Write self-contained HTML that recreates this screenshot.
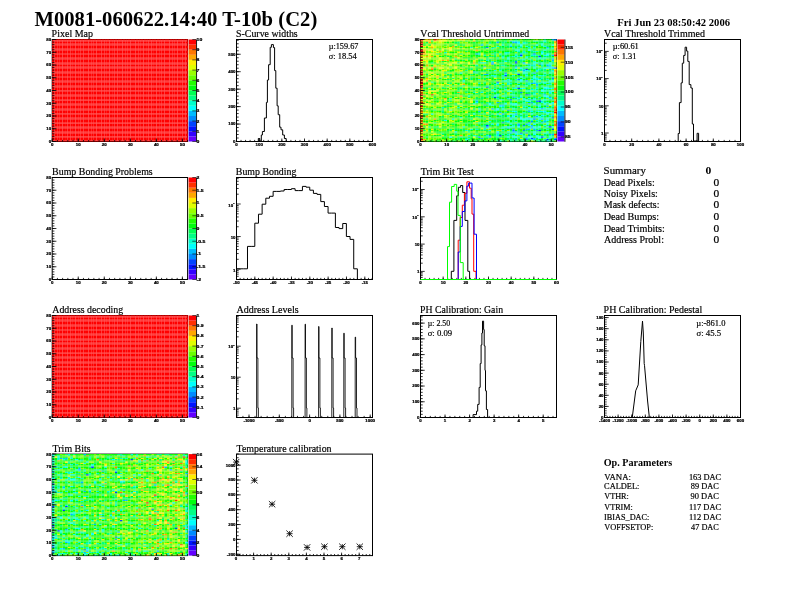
<!DOCTYPE html>
<html><head><meta charset="utf-8"><style>
html,body{margin:0;padding:0;background:#fff;width:792px;height:612px;overflow:hidden}
svg{position:absolute;left:0;top:0;will-change:transform;font-family:"Liberation Serif",serif}
</style></head><body>
<svg width="792" height="612" viewBox="0 0 792 612">
<text x="34.42" y="25.6" font-size="20.6" font-weight="bold" textLength="282.88" lengthAdjust="spacingAndGlyphs">M0081-060622.14:40 T-10b (C2)</text>
<text x="617.25" y="25.9" font-size="10.5" font-weight="bold" textLength="112.76" lengthAdjust="spacingAndGlyphs">Fri Jun 23 08:50:42 2006</text>
<rect x="52.2" y="39.5" width="135.4" height="102" fill="none" stroke="#000" stroke-width="1"/>
<text x="51.61" y="36.7" font-size="9.6" textLength="41.4" lengthAdjust="spacingAndGlyphs" stroke="#000" stroke-width="0.18">Pixel Map</text>
<rect x="236.5" y="39.5" width="136" height="102" fill="none" stroke="#000" stroke-width="1"/>
<text x="236.11" y="36.7" font-size="9.6" textLength="61.59" lengthAdjust="spacingAndGlyphs" stroke="#000" stroke-width="0.18">S-Curve widths</text>
<rect x="420.5" y="39.5" width="136" height="102" fill="none" stroke="#000" stroke-width="1"/>
<text x="420.3" y="36.7" font-size="9.6" textLength="108.95" lengthAdjust="spacingAndGlyphs" stroke="#000" stroke-width="0.18">Vcal Threshold Untrimmed</text>
<rect x="604.5" y="39.5" width="136" height="102" fill="none" stroke="#000" stroke-width="1"/>
<text x="604.01" y="36.7" font-size="9.6" textLength="100.89" lengthAdjust="spacingAndGlyphs" stroke="#000" stroke-width="0.18">Vcal Threshold Trimmed</text>
<rect x="52.2" y="177.5" width="135.4" height="102" fill="none" stroke="#000" stroke-width="1"/>
<text x="52.13" y="174.7" font-size="9.6" textLength="100.57" lengthAdjust="spacingAndGlyphs" stroke="#000" stroke-width="0.18">Bump Bonding Problems</text>
<rect x="236.5" y="177.5" width="136" height="102" fill="none" stroke="#000" stroke-width="1"/>
<text x="235.87" y="174.7" font-size="9.6" textLength="60.51" lengthAdjust="spacingAndGlyphs" stroke="#000" stroke-width="0.18">Bump Bonding</text>
<rect x="420.5" y="177.5" width="136" height="102" fill="none" stroke="#000" stroke-width="1"/>
<text x="420.65" y="174.7" font-size="9.6" textLength="53.02" lengthAdjust="spacingAndGlyphs" stroke="#000" stroke-width="0.18">Trim Bit Test</text>
<rect x="52.2" y="315.5" width="135.4" height="102" fill="none" stroke="#000" stroke-width="1"/>
<text x="52.29" y="312.7" font-size="9.6" textLength="70.89" lengthAdjust="spacingAndGlyphs" stroke="#000" stroke-width="0.18">Address decoding</text>
<rect x="236.5" y="315.5" width="136" height="102" fill="none" stroke="#000" stroke-width="1"/>
<text x="236.47" y="312.7" font-size="9.6" textLength="62.15" lengthAdjust="spacingAndGlyphs" stroke="#000" stroke-width="0.18">Address Levels</text>
<rect x="420.5" y="315.5" width="136" height="102" fill="none" stroke="#000" stroke-width="1"/>
<text x="420.12" y="312.7" font-size="9.6" textLength="82.94" lengthAdjust="spacingAndGlyphs" stroke="#000" stroke-width="0.18">PH Calibration: Gain</text>
<rect x="604.5" y="315.5" width="136" height="102" fill="none" stroke="#000" stroke-width="1"/>
<text x="603.61" y="312.7" font-size="9.6" textLength="98.59" lengthAdjust="spacingAndGlyphs" stroke="#000" stroke-width="0.18">PH Calibration: Pedestal</text>
<rect x="52.2" y="454.1" width="135.4" height="101.5" fill="none" stroke="#000" stroke-width="1"/>
<text x="52.61" y="451.5" font-size="9.6" textLength="37.96" lengthAdjust="spacingAndGlyphs" stroke="#000" stroke-width="0.18">Trim Bits</text>
<rect x="236.5" y="454.1" width="136" height="101.5" fill="none" stroke="#000" stroke-width="1"/>
<text x="236.53" y="451.5" font-size="9.6" textLength="95.07" lengthAdjust="spacingAndGlyphs" stroke="#000" stroke-width="0.18">Temperature calibration</text>
<g transform="translate(52 39.3) scale(2.61346 1.27750)"><path fill="#ff0000" d="M0 1h1v1h-1zM2 1h1v1h-1zM4 1h1v1h-1zM6 1h1v1h-1zM8 1h1v1h-1zM10 1h1v1h-1zM12 1h1v1h-1zM14 1h1v1h-1zM16 1h1v1h-1zM18 1h1v1h-1zM20 1h1v1h-1zM22 1h1v1h-1zM24 1h1v1h-1zM26 1h1v1h-1zM28 1h1v1h-1zM30 1h1v1h-1zM32 1h1v1h-1zM34 1h1v1h-1zM36 1h1v1h-1zM38 1h1v1h-1zM40 1h1v1h-1zM42 1h1v1h-1zM44 1h1v1h-1zM46 1h1v1h-1zM48 1h1v1h-1zM50 1h1v1h-1zM0 3h1v1h-1zM2 3h1v1h-1zM4 3h1v1h-1zM6 3h1v1h-1zM8 3h1v1h-1zM10 3h1v1h-1zM12 3h1v1h-1zM14 3h1v1h-1zM16 3h1v1h-1zM18 3h1v1h-1zM20 3h1v1h-1zM22 3h1v1h-1zM24 3h1v1h-1zM26 3h1v1h-1zM28 3h1v1h-1zM30 3h1v1h-1zM32 3h1v1h-1zM34 3h1v1h-1zM36 3h1v1h-1zM38 3h1v1h-1zM40 3h1v1h-1zM42 3h1v1h-1zM44 3h1v1h-1zM46 3h1v1h-1zM48 3h1v1h-1zM50 3h1v1h-1zM0 5h1v1h-1zM2 5h1v1h-1zM4 5h1v1h-1zM6 5h1v1h-1zM8 5h1v1h-1zM10 5h1v1h-1zM12 5h1v1h-1zM14 5h1v1h-1zM16 5h1v1h-1zM18 5h1v1h-1zM20 5h1v1h-1zM22 5h1v1h-1zM24 5h1v1h-1zM26 5h1v1h-1zM28 5h1v1h-1zM30 5h1v1h-1zM32 5h1v1h-1zM34 5h1v1h-1zM36 5h1v1h-1zM38 5h1v1h-1zM40 5h1v1h-1zM42 5h1v1h-1zM44 5h1v1h-1zM46 5h1v1h-1zM48 5h1v1h-1zM50 5h1v1h-1zM0 7h1v1h-1zM2 7h1v1h-1zM4 7h1v1h-1zM6 7h1v1h-1zM8 7h1v1h-1zM10 7h1v1h-1zM12 7h1v1h-1zM14 7h1v1h-1zM16 7h1v1h-1zM18 7h1v1h-1zM20 7h1v1h-1zM22 7h1v1h-1zM24 7h1v1h-1zM26 7h1v1h-1zM28 7h1v1h-1zM30 7h1v1h-1zM32 7h1v1h-1zM34 7h1v1h-1zM36 7h1v1h-1zM38 7h1v1h-1zM40 7h1v1h-1zM42 7h1v1h-1zM44 7h1v1h-1zM46 7h1v1h-1zM48 7h1v1h-1zM50 7h1v1h-1zM0 9h1v1h-1zM2 9h1v1h-1zM4 9h1v1h-1zM6 9h1v1h-1zM8 9h1v1h-1zM10 9h1v1h-1zM12 9h1v1h-1zM14 9h1v1h-1zM16 9h1v1h-1zM18 9h1v1h-1zM20 9h1v1h-1zM22 9h1v1h-1zM24 9h1v1h-1zM26 9h1v1h-1zM28 9h1v1h-1zM30 9h1v1h-1zM32 9h1v1h-1zM34 9h1v1h-1zM36 9h1v1h-1zM38 9h1v1h-1zM40 9h1v1h-1zM42 9h1v1h-1zM44 9h1v1h-1zM46 9h1v1h-1zM48 9h1v1h-1zM50 9h1v1h-1zM0 11h1v1h-1zM2 11h1v1h-1zM4 11h1v1h-1zM6 11h1v1h-1zM8 11h1v1h-1zM10 11h1v1h-1zM12 11h1v1h-1zM14 11h1v1h-1zM16 11h1v1h-1zM18 11h1v1h-1zM20 11h1v1h-1zM22 11h1v1h-1zM24 11h1v1h-1zM26 11h1v1h-1zM28 11h1v1h-1zM30 11h1v1h-1zM32 11h1v1h-1zM34 11h1v1h-1zM36 11h1v1h-1zM38 11h1v1h-1zM40 11h1v1h-1zM42 11h1v1h-1zM44 11h1v1h-1zM46 11h1v1h-1zM48 11h1v1h-1zM50 11h1v1h-1zM0 13h1v1h-1zM2 13h1v1h-1zM4 13h1v1h-1zM6 13h1v1h-1zM8 13h1v1h-1zM10 13h1v1h-1zM12 13h1v1h-1zM14 13h1v1h-1zM16 13h1v1h-1zM18 13h1v1h-1zM20 13h1v1h-1zM22 13h1v1h-1zM24 13h1v1h-1zM26 13h1v1h-1zM28 13h1v1h-1zM30 13h1v1h-1zM32 13h1v1h-1zM34 13h1v1h-1zM36 13h1v1h-1zM38 13h1v1h-1zM40 13h1v1h-1zM42 13h1v1h-1zM44 13h1v1h-1zM46 13h1v1h-1zM48 13h1v1h-1zM50 13h1v1h-1zM0 15h1v1h-1zM2 15h1v1h-1zM4 15h1v1h-1zM6 15h1v1h-1zM8 15h1v1h-1zM10 15h1v1h-1zM12 15h1v1h-1zM14 15h1v1h-1zM16 15h1v1h-1zM18 15h1v1h-1zM20 15h1v1h-1zM22 15h1v1h-1zM24 15h1v1h-1zM26 15h1v1h-1zM28 15h1v1h-1zM30 15h1v1h-1zM32 15h1v1h-1zM34 15h1v1h-1zM36 15h1v1h-1zM38 15h1v1h-1zM40 15h1v1h-1zM42 15h1v1h-1zM44 15h1v1h-1zM46 15h1v1h-1zM48 15h1v1h-1zM50 15h1v1h-1zM0 17h1v1h-1zM2 17h1v1h-1zM4 17h1v1h-1zM6 17h1v1h-1zM8 17h1v1h-1zM10 17h1v1h-1zM12 17h1v1h-1zM14 17h1v1h-1zM16 17h1v1h-1zM18 17h1v1h-1zM20 17h1v1h-1zM22 17h1v1h-1zM24 17h1v1h-1zM26 17h1v1h-1zM28 17h1v1h-1zM30 17h1v1h-1zM32 17h1v1h-1zM34 17h1v1h-1zM36 17h1v1h-1zM38 17h1v1h-1zM40 17h1v1h-1zM42 17h1v1h-1zM44 17h1v1h-1zM46 17h1v1h-1zM48 17h1v1h-1zM50 17h1v1h-1zM0 19h1v1h-1zM2 19h1v1h-1zM4 19h1v1h-1zM6 19h1v1h-1zM8 19h1v1h-1zM10 19h1v1h-1zM12 19h1v1h-1zM14 19h1v1h-1zM16 19h1v1h-1zM18 19h1v1h-1zM20 19h1v1h-1zM22 19h1v1h-1zM24 19h1v1h-1zM26 19h1v1h-1zM28 19h1v1h-1zM30 19h1v1h-1zM32 19h1v1h-1zM34 19h1v1h-1zM36 19h1v1h-1zM38 19h1v1h-1zM40 19h1v1h-1zM42 19h1v1h-1zM44 19h1v1h-1zM46 19h1v1h-1zM48 19h1v1h-1zM50 19h1v1h-1zM0 21h1v1h-1zM2 21h1v1h-1zM4 21h1v1h-1zM6 21h1v1h-1zM8 21h1v1h-1zM10 21h1v1h-1zM12 21h1v1h-1zM14 21h1v1h-1zM16 21h1v1h-1zM18 21h1v1h-1zM20 21h1v1h-1zM22 21h1v1h-1zM24 21h1v1h-1zM26 21h1v1h-1zM28 21h1v1h-1zM30 21h1v1h-1zM32 21h1v1h-1zM34 21h1v1h-1zM36 21h1v1h-1zM38 21h1v1h-1zM40 21h1v1h-1zM42 21h1v1h-1zM44 21h1v1h-1zM46 21h1v1h-1zM48 21h1v1h-1zM50 21h1v1h-1zM0 23h1v1h-1zM2 23h1v1h-1zM4 23h1v1h-1zM6 23h1v1h-1zM8 23h1v1h-1zM10 23h1v1h-1zM12 23h1v1h-1zM14 23h1v1h-1zM16 23h1v1h-1zM18 23h1v1h-1zM20 23h1v1h-1zM22 23h1v1h-1zM24 23h1v1h-1zM26 23h1v1h-1zM28 23h1v1h-1zM30 23h1v1h-1zM32 23h1v1h-1zM34 23h1v1h-1zM36 23h1v1h-1zM38 23h1v1h-1zM40 23h1v1h-1zM42 23h1v1h-1zM44 23h1v1h-1zM46 23h1v1h-1zM48 23h1v1h-1zM50 23h1v1h-1zM0 25h1v1h-1zM2 25h1v1h-1zM4 25h1v1h-1zM6 25h1v1h-1zM8 25h1v1h-1zM10 25h1v1h-1zM12 25h1v1h-1zM14 25h1v1h-1zM16 25h1v1h-1zM18 25h1v1h-1zM20 25h1v1h-1zM22 25h1v1h-1zM24 25h1v1h-1zM26 25h1v1h-1zM28 25h1v1h-1zM30 25h1v1h-1zM32 25h1v1h-1zM34 25h1v1h-1zM36 25h1v1h-1zM38 25h1v1h-1zM40 25h1v1h-1zM42 25h1v1h-1zM44 25h1v1h-1zM46 25h1v1h-1zM48 25h1v1h-1zM50 25h1v1h-1zM0 27h1v1h-1zM2 27h1v1h-1zM4 27h1v1h-1zM6 27h1v1h-1zM8 27h1v1h-1zM10 27h1v1h-1zM12 27h1v1h-1zM14 27h1v1h-1zM16 27h1v1h-1zM18 27h1v1h-1zM20 27h1v1h-1zM22 27h1v1h-1zM24 27h1v1h-1zM26 27h1v1h-1zM28 27h1v1h-1zM30 27h1v1h-1zM32 27h1v1h-1zM34 27h1v1h-1zM36 27h1v1h-1zM38 27h1v1h-1zM40 27h1v1h-1zM42 27h1v1h-1zM44 27h1v1h-1zM46 27h1v1h-1zM48 27h1v1h-1zM50 27h1v1h-1zM0 29h1v1h-1zM2 29h1v1h-1zM4 29h1v1h-1zM6 29h1v1h-1zM8 29h1v1h-1zM10 29h1v1h-1zM12 29h1v1h-1zM14 29h1v1h-1zM16 29h1v1h-1zM18 29h1v1h-1zM20 29h1v1h-1zM22 29h1v1h-1zM24 29h1v1h-1zM26 29h1v1h-1zM28 29h1v1h-1zM30 29h1v1h-1zM32 29h1v1h-1zM34 29h1v1h-1zM36 29h1v1h-1zM38 29h1v1h-1zM40 29h1v1h-1zM42 29h1v1h-1zM44 29h1v1h-1zM46 29h1v1h-1zM48 29h1v1h-1zM50 29h1v1h-1zM0 31h1v1h-1zM2 31h1v1h-1zM4 31h1v1h-1zM6 31h1v1h-1zM8 31h1v1h-1zM10 31h1v1h-1zM12 31h1v1h-1zM14 31h1v1h-1zM16 31h1v1h-1zM18 31h1v1h-1zM20 31h1v1h-1zM22 31h1v1h-1zM24 31h1v1h-1zM26 31h1v1h-1zM28 31h1v1h-1zM30 31h1v1h-1zM32 31h1v1h-1zM34 31h1v1h-1zM36 31h1v1h-1zM38 31h1v1h-1zM40 31h1v1h-1zM42 31h1v1h-1zM44 31h1v1h-1zM46 31h1v1h-1zM48 31h1v1h-1zM50 31h1v1h-1zM0 33h1v1h-1zM2 33h1v1h-1zM4 33h1v1h-1zM6 33h1v1h-1zM8 33h1v1h-1zM10 33h1v1h-1zM12 33h1v1h-1zM14 33h1v1h-1zM16 33h1v1h-1zM18 33h1v1h-1zM20 33h1v1h-1zM22 33h1v1h-1zM24 33h1v1h-1zM26 33h1v1h-1zM28 33h1v1h-1zM30 33h1v1h-1zM32 33h1v1h-1zM34 33h1v1h-1zM36 33h1v1h-1zM38 33h1v1h-1zM40 33h1v1h-1zM42 33h1v1h-1zM44 33h1v1h-1zM46 33h1v1h-1zM48 33h1v1h-1zM50 33h1v1h-1zM0 35h1v1h-1zM2 35h1v1h-1zM4 35h1v1h-1zM6 35h1v1h-1zM8 35h1v1h-1zM10 35h1v1h-1zM12 35h1v1h-1zM14 35h1v1h-1zM16 35h1v1h-1zM18 35h1v1h-1zM20 35h1v1h-1zM22 35h1v1h-1zM24 35h1v1h-1zM26 35h1v1h-1zM28 35h1v1h-1zM30 35h1v1h-1zM32 35h1v1h-1zM34 35h1v1h-1zM36 35h1v1h-1zM38 35h1v1h-1zM40 35h1v1h-1zM42 35h1v1h-1zM44 35h1v1h-1zM46 35h1v1h-1zM48 35h1v1h-1zM50 35h1v1h-1zM0 37h1v1h-1zM2 37h1v1h-1zM4 37h1v1h-1zM6 37h1v1h-1zM8 37h1v1h-1zM10 37h1v1h-1zM12 37h1v1h-1zM14 37h1v1h-1zM16 37h1v1h-1zM18 37h1v1h-1zM20 37h1v1h-1zM22 37h1v1h-1zM24 37h1v1h-1zM26 37h1v1h-1zM28 37h1v1h-1zM30 37h1v1h-1zM32 37h1v1h-1zM34 37h1v1h-1zM36 37h1v1h-1zM38 37h1v1h-1zM40 37h1v1h-1zM42 37h1v1h-1zM44 37h1v1h-1zM46 37h1v1h-1zM48 37h1v1h-1zM50 37h1v1h-1zM0 39h1v1h-1zM2 39h1v1h-1zM4 39h1v1h-1zM6 39h1v1h-1zM8 39h1v1h-1zM10 39h1v1h-1zM12 39h1v1h-1zM14 39h1v1h-1zM16 39h1v1h-1zM18 39h1v1h-1zM20 39h1v1h-1zM22 39h1v1h-1zM24 39h1v1h-1zM26 39h1v1h-1zM28 39h1v1h-1zM30 39h1v1h-1zM32 39h1v1h-1zM34 39h1v1h-1zM36 39h1v1h-1zM38 39h1v1h-1zM40 39h1v1h-1zM42 39h1v1h-1zM44 39h1v1h-1zM46 39h1v1h-1zM48 39h1v1h-1zM50 39h1v1h-1zM0 41h1v1h-1zM2 41h1v1h-1zM4 41h1v1h-1zM6 41h1v1h-1zM8 41h1v1h-1zM10 41h1v1h-1zM12 41h1v1h-1zM14 41h1v1h-1zM16 41h1v1h-1zM18 41h1v1h-1zM20 41h1v1h-1zM22 41h1v1h-1zM24 41h1v1h-1zM26 41h1v1h-1zM28 41h1v1h-1zM30 41h1v1h-1zM32 41h1v1h-1zM34 41h1v1h-1zM36 41h1v1h-1zM38 41h1v1h-1zM40 41h1v1h-1zM42 41h1v1h-1zM44 41h1v1h-1zM46 41h1v1h-1zM48 41h1v1h-1zM50 41h1v1h-1zM0 43h1v1h-1zM2 43h1v1h-1zM4 43h1v1h-1zM6 43h1v1h-1zM8 43h1v1h-1zM10 43h1v1h-1zM12 43h1v1h-1zM14 43h1v1h-1zM16 43h1v1h-1zM18 43h1v1h-1zM20 43h1v1h-1zM22 43h1v1h-1zM24 43h1v1h-1zM26 43h1v1h-1zM28 43h1v1h-1zM30 43h1v1h-1zM32 43h1v1h-1zM34 43h1v1h-1zM36 43h1v1h-1zM38 43h1v1h-1zM40 43h1v1h-1zM42 43h1v1h-1zM44 43h1v1h-1zM46 43h1v1h-1zM48 43h1v1h-1zM50 43h1v1h-1zM0 45h1v1h-1zM2 45h1v1h-1zM4 45h1v1h-1zM6 45h1v1h-1zM8 45h1v1h-1zM10 45h1v1h-1zM12 45h1v1h-1zM14 45h1v1h-1zM16 45h1v1h-1zM18 45h1v1h-1zM20 45h1v1h-1zM22 45h1v1h-1zM24 45h1v1h-1zM26 45h1v1h-1zM28 45h1v1h-1zM30 45h1v1h-1zM32 45h1v1h-1zM34 45h1v1h-1zM36 45h1v1h-1zM38 45h1v1h-1zM40 45h1v1h-1zM42 45h1v1h-1zM44 45h1v1h-1zM46 45h1v1h-1zM48 45h1v1h-1zM50 45h1v1h-1zM0 47h1v1h-1zM2 47h1v1h-1zM4 47h1v1h-1zM6 47h1v1h-1zM8 47h1v1h-1zM10 47h1v1h-1zM12 47h1v1h-1zM14 47h1v1h-1zM16 47h1v1h-1zM18 47h1v1h-1zM20 47h1v1h-1zM22 47h1v1h-1zM24 47h1v1h-1zM26 47h1v1h-1zM28 47h1v1h-1zM30 47h1v1h-1zM32 47h1v1h-1zM34 47h1v1h-1zM36 47h1v1h-1zM38 47h1v1h-1zM40 47h1v1h-1zM42 47h1v1h-1zM44 47h1v1h-1zM46 47h1v1h-1zM48 47h1v1h-1zM50 47h1v1h-1zM0 49h1v1h-1zM2 49h1v1h-1zM4 49h1v1h-1zM6 49h1v1h-1zM8 49h1v1h-1zM10 49h1v1h-1zM12 49h1v1h-1zM14 49h1v1h-1zM16 49h1v1h-1zM18 49h1v1h-1zM20 49h1v1h-1zM22 49h1v1h-1zM24 49h1v1h-1zM26 49h1v1h-1zM28 49h1v1h-1zM30 49h1v1h-1zM32 49h1v1h-1zM34 49h1v1h-1zM36 49h1v1h-1zM38 49h1v1h-1zM40 49h1v1h-1zM42 49h1v1h-1zM44 49h1v1h-1zM46 49h1v1h-1zM48 49h1v1h-1zM50 49h1v1h-1zM0 51h1v1h-1zM2 51h1v1h-1zM4 51h1v1h-1zM6 51h1v1h-1zM8 51h1v1h-1zM10 51h1v1h-1zM12 51h1v1h-1zM14 51h1v1h-1zM16 51h1v1h-1zM18 51h1v1h-1zM20 51h1v1h-1zM22 51h1v1h-1zM24 51h1v1h-1zM26 51h1v1h-1zM28 51h1v1h-1zM30 51h1v1h-1zM32 51h1v1h-1zM34 51h1v1h-1zM36 51h1v1h-1zM38 51h1v1h-1zM40 51h1v1h-1zM42 51h1v1h-1zM44 51h1v1h-1zM46 51h1v1h-1zM48 51h1v1h-1zM50 51h1v1h-1zM0 53h1v1h-1zM2 53h1v1h-1zM4 53h1v1h-1zM6 53h1v1h-1zM8 53h1v1h-1zM10 53h1v1h-1zM12 53h1v1h-1zM14 53h1v1h-1zM16 53h1v1h-1zM18 53h1v1h-1zM20 53h1v1h-1zM22 53h1v1h-1zM24 53h1v1h-1zM26 53h1v1h-1zM28 53h1v1h-1zM30 53h1v1h-1zM32 53h1v1h-1zM34 53h1v1h-1zM36 53h1v1h-1zM38 53h1v1h-1zM40 53h1v1h-1zM42 53h1v1h-1zM44 53h1v1h-1zM46 53h1v1h-1zM48 53h1v1h-1zM50 53h1v1h-1zM0 55h1v1h-1zM2 55h1v1h-1zM4 55h1v1h-1zM6 55h1v1h-1zM8 55h1v1h-1zM10 55h1v1h-1zM12 55h1v1h-1zM14 55h1v1h-1zM16 55h1v1h-1zM18 55h1v1h-1zM20 55h1v1h-1zM22 55h1v1h-1zM24 55h1v1h-1zM26 55h1v1h-1zM28 55h1v1h-1zM30 55h1v1h-1zM32 55h1v1h-1zM34 55h1v1h-1zM36 55h1v1h-1zM38 55h1v1h-1zM40 55h1v1h-1zM42 55h1v1h-1zM44 55h1v1h-1zM46 55h1v1h-1zM48 55h1v1h-1zM50 55h1v1h-1zM0 57h1v1h-1zM2 57h1v1h-1zM4 57h1v1h-1zM6 57h1v1h-1zM8 57h1v1h-1zM10 57h1v1h-1zM12 57h1v1h-1zM14 57h1v1h-1zM16 57h1v1h-1zM18 57h1v1h-1zM20 57h1v1h-1zM22 57h1v1h-1zM24 57h1v1h-1zM26 57h1v1h-1zM28 57h1v1h-1zM30 57h1v1h-1zM32 57h1v1h-1zM34 57h1v1h-1zM36 57h1v1h-1zM38 57h1v1h-1zM40 57h1v1h-1zM42 57h1v1h-1zM44 57h1v1h-1zM46 57h1v1h-1zM48 57h1v1h-1zM50 57h1v1h-1zM0 59h1v1h-1zM2 59h1v1h-1zM4 59h1v1h-1zM6 59h1v1h-1zM8 59h1v1h-1zM10 59h1v1h-1zM12 59h1v1h-1zM14 59h1v1h-1zM16 59h1v1h-1zM18 59h1v1h-1zM20 59h1v1h-1zM22 59h1v1h-1zM24 59h1v1h-1zM26 59h1v1h-1zM28 59h1v1h-1zM30 59h1v1h-1zM32 59h1v1h-1zM34 59h1v1h-1zM36 59h1v1h-1zM38 59h1v1h-1zM40 59h1v1h-1zM42 59h1v1h-1zM44 59h1v1h-1zM46 59h1v1h-1zM48 59h1v1h-1zM50 59h1v1h-1zM0 61h1v1h-1zM2 61h1v1h-1zM4 61h1v1h-1zM6 61h1v1h-1zM8 61h1v1h-1zM10 61h1v1h-1zM12 61h1v1h-1zM14 61h1v1h-1zM16 61h1v1h-1zM18 61h1v1h-1zM20 61h1v1h-1zM22 61h1v1h-1zM24 61h1v1h-1zM26 61h1v1h-1zM28 61h1v1h-1zM30 61h1v1h-1zM32 61h1v1h-1zM34 61h1v1h-1zM36 61h1v1h-1zM38 61h1v1h-1zM40 61h1v1h-1zM42 61h1v1h-1zM44 61h1v1h-1zM46 61h1v1h-1zM48 61h1v1h-1zM50 61h1v1h-1zM0 63h1v1h-1zM2 63h1v1h-1zM4 63h1v1h-1zM6 63h1v1h-1zM8 63h1v1h-1zM10 63h1v1h-1zM12 63h1v1h-1zM14 63h1v1h-1zM16 63h1v1h-1zM18 63h1v1h-1zM20 63h1v1h-1zM22 63h1v1h-1zM24 63h1v1h-1zM26 63h1v1h-1zM28 63h1v1h-1zM30 63h1v1h-1zM32 63h1v1h-1zM34 63h1v1h-1zM36 63h1v1h-1zM38 63h1v1h-1zM40 63h1v1h-1zM42 63h1v1h-1zM44 63h1v1h-1zM46 63h1v1h-1zM48 63h1v1h-1zM50 63h1v1h-1zM0 65h1v1h-1zM2 65h1v1h-1zM4 65h1v1h-1zM6 65h1v1h-1zM8 65h1v1h-1zM10 65h1v1h-1zM12 65h1v1h-1zM14 65h1v1h-1zM16 65h1v1h-1zM18 65h1v1h-1zM20 65h1v1h-1zM22 65h1v1h-1zM24 65h1v1h-1zM26 65h1v1h-1zM28 65h1v1h-1zM30 65h1v1h-1zM32 65h1v1h-1zM34 65h1v1h-1zM36 65h1v1h-1zM38 65h1v1h-1zM40 65h1v1h-1zM42 65h1v1h-1zM44 65h1v1h-1zM46 65h1v1h-1zM48 65h1v1h-1zM50 65h1v1h-1zM0 67h1v1h-1zM2 67h1v1h-1zM4 67h1v1h-1zM6 67h1v1h-1zM8 67h1v1h-1zM10 67h1v1h-1zM12 67h1v1h-1zM14 67h1v1h-1zM16 67h1v1h-1zM18 67h1v1h-1zM20 67h1v1h-1zM22 67h1v1h-1zM24 67h1v1h-1zM26 67h1v1h-1zM28 67h1v1h-1zM30 67h1v1h-1zM32 67h1v1h-1zM34 67h1v1h-1zM36 67h1v1h-1zM38 67h1v1h-1zM40 67h1v1h-1zM42 67h1v1h-1zM44 67h1v1h-1zM46 67h1v1h-1zM48 67h1v1h-1zM50 67h1v1h-1zM0 69h1v1h-1zM2 69h1v1h-1zM4 69h1v1h-1zM6 69h1v1h-1zM8 69h1v1h-1zM10 69h1v1h-1zM12 69h1v1h-1zM14 69h1v1h-1zM16 69h1v1h-1zM18 69h1v1h-1zM20 69h1v1h-1zM22 69h1v1h-1zM24 69h1v1h-1zM26 69h1v1h-1zM28 69h1v1h-1zM30 69h1v1h-1zM32 69h1v1h-1zM34 69h1v1h-1zM36 69h1v1h-1zM38 69h1v1h-1zM40 69h1v1h-1zM42 69h1v1h-1zM44 69h1v1h-1zM46 69h1v1h-1zM48 69h1v1h-1zM50 69h1v1h-1zM0 71h1v1h-1zM2 71h1v1h-1zM4 71h1v1h-1zM6 71h1v1h-1zM8 71h1v1h-1zM10 71h1v1h-1zM12 71h1v1h-1zM14 71h1v1h-1zM16 71h1v1h-1zM18 71h1v1h-1zM20 71h1v1h-1zM22 71h1v1h-1zM24 71h1v1h-1zM26 71h1v1h-1zM28 71h1v1h-1zM30 71h1v1h-1zM32 71h1v1h-1zM34 71h1v1h-1zM36 71h1v1h-1zM38 71h1v1h-1zM40 71h1v1h-1zM42 71h1v1h-1zM44 71h1v1h-1zM46 71h1v1h-1zM48 71h1v1h-1zM50 71h1v1h-1zM0 73h1v1h-1zM2 73h1v1h-1zM4 73h1v1h-1zM6 73h1v1h-1zM8 73h1v1h-1zM10 73h1v1h-1zM12 73h1v1h-1zM14 73h1v1h-1zM16 73h1v1h-1zM18 73h1v1h-1zM20 73h1v1h-1zM22 73h1v1h-1zM24 73h1v1h-1zM26 73h1v1h-1zM28 73h1v1h-1zM30 73h1v1h-1zM32 73h1v1h-1zM34 73h1v1h-1zM36 73h1v1h-1zM38 73h1v1h-1zM40 73h1v1h-1zM42 73h1v1h-1zM44 73h1v1h-1zM46 73h1v1h-1zM48 73h1v1h-1zM50 73h1v1h-1zM0 75h1v1h-1zM2 75h1v1h-1zM4 75h1v1h-1zM6 75h1v1h-1zM8 75h1v1h-1zM10 75h1v1h-1zM12 75h1v1h-1zM14 75h1v1h-1zM16 75h1v1h-1zM18 75h1v1h-1zM20 75h1v1h-1zM22 75h1v1h-1zM24 75h1v1h-1zM26 75h1v1h-1zM28 75h1v1h-1zM30 75h1v1h-1zM32 75h1v1h-1zM34 75h1v1h-1zM36 75h1v1h-1zM38 75h1v1h-1zM40 75h1v1h-1zM42 75h1v1h-1zM44 75h1v1h-1zM46 75h1v1h-1zM48 75h1v1h-1zM50 75h1v1h-1zM0 77h1v1h-1zM2 77h1v1h-1zM4 77h1v1h-1zM6 77h1v1h-1zM8 77h1v1h-1zM10 77h1v1h-1zM12 77h1v1h-1zM14 77h1v1h-1zM16 77h1v1h-1zM18 77h1v1h-1zM20 77h1v1h-1zM22 77h1v1h-1zM24 77h1v1h-1zM26 77h1v1h-1zM28 77h1v1h-1zM30 77h1v1h-1zM32 77h1v1h-1zM34 77h1v1h-1zM36 77h1v1h-1zM38 77h1v1h-1zM40 77h1v1h-1zM42 77h1v1h-1zM44 77h1v1h-1zM46 77h1v1h-1zM48 77h1v1h-1zM50 77h1v1h-1zM0 79h1v1h-1zM2 79h1v1h-1zM4 79h1v1h-1zM6 79h1v1h-1zM8 79h1v1h-1zM10 79h1v1h-1zM12 79h1v1h-1zM14 79h1v1h-1zM16 79h1v1h-1zM18 79h1v1h-1zM20 79h1v1h-1zM22 79h1v1h-1zM24 79h1v1h-1zM26 79h1v1h-1zM28 79h1v1h-1zM30 79h1v1h-1zM32 79h1v1h-1zM34 79h1v1h-1zM36 79h1v1h-1zM38 79h1v1h-1zM40 79h1v1h-1zM42 79h1v1h-1zM44 79h1v1h-1zM46 79h1v1h-1zM48 79h1v1h-1zM50 79h1v1h-1z"/><path fill="#ff0000" d="M0 0h1v1h-1zM2 0h1v1h-1zM4 0h1v1h-1zM6 0h1v1h-1zM8 0h1v1h-1zM10 0h1v1h-1zM12 0h1v1h-1zM14 0h1v1h-1zM16 0h1v1h-1zM18 0h1v1h-1zM20 0h1v1h-1zM22 0h1v1h-1zM24 0h1v1h-1zM26 0h1v1h-1zM28 0h1v1h-1zM30 0h1v1h-1zM32 0h1v1h-1zM34 0h1v1h-1zM36 0h1v1h-1zM38 0h1v1h-1zM40 0h1v1h-1zM42 0h1v1h-1zM44 0h1v1h-1zM46 0h1v1h-1zM48 0h1v1h-1zM50 0h1v1h-1zM0 2h1v1h-1zM2 2h1v1h-1zM4 2h1v1h-1zM6 2h1v1h-1zM8 2h1v1h-1zM10 2h1v1h-1zM12 2h1v1h-1zM14 2h1v1h-1zM16 2h1v1h-1zM18 2h1v1h-1zM20 2h1v1h-1zM22 2h1v1h-1zM24 2h1v1h-1zM26 2h1v1h-1zM28 2h1v1h-1zM30 2h1v1h-1zM32 2h1v1h-1zM34 2h1v1h-1zM36 2h1v1h-1zM38 2h1v1h-1zM40 2h1v1h-1zM42 2h1v1h-1zM44 2h1v1h-1zM46 2h1v1h-1zM48 2h1v1h-1zM50 2h1v1h-1zM0 4h1v1h-1zM2 4h1v1h-1zM4 4h1v1h-1zM6 4h1v1h-1zM8 4h1v1h-1zM10 4h1v1h-1zM12 4h1v1h-1zM14 4h1v1h-1zM16 4h1v1h-1zM18 4h1v1h-1zM20 4h1v1h-1zM22 4h1v1h-1zM24 4h1v1h-1zM26 4h1v1h-1zM28 4h1v1h-1zM30 4h1v1h-1zM32 4h1v1h-1zM34 4h1v1h-1zM36 4h1v1h-1zM38 4h1v1h-1zM40 4h1v1h-1zM42 4h1v1h-1zM44 4h1v1h-1zM46 4h1v1h-1zM48 4h1v1h-1zM50 4h1v1h-1zM0 6h1v1h-1zM2 6h1v1h-1zM4 6h1v1h-1zM6 6h1v1h-1zM8 6h1v1h-1zM10 6h1v1h-1zM12 6h1v1h-1zM14 6h1v1h-1zM16 6h1v1h-1zM18 6h1v1h-1zM20 6h1v1h-1zM22 6h1v1h-1zM24 6h1v1h-1zM26 6h1v1h-1zM28 6h1v1h-1zM30 6h1v1h-1zM32 6h1v1h-1zM34 6h1v1h-1zM36 6h1v1h-1zM38 6h1v1h-1zM40 6h1v1h-1zM42 6h1v1h-1zM44 6h1v1h-1zM46 6h1v1h-1zM48 6h1v1h-1zM50 6h1v1h-1zM0 8h1v1h-1zM2 8h1v1h-1zM4 8h1v1h-1zM6 8h1v1h-1zM8 8h1v1h-1zM10 8h1v1h-1zM12 8h1v1h-1zM14 8h1v1h-1zM16 8h1v1h-1zM18 8h1v1h-1zM20 8h1v1h-1zM22 8h1v1h-1zM24 8h1v1h-1zM26 8h1v1h-1zM28 8h1v1h-1zM30 8h1v1h-1zM32 8h1v1h-1zM34 8h1v1h-1zM36 8h1v1h-1zM38 8h1v1h-1zM40 8h1v1h-1zM42 8h1v1h-1zM44 8h1v1h-1zM46 8h1v1h-1zM48 8h1v1h-1zM50 8h1v1h-1zM0 10h1v1h-1zM2 10h1v1h-1zM4 10h1v1h-1zM6 10h1v1h-1zM8 10h1v1h-1zM10 10h1v1h-1zM12 10h1v1h-1zM14 10h1v1h-1zM16 10h1v1h-1zM18 10h1v1h-1zM20 10h1v1h-1zM22 10h1v1h-1zM24 10h1v1h-1zM26 10h1v1h-1zM28 10h1v1h-1zM30 10h1v1h-1zM32 10h1v1h-1zM34 10h1v1h-1zM36 10h1v1h-1zM38 10h1v1h-1zM40 10h1v1h-1zM42 10h1v1h-1zM44 10h1v1h-1zM46 10h1v1h-1zM48 10h1v1h-1zM50 10h1v1h-1zM0 12h1v1h-1zM2 12h1v1h-1zM4 12h1v1h-1zM6 12h1v1h-1zM8 12h1v1h-1zM10 12h1v1h-1zM12 12h1v1h-1zM14 12h1v1h-1zM16 12h1v1h-1zM18 12h1v1h-1zM20 12h1v1h-1zM22 12h1v1h-1zM24 12h1v1h-1zM26 12h1v1h-1zM28 12h1v1h-1zM30 12h1v1h-1zM32 12h1v1h-1zM34 12h1v1h-1zM36 12h1v1h-1zM38 12h1v1h-1zM40 12h1v1h-1zM42 12h1v1h-1zM44 12h1v1h-1zM46 12h1v1h-1zM48 12h1v1h-1zM50 12h1v1h-1zM0 14h1v1h-1zM2 14h1v1h-1zM4 14h1v1h-1zM6 14h1v1h-1zM8 14h1v1h-1zM10 14h1v1h-1zM12 14h1v1h-1zM14 14h1v1h-1zM16 14h1v1h-1zM18 14h1v1h-1zM20 14h1v1h-1zM22 14h1v1h-1zM24 14h1v1h-1zM26 14h1v1h-1zM28 14h1v1h-1zM30 14h1v1h-1zM32 14h1v1h-1zM34 14h1v1h-1zM36 14h1v1h-1zM38 14h1v1h-1zM40 14h1v1h-1zM42 14h1v1h-1zM44 14h1v1h-1zM46 14h1v1h-1zM48 14h1v1h-1zM50 14h1v1h-1zM0 16h1v1h-1zM2 16h1v1h-1zM4 16h1v1h-1zM6 16h1v1h-1zM8 16h1v1h-1zM10 16h1v1h-1zM12 16h1v1h-1zM14 16h1v1h-1zM16 16h1v1h-1zM18 16h1v1h-1zM20 16h1v1h-1zM22 16h1v1h-1zM24 16h1v1h-1zM26 16h1v1h-1zM28 16h1v1h-1zM30 16h1v1h-1zM32 16h1v1h-1zM34 16h1v1h-1zM36 16h1v1h-1zM38 16h1v1h-1zM40 16h1v1h-1zM42 16h1v1h-1zM44 16h1v1h-1zM46 16h1v1h-1zM48 16h1v1h-1zM50 16h1v1h-1zM0 18h1v1h-1zM2 18h1v1h-1zM4 18h1v1h-1zM6 18h1v1h-1zM8 18h1v1h-1zM10 18h1v1h-1zM12 18h1v1h-1zM14 18h1v1h-1zM16 18h1v1h-1zM18 18h1v1h-1zM20 18h1v1h-1zM22 18h1v1h-1zM24 18h1v1h-1zM26 18h1v1h-1zM28 18h1v1h-1zM30 18h1v1h-1zM32 18h1v1h-1zM34 18h1v1h-1zM36 18h1v1h-1zM38 18h1v1h-1zM40 18h1v1h-1zM42 18h1v1h-1zM44 18h1v1h-1zM46 18h1v1h-1zM48 18h1v1h-1zM50 18h1v1h-1zM0 20h1v1h-1zM2 20h1v1h-1zM4 20h1v1h-1zM6 20h1v1h-1zM8 20h1v1h-1zM10 20h1v1h-1zM12 20h1v1h-1zM14 20h1v1h-1zM16 20h1v1h-1zM18 20h1v1h-1zM20 20h1v1h-1zM22 20h1v1h-1zM24 20h1v1h-1zM26 20h1v1h-1zM28 20h1v1h-1zM30 20h1v1h-1zM32 20h1v1h-1zM34 20h1v1h-1zM36 20h1v1h-1zM38 20h1v1h-1zM40 20h1v1h-1zM42 20h1v1h-1zM44 20h1v1h-1zM46 20h1v1h-1zM48 20h1v1h-1zM50 20h1v1h-1zM0 22h1v1h-1zM2 22h1v1h-1zM4 22h1v1h-1zM6 22h1v1h-1zM8 22h1v1h-1zM10 22h1v1h-1zM12 22h1v1h-1zM14 22h1v1h-1zM16 22h1v1h-1zM18 22h1v1h-1zM20 22h1v1h-1zM22 22h1v1h-1zM24 22h1v1h-1zM26 22h1v1h-1zM28 22h1v1h-1zM30 22h1v1h-1zM32 22h1v1h-1zM34 22h1v1h-1zM36 22h1v1h-1zM38 22h1v1h-1zM40 22h1v1h-1zM42 22h1v1h-1zM44 22h1v1h-1zM46 22h1v1h-1zM48 22h1v1h-1zM50 22h1v1h-1zM0 24h1v1h-1zM2 24h1v1h-1zM4 24h1v1h-1zM6 24h1v1h-1zM8 24h1v1h-1zM10 24h1v1h-1zM12 24h1v1h-1zM14 24h1v1h-1zM16 24h1v1h-1zM18 24h1v1h-1zM20 24h1v1h-1zM22 24h1v1h-1zM24 24h1v1h-1zM26 24h1v1h-1zM28 24h1v1h-1zM30 24h1v1h-1zM32 24h1v1h-1zM34 24h1v1h-1zM36 24h1v1h-1zM38 24h1v1h-1zM40 24h1v1h-1zM42 24h1v1h-1zM44 24h1v1h-1zM46 24h1v1h-1zM48 24h1v1h-1zM50 24h1v1h-1zM0 26h1v1h-1zM2 26h1v1h-1zM4 26h1v1h-1zM6 26h1v1h-1zM8 26h1v1h-1zM10 26h1v1h-1zM12 26h1v1h-1zM14 26h1v1h-1zM16 26h1v1h-1zM18 26h1v1h-1zM20 26h1v1h-1zM22 26h1v1h-1zM24 26h1v1h-1zM26 26h1v1h-1zM28 26h1v1h-1zM30 26h1v1h-1zM32 26h1v1h-1zM34 26h1v1h-1zM36 26h1v1h-1zM38 26h1v1h-1zM40 26h1v1h-1zM42 26h1v1h-1zM44 26h1v1h-1zM46 26h1v1h-1zM48 26h1v1h-1zM50 26h1v1h-1zM0 28h1v1h-1zM2 28h1v1h-1zM4 28h1v1h-1zM6 28h1v1h-1zM8 28h1v1h-1zM10 28h1v1h-1zM12 28h1v1h-1zM14 28h1v1h-1zM16 28h1v1h-1zM18 28h1v1h-1zM20 28h1v1h-1zM22 28h1v1h-1zM24 28h1v1h-1zM26 28h1v1h-1zM28 28h1v1h-1zM30 28h1v1h-1zM32 28h1v1h-1zM34 28h1v1h-1zM36 28h1v1h-1zM38 28h1v1h-1zM40 28h1v1h-1zM42 28h1v1h-1zM44 28h1v1h-1zM46 28h1v1h-1zM48 28h1v1h-1zM50 28h1v1h-1zM0 30h1v1h-1zM2 30h1v1h-1zM4 30h1v1h-1zM6 30h1v1h-1zM8 30h1v1h-1zM10 30h1v1h-1zM12 30h1v1h-1zM14 30h1v1h-1zM16 30h1v1h-1zM18 30h1v1h-1zM20 30h1v1h-1zM22 30h1v1h-1zM24 30h1v1h-1zM26 30h1v1h-1zM28 30h1v1h-1zM30 30h1v1h-1zM32 30h1v1h-1zM34 30h1v1h-1zM36 30h1v1h-1zM38 30h1v1h-1zM40 30h1v1h-1zM42 30h1v1h-1zM44 30h1v1h-1zM46 30h1v1h-1zM48 30h1v1h-1zM50 30h1v1h-1zM0 32h1v1h-1zM2 32h1v1h-1zM4 32h1v1h-1zM6 32h1v1h-1zM8 32h1v1h-1zM10 32h1v1h-1zM12 32h1v1h-1zM14 32h1v1h-1zM16 32h1v1h-1zM18 32h1v1h-1zM20 32h1v1h-1zM22 32h1v1h-1zM24 32h1v1h-1zM26 32h1v1h-1zM28 32h1v1h-1zM30 32h1v1h-1zM32 32h1v1h-1zM34 32h1v1h-1zM36 32h1v1h-1zM38 32h1v1h-1zM40 32h1v1h-1zM42 32h1v1h-1zM44 32h1v1h-1zM46 32h1v1h-1zM48 32h1v1h-1zM50 32h1v1h-1zM0 34h1v1h-1zM2 34h1v1h-1zM4 34h1v1h-1zM6 34h1v1h-1zM8 34h1v1h-1zM10 34h1v1h-1zM12 34h1v1h-1zM14 34h1v1h-1zM16 34h1v1h-1zM18 34h1v1h-1zM20 34h1v1h-1zM22 34h1v1h-1zM24 34h1v1h-1zM26 34h1v1h-1zM28 34h1v1h-1zM30 34h1v1h-1zM32 34h1v1h-1zM34 34h1v1h-1zM36 34h1v1h-1zM38 34h1v1h-1zM40 34h1v1h-1zM42 34h1v1h-1zM44 34h1v1h-1zM46 34h1v1h-1zM48 34h1v1h-1zM50 34h1v1h-1zM0 36h1v1h-1zM2 36h1v1h-1zM4 36h1v1h-1zM6 36h1v1h-1zM8 36h1v1h-1zM10 36h1v1h-1zM12 36h1v1h-1zM14 36h1v1h-1zM16 36h1v1h-1zM18 36h1v1h-1zM20 36h1v1h-1zM22 36h1v1h-1zM24 36h1v1h-1zM26 36h1v1h-1zM28 36h1v1h-1zM30 36h1v1h-1zM32 36h1v1h-1zM34 36h1v1h-1zM36 36h1v1h-1zM38 36h1v1h-1zM40 36h1v1h-1zM42 36h1v1h-1zM44 36h1v1h-1zM46 36h1v1h-1zM48 36h1v1h-1zM50 36h1v1h-1zM0 38h1v1h-1zM2 38h1v1h-1zM4 38h1v1h-1zM6 38h1v1h-1zM8 38h1v1h-1zM10 38h1v1h-1zM12 38h1v1h-1zM14 38h1v1h-1zM16 38h1v1h-1zM18 38h1v1h-1zM20 38h1v1h-1zM22 38h1v1h-1zM24 38h1v1h-1zM26 38h1v1h-1zM28 38h1v1h-1zM30 38h1v1h-1zM32 38h1v1h-1zM34 38h1v1h-1zM36 38h1v1h-1zM38 38h1v1h-1zM40 38h1v1h-1zM42 38h1v1h-1zM44 38h1v1h-1zM46 38h1v1h-1zM48 38h1v1h-1zM50 38h1v1h-1zM0 40h1v1h-1zM2 40h1v1h-1zM4 40h1v1h-1zM6 40h1v1h-1zM8 40h1v1h-1zM10 40h1v1h-1zM12 40h1v1h-1zM14 40h1v1h-1zM16 40h1v1h-1zM18 40h1v1h-1zM20 40h1v1h-1zM22 40h1v1h-1zM24 40h1v1h-1zM26 40h1v1h-1zM28 40h1v1h-1zM30 40h1v1h-1zM32 40h1v1h-1zM34 40h1v1h-1zM36 40h1v1h-1zM38 40h1v1h-1zM40 40h1v1h-1zM42 40h1v1h-1zM44 40h1v1h-1zM46 40h1v1h-1zM48 40h1v1h-1zM50 40h1v1h-1zM0 42h1v1h-1zM2 42h1v1h-1zM4 42h1v1h-1zM6 42h1v1h-1zM8 42h1v1h-1zM10 42h1v1h-1zM12 42h1v1h-1zM14 42h1v1h-1zM16 42h1v1h-1zM18 42h1v1h-1zM20 42h1v1h-1zM22 42h1v1h-1zM24 42h1v1h-1zM26 42h1v1h-1zM28 42h1v1h-1zM30 42h1v1h-1zM32 42h1v1h-1zM34 42h1v1h-1zM36 42h1v1h-1zM38 42h1v1h-1zM40 42h1v1h-1zM42 42h1v1h-1zM44 42h1v1h-1zM46 42h1v1h-1zM48 42h1v1h-1zM50 42h1v1h-1zM0 44h1v1h-1zM2 44h1v1h-1zM4 44h1v1h-1zM6 44h1v1h-1zM8 44h1v1h-1zM10 44h1v1h-1zM12 44h1v1h-1zM14 44h1v1h-1zM16 44h1v1h-1zM18 44h1v1h-1zM20 44h1v1h-1zM22 44h1v1h-1zM24 44h1v1h-1zM26 44h1v1h-1zM28 44h1v1h-1zM30 44h1v1h-1zM32 44h1v1h-1zM34 44h1v1h-1zM36 44h1v1h-1zM38 44h1v1h-1zM40 44h1v1h-1zM42 44h1v1h-1zM44 44h1v1h-1zM46 44h1v1h-1zM48 44h1v1h-1zM50 44h1v1h-1zM0 46h1v1h-1zM2 46h1v1h-1zM4 46h1v1h-1zM6 46h1v1h-1zM8 46h1v1h-1zM10 46h1v1h-1zM12 46h1v1h-1zM14 46h1v1h-1zM16 46h1v1h-1zM18 46h1v1h-1zM20 46h1v1h-1zM22 46h1v1h-1zM24 46h1v1h-1zM26 46h1v1h-1zM28 46h1v1h-1zM30 46h1v1h-1zM32 46h1v1h-1zM34 46h1v1h-1zM36 46h1v1h-1zM38 46h1v1h-1zM40 46h1v1h-1zM42 46h1v1h-1zM44 46h1v1h-1zM46 46h1v1h-1zM48 46h1v1h-1zM50 46h1v1h-1zM0 48h1v1h-1zM2 48h1v1h-1zM4 48h1v1h-1zM6 48h1v1h-1zM8 48h1v1h-1zM10 48h1v1h-1zM12 48h1v1h-1zM14 48h1v1h-1zM16 48h1v1h-1zM18 48h1v1h-1zM20 48h1v1h-1zM22 48h1v1h-1zM24 48h1v1h-1zM26 48h1v1h-1zM28 48h1v1h-1zM30 48h1v1h-1zM32 48h1v1h-1zM34 48h1v1h-1zM36 48h1v1h-1zM38 48h1v1h-1zM40 48h1v1h-1zM42 48h1v1h-1zM44 48h1v1h-1zM46 48h1v1h-1zM48 48h1v1h-1zM50 48h1v1h-1zM0 50h1v1h-1zM2 50h1v1h-1zM4 50h1v1h-1zM6 50h1v1h-1zM8 50h1v1h-1zM10 50h1v1h-1zM12 50h1v1h-1zM14 50h1v1h-1zM16 50h1v1h-1zM18 50h1v1h-1zM20 50h1v1h-1zM22 50h1v1h-1zM24 50h1v1h-1zM26 50h1v1h-1zM28 50h1v1h-1zM30 50h1v1h-1zM32 50h1v1h-1zM34 50h1v1h-1zM36 50h1v1h-1zM38 50h1v1h-1zM40 50h1v1h-1zM42 50h1v1h-1zM44 50h1v1h-1zM46 50h1v1h-1zM48 50h1v1h-1zM50 50h1v1h-1zM0 52h1v1h-1zM2 52h1v1h-1zM4 52h1v1h-1zM6 52h1v1h-1zM8 52h1v1h-1zM10 52h1v1h-1zM12 52h1v1h-1zM14 52h1v1h-1zM16 52h1v1h-1zM18 52h1v1h-1zM20 52h1v1h-1zM22 52h1v1h-1zM24 52h1v1h-1zM26 52h1v1h-1zM28 52h1v1h-1zM30 52h1v1h-1zM32 52h1v1h-1zM34 52h1v1h-1zM36 52h1v1h-1zM38 52h1v1h-1zM40 52h1v1h-1zM42 52h1v1h-1zM44 52h1v1h-1zM46 52h1v1h-1zM48 52h1v1h-1zM50 52h1v1h-1zM0 54h1v1h-1zM2 54h1v1h-1zM4 54h1v1h-1zM6 54h1v1h-1zM8 54h1v1h-1zM10 54h1v1h-1zM12 54h1v1h-1zM14 54h1v1h-1zM16 54h1v1h-1zM18 54h1v1h-1zM20 54h1v1h-1zM22 54h1v1h-1zM24 54h1v1h-1zM26 54h1v1h-1zM28 54h1v1h-1zM30 54h1v1h-1zM32 54h1v1h-1zM34 54h1v1h-1zM36 54h1v1h-1zM38 54h1v1h-1zM40 54h1v1h-1zM42 54h1v1h-1zM44 54h1v1h-1zM46 54h1v1h-1zM48 54h1v1h-1zM50 54h1v1h-1zM0 56h1v1h-1zM2 56h1v1h-1zM4 56h1v1h-1zM6 56h1v1h-1zM8 56h1v1h-1zM10 56h1v1h-1zM12 56h1v1h-1zM14 56h1v1h-1zM16 56h1v1h-1zM18 56h1v1h-1zM20 56h1v1h-1zM22 56h1v1h-1zM24 56h1v1h-1zM26 56h1v1h-1zM28 56h1v1h-1zM30 56h1v1h-1zM32 56h1v1h-1zM34 56h1v1h-1zM36 56h1v1h-1zM38 56h1v1h-1zM40 56h1v1h-1zM42 56h1v1h-1zM44 56h1v1h-1zM46 56h1v1h-1zM48 56h1v1h-1zM50 56h1v1h-1zM0 58h1v1h-1zM2 58h1v1h-1zM4 58h1v1h-1zM6 58h1v1h-1zM8 58h1v1h-1zM10 58h1v1h-1zM12 58h1v1h-1zM14 58h1v1h-1zM16 58h1v1h-1zM18 58h1v1h-1zM20 58h1v1h-1zM22 58h1v1h-1zM24 58h1v1h-1zM26 58h1v1h-1zM28 58h1v1h-1zM30 58h1v1h-1zM32 58h1v1h-1zM34 58h1v1h-1zM36 58h1v1h-1zM38 58h1v1h-1zM40 58h1v1h-1zM42 58h1v1h-1zM44 58h1v1h-1zM46 58h1v1h-1zM48 58h1v1h-1zM50 58h1v1h-1zM0 60h1v1h-1zM2 60h1v1h-1zM4 60h1v1h-1zM6 60h1v1h-1zM8 60h1v1h-1zM10 60h1v1h-1zM12 60h1v1h-1zM14 60h1v1h-1zM16 60h1v1h-1zM18 60h1v1h-1zM20 60h1v1h-1zM22 60h1v1h-1zM24 60h1v1h-1zM26 60h1v1h-1zM28 60h1v1h-1zM30 60h1v1h-1zM32 60h1v1h-1zM34 60h1v1h-1zM36 60h1v1h-1zM38 60h1v1h-1zM40 60h1v1h-1zM42 60h1v1h-1zM44 60h1v1h-1zM46 60h1v1h-1zM48 60h1v1h-1zM50 60h1v1h-1zM0 62h1v1h-1zM2 62h1v1h-1zM4 62h1v1h-1zM6 62h1v1h-1zM8 62h1v1h-1zM10 62h1v1h-1zM12 62h1v1h-1zM14 62h1v1h-1zM16 62h1v1h-1zM18 62h1v1h-1zM20 62h1v1h-1zM22 62h1v1h-1zM24 62h1v1h-1zM26 62h1v1h-1zM28 62h1v1h-1zM30 62h1v1h-1zM32 62h1v1h-1zM34 62h1v1h-1zM36 62h1v1h-1zM38 62h1v1h-1zM40 62h1v1h-1zM42 62h1v1h-1zM44 62h1v1h-1zM46 62h1v1h-1zM48 62h1v1h-1zM50 62h1v1h-1zM0 64h1v1h-1zM2 64h1v1h-1zM4 64h1v1h-1zM6 64h1v1h-1zM8 64h1v1h-1zM10 64h1v1h-1zM12 64h1v1h-1zM14 64h1v1h-1zM16 64h1v1h-1zM18 64h1v1h-1zM20 64h1v1h-1zM22 64h1v1h-1zM24 64h1v1h-1zM26 64h1v1h-1zM28 64h1v1h-1zM30 64h1v1h-1zM32 64h1v1h-1zM34 64h1v1h-1zM36 64h1v1h-1zM38 64h1v1h-1zM40 64h1v1h-1zM42 64h1v1h-1zM44 64h1v1h-1zM46 64h1v1h-1zM48 64h1v1h-1zM50 64h1v1h-1zM0 66h1v1h-1zM2 66h1v1h-1zM4 66h1v1h-1zM6 66h1v1h-1zM8 66h1v1h-1zM10 66h1v1h-1zM12 66h1v1h-1zM14 66h1v1h-1zM16 66h1v1h-1zM18 66h1v1h-1zM20 66h1v1h-1zM22 66h1v1h-1zM24 66h1v1h-1zM26 66h1v1h-1zM28 66h1v1h-1zM30 66h1v1h-1zM32 66h1v1h-1zM34 66h1v1h-1zM36 66h1v1h-1zM38 66h1v1h-1zM40 66h1v1h-1zM42 66h1v1h-1zM44 66h1v1h-1zM46 66h1v1h-1zM48 66h1v1h-1zM50 66h1v1h-1zM0 68h1v1h-1zM2 68h1v1h-1zM4 68h1v1h-1zM6 68h1v1h-1zM8 68h1v1h-1zM10 68h1v1h-1zM12 68h1v1h-1zM14 68h1v1h-1zM16 68h1v1h-1zM18 68h1v1h-1zM20 68h1v1h-1zM22 68h1v1h-1zM24 68h1v1h-1zM26 68h1v1h-1zM28 68h1v1h-1zM30 68h1v1h-1zM32 68h1v1h-1zM34 68h1v1h-1zM36 68h1v1h-1zM38 68h1v1h-1zM40 68h1v1h-1zM42 68h1v1h-1zM44 68h1v1h-1zM46 68h1v1h-1zM48 68h1v1h-1zM50 68h1v1h-1zM0 70h1v1h-1zM2 70h1v1h-1zM4 70h1v1h-1zM6 70h1v1h-1zM8 70h1v1h-1zM10 70h1v1h-1zM12 70h1v1h-1zM14 70h1v1h-1zM16 70h1v1h-1zM18 70h1v1h-1zM20 70h1v1h-1zM22 70h1v1h-1zM24 70h1v1h-1zM26 70h1v1h-1zM28 70h1v1h-1zM30 70h1v1h-1zM32 70h1v1h-1zM34 70h1v1h-1zM36 70h1v1h-1zM38 70h1v1h-1zM40 70h1v1h-1zM42 70h1v1h-1zM44 70h1v1h-1zM46 70h1v1h-1zM48 70h1v1h-1zM50 70h1v1h-1zM0 72h1v1h-1zM2 72h1v1h-1zM4 72h1v1h-1zM6 72h1v1h-1zM8 72h1v1h-1zM10 72h1v1h-1zM12 72h1v1h-1zM14 72h1v1h-1zM16 72h1v1h-1zM18 72h1v1h-1zM20 72h1v1h-1zM22 72h1v1h-1zM24 72h1v1h-1zM26 72h1v1h-1zM28 72h1v1h-1zM30 72h1v1h-1zM32 72h1v1h-1zM34 72h1v1h-1zM36 72h1v1h-1zM38 72h1v1h-1zM40 72h1v1h-1zM42 72h1v1h-1zM44 72h1v1h-1zM46 72h1v1h-1zM48 72h1v1h-1zM50 72h1v1h-1zM0 74h1v1h-1zM2 74h1v1h-1zM4 74h1v1h-1zM6 74h1v1h-1zM8 74h1v1h-1zM10 74h1v1h-1zM12 74h1v1h-1zM14 74h1v1h-1zM16 74h1v1h-1zM18 74h1v1h-1zM20 74h1v1h-1zM22 74h1v1h-1zM24 74h1v1h-1zM26 74h1v1h-1zM28 74h1v1h-1zM30 74h1v1h-1zM32 74h1v1h-1zM34 74h1v1h-1zM36 74h1v1h-1zM38 74h1v1h-1zM40 74h1v1h-1zM42 74h1v1h-1zM44 74h1v1h-1zM46 74h1v1h-1zM48 74h1v1h-1zM50 74h1v1h-1zM0 76h1v1h-1zM2 76h1v1h-1zM4 76h1v1h-1zM6 76h1v1h-1zM8 76h1v1h-1zM10 76h1v1h-1zM12 76h1v1h-1zM14 76h1v1h-1zM16 76h1v1h-1zM18 76h1v1h-1zM20 76h1v1h-1zM22 76h1v1h-1zM24 76h1v1h-1zM26 76h1v1h-1zM28 76h1v1h-1zM30 76h1v1h-1zM32 76h1v1h-1zM34 76h1v1h-1zM36 76h1v1h-1zM38 76h1v1h-1zM40 76h1v1h-1zM42 76h1v1h-1zM44 76h1v1h-1zM46 76h1v1h-1zM48 76h1v1h-1zM50 76h1v1h-1zM0 78h1v1h-1zM2 78h1v1h-1zM4 78h1v1h-1zM6 78h1v1h-1zM8 78h1v1h-1zM10 78h1v1h-1zM12 78h1v1h-1zM14 78h1v1h-1zM16 78h1v1h-1zM18 78h1v1h-1zM20 78h1v1h-1zM22 78h1v1h-1zM24 78h1v1h-1zM26 78h1v1h-1zM28 78h1v1h-1zM30 78h1v1h-1zM32 78h1v1h-1zM34 78h1v1h-1zM36 78h1v1h-1zM38 78h1v1h-1zM40 78h1v1h-1zM42 78h1v1h-1zM44 78h1v1h-1zM46 78h1v1h-1zM48 78h1v1h-1zM50 78h1v1h-1z"/><path fill="#ff0000" d="M1 1h1v1h-1zM3 1h1v1h-1zM5 1h1v1h-1zM7 1h1v1h-1zM9 1h1v1h-1zM11 1h1v1h-1zM13 1h1v1h-1zM15 1h1v1h-1zM17 1h1v1h-1zM19 1h1v1h-1zM21 1h1v1h-1zM23 1h1v1h-1zM25 1h1v1h-1zM27 1h1v1h-1zM29 1h1v1h-1zM31 1h1v1h-1zM33 1h1v1h-1zM35 1h1v1h-1zM37 1h1v1h-1zM39 1h1v1h-1zM41 1h1v1h-1zM43 1h1v1h-1zM45 1h1v1h-1zM47 1h1v1h-1zM49 1h1v1h-1zM51 1h1v1h-1zM1 3h1v1h-1zM3 3h1v1h-1zM5 3h1v1h-1zM7 3h1v1h-1zM9 3h1v1h-1zM11 3h1v1h-1zM13 3h1v1h-1zM15 3h1v1h-1zM17 3h1v1h-1zM19 3h1v1h-1zM21 3h1v1h-1zM23 3h1v1h-1zM25 3h1v1h-1zM27 3h1v1h-1zM29 3h1v1h-1zM31 3h1v1h-1zM33 3h1v1h-1zM35 3h1v1h-1zM37 3h1v1h-1zM39 3h1v1h-1zM41 3h1v1h-1zM43 3h1v1h-1zM45 3h1v1h-1zM47 3h1v1h-1zM49 3h1v1h-1zM51 3h1v1h-1zM1 5h1v1h-1zM3 5h1v1h-1zM5 5h1v1h-1zM7 5h1v1h-1zM9 5h1v1h-1zM11 5h1v1h-1zM13 5h1v1h-1zM15 5h1v1h-1zM17 5h1v1h-1zM19 5h1v1h-1zM21 5h1v1h-1zM23 5h1v1h-1zM25 5h1v1h-1zM27 5h1v1h-1zM29 5h1v1h-1zM31 5h1v1h-1zM33 5h1v1h-1zM35 5h1v1h-1zM37 5h1v1h-1zM39 5h1v1h-1zM41 5h1v1h-1zM43 5h1v1h-1zM45 5h1v1h-1zM47 5h1v1h-1zM49 5h1v1h-1zM51 5h1v1h-1zM1 7h1v1h-1zM3 7h1v1h-1zM5 7h1v1h-1zM7 7h1v1h-1zM9 7h1v1h-1zM11 7h1v1h-1zM13 7h1v1h-1zM15 7h1v1h-1zM17 7h1v1h-1zM19 7h1v1h-1zM21 7h1v1h-1zM23 7h1v1h-1zM25 7h1v1h-1zM27 7h1v1h-1zM29 7h1v1h-1zM31 7h1v1h-1zM33 7h1v1h-1zM35 7h1v1h-1zM37 7h1v1h-1zM39 7h1v1h-1zM41 7h1v1h-1zM43 7h1v1h-1zM45 7h1v1h-1zM47 7h1v1h-1zM49 7h1v1h-1zM51 7h1v1h-1zM1 9h1v1h-1zM3 9h1v1h-1zM5 9h1v1h-1zM7 9h1v1h-1zM9 9h1v1h-1zM11 9h1v1h-1zM13 9h1v1h-1zM15 9h1v1h-1zM17 9h1v1h-1zM19 9h1v1h-1zM21 9h1v1h-1zM23 9h1v1h-1zM25 9h1v1h-1zM27 9h1v1h-1zM29 9h1v1h-1zM31 9h1v1h-1zM33 9h1v1h-1zM35 9h1v1h-1zM37 9h1v1h-1zM39 9h1v1h-1zM41 9h1v1h-1zM43 9h1v1h-1zM45 9h1v1h-1zM47 9h1v1h-1zM49 9h1v1h-1zM51 9h1v1h-1zM1 11h1v1h-1zM3 11h1v1h-1zM5 11h1v1h-1zM7 11h1v1h-1zM9 11h1v1h-1zM11 11h1v1h-1zM13 11h1v1h-1zM15 11h1v1h-1zM17 11h1v1h-1zM19 11h1v1h-1zM21 11h1v1h-1zM23 11h1v1h-1zM25 11h1v1h-1zM27 11h1v1h-1zM29 11h1v1h-1zM31 11h1v1h-1zM33 11h1v1h-1zM35 11h1v1h-1zM37 11h1v1h-1zM39 11h1v1h-1zM41 11h1v1h-1zM43 11h1v1h-1zM45 11h1v1h-1zM47 11h1v1h-1zM49 11h1v1h-1zM51 11h1v1h-1zM1 13h1v1h-1zM3 13h1v1h-1zM5 13h1v1h-1zM7 13h1v1h-1zM9 13h1v1h-1zM11 13h1v1h-1zM13 13h1v1h-1zM15 13h1v1h-1zM17 13h1v1h-1zM19 13h1v1h-1zM21 13h1v1h-1zM23 13h1v1h-1zM25 13h1v1h-1zM27 13h1v1h-1zM29 13h1v1h-1zM31 13h1v1h-1zM33 13h1v1h-1zM35 13h1v1h-1zM37 13h1v1h-1zM39 13h1v1h-1zM41 13h1v1h-1zM43 13h1v1h-1zM45 13h1v1h-1zM47 13h1v1h-1zM49 13h1v1h-1zM51 13h1v1h-1zM1 15h1v1h-1zM3 15h1v1h-1zM5 15h1v1h-1zM7 15h1v1h-1zM9 15h1v1h-1zM11 15h1v1h-1zM13 15h1v1h-1zM15 15h1v1h-1zM17 15h1v1h-1zM19 15h1v1h-1zM21 15h1v1h-1zM23 15h1v1h-1zM25 15h1v1h-1zM27 15h1v1h-1zM29 15h1v1h-1zM31 15h1v1h-1zM33 15h1v1h-1zM35 15h1v1h-1zM37 15h1v1h-1zM39 15h1v1h-1zM41 15h1v1h-1zM43 15h1v1h-1zM45 15h1v1h-1zM47 15h1v1h-1zM49 15h1v1h-1zM51 15h1v1h-1zM1 17h1v1h-1zM3 17h1v1h-1zM5 17h1v1h-1zM7 17h1v1h-1zM9 17h1v1h-1zM11 17h1v1h-1zM13 17h1v1h-1zM15 17h1v1h-1zM17 17h1v1h-1zM19 17h1v1h-1zM21 17h1v1h-1zM23 17h1v1h-1zM25 17h1v1h-1zM27 17h1v1h-1zM29 17h1v1h-1zM31 17h1v1h-1zM33 17h1v1h-1zM35 17h1v1h-1zM37 17h1v1h-1zM39 17h1v1h-1zM41 17h1v1h-1zM43 17h1v1h-1zM45 17h1v1h-1zM47 17h1v1h-1zM49 17h1v1h-1zM51 17h1v1h-1zM1 19h1v1h-1zM3 19h1v1h-1zM5 19h1v1h-1zM7 19h1v1h-1zM9 19h1v1h-1zM11 19h1v1h-1zM13 19h1v1h-1zM15 19h1v1h-1zM17 19h1v1h-1zM19 19h1v1h-1zM21 19h1v1h-1zM23 19h1v1h-1zM25 19h1v1h-1zM27 19h1v1h-1zM29 19h1v1h-1zM31 19h1v1h-1zM33 19h1v1h-1zM35 19h1v1h-1zM37 19h1v1h-1zM39 19h1v1h-1zM41 19h1v1h-1zM43 19h1v1h-1zM45 19h1v1h-1zM47 19h1v1h-1zM49 19h1v1h-1zM51 19h1v1h-1zM1 21h1v1h-1zM3 21h1v1h-1zM5 21h1v1h-1zM7 21h1v1h-1zM9 21h1v1h-1zM11 21h1v1h-1zM13 21h1v1h-1zM15 21h1v1h-1zM17 21h1v1h-1zM19 21h1v1h-1zM21 21h1v1h-1zM23 21h1v1h-1zM25 21h1v1h-1zM27 21h1v1h-1zM29 21h1v1h-1zM31 21h1v1h-1zM33 21h1v1h-1zM35 21h1v1h-1zM37 21h1v1h-1zM39 21h1v1h-1zM41 21h1v1h-1zM43 21h1v1h-1zM45 21h1v1h-1zM47 21h1v1h-1zM49 21h1v1h-1zM51 21h1v1h-1zM1 23h1v1h-1zM3 23h1v1h-1zM5 23h1v1h-1zM7 23h1v1h-1zM9 23h1v1h-1zM11 23h1v1h-1zM13 23h1v1h-1zM15 23h1v1h-1zM17 23h1v1h-1zM19 23h1v1h-1zM21 23h1v1h-1zM23 23h1v1h-1zM25 23h1v1h-1zM27 23h1v1h-1zM29 23h1v1h-1zM31 23h1v1h-1zM33 23h1v1h-1zM35 23h1v1h-1zM37 23h1v1h-1zM39 23h1v1h-1zM41 23h1v1h-1zM43 23h1v1h-1zM45 23h1v1h-1zM47 23h1v1h-1zM49 23h1v1h-1zM51 23h1v1h-1zM1 25h1v1h-1zM3 25h1v1h-1zM5 25h1v1h-1zM7 25h1v1h-1zM9 25h1v1h-1zM11 25h1v1h-1zM13 25h1v1h-1zM15 25h1v1h-1zM17 25h1v1h-1zM19 25h1v1h-1zM21 25h1v1h-1zM23 25h1v1h-1zM25 25h1v1h-1zM27 25h1v1h-1zM29 25h1v1h-1zM31 25h1v1h-1zM33 25h1v1h-1zM35 25h1v1h-1zM37 25h1v1h-1zM39 25h1v1h-1zM41 25h1v1h-1zM43 25h1v1h-1zM45 25h1v1h-1zM47 25h1v1h-1zM49 25h1v1h-1zM51 25h1v1h-1zM1 27h1v1h-1zM3 27h1v1h-1zM5 27h1v1h-1zM7 27h1v1h-1zM9 27h1v1h-1zM11 27h1v1h-1zM13 27h1v1h-1zM15 27h1v1h-1zM17 27h1v1h-1zM19 27h1v1h-1zM21 27h1v1h-1zM23 27h1v1h-1zM25 27h1v1h-1zM27 27h1v1h-1zM29 27h1v1h-1zM31 27h1v1h-1zM33 27h1v1h-1zM35 27h1v1h-1zM37 27h1v1h-1zM39 27h1v1h-1zM41 27h1v1h-1zM43 27h1v1h-1zM45 27h1v1h-1zM47 27h1v1h-1zM49 27h1v1h-1zM51 27h1v1h-1zM1 29h1v1h-1zM3 29h1v1h-1zM5 29h1v1h-1zM7 29h1v1h-1zM9 29h1v1h-1zM11 29h1v1h-1zM13 29h1v1h-1zM15 29h1v1h-1zM17 29h1v1h-1zM19 29h1v1h-1zM21 29h1v1h-1zM23 29h1v1h-1zM25 29h1v1h-1zM27 29h1v1h-1zM29 29h1v1h-1zM31 29h1v1h-1zM33 29h1v1h-1zM35 29h1v1h-1zM37 29h1v1h-1zM39 29h1v1h-1zM41 29h1v1h-1zM43 29h1v1h-1zM45 29h1v1h-1zM47 29h1v1h-1zM49 29h1v1h-1zM51 29h1v1h-1zM1 31h1v1h-1zM3 31h1v1h-1zM5 31h1v1h-1zM7 31h1v1h-1zM9 31h1v1h-1zM11 31h1v1h-1zM13 31h1v1h-1zM15 31h1v1h-1zM17 31h1v1h-1zM19 31h1v1h-1zM21 31h1v1h-1zM23 31h1v1h-1zM25 31h1v1h-1zM27 31h1v1h-1zM29 31h1v1h-1zM31 31h1v1h-1zM33 31h1v1h-1zM35 31h1v1h-1zM37 31h1v1h-1zM39 31h1v1h-1zM41 31h1v1h-1zM43 31h1v1h-1zM45 31h1v1h-1zM47 31h1v1h-1zM49 31h1v1h-1zM51 31h1v1h-1zM1 33h1v1h-1zM3 33h1v1h-1zM5 33h1v1h-1zM7 33h1v1h-1zM9 33h1v1h-1zM11 33h1v1h-1zM13 33h1v1h-1zM15 33h1v1h-1zM17 33h1v1h-1zM19 33h1v1h-1zM21 33h1v1h-1zM23 33h1v1h-1zM25 33h1v1h-1zM27 33h1v1h-1zM29 33h1v1h-1zM31 33h1v1h-1zM33 33h1v1h-1zM35 33h1v1h-1zM37 33h1v1h-1zM39 33h1v1h-1zM41 33h1v1h-1zM43 33h1v1h-1zM45 33h1v1h-1zM47 33h1v1h-1zM49 33h1v1h-1zM51 33h1v1h-1zM1 35h1v1h-1zM3 35h1v1h-1zM5 35h1v1h-1zM7 35h1v1h-1zM9 35h1v1h-1zM11 35h1v1h-1zM13 35h1v1h-1zM15 35h1v1h-1zM17 35h1v1h-1zM19 35h1v1h-1zM21 35h1v1h-1zM23 35h1v1h-1zM25 35h1v1h-1zM27 35h1v1h-1zM29 35h1v1h-1zM31 35h1v1h-1zM33 35h1v1h-1zM35 35h1v1h-1zM37 35h1v1h-1zM39 35h1v1h-1zM41 35h1v1h-1zM43 35h1v1h-1zM45 35h1v1h-1zM47 35h1v1h-1zM49 35h1v1h-1zM51 35h1v1h-1zM1 37h1v1h-1zM3 37h1v1h-1zM5 37h1v1h-1zM7 37h1v1h-1zM9 37h1v1h-1zM11 37h1v1h-1zM13 37h1v1h-1zM15 37h1v1h-1zM17 37h1v1h-1zM19 37h1v1h-1zM21 37h1v1h-1zM23 37h1v1h-1zM25 37h1v1h-1zM27 37h1v1h-1zM29 37h1v1h-1zM31 37h1v1h-1zM33 37h1v1h-1zM35 37h1v1h-1zM37 37h1v1h-1zM39 37h1v1h-1zM41 37h1v1h-1zM43 37h1v1h-1zM45 37h1v1h-1zM47 37h1v1h-1zM49 37h1v1h-1zM51 37h1v1h-1zM1 39h1v1h-1zM3 39h1v1h-1zM5 39h1v1h-1zM7 39h1v1h-1zM9 39h1v1h-1zM11 39h1v1h-1zM13 39h1v1h-1zM15 39h1v1h-1zM17 39h1v1h-1zM19 39h1v1h-1zM21 39h1v1h-1zM23 39h1v1h-1zM25 39h1v1h-1zM27 39h1v1h-1zM29 39h1v1h-1zM31 39h1v1h-1zM33 39h1v1h-1zM35 39h1v1h-1zM37 39h1v1h-1zM39 39h1v1h-1zM41 39h1v1h-1zM43 39h1v1h-1zM45 39h1v1h-1zM47 39h1v1h-1zM49 39h1v1h-1zM51 39h1v1h-1zM1 41h1v1h-1zM3 41h1v1h-1zM5 41h1v1h-1zM7 41h1v1h-1zM9 41h1v1h-1zM11 41h1v1h-1zM13 41h1v1h-1zM15 41h1v1h-1zM17 41h1v1h-1zM19 41h1v1h-1zM21 41h1v1h-1zM23 41h1v1h-1zM25 41h1v1h-1zM27 41h1v1h-1zM29 41h1v1h-1zM31 41h1v1h-1zM33 41h1v1h-1zM35 41h1v1h-1zM37 41h1v1h-1zM39 41h1v1h-1zM41 41h1v1h-1zM43 41h1v1h-1zM45 41h1v1h-1zM47 41h1v1h-1zM49 41h1v1h-1zM51 41h1v1h-1zM1 43h1v1h-1zM3 43h1v1h-1zM5 43h1v1h-1zM7 43h1v1h-1zM9 43h1v1h-1zM11 43h1v1h-1zM13 43h1v1h-1zM15 43h1v1h-1zM17 43h1v1h-1zM19 43h1v1h-1zM21 43h1v1h-1zM23 43h1v1h-1zM25 43h1v1h-1zM27 43h1v1h-1zM29 43h1v1h-1zM31 43h1v1h-1zM33 43h1v1h-1zM35 43h1v1h-1zM37 43h1v1h-1zM39 43h1v1h-1zM41 43h1v1h-1zM43 43h1v1h-1zM45 43h1v1h-1zM47 43h1v1h-1zM49 43h1v1h-1zM51 43h1v1h-1zM1 45h1v1h-1zM3 45h1v1h-1zM5 45h1v1h-1zM7 45h1v1h-1zM9 45h1v1h-1zM11 45h1v1h-1zM13 45h1v1h-1zM15 45h1v1h-1zM17 45h1v1h-1zM19 45h1v1h-1zM21 45h1v1h-1zM23 45h1v1h-1zM25 45h1v1h-1zM27 45h1v1h-1zM29 45h1v1h-1zM31 45h1v1h-1zM33 45h1v1h-1zM35 45h1v1h-1zM37 45h1v1h-1zM39 45h1v1h-1zM41 45h1v1h-1zM43 45h1v1h-1zM45 45h1v1h-1zM47 45h1v1h-1zM49 45h1v1h-1zM51 45h1v1h-1zM1 47h1v1h-1zM3 47h1v1h-1zM5 47h1v1h-1zM7 47h1v1h-1zM9 47h1v1h-1zM11 47h1v1h-1zM13 47h1v1h-1zM15 47h1v1h-1zM17 47h1v1h-1zM19 47h1v1h-1zM21 47h1v1h-1zM23 47h1v1h-1zM25 47h1v1h-1zM27 47h1v1h-1zM29 47h1v1h-1zM31 47h1v1h-1zM33 47h1v1h-1zM35 47h1v1h-1zM37 47h1v1h-1zM39 47h1v1h-1zM41 47h1v1h-1zM43 47h1v1h-1zM45 47h1v1h-1zM47 47h1v1h-1zM49 47h1v1h-1zM51 47h1v1h-1zM1 49h1v1h-1zM3 49h1v1h-1zM5 49h1v1h-1zM7 49h1v1h-1zM9 49h1v1h-1zM11 49h1v1h-1zM13 49h1v1h-1zM15 49h1v1h-1zM17 49h1v1h-1zM19 49h1v1h-1zM21 49h1v1h-1zM23 49h1v1h-1zM25 49h1v1h-1zM27 49h1v1h-1zM29 49h1v1h-1zM31 49h1v1h-1zM33 49h1v1h-1zM35 49h1v1h-1zM37 49h1v1h-1zM39 49h1v1h-1zM41 49h1v1h-1zM43 49h1v1h-1zM45 49h1v1h-1zM47 49h1v1h-1zM49 49h1v1h-1zM51 49h1v1h-1zM1 51h1v1h-1zM3 51h1v1h-1zM5 51h1v1h-1zM7 51h1v1h-1zM9 51h1v1h-1zM11 51h1v1h-1zM13 51h1v1h-1zM15 51h1v1h-1zM17 51h1v1h-1zM19 51h1v1h-1zM21 51h1v1h-1zM23 51h1v1h-1zM25 51h1v1h-1zM27 51h1v1h-1zM29 51h1v1h-1zM31 51h1v1h-1zM33 51h1v1h-1zM35 51h1v1h-1zM37 51h1v1h-1zM39 51h1v1h-1zM41 51h1v1h-1zM43 51h1v1h-1zM45 51h1v1h-1zM47 51h1v1h-1zM49 51h1v1h-1zM51 51h1v1h-1zM1 53h1v1h-1zM3 53h1v1h-1zM5 53h1v1h-1zM7 53h1v1h-1zM9 53h1v1h-1zM11 53h1v1h-1zM13 53h1v1h-1zM15 53h1v1h-1zM17 53h1v1h-1zM19 53h1v1h-1zM21 53h1v1h-1zM23 53h1v1h-1zM25 53h1v1h-1zM27 53h1v1h-1zM29 53h1v1h-1zM31 53h1v1h-1zM33 53h1v1h-1zM35 53h1v1h-1zM37 53h1v1h-1zM39 53h1v1h-1zM41 53h1v1h-1zM43 53h1v1h-1zM45 53h1v1h-1zM47 53h1v1h-1zM49 53h1v1h-1zM51 53h1v1h-1zM1 55h1v1h-1zM3 55h1v1h-1zM5 55h1v1h-1zM7 55h1v1h-1zM9 55h1v1h-1zM11 55h1v1h-1zM13 55h1v1h-1zM15 55h1v1h-1zM17 55h1v1h-1zM19 55h1v1h-1zM21 55h1v1h-1zM23 55h1v1h-1zM25 55h1v1h-1zM27 55h1v1h-1zM29 55h1v1h-1zM31 55h1v1h-1zM33 55h1v1h-1zM35 55h1v1h-1zM37 55h1v1h-1zM39 55h1v1h-1zM41 55h1v1h-1zM43 55h1v1h-1zM45 55h1v1h-1zM47 55h1v1h-1zM49 55h1v1h-1zM51 55h1v1h-1zM1 57h1v1h-1zM3 57h1v1h-1zM5 57h1v1h-1zM7 57h1v1h-1zM9 57h1v1h-1zM11 57h1v1h-1zM13 57h1v1h-1zM15 57h1v1h-1zM17 57h1v1h-1zM19 57h1v1h-1zM21 57h1v1h-1zM23 57h1v1h-1zM25 57h1v1h-1zM27 57h1v1h-1zM29 57h1v1h-1zM31 57h1v1h-1zM33 57h1v1h-1zM35 57h1v1h-1zM37 57h1v1h-1zM39 57h1v1h-1zM41 57h1v1h-1zM43 57h1v1h-1zM45 57h1v1h-1zM47 57h1v1h-1zM49 57h1v1h-1zM51 57h1v1h-1zM1 59h1v1h-1zM3 59h1v1h-1zM5 59h1v1h-1zM7 59h1v1h-1zM9 59h1v1h-1zM11 59h1v1h-1zM13 59h1v1h-1zM15 59h1v1h-1zM17 59h1v1h-1zM19 59h1v1h-1zM21 59h1v1h-1zM23 59h1v1h-1zM25 59h1v1h-1zM27 59h1v1h-1zM29 59h1v1h-1zM31 59h1v1h-1zM33 59h1v1h-1zM35 59h1v1h-1zM37 59h1v1h-1zM39 59h1v1h-1zM41 59h1v1h-1zM43 59h1v1h-1zM45 59h1v1h-1zM47 59h1v1h-1zM49 59h1v1h-1zM51 59h1v1h-1zM1 61h1v1h-1zM3 61h1v1h-1zM5 61h1v1h-1zM7 61h1v1h-1zM9 61h1v1h-1zM11 61h1v1h-1zM13 61h1v1h-1zM15 61h1v1h-1zM17 61h1v1h-1zM19 61h1v1h-1zM21 61h1v1h-1zM23 61h1v1h-1zM25 61h1v1h-1zM27 61h1v1h-1zM29 61h1v1h-1zM31 61h1v1h-1zM33 61h1v1h-1zM35 61h1v1h-1zM37 61h1v1h-1zM39 61h1v1h-1zM41 61h1v1h-1zM43 61h1v1h-1zM45 61h1v1h-1zM47 61h1v1h-1zM49 61h1v1h-1zM51 61h1v1h-1zM1 63h1v1h-1zM3 63h1v1h-1zM5 63h1v1h-1zM7 63h1v1h-1zM9 63h1v1h-1zM11 63h1v1h-1zM13 63h1v1h-1zM15 63h1v1h-1zM17 63h1v1h-1zM19 63h1v1h-1zM21 63h1v1h-1zM23 63h1v1h-1zM25 63h1v1h-1zM27 63h1v1h-1zM29 63h1v1h-1zM31 63h1v1h-1zM33 63h1v1h-1zM35 63h1v1h-1zM37 63h1v1h-1zM39 63h1v1h-1zM41 63h1v1h-1zM43 63h1v1h-1zM45 63h1v1h-1zM47 63h1v1h-1zM49 63h1v1h-1zM51 63h1v1h-1zM1 65h1v1h-1zM3 65h1v1h-1zM5 65h1v1h-1zM7 65h1v1h-1zM9 65h1v1h-1zM11 65h1v1h-1zM13 65h1v1h-1zM15 65h1v1h-1zM17 65h1v1h-1zM19 65h1v1h-1zM21 65h1v1h-1zM23 65h1v1h-1zM25 65h1v1h-1zM27 65h1v1h-1zM29 65h1v1h-1zM31 65h1v1h-1zM33 65h1v1h-1zM35 65h1v1h-1zM37 65h1v1h-1zM39 65h1v1h-1zM41 65h1v1h-1zM43 65h1v1h-1zM45 65h1v1h-1zM47 65h1v1h-1zM49 65h1v1h-1zM51 65h1v1h-1zM1 67h1v1h-1zM3 67h1v1h-1zM5 67h1v1h-1zM7 67h1v1h-1zM9 67h1v1h-1zM11 67h1v1h-1zM13 67h1v1h-1zM15 67h1v1h-1zM17 67h1v1h-1zM19 67h1v1h-1zM21 67h1v1h-1zM23 67h1v1h-1zM25 67h1v1h-1zM27 67h1v1h-1zM29 67h1v1h-1zM31 67h1v1h-1zM33 67h1v1h-1zM35 67h1v1h-1zM37 67h1v1h-1zM39 67h1v1h-1zM41 67h1v1h-1zM43 67h1v1h-1zM45 67h1v1h-1zM47 67h1v1h-1zM49 67h1v1h-1zM51 67h1v1h-1zM1 69h1v1h-1zM3 69h1v1h-1zM5 69h1v1h-1zM7 69h1v1h-1zM9 69h1v1h-1zM11 69h1v1h-1zM13 69h1v1h-1zM15 69h1v1h-1zM17 69h1v1h-1zM19 69h1v1h-1zM21 69h1v1h-1zM23 69h1v1h-1zM25 69h1v1h-1zM27 69h1v1h-1zM29 69h1v1h-1zM31 69h1v1h-1zM33 69h1v1h-1zM35 69h1v1h-1zM37 69h1v1h-1zM39 69h1v1h-1zM41 69h1v1h-1zM43 69h1v1h-1zM45 69h1v1h-1zM47 69h1v1h-1zM49 69h1v1h-1zM51 69h1v1h-1zM1 71h1v1h-1zM3 71h1v1h-1zM5 71h1v1h-1zM7 71h1v1h-1zM9 71h1v1h-1zM11 71h1v1h-1zM13 71h1v1h-1zM15 71h1v1h-1zM17 71h1v1h-1zM19 71h1v1h-1zM21 71h1v1h-1zM23 71h1v1h-1zM25 71h1v1h-1zM27 71h1v1h-1zM29 71h1v1h-1zM31 71h1v1h-1zM33 71h1v1h-1zM35 71h1v1h-1zM37 71h1v1h-1zM39 71h1v1h-1zM41 71h1v1h-1zM43 71h1v1h-1zM45 71h1v1h-1zM47 71h1v1h-1zM49 71h1v1h-1zM51 71h1v1h-1zM1 73h1v1h-1zM3 73h1v1h-1zM5 73h1v1h-1zM7 73h1v1h-1zM9 73h1v1h-1zM11 73h1v1h-1zM13 73h1v1h-1zM15 73h1v1h-1zM17 73h1v1h-1zM19 73h1v1h-1zM21 73h1v1h-1zM23 73h1v1h-1zM25 73h1v1h-1zM27 73h1v1h-1zM29 73h1v1h-1zM31 73h1v1h-1zM33 73h1v1h-1zM35 73h1v1h-1zM37 73h1v1h-1zM39 73h1v1h-1zM41 73h1v1h-1zM43 73h1v1h-1zM45 73h1v1h-1zM47 73h1v1h-1zM49 73h1v1h-1zM51 73h1v1h-1zM1 75h1v1h-1zM3 75h1v1h-1zM5 75h1v1h-1zM7 75h1v1h-1zM9 75h1v1h-1zM11 75h1v1h-1zM13 75h1v1h-1zM15 75h1v1h-1zM17 75h1v1h-1zM19 75h1v1h-1zM21 75h1v1h-1zM23 75h1v1h-1zM25 75h1v1h-1zM27 75h1v1h-1zM29 75h1v1h-1zM31 75h1v1h-1zM33 75h1v1h-1zM35 75h1v1h-1zM37 75h1v1h-1zM39 75h1v1h-1zM41 75h1v1h-1zM43 75h1v1h-1zM45 75h1v1h-1zM47 75h1v1h-1zM49 75h1v1h-1zM51 75h1v1h-1zM1 77h1v1h-1zM3 77h1v1h-1zM5 77h1v1h-1zM7 77h1v1h-1zM9 77h1v1h-1zM11 77h1v1h-1zM13 77h1v1h-1zM15 77h1v1h-1zM17 77h1v1h-1zM19 77h1v1h-1zM21 77h1v1h-1zM23 77h1v1h-1zM25 77h1v1h-1zM27 77h1v1h-1zM29 77h1v1h-1zM31 77h1v1h-1zM33 77h1v1h-1zM35 77h1v1h-1zM37 77h1v1h-1zM39 77h1v1h-1zM41 77h1v1h-1zM43 77h1v1h-1zM45 77h1v1h-1zM47 77h1v1h-1zM49 77h1v1h-1zM51 77h1v1h-1zM1 79h1v1h-1zM3 79h1v1h-1zM5 79h1v1h-1zM7 79h1v1h-1zM9 79h1v1h-1zM11 79h1v1h-1zM13 79h1v1h-1zM15 79h1v1h-1zM17 79h1v1h-1zM19 79h1v1h-1zM21 79h1v1h-1zM23 79h1v1h-1zM25 79h1v1h-1zM27 79h1v1h-1zM29 79h1v1h-1zM31 79h1v1h-1zM33 79h1v1h-1zM35 79h1v1h-1zM37 79h1v1h-1zM39 79h1v1h-1zM41 79h1v1h-1zM43 79h1v1h-1zM45 79h1v1h-1zM47 79h1v1h-1zM49 79h1v1h-1zM51 79h1v1h-1z"/><path fill="#ff0000" d="M1 0h1v1h-1zM3 0h1v1h-1zM5 0h1v1h-1zM7 0h1v1h-1zM9 0h1v1h-1zM11 0h1v1h-1zM13 0h1v1h-1zM15 0h1v1h-1zM17 0h1v1h-1zM19 0h1v1h-1zM21 0h1v1h-1zM23 0h1v1h-1zM25 0h1v1h-1zM27 0h1v1h-1zM29 0h1v1h-1zM31 0h1v1h-1zM33 0h1v1h-1zM35 0h1v1h-1zM37 0h1v1h-1zM39 0h1v1h-1zM41 0h1v1h-1zM43 0h1v1h-1zM45 0h1v1h-1zM47 0h1v1h-1zM49 0h1v1h-1zM51 0h1v1h-1zM1 2h1v1h-1zM3 2h1v1h-1zM5 2h1v1h-1zM7 2h1v1h-1zM9 2h1v1h-1zM11 2h1v1h-1zM13 2h1v1h-1zM15 2h1v1h-1zM17 2h1v1h-1zM19 2h1v1h-1zM21 2h1v1h-1zM23 2h1v1h-1zM25 2h1v1h-1zM27 2h1v1h-1zM29 2h1v1h-1zM31 2h1v1h-1zM33 2h1v1h-1zM35 2h1v1h-1zM37 2h1v1h-1zM39 2h1v1h-1zM41 2h1v1h-1zM43 2h1v1h-1zM45 2h1v1h-1zM47 2h1v1h-1zM49 2h1v1h-1zM51 2h1v1h-1zM1 4h1v1h-1zM3 4h1v1h-1zM5 4h1v1h-1zM7 4h1v1h-1zM9 4h1v1h-1zM11 4h1v1h-1zM13 4h1v1h-1zM15 4h1v1h-1zM17 4h1v1h-1zM19 4h1v1h-1zM21 4h1v1h-1zM23 4h1v1h-1zM25 4h1v1h-1zM27 4h1v1h-1zM29 4h1v1h-1zM31 4h1v1h-1zM33 4h1v1h-1zM35 4h1v1h-1zM37 4h1v1h-1zM39 4h1v1h-1zM41 4h1v1h-1zM43 4h1v1h-1zM45 4h1v1h-1zM47 4h1v1h-1zM49 4h1v1h-1zM51 4h1v1h-1zM1 6h1v1h-1zM3 6h1v1h-1zM5 6h1v1h-1zM7 6h1v1h-1zM9 6h1v1h-1zM11 6h1v1h-1zM13 6h1v1h-1zM15 6h1v1h-1zM17 6h1v1h-1zM19 6h1v1h-1zM21 6h1v1h-1zM23 6h1v1h-1zM25 6h1v1h-1zM27 6h1v1h-1zM29 6h1v1h-1zM31 6h1v1h-1zM33 6h1v1h-1zM35 6h1v1h-1zM37 6h1v1h-1zM39 6h1v1h-1zM41 6h1v1h-1zM43 6h1v1h-1zM45 6h1v1h-1zM47 6h1v1h-1zM49 6h1v1h-1zM51 6h1v1h-1zM1 8h1v1h-1zM3 8h1v1h-1zM5 8h1v1h-1zM7 8h1v1h-1zM9 8h1v1h-1zM11 8h1v1h-1zM13 8h1v1h-1zM15 8h1v1h-1zM17 8h1v1h-1zM19 8h1v1h-1zM21 8h1v1h-1zM23 8h1v1h-1zM25 8h1v1h-1zM27 8h1v1h-1zM29 8h1v1h-1zM31 8h1v1h-1zM33 8h1v1h-1zM35 8h1v1h-1zM37 8h1v1h-1zM39 8h1v1h-1zM41 8h1v1h-1zM43 8h1v1h-1zM45 8h1v1h-1zM47 8h1v1h-1zM49 8h1v1h-1zM51 8h1v1h-1zM1 10h1v1h-1zM3 10h1v1h-1zM5 10h1v1h-1zM7 10h1v1h-1zM9 10h1v1h-1zM11 10h1v1h-1zM13 10h1v1h-1zM15 10h1v1h-1zM17 10h1v1h-1zM19 10h1v1h-1zM21 10h1v1h-1zM23 10h1v1h-1zM25 10h1v1h-1zM27 10h1v1h-1zM29 10h1v1h-1zM31 10h1v1h-1zM33 10h1v1h-1zM35 10h1v1h-1zM37 10h1v1h-1zM39 10h1v1h-1zM41 10h1v1h-1zM43 10h1v1h-1zM45 10h1v1h-1zM47 10h1v1h-1zM49 10h1v1h-1zM51 10h1v1h-1zM1 12h1v1h-1zM3 12h1v1h-1zM5 12h1v1h-1zM7 12h1v1h-1zM9 12h1v1h-1zM11 12h1v1h-1zM13 12h1v1h-1zM15 12h1v1h-1zM17 12h1v1h-1zM19 12h1v1h-1zM21 12h1v1h-1zM23 12h1v1h-1zM25 12h1v1h-1zM27 12h1v1h-1zM29 12h1v1h-1zM31 12h1v1h-1zM33 12h1v1h-1zM35 12h1v1h-1zM37 12h1v1h-1zM39 12h1v1h-1zM41 12h1v1h-1zM43 12h1v1h-1zM45 12h1v1h-1zM47 12h1v1h-1zM49 12h1v1h-1zM51 12h1v1h-1zM1 14h1v1h-1zM3 14h1v1h-1zM5 14h1v1h-1zM7 14h1v1h-1zM9 14h1v1h-1zM11 14h1v1h-1zM13 14h1v1h-1zM15 14h1v1h-1zM17 14h1v1h-1zM19 14h1v1h-1zM21 14h1v1h-1zM23 14h1v1h-1zM25 14h1v1h-1zM27 14h1v1h-1zM29 14h1v1h-1zM31 14h1v1h-1zM33 14h1v1h-1zM35 14h1v1h-1zM37 14h1v1h-1zM39 14h1v1h-1zM41 14h1v1h-1zM43 14h1v1h-1zM45 14h1v1h-1zM47 14h1v1h-1zM49 14h1v1h-1zM51 14h1v1h-1zM1 16h1v1h-1zM3 16h1v1h-1zM5 16h1v1h-1zM7 16h1v1h-1zM9 16h1v1h-1zM11 16h1v1h-1zM13 16h1v1h-1zM15 16h1v1h-1zM17 16h1v1h-1zM19 16h1v1h-1zM21 16h1v1h-1zM23 16h1v1h-1zM25 16h1v1h-1zM27 16h1v1h-1zM29 16h1v1h-1zM31 16h1v1h-1zM33 16h1v1h-1zM35 16h1v1h-1zM37 16h1v1h-1zM39 16h1v1h-1zM41 16h1v1h-1zM43 16h1v1h-1zM45 16h1v1h-1zM47 16h1v1h-1zM49 16h1v1h-1zM51 16h1v1h-1zM1 18h1v1h-1zM3 18h1v1h-1zM5 18h1v1h-1zM7 18h1v1h-1zM9 18h1v1h-1zM11 18h1v1h-1zM13 18h1v1h-1zM15 18h1v1h-1zM17 18h1v1h-1zM19 18h1v1h-1zM21 18h1v1h-1zM23 18h1v1h-1zM25 18h1v1h-1zM27 18h1v1h-1zM29 18h1v1h-1zM31 18h1v1h-1zM33 18h1v1h-1zM35 18h1v1h-1zM37 18h1v1h-1zM39 18h1v1h-1zM41 18h1v1h-1zM43 18h1v1h-1zM45 18h1v1h-1zM47 18h1v1h-1zM49 18h1v1h-1zM51 18h1v1h-1zM1 20h1v1h-1zM3 20h1v1h-1zM5 20h1v1h-1zM7 20h1v1h-1zM9 20h1v1h-1zM11 20h1v1h-1zM13 20h1v1h-1zM15 20h1v1h-1zM17 20h1v1h-1zM19 20h1v1h-1zM21 20h1v1h-1zM23 20h1v1h-1zM25 20h1v1h-1zM27 20h1v1h-1zM29 20h1v1h-1zM31 20h1v1h-1zM33 20h1v1h-1zM35 20h1v1h-1zM37 20h1v1h-1zM39 20h1v1h-1zM41 20h1v1h-1zM43 20h1v1h-1zM45 20h1v1h-1zM47 20h1v1h-1zM49 20h1v1h-1zM51 20h1v1h-1zM1 22h1v1h-1zM3 22h1v1h-1zM5 22h1v1h-1zM7 22h1v1h-1zM9 22h1v1h-1zM11 22h1v1h-1zM13 22h1v1h-1zM15 22h1v1h-1zM17 22h1v1h-1zM19 22h1v1h-1zM21 22h1v1h-1zM23 22h1v1h-1zM25 22h1v1h-1zM27 22h1v1h-1zM29 22h1v1h-1zM31 22h1v1h-1zM33 22h1v1h-1zM35 22h1v1h-1zM37 22h1v1h-1zM39 22h1v1h-1zM41 22h1v1h-1zM43 22h1v1h-1zM45 22h1v1h-1zM47 22h1v1h-1zM49 22h1v1h-1zM51 22h1v1h-1zM1 24h1v1h-1zM3 24h1v1h-1zM5 24h1v1h-1zM7 24h1v1h-1zM9 24h1v1h-1zM11 24h1v1h-1zM13 24h1v1h-1zM15 24h1v1h-1zM17 24h1v1h-1zM19 24h1v1h-1zM21 24h1v1h-1zM23 24h1v1h-1zM25 24h1v1h-1zM27 24h1v1h-1zM29 24h1v1h-1zM31 24h1v1h-1zM33 24h1v1h-1zM35 24h1v1h-1zM37 24h1v1h-1zM39 24h1v1h-1zM41 24h1v1h-1zM43 24h1v1h-1zM45 24h1v1h-1zM47 24h1v1h-1zM49 24h1v1h-1zM51 24h1v1h-1zM1 26h1v1h-1zM3 26h1v1h-1zM5 26h1v1h-1zM7 26h1v1h-1zM9 26h1v1h-1zM11 26h1v1h-1zM13 26h1v1h-1zM15 26h1v1h-1zM17 26h1v1h-1zM19 26h1v1h-1zM21 26h1v1h-1zM23 26h1v1h-1zM25 26h1v1h-1zM27 26h1v1h-1zM29 26h1v1h-1zM31 26h1v1h-1zM33 26h1v1h-1zM35 26h1v1h-1zM37 26h1v1h-1zM39 26h1v1h-1zM41 26h1v1h-1zM43 26h1v1h-1zM45 26h1v1h-1zM47 26h1v1h-1zM49 26h1v1h-1zM51 26h1v1h-1zM1 28h1v1h-1zM3 28h1v1h-1zM5 28h1v1h-1zM7 28h1v1h-1zM9 28h1v1h-1zM11 28h1v1h-1zM13 28h1v1h-1zM15 28h1v1h-1zM17 28h1v1h-1zM19 28h1v1h-1zM21 28h1v1h-1zM23 28h1v1h-1zM25 28h1v1h-1zM27 28h1v1h-1zM29 28h1v1h-1zM31 28h1v1h-1zM33 28h1v1h-1zM35 28h1v1h-1zM37 28h1v1h-1zM39 28h1v1h-1zM41 28h1v1h-1zM43 28h1v1h-1zM45 28h1v1h-1zM47 28h1v1h-1zM49 28h1v1h-1zM51 28h1v1h-1zM1 30h1v1h-1zM3 30h1v1h-1zM5 30h1v1h-1zM7 30h1v1h-1zM9 30h1v1h-1zM11 30h1v1h-1zM13 30h1v1h-1zM15 30h1v1h-1zM17 30h1v1h-1zM19 30h1v1h-1zM21 30h1v1h-1zM23 30h1v1h-1zM25 30h1v1h-1zM27 30h1v1h-1zM29 30h1v1h-1zM31 30h1v1h-1zM33 30h1v1h-1zM35 30h1v1h-1zM37 30h1v1h-1zM39 30h1v1h-1zM41 30h1v1h-1zM43 30h1v1h-1zM45 30h1v1h-1zM47 30h1v1h-1zM49 30h1v1h-1zM51 30h1v1h-1zM1 32h1v1h-1zM3 32h1v1h-1zM5 32h1v1h-1zM7 32h1v1h-1zM9 32h1v1h-1zM11 32h1v1h-1zM13 32h1v1h-1zM15 32h1v1h-1zM17 32h1v1h-1zM19 32h1v1h-1zM21 32h1v1h-1zM23 32h1v1h-1zM25 32h1v1h-1zM27 32h1v1h-1zM29 32h1v1h-1zM31 32h1v1h-1zM33 32h1v1h-1zM35 32h1v1h-1zM37 32h1v1h-1zM39 32h1v1h-1zM41 32h1v1h-1zM43 32h1v1h-1zM45 32h1v1h-1zM47 32h1v1h-1zM49 32h1v1h-1zM51 32h1v1h-1zM1 34h1v1h-1zM3 34h1v1h-1zM5 34h1v1h-1zM7 34h1v1h-1zM9 34h1v1h-1zM11 34h1v1h-1zM13 34h1v1h-1zM15 34h1v1h-1zM17 34h1v1h-1zM19 34h1v1h-1zM21 34h1v1h-1zM23 34h1v1h-1zM25 34h1v1h-1zM27 34h1v1h-1zM29 34h1v1h-1zM31 34h1v1h-1zM33 34h1v1h-1zM35 34h1v1h-1zM37 34h1v1h-1zM39 34h1v1h-1zM41 34h1v1h-1zM43 34h1v1h-1zM45 34h1v1h-1zM47 34h1v1h-1zM49 34h1v1h-1zM51 34h1v1h-1zM1 36h1v1h-1zM3 36h1v1h-1zM5 36h1v1h-1zM7 36h1v1h-1zM9 36h1v1h-1zM11 36h1v1h-1zM13 36h1v1h-1zM15 36h1v1h-1zM17 36h1v1h-1zM19 36h1v1h-1zM21 36h1v1h-1zM23 36h1v1h-1zM25 36h1v1h-1zM27 36h1v1h-1zM29 36h1v1h-1zM31 36h1v1h-1zM33 36h1v1h-1zM35 36h1v1h-1zM37 36h1v1h-1zM39 36h1v1h-1zM41 36h1v1h-1zM43 36h1v1h-1zM45 36h1v1h-1zM47 36h1v1h-1zM49 36h1v1h-1zM51 36h1v1h-1zM1 38h1v1h-1zM3 38h1v1h-1zM5 38h1v1h-1zM7 38h1v1h-1zM9 38h1v1h-1zM11 38h1v1h-1zM13 38h1v1h-1zM15 38h1v1h-1zM17 38h1v1h-1zM19 38h1v1h-1zM21 38h1v1h-1zM23 38h1v1h-1zM25 38h1v1h-1zM27 38h1v1h-1zM29 38h1v1h-1zM31 38h1v1h-1zM33 38h1v1h-1zM35 38h1v1h-1zM37 38h1v1h-1zM39 38h1v1h-1zM41 38h1v1h-1zM43 38h1v1h-1zM45 38h1v1h-1zM47 38h1v1h-1zM49 38h1v1h-1zM51 38h1v1h-1zM1 40h1v1h-1zM3 40h1v1h-1zM5 40h1v1h-1zM7 40h1v1h-1zM9 40h1v1h-1zM11 40h1v1h-1zM13 40h1v1h-1zM15 40h1v1h-1zM17 40h1v1h-1zM19 40h1v1h-1zM21 40h1v1h-1zM23 40h1v1h-1zM25 40h1v1h-1zM27 40h1v1h-1zM29 40h1v1h-1zM31 40h1v1h-1zM33 40h1v1h-1zM35 40h1v1h-1zM37 40h1v1h-1zM39 40h1v1h-1zM41 40h1v1h-1zM43 40h1v1h-1zM45 40h1v1h-1zM47 40h1v1h-1zM49 40h1v1h-1zM51 40h1v1h-1zM1 42h1v1h-1zM3 42h1v1h-1zM5 42h1v1h-1zM7 42h1v1h-1zM9 42h1v1h-1zM11 42h1v1h-1zM13 42h1v1h-1zM15 42h1v1h-1zM17 42h1v1h-1zM19 42h1v1h-1zM21 42h1v1h-1zM23 42h1v1h-1zM25 42h1v1h-1zM27 42h1v1h-1zM29 42h1v1h-1zM31 42h1v1h-1zM33 42h1v1h-1zM35 42h1v1h-1zM37 42h1v1h-1zM39 42h1v1h-1zM41 42h1v1h-1zM43 42h1v1h-1zM45 42h1v1h-1zM47 42h1v1h-1zM49 42h1v1h-1zM51 42h1v1h-1zM1 44h1v1h-1zM3 44h1v1h-1zM5 44h1v1h-1zM7 44h1v1h-1zM9 44h1v1h-1zM11 44h1v1h-1zM13 44h1v1h-1zM15 44h1v1h-1zM17 44h1v1h-1zM19 44h1v1h-1zM21 44h1v1h-1zM23 44h1v1h-1zM25 44h1v1h-1zM27 44h1v1h-1zM29 44h1v1h-1zM31 44h1v1h-1zM33 44h1v1h-1zM35 44h1v1h-1zM37 44h1v1h-1zM39 44h1v1h-1zM41 44h1v1h-1zM43 44h1v1h-1zM45 44h1v1h-1zM47 44h1v1h-1zM49 44h1v1h-1zM51 44h1v1h-1zM1 46h1v1h-1zM3 46h1v1h-1zM5 46h1v1h-1zM7 46h1v1h-1zM9 46h1v1h-1zM11 46h1v1h-1zM13 46h1v1h-1zM15 46h1v1h-1zM17 46h1v1h-1zM19 46h1v1h-1zM21 46h1v1h-1zM23 46h1v1h-1zM25 46h1v1h-1zM27 46h1v1h-1zM29 46h1v1h-1zM31 46h1v1h-1zM33 46h1v1h-1zM35 46h1v1h-1zM37 46h1v1h-1zM39 46h1v1h-1zM41 46h1v1h-1zM43 46h1v1h-1zM45 46h1v1h-1zM47 46h1v1h-1zM49 46h1v1h-1zM51 46h1v1h-1zM1 48h1v1h-1zM3 48h1v1h-1zM5 48h1v1h-1zM7 48h1v1h-1zM9 48h1v1h-1zM11 48h1v1h-1zM13 48h1v1h-1zM15 48h1v1h-1zM17 48h1v1h-1zM19 48h1v1h-1zM21 48h1v1h-1zM23 48h1v1h-1zM25 48h1v1h-1zM27 48h1v1h-1zM29 48h1v1h-1zM31 48h1v1h-1zM33 48h1v1h-1zM35 48h1v1h-1zM37 48h1v1h-1zM39 48h1v1h-1zM41 48h1v1h-1zM43 48h1v1h-1zM45 48h1v1h-1zM47 48h1v1h-1zM49 48h1v1h-1zM51 48h1v1h-1zM1 50h1v1h-1zM3 50h1v1h-1zM5 50h1v1h-1zM7 50h1v1h-1zM9 50h1v1h-1zM11 50h1v1h-1zM13 50h1v1h-1zM15 50h1v1h-1zM17 50h1v1h-1zM19 50h1v1h-1zM21 50h1v1h-1zM23 50h1v1h-1zM25 50h1v1h-1zM27 50h1v1h-1zM29 50h1v1h-1zM31 50h1v1h-1zM33 50h1v1h-1zM35 50h1v1h-1zM37 50h1v1h-1zM39 50h1v1h-1zM41 50h1v1h-1zM43 50h1v1h-1zM45 50h1v1h-1zM47 50h1v1h-1zM49 50h1v1h-1zM51 50h1v1h-1zM1 52h1v1h-1zM3 52h1v1h-1zM5 52h1v1h-1zM7 52h1v1h-1zM9 52h1v1h-1zM11 52h1v1h-1zM13 52h1v1h-1zM15 52h1v1h-1zM17 52h1v1h-1zM19 52h1v1h-1zM21 52h1v1h-1zM23 52h1v1h-1zM25 52h1v1h-1zM27 52h1v1h-1zM29 52h1v1h-1zM31 52h1v1h-1zM33 52h1v1h-1zM35 52h1v1h-1zM37 52h1v1h-1zM39 52h1v1h-1zM41 52h1v1h-1zM43 52h1v1h-1zM45 52h1v1h-1zM47 52h1v1h-1zM49 52h1v1h-1zM51 52h1v1h-1zM1 54h1v1h-1zM3 54h1v1h-1zM5 54h1v1h-1zM7 54h1v1h-1zM9 54h1v1h-1zM11 54h1v1h-1zM13 54h1v1h-1zM15 54h1v1h-1zM17 54h1v1h-1zM19 54h1v1h-1zM21 54h1v1h-1zM23 54h1v1h-1zM25 54h1v1h-1zM27 54h1v1h-1zM29 54h1v1h-1zM31 54h1v1h-1zM33 54h1v1h-1zM35 54h1v1h-1zM37 54h1v1h-1zM39 54h1v1h-1zM41 54h1v1h-1zM43 54h1v1h-1zM45 54h1v1h-1zM47 54h1v1h-1zM49 54h1v1h-1zM51 54h1v1h-1zM1 56h1v1h-1zM3 56h1v1h-1zM5 56h1v1h-1zM7 56h1v1h-1zM9 56h1v1h-1zM11 56h1v1h-1zM13 56h1v1h-1zM15 56h1v1h-1zM17 56h1v1h-1zM19 56h1v1h-1zM21 56h1v1h-1zM23 56h1v1h-1zM25 56h1v1h-1zM27 56h1v1h-1zM29 56h1v1h-1zM31 56h1v1h-1zM33 56h1v1h-1zM35 56h1v1h-1zM37 56h1v1h-1zM39 56h1v1h-1zM41 56h1v1h-1zM43 56h1v1h-1zM45 56h1v1h-1zM47 56h1v1h-1zM49 56h1v1h-1zM51 56h1v1h-1zM1 58h1v1h-1zM3 58h1v1h-1zM5 58h1v1h-1zM7 58h1v1h-1zM9 58h1v1h-1zM11 58h1v1h-1zM13 58h1v1h-1zM15 58h1v1h-1zM17 58h1v1h-1zM19 58h1v1h-1zM21 58h1v1h-1zM23 58h1v1h-1zM25 58h1v1h-1zM27 58h1v1h-1zM29 58h1v1h-1zM31 58h1v1h-1zM33 58h1v1h-1zM35 58h1v1h-1zM37 58h1v1h-1zM39 58h1v1h-1zM41 58h1v1h-1zM43 58h1v1h-1zM45 58h1v1h-1zM47 58h1v1h-1zM49 58h1v1h-1zM51 58h1v1h-1zM1 60h1v1h-1zM3 60h1v1h-1zM5 60h1v1h-1zM7 60h1v1h-1zM9 60h1v1h-1zM11 60h1v1h-1zM13 60h1v1h-1zM15 60h1v1h-1zM17 60h1v1h-1zM19 60h1v1h-1zM21 60h1v1h-1zM23 60h1v1h-1zM25 60h1v1h-1zM27 60h1v1h-1zM29 60h1v1h-1zM31 60h1v1h-1zM33 60h1v1h-1zM35 60h1v1h-1zM37 60h1v1h-1zM39 60h1v1h-1zM41 60h1v1h-1zM43 60h1v1h-1zM45 60h1v1h-1zM47 60h1v1h-1zM49 60h1v1h-1zM51 60h1v1h-1zM1 62h1v1h-1zM3 62h1v1h-1zM5 62h1v1h-1zM7 62h1v1h-1zM9 62h1v1h-1zM11 62h1v1h-1zM13 62h1v1h-1zM15 62h1v1h-1zM17 62h1v1h-1zM19 62h1v1h-1zM21 62h1v1h-1zM23 62h1v1h-1zM25 62h1v1h-1zM27 62h1v1h-1zM29 62h1v1h-1zM31 62h1v1h-1zM33 62h1v1h-1zM35 62h1v1h-1zM37 62h1v1h-1zM39 62h1v1h-1zM41 62h1v1h-1zM43 62h1v1h-1zM45 62h1v1h-1zM47 62h1v1h-1zM49 62h1v1h-1zM51 62h1v1h-1zM1 64h1v1h-1zM3 64h1v1h-1zM5 64h1v1h-1zM7 64h1v1h-1zM9 64h1v1h-1zM11 64h1v1h-1zM13 64h1v1h-1zM15 64h1v1h-1zM17 64h1v1h-1zM19 64h1v1h-1zM21 64h1v1h-1zM23 64h1v1h-1zM25 64h1v1h-1zM27 64h1v1h-1zM29 64h1v1h-1zM31 64h1v1h-1zM33 64h1v1h-1zM35 64h1v1h-1zM37 64h1v1h-1zM39 64h1v1h-1zM41 64h1v1h-1zM43 64h1v1h-1zM45 64h1v1h-1zM47 64h1v1h-1zM49 64h1v1h-1zM51 64h1v1h-1zM1 66h1v1h-1zM3 66h1v1h-1zM5 66h1v1h-1zM7 66h1v1h-1zM9 66h1v1h-1zM11 66h1v1h-1zM13 66h1v1h-1zM15 66h1v1h-1zM17 66h1v1h-1zM19 66h1v1h-1zM21 66h1v1h-1zM23 66h1v1h-1zM25 66h1v1h-1zM27 66h1v1h-1zM29 66h1v1h-1zM31 66h1v1h-1zM33 66h1v1h-1zM35 66h1v1h-1zM37 66h1v1h-1zM39 66h1v1h-1zM41 66h1v1h-1zM43 66h1v1h-1zM45 66h1v1h-1zM47 66h1v1h-1zM49 66h1v1h-1zM51 66h1v1h-1zM1 68h1v1h-1zM3 68h1v1h-1zM5 68h1v1h-1zM7 68h1v1h-1zM9 68h1v1h-1zM11 68h1v1h-1zM13 68h1v1h-1zM15 68h1v1h-1zM17 68h1v1h-1zM19 68h1v1h-1zM21 68h1v1h-1zM23 68h1v1h-1zM25 68h1v1h-1zM27 68h1v1h-1zM29 68h1v1h-1zM31 68h1v1h-1zM33 68h1v1h-1zM35 68h1v1h-1zM37 68h1v1h-1zM39 68h1v1h-1zM41 68h1v1h-1zM43 68h1v1h-1zM45 68h1v1h-1zM47 68h1v1h-1zM49 68h1v1h-1zM51 68h1v1h-1zM1 70h1v1h-1zM3 70h1v1h-1zM5 70h1v1h-1zM7 70h1v1h-1zM9 70h1v1h-1zM11 70h1v1h-1zM13 70h1v1h-1zM15 70h1v1h-1zM17 70h1v1h-1zM19 70h1v1h-1zM21 70h1v1h-1zM23 70h1v1h-1zM25 70h1v1h-1zM27 70h1v1h-1zM29 70h1v1h-1zM31 70h1v1h-1zM33 70h1v1h-1zM35 70h1v1h-1zM37 70h1v1h-1zM39 70h1v1h-1zM41 70h1v1h-1zM43 70h1v1h-1zM45 70h1v1h-1zM47 70h1v1h-1zM49 70h1v1h-1zM51 70h1v1h-1zM1 72h1v1h-1zM3 72h1v1h-1zM5 72h1v1h-1zM7 72h1v1h-1zM9 72h1v1h-1zM11 72h1v1h-1zM13 72h1v1h-1zM15 72h1v1h-1zM17 72h1v1h-1zM19 72h1v1h-1zM21 72h1v1h-1zM23 72h1v1h-1zM25 72h1v1h-1zM27 72h1v1h-1zM29 72h1v1h-1zM31 72h1v1h-1zM33 72h1v1h-1zM35 72h1v1h-1zM37 72h1v1h-1zM39 72h1v1h-1zM41 72h1v1h-1zM43 72h1v1h-1zM45 72h1v1h-1zM47 72h1v1h-1zM49 72h1v1h-1zM51 72h1v1h-1zM1 74h1v1h-1zM3 74h1v1h-1zM5 74h1v1h-1zM7 74h1v1h-1zM9 74h1v1h-1zM11 74h1v1h-1zM13 74h1v1h-1zM15 74h1v1h-1zM17 74h1v1h-1zM19 74h1v1h-1zM21 74h1v1h-1zM23 74h1v1h-1zM25 74h1v1h-1zM27 74h1v1h-1zM29 74h1v1h-1zM31 74h1v1h-1zM33 74h1v1h-1zM35 74h1v1h-1zM37 74h1v1h-1zM39 74h1v1h-1zM41 74h1v1h-1zM43 74h1v1h-1zM45 74h1v1h-1zM47 74h1v1h-1zM49 74h1v1h-1zM51 74h1v1h-1zM1 76h1v1h-1zM3 76h1v1h-1zM5 76h1v1h-1zM7 76h1v1h-1zM9 76h1v1h-1zM11 76h1v1h-1zM13 76h1v1h-1zM15 76h1v1h-1zM17 76h1v1h-1zM19 76h1v1h-1zM21 76h1v1h-1zM23 76h1v1h-1zM25 76h1v1h-1zM27 76h1v1h-1zM29 76h1v1h-1zM31 76h1v1h-1zM33 76h1v1h-1zM35 76h1v1h-1zM37 76h1v1h-1zM39 76h1v1h-1zM41 76h1v1h-1zM43 76h1v1h-1zM45 76h1v1h-1zM47 76h1v1h-1zM49 76h1v1h-1zM51 76h1v1h-1zM1 78h1v1h-1zM3 78h1v1h-1zM5 78h1v1h-1zM7 78h1v1h-1zM9 78h1v1h-1zM11 78h1v1h-1zM13 78h1v1h-1zM15 78h1v1h-1zM17 78h1v1h-1zM19 78h1v1h-1zM21 78h1v1h-1zM23 78h1v1h-1zM25 78h1v1h-1zM27 78h1v1h-1zM29 78h1v1h-1zM31 78h1v1h-1zM33 78h1v1h-1zM35 78h1v1h-1zM37 78h1v1h-1zM39 78h1v1h-1zM41 78h1v1h-1zM43 78h1v1h-1zM45 78h1v1h-1zM47 78h1v1h-1zM49 78h1v1h-1zM51 78h1v1h-1z"/></g>
<g transform="translate(52 315.3) scale(2.61346 1.27750)"><path fill="#ff0000" d="M0 1h1v1h-1zM2 1h1v1h-1zM4 1h1v1h-1zM6 1h1v1h-1zM8 1h1v1h-1zM10 1h1v1h-1zM12 1h1v1h-1zM14 1h1v1h-1zM16 1h1v1h-1zM18 1h1v1h-1zM20 1h1v1h-1zM22 1h1v1h-1zM24 1h1v1h-1zM26 1h1v1h-1zM28 1h1v1h-1zM30 1h1v1h-1zM32 1h1v1h-1zM34 1h1v1h-1zM36 1h1v1h-1zM38 1h1v1h-1zM40 1h1v1h-1zM42 1h1v1h-1zM44 1h1v1h-1zM46 1h1v1h-1zM48 1h1v1h-1zM50 1h1v1h-1zM0 3h1v1h-1zM2 3h1v1h-1zM4 3h1v1h-1zM6 3h1v1h-1zM8 3h1v1h-1zM10 3h1v1h-1zM12 3h1v1h-1zM14 3h1v1h-1zM16 3h1v1h-1zM18 3h1v1h-1zM20 3h1v1h-1zM22 3h1v1h-1zM24 3h1v1h-1zM26 3h1v1h-1zM28 3h1v1h-1zM30 3h1v1h-1zM32 3h1v1h-1zM34 3h1v1h-1zM36 3h1v1h-1zM38 3h1v1h-1zM40 3h1v1h-1zM42 3h1v1h-1zM44 3h1v1h-1zM46 3h1v1h-1zM48 3h1v1h-1zM50 3h1v1h-1zM0 5h1v1h-1zM2 5h1v1h-1zM4 5h1v1h-1zM6 5h1v1h-1zM8 5h1v1h-1zM10 5h1v1h-1zM12 5h1v1h-1zM14 5h1v1h-1zM16 5h1v1h-1zM18 5h1v1h-1zM20 5h1v1h-1zM22 5h1v1h-1zM24 5h1v1h-1zM26 5h1v1h-1zM28 5h1v1h-1zM30 5h1v1h-1zM32 5h1v1h-1zM34 5h1v1h-1zM36 5h1v1h-1zM38 5h1v1h-1zM40 5h1v1h-1zM42 5h1v1h-1zM44 5h1v1h-1zM46 5h1v1h-1zM48 5h1v1h-1zM50 5h1v1h-1zM0 7h1v1h-1zM2 7h1v1h-1zM4 7h1v1h-1zM6 7h1v1h-1zM8 7h1v1h-1zM10 7h1v1h-1zM12 7h1v1h-1zM14 7h1v1h-1zM16 7h1v1h-1zM18 7h1v1h-1zM20 7h1v1h-1zM22 7h1v1h-1zM24 7h1v1h-1zM26 7h1v1h-1zM28 7h1v1h-1zM30 7h1v1h-1zM32 7h1v1h-1zM34 7h1v1h-1zM36 7h1v1h-1zM38 7h1v1h-1zM40 7h1v1h-1zM42 7h1v1h-1zM44 7h1v1h-1zM46 7h1v1h-1zM48 7h1v1h-1zM50 7h1v1h-1zM0 9h1v1h-1zM2 9h1v1h-1zM4 9h1v1h-1zM6 9h1v1h-1zM8 9h1v1h-1zM10 9h1v1h-1zM12 9h1v1h-1zM14 9h1v1h-1zM16 9h1v1h-1zM18 9h1v1h-1zM20 9h1v1h-1zM22 9h1v1h-1zM24 9h1v1h-1zM26 9h1v1h-1zM28 9h1v1h-1zM30 9h1v1h-1zM32 9h1v1h-1zM34 9h1v1h-1zM36 9h1v1h-1zM38 9h1v1h-1zM40 9h1v1h-1zM42 9h1v1h-1zM44 9h1v1h-1zM46 9h1v1h-1zM48 9h1v1h-1zM50 9h1v1h-1zM0 11h1v1h-1zM2 11h1v1h-1zM4 11h1v1h-1zM6 11h1v1h-1zM8 11h1v1h-1zM10 11h1v1h-1zM12 11h1v1h-1zM14 11h1v1h-1zM16 11h1v1h-1zM18 11h1v1h-1zM20 11h1v1h-1zM22 11h1v1h-1zM24 11h1v1h-1zM26 11h1v1h-1zM28 11h1v1h-1zM30 11h1v1h-1zM32 11h1v1h-1zM34 11h1v1h-1zM36 11h1v1h-1zM38 11h1v1h-1zM40 11h1v1h-1zM42 11h1v1h-1zM44 11h1v1h-1zM46 11h1v1h-1zM48 11h1v1h-1zM50 11h1v1h-1zM0 13h1v1h-1zM2 13h1v1h-1zM4 13h1v1h-1zM6 13h1v1h-1zM8 13h1v1h-1zM10 13h1v1h-1zM12 13h1v1h-1zM14 13h1v1h-1zM16 13h1v1h-1zM18 13h1v1h-1zM20 13h1v1h-1zM22 13h1v1h-1zM24 13h1v1h-1zM26 13h1v1h-1zM28 13h1v1h-1zM30 13h1v1h-1zM32 13h1v1h-1zM34 13h1v1h-1zM36 13h1v1h-1zM38 13h1v1h-1zM40 13h1v1h-1zM42 13h1v1h-1zM44 13h1v1h-1zM46 13h1v1h-1zM48 13h1v1h-1zM50 13h1v1h-1zM0 15h1v1h-1zM2 15h1v1h-1zM4 15h1v1h-1zM6 15h1v1h-1zM8 15h1v1h-1zM10 15h1v1h-1zM12 15h1v1h-1zM14 15h1v1h-1zM16 15h1v1h-1zM18 15h1v1h-1zM20 15h1v1h-1zM22 15h1v1h-1zM24 15h1v1h-1zM26 15h1v1h-1zM28 15h1v1h-1zM30 15h1v1h-1zM32 15h1v1h-1zM34 15h1v1h-1zM36 15h1v1h-1zM38 15h1v1h-1zM40 15h1v1h-1zM42 15h1v1h-1zM44 15h1v1h-1zM46 15h1v1h-1zM48 15h1v1h-1zM50 15h1v1h-1zM0 17h1v1h-1zM2 17h1v1h-1zM4 17h1v1h-1zM6 17h1v1h-1zM8 17h1v1h-1zM10 17h1v1h-1zM12 17h1v1h-1zM14 17h1v1h-1zM16 17h1v1h-1zM18 17h1v1h-1zM20 17h1v1h-1zM22 17h1v1h-1zM24 17h1v1h-1zM26 17h1v1h-1zM28 17h1v1h-1zM30 17h1v1h-1zM32 17h1v1h-1zM34 17h1v1h-1zM36 17h1v1h-1zM38 17h1v1h-1zM40 17h1v1h-1zM42 17h1v1h-1zM44 17h1v1h-1zM46 17h1v1h-1zM48 17h1v1h-1zM50 17h1v1h-1zM0 19h1v1h-1zM2 19h1v1h-1zM4 19h1v1h-1zM6 19h1v1h-1zM8 19h1v1h-1zM10 19h1v1h-1zM12 19h1v1h-1zM14 19h1v1h-1zM16 19h1v1h-1zM18 19h1v1h-1zM20 19h1v1h-1zM22 19h1v1h-1zM24 19h1v1h-1zM26 19h1v1h-1zM28 19h1v1h-1zM30 19h1v1h-1zM32 19h1v1h-1zM34 19h1v1h-1zM36 19h1v1h-1zM38 19h1v1h-1zM40 19h1v1h-1zM42 19h1v1h-1zM44 19h1v1h-1zM46 19h1v1h-1zM48 19h1v1h-1zM50 19h1v1h-1zM0 21h1v1h-1zM2 21h1v1h-1zM4 21h1v1h-1zM6 21h1v1h-1zM8 21h1v1h-1zM10 21h1v1h-1zM12 21h1v1h-1zM14 21h1v1h-1zM16 21h1v1h-1zM18 21h1v1h-1zM20 21h1v1h-1zM22 21h1v1h-1zM24 21h1v1h-1zM26 21h1v1h-1zM28 21h1v1h-1zM30 21h1v1h-1zM32 21h1v1h-1zM34 21h1v1h-1zM36 21h1v1h-1zM38 21h1v1h-1zM40 21h1v1h-1zM42 21h1v1h-1zM44 21h1v1h-1zM46 21h1v1h-1zM48 21h1v1h-1zM50 21h1v1h-1zM0 23h1v1h-1zM2 23h1v1h-1zM4 23h1v1h-1zM6 23h1v1h-1zM8 23h1v1h-1zM10 23h1v1h-1zM12 23h1v1h-1zM14 23h1v1h-1zM16 23h1v1h-1zM18 23h1v1h-1zM20 23h1v1h-1zM22 23h1v1h-1zM24 23h1v1h-1zM26 23h1v1h-1zM28 23h1v1h-1zM30 23h1v1h-1zM32 23h1v1h-1zM34 23h1v1h-1zM36 23h1v1h-1zM38 23h1v1h-1zM40 23h1v1h-1zM42 23h1v1h-1zM44 23h1v1h-1zM46 23h1v1h-1zM48 23h1v1h-1zM50 23h1v1h-1zM0 25h1v1h-1zM2 25h1v1h-1zM4 25h1v1h-1zM6 25h1v1h-1zM8 25h1v1h-1zM10 25h1v1h-1zM12 25h1v1h-1zM14 25h1v1h-1zM16 25h1v1h-1zM18 25h1v1h-1zM20 25h1v1h-1zM22 25h1v1h-1zM24 25h1v1h-1zM26 25h1v1h-1zM28 25h1v1h-1zM30 25h1v1h-1zM32 25h1v1h-1zM34 25h1v1h-1zM36 25h1v1h-1zM38 25h1v1h-1zM40 25h1v1h-1zM42 25h1v1h-1zM44 25h1v1h-1zM46 25h1v1h-1zM48 25h1v1h-1zM50 25h1v1h-1zM0 27h1v1h-1zM2 27h1v1h-1zM4 27h1v1h-1zM6 27h1v1h-1zM8 27h1v1h-1zM10 27h1v1h-1zM12 27h1v1h-1zM14 27h1v1h-1zM16 27h1v1h-1zM18 27h1v1h-1zM20 27h1v1h-1zM22 27h1v1h-1zM24 27h1v1h-1zM26 27h1v1h-1zM28 27h1v1h-1zM30 27h1v1h-1zM32 27h1v1h-1zM34 27h1v1h-1zM36 27h1v1h-1zM38 27h1v1h-1zM40 27h1v1h-1zM42 27h1v1h-1zM44 27h1v1h-1zM46 27h1v1h-1zM48 27h1v1h-1zM50 27h1v1h-1zM0 29h1v1h-1zM2 29h1v1h-1zM4 29h1v1h-1zM6 29h1v1h-1zM8 29h1v1h-1zM10 29h1v1h-1zM12 29h1v1h-1zM14 29h1v1h-1zM16 29h1v1h-1zM18 29h1v1h-1zM20 29h1v1h-1zM22 29h1v1h-1zM24 29h1v1h-1zM26 29h1v1h-1zM28 29h1v1h-1zM30 29h1v1h-1zM32 29h1v1h-1zM34 29h1v1h-1zM36 29h1v1h-1zM38 29h1v1h-1zM40 29h1v1h-1zM42 29h1v1h-1zM44 29h1v1h-1zM46 29h1v1h-1zM48 29h1v1h-1zM50 29h1v1h-1zM0 31h1v1h-1zM2 31h1v1h-1zM4 31h1v1h-1zM6 31h1v1h-1zM8 31h1v1h-1zM10 31h1v1h-1zM12 31h1v1h-1zM14 31h1v1h-1zM16 31h1v1h-1zM18 31h1v1h-1zM20 31h1v1h-1zM22 31h1v1h-1zM24 31h1v1h-1zM26 31h1v1h-1zM28 31h1v1h-1zM30 31h1v1h-1zM32 31h1v1h-1zM34 31h1v1h-1zM36 31h1v1h-1zM38 31h1v1h-1zM40 31h1v1h-1zM42 31h1v1h-1zM44 31h1v1h-1zM46 31h1v1h-1zM48 31h1v1h-1zM50 31h1v1h-1zM0 33h1v1h-1zM2 33h1v1h-1zM4 33h1v1h-1zM6 33h1v1h-1zM8 33h1v1h-1zM10 33h1v1h-1zM12 33h1v1h-1zM14 33h1v1h-1zM16 33h1v1h-1zM18 33h1v1h-1zM20 33h1v1h-1zM22 33h1v1h-1zM24 33h1v1h-1zM26 33h1v1h-1zM28 33h1v1h-1zM30 33h1v1h-1zM32 33h1v1h-1zM34 33h1v1h-1zM36 33h1v1h-1zM38 33h1v1h-1zM40 33h1v1h-1zM42 33h1v1h-1zM44 33h1v1h-1zM46 33h1v1h-1zM48 33h1v1h-1zM50 33h1v1h-1zM0 35h1v1h-1zM2 35h1v1h-1zM4 35h1v1h-1zM6 35h1v1h-1zM8 35h1v1h-1zM10 35h1v1h-1zM12 35h1v1h-1zM14 35h1v1h-1zM16 35h1v1h-1zM18 35h1v1h-1zM20 35h1v1h-1zM22 35h1v1h-1zM24 35h1v1h-1zM26 35h1v1h-1zM28 35h1v1h-1zM30 35h1v1h-1zM32 35h1v1h-1zM34 35h1v1h-1zM36 35h1v1h-1zM38 35h1v1h-1zM40 35h1v1h-1zM42 35h1v1h-1zM44 35h1v1h-1zM46 35h1v1h-1zM48 35h1v1h-1zM50 35h1v1h-1zM0 37h1v1h-1zM2 37h1v1h-1zM4 37h1v1h-1zM6 37h1v1h-1zM8 37h1v1h-1zM10 37h1v1h-1zM12 37h1v1h-1zM14 37h1v1h-1zM16 37h1v1h-1zM18 37h1v1h-1zM20 37h1v1h-1zM22 37h1v1h-1zM24 37h1v1h-1zM26 37h1v1h-1zM28 37h1v1h-1zM30 37h1v1h-1zM32 37h1v1h-1zM34 37h1v1h-1zM36 37h1v1h-1zM38 37h1v1h-1zM40 37h1v1h-1zM42 37h1v1h-1zM44 37h1v1h-1zM46 37h1v1h-1zM48 37h1v1h-1zM50 37h1v1h-1zM0 39h1v1h-1zM2 39h1v1h-1zM4 39h1v1h-1zM6 39h1v1h-1zM8 39h1v1h-1zM10 39h1v1h-1zM12 39h1v1h-1zM14 39h1v1h-1zM16 39h1v1h-1zM18 39h1v1h-1zM20 39h1v1h-1zM22 39h1v1h-1zM24 39h1v1h-1zM26 39h1v1h-1zM28 39h1v1h-1zM30 39h1v1h-1zM32 39h1v1h-1zM34 39h1v1h-1zM36 39h1v1h-1zM38 39h1v1h-1zM40 39h1v1h-1zM42 39h1v1h-1zM44 39h1v1h-1zM46 39h1v1h-1zM48 39h1v1h-1zM50 39h1v1h-1zM0 41h1v1h-1zM2 41h1v1h-1zM4 41h1v1h-1zM6 41h1v1h-1zM8 41h1v1h-1zM10 41h1v1h-1zM12 41h1v1h-1zM14 41h1v1h-1zM16 41h1v1h-1zM18 41h1v1h-1zM20 41h1v1h-1zM22 41h1v1h-1zM24 41h1v1h-1zM26 41h1v1h-1zM28 41h1v1h-1zM30 41h1v1h-1zM32 41h1v1h-1zM34 41h1v1h-1zM36 41h1v1h-1zM38 41h1v1h-1zM40 41h1v1h-1zM42 41h1v1h-1zM44 41h1v1h-1zM46 41h1v1h-1zM48 41h1v1h-1zM50 41h1v1h-1zM0 43h1v1h-1zM2 43h1v1h-1zM4 43h1v1h-1zM6 43h1v1h-1zM8 43h1v1h-1zM10 43h1v1h-1zM12 43h1v1h-1zM14 43h1v1h-1zM16 43h1v1h-1zM18 43h1v1h-1zM20 43h1v1h-1zM22 43h1v1h-1zM24 43h1v1h-1zM26 43h1v1h-1zM28 43h1v1h-1zM30 43h1v1h-1zM32 43h1v1h-1zM34 43h1v1h-1zM36 43h1v1h-1zM38 43h1v1h-1zM40 43h1v1h-1zM42 43h1v1h-1zM44 43h1v1h-1zM46 43h1v1h-1zM48 43h1v1h-1zM50 43h1v1h-1zM0 45h1v1h-1zM2 45h1v1h-1zM4 45h1v1h-1zM6 45h1v1h-1zM8 45h1v1h-1zM10 45h1v1h-1zM12 45h1v1h-1zM14 45h1v1h-1zM16 45h1v1h-1zM18 45h1v1h-1zM20 45h1v1h-1zM22 45h1v1h-1zM24 45h1v1h-1zM26 45h1v1h-1zM28 45h1v1h-1zM30 45h1v1h-1zM32 45h1v1h-1zM34 45h1v1h-1zM36 45h1v1h-1zM38 45h1v1h-1zM40 45h1v1h-1zM42 45h1v1h-1zM44 45h1v1h-1zM46 45h1v1h-1zM48 45h1v1h-1zM50 45h1v1h-1zM0 47h1v1h-1zM2 47h1v1h-1zM4 47h1v1h-1zM6 47h1v1h-1zM8 47h1v1h-1zM10 47h1v1h-1zM12 47h1v1h-1zM14 47h1v1h-1zM16 47h1v1h-1zM18 47h1v1h-1zM20 47h1v1h-1zM22 47h1v1h-1zM24 47h1v1h-1zM26 47h1v1h-1zM28 47h1v1h-1zM30 47h1v1h-1zM32 47h1v1h-1zM34 47h1v1h-1zM36 47h1v1h-1zM38 47h1v1h-1zM40 47h1v1h-1zM42 47h1v1h-1zM44 47h1v1h-1zM46 47h1v1h-1zM48 47h1v1h-1zM50 47h1v1h-1zM0 49h1v1h-1zM2 49h1v1h-1zM4 49h1v1h-1zM6 49h1v1h-1zM8 49h1v1h-1zM10 49h1v1h-1zM12 49h1v1h-1zM14 49h1v1h-1zM16 49h1v1h-1zM18 49h1v1h-1zM20 49h1v1h-1zM22 49h1v1h-1zM24 49h1v1h-1zM26 49h1v1h-1zM28 49h1v1h-1zM30 49h1v1h-1zM32 49h1v1h-1zM34 49h1v1h-1zM36 49h1v1h-1zM38 49h1v1h-1zM40 49h1v1h-1zM42 49h1v1h-1zM44 49h1v1h-1zM46 49h1v1h-1zM48 49h1v1h-1zM50 49h1v1h-1zM0 51h1v1h-1zM2 51h1v1h-1zM4 51h1v1h-1zM6 51h1v1h-1zM8 51h1v1h-1zM10 51h1v1h-1zM12 51h1v1h-1zM14 51h1v1h-1zM16 51h1v1h-1zM18 51h1v1h-1zM20 51h1v1h-1zM22 51h1v1h-1zM24 51h1v1h-1zM26 51h1v1h-1zM28 51h1v1h-1zM30 51h1v1h-1zM32 51h1v1h-1zM34 51h1v1h-1zM36 51h1v1h-1zM38 51h1v1h-1zM40 51h1v1h-1zM42 51h1v1h-1zM44 51h1v1h-1zM46 51h1v1h-1zM48 51h1v1h-1zM50 51h1v1h-1zM0 53h1v1h-1zM2 53h1v1h-1zM4 53h1v1h-1zM6 53h1v1h-1zM8 53h1v1h-1zM10 53h1v1h-1zM12 53h1v1h-1zM14 53h1v1h-1zM16 53h1v1h-1zM18 53h1v1h-1zM20 53h1v1h-1zM22 53h1v1h-1zM24 53h1v1h-1zM26 53h1v1h-1zM28 53h1v1h-1zM30 53h1v1h-1zM32 53h1v1h-1zM34 53h1v1h-1zM36 53h1v1h-1zM38 53h1v1h-1zM40 53h1v1h-1zM42 53h1v1h-1zM44 53h1v1h-1zM46 53h1v1h-1zM48 53h1v1h-1zM50 53h1v1h-1zM0 55h1v1h-1zM2 55h1v1h-1zM4 55h1v1h-1zM6 55h1v1h-1zM8 55h1v1h-1zM10 55h1v1h-1zM12 55h1v1h-1zM14 55h1v1h-1zM16 55h1v1h-1zM18 55h1v1h-1zM20 55h1v1h-1zM22 55h1v1h-1zM24 55h1v1h-1zM26 55h1v1h-1zM28 55h1v1h-1zM30 55h1v1h-1zM32 55h1v1h-1zM34 55h1v1h-1zM36 55h1v1h-1zM38 55h1v1h-1zM40 55h1v1h-1zM42 55h1v1h-1zM44 55h1v1h-1zM46 55h1v1h-1zM48 55h1v1h-1zM50 55h1v1h-1zM0 57h1v1h-1zM2 57h1v1h-1zM4 57h1v1h-1zM6 57h1v1h-1zM8 57h1v1h-1zM10 57h1v1h-1zM12 57h1v1h-1zM14 57h1v1h-1zM16 57h1v1h-1zM18 57h1v1h-1zM20 57h1v1h-1zM22 57h1v1h-1zM24 57h1v1h-1zM26 57h1v1h-1zM28 57h1v1h-1zM30 57h1v1h-1zM32 57h1v1h-1zM34 57h1v1h-1zM36 57h1v1h-1zM38 57h1v1h-1zM40 57h1v1h-1zM42 57h1v1h-1zM44 57h1v1h-1zM46 57h1v1h-1zM48 57h1v1h-1zM50 57h1v1h-1zM0 59h1v1h-1zM2 59h1v1h-1zM4 59h1v1h-1zM6 59h1v1h-1zM8 59h1v1h-1zM10 59h1v1h-1zM12 59h1v1h-1zM14 59h1v1h-1zM16 59h1v1h-1zM18 59h1v1h-1zM20 59h1v1h-1zM22 59h1v1h-1zM24 59h1v1h-1zM26 59h1v1h-1zM28 59h1v1h-1zM30 59h1v1h-1zM32 59h1v1h-1zM34 59h1v1h-1zM36 59h1v1h-1zM38 59h1v1h-1zM40 59h1v1h-1zM42 59h1v1h-1zM44 59h1v1h-1zM46 59h1v1h-1zM48 59h1v1h-1zM50 59h1v1h-1zM0 61h1v1h-1zM2 61h1v1h-1zM4 61h1v1h-1zM6 61h1v1h-1zM8 61h1v1h-1zM10 61h1v1h-1zM12 61h1v1h-1zM14 61h1v1h-1zM16 61h1v1h-1zM18 61h1v1h-1zM20 61h1v1h-1zM22 61h1v1h-1zM24 61h1v1h-1zM26 61h1v1h-1zM28 61h1v1h-1zM30 61h1v1h-1zM32 61h1v1h-1zM34 61h1v1h-1zM36 61h1v1h-1zM38 61h1v1h-1zM40 61h1v1h-1zM42 61h1v1h-1zM44 61h1v1h-1zM46 61h1v1h-1zM48 61h1v1h-1zM50 61h1v1h-1zM0 63h1v1h-1zM2 63h1v1h-1zM4 63h1v1h-1zM6 63h1v1h-1zM8 63h1v1h-1zM10 63h1v1h-1zM12 63h1v1h-1zM14 63h1v1h-1zM16 63h1v1h-1zM18 63h1v1h-1zM20 63h1v1h-1zM22 63h1v1h-1zM24 63h1v1h-1zM26 63h1v1h-1zM28 63h1v1h-1zM30 63h1v1h-1zM32 63h1v1h-1zM34 63h1v1h-1zM36 63h1v1h-1zM38 63h1v1h-1zM40 63h1v1h-1zM42 63h1v1h-1zM44 63h1v1h-1zM46 63h1v1h-1zM48 63h1v1h-1zM50 63h1v1h-1zM0 65h1v1h-1zM2 65h1v1h-1zM4 65h1v1h-1zM6 65h1v1h-1zM8 65h1v1h-1zM10 65h1v1h-1zM12 65h1v1h-1zM14 65h1v1h-1zM16 65h1v1h-1zM18 65h1v1h-1zM20 65h1v1h-1zM22 65h1v1h-1zM24 65h1v1h-1zM26 65h1v1h-1zM28 65h1v1h-1zM30 65h1v1h-1zM32 65h1v1h-1zM34 65h1v1h-1zM36 65h1v1h-1zM38 65h1v1h-1zM40 65h1v1h-1zM42 65h1v1h-1zM44 65h1v1h-1zM46 65h1v1h-1zM48 65h1v1h-1zM50 65h1v1h-1zM0 67h1v1h-1zM2 67h1v1h-1zM4 67h1v1h-1zM6 67h1v1h-1zM8 67h1v1h-1zM10 67h1v1h-1zM12 67h1v1h-1zM14 67h1v1h-1zM16 67h1v1h-1zM18 67h1v1h-1zM20 67h1v1h-1zM22 67h1v1h-1zM24 67h1v1h-1zM26 67h1v1h-1zM28 67h1v1h-1zM30 67h1v1h-1zM32 67h1v1h-1zM34 67h1v1h-1zM36 67h1v1h-1zM38 67h1v1h-1zM40 67h1v1h-1zM42 67h1v1h-1zM44 67h1v1h-1zM46 67h1v1h-1zM48 67h1v1h-1zM50 67h1v1h-1zM0 69h1v1h-1zM2 69h1v1h-1zM4 69h1v1h-1zM6 69h1v1h-1zM8 69h1v1h-1zM10 69h1v1h-1zM12 69h1v1h-1zM14 69h1v1h-1zM16 69h1v1h-1zM18 69h1v1h-1zM20 69h1v1h-1zM22 69h1v1h-1zM24 69h1v1h-1zM26 69h1v1h-1zM28 69h1v1h-1zM30 69h1v1h-1zM32 69h1v1h-1zM34 69h1v1h-1zM36 69h1v1h-1zM38 69h1v1h-1zM40 69h1v1h-1zM42 69h1v1h-1zM44 69h1v1h-1zM46 69h1v1h-1zM48 69h1v1h-1zM50 69h1v1h-1zM0 71h1v1h-1zM2 71h1v1h-1zM4 71h1v1h-1zM6 71h1v1h-1zM8 71h1v1h-1zM10 71h1v1h-1zM12 71h1v1h-1zM14 71h1v1h-1zM16 71h1v1h-1zM18 71h1v1h-1zM20 71h1v1h-1zM22 71h1v1h-1zM24 71h1v1h-1zM26 71h1v1h-1zM28 71h1v1h-1zM30 71h1v1h-1zM32 71h1v1h-1zM34 71h1v1h-1zM36 71h1v1h-1zM38 71h1v1h-1zM40 71h1v1h-1zM42 71h1v1h-1zM44 71h1v1h-1zM46 71h1v1h-1zM48 71h1v1h-1zM50 71h1v1h-1zM0 73h1v1h-1zM2 73h1v1h-1zM4 73h1v1h-1zM6 73h1v1h-1zM8 73h1v1h-1zM10 73h1v1h-1zM12 73h1v1h-1zM14 73h1v1h-1zM16 73h1v1h-1zM18 73h1v1h-1zM20 73h1v1h-1zM22 73h1v1h-1zM24 73h1v1h-1zM26 73h1v1h-1zM28 73h1v1h-1zM30 73h1v1h-1zM32 73h1v1h-1zM34 73h1v1h-1zM36 73h1v1h-1zM38 73h1v1h-1zM40 73h1v1h-1zM42 73h1v1h-1zM44 73h1v1h-1zM46 73h1v1h-1zM48 73h1v1h-1zM50 73h1v1h-1zM0 75h1v1h-1zM2 75h1v1h-1zM4 75h1v1h-1zM6 75h1v1h-1zM8 75h1v1h-1zM10 75h1v1h-1zM12 75h1v1h-1zM14 75h1v1h-1zM16 75h1v1h-1zM18 75h1v1h-1zM20 75h1v1h-1zM22 75h1v1h-1zM24 75h1v1h-1zM26 75h1v1h-1zM28 75h1v1h-1zM30 75h1v1h-1zM32 75h1v1h-1zM34 75h1v1h-1zM36 75h1v1h-1zM38 75h1v1h-1zM40 75h1v1h-1zM42 75h1v1h-1zM44 75h1v1h-1zM46 75h1v1h-1zM48 75h1v1h-1zM50 75h1v1h-1zM0 77h1v1h-1zM2 77h1v1h-1zM4 77h1v1h-1zM6 77h1v1h-1zM8 77h1v1h-1zM10 77h1v1h-1zM12 77h1v1h-1zM14 77h1v1h-1zM16 77h1v1h-1zM18 77h1v1h-1zM20 77h1v1h-1zM22 77h1v1h-1zM24 77h1v1h-1zM26 77h1v1h-1zM28 77h1v1h-1zM30 77h1v1h-1zM32 77h1v1h-1zM34 77h1v1h-1zM36 77h1v1h-1zM38 77h1v1h-1zM40 77h1v1h-1zM42 77h1v1h-1zM44 77h1v1h-1zM46 77h1v1h-1zM48 77h1v1h-1zM50 77h1v1h-1zM0 79h1v1h-1zM2 79h1v1h-1zM4 79h1v1h-1zM6 79h1v1h-1zM8 79h1v1h-1zM10 79h1v1h-1zM12 79h1v1h-1zM14 79h1v1h-1zM16 79h1v1h-1zM18 79h1v1h-1zM20 79h1v1h-1zM22 79h1v1h-1zM24 79h1v1h-1zM26 79h1v1h-1zM28 79h1v1h-1zM30 79h1v1h-1zM32 79h1v1h-1zM34 79h1v1h-1zM36 79h1v1h-1zM38 79h1v1h-1zM40 79h1v1h-1zM42 79h1v1h-1zM44 79h1v1h-1zM46 79h1v1h-1zM48 79h1v1h-1zM50 79h1v1h-1z"/><path fill="#ff0000" d="M0 0h1v1h-1zM2 0h1v1h-1zM4 0h1v1h-1zM6 0h1v1h-1zM8 0h1v1h-1zM10 0h1v1h-1zM12 0h1v1h-1zM14 0h1v1h-1zM16 0h1v1h-1zM18 0h1v1h-1zM20 0h1v1h-1zM22 0h1v1h-1zM24 0h1v1h-1zM26 0h1v1h-1zM28 0h1v1h-1zM30 0h1v1h-1zM32 0h1v1h-1zM34 0h1v1h-1zM36 0h1v1h-1zM38 0h1v1h-1zM40 0h1v1h-1zM42 0h1v1h-1zM44 0h1v1h-1zM46 0h1v1h-1zM48 0h1v1h-1zM50 0h1v1h-1zM0 2h1v1h-1zM2 2h1v1h-1zM4 2h1v1h-1zM6 2h1v1h-1zM8 2h1v1h-1zM10 2h1v1h-1zM12 2h1v1h-1zM14 2h1v1h-1zM16 2h1v1h-1zM18 2h1v1h-1zM20 2h1v1h-1zM22 2h1v1h-1zM24 2h1v1h-1zM26 2h1v1h-1zM28 2h1v1h-1zM30 2h1v1h-1zM32 2h1v1h-1zM34 2h1v1h-1zM36 2h1v1h-1zM38 2h1v1h-1zM40 2h1v1h-1zM42 2h1v1h-1zM44 2h1v1h-1zM46 2h1v1h-1zM48 2h1v1h-1zM50 2h1v1h-1zM0 4h1v1h-1zM2 4h1v1h-1zM4 4h1v1h-1zM6 4h1v1h-1zM8 4h1v1h-1zM10 4h1v1h-1zM12 4h1v1h-1zM14 4h1v1h-1zM16 4h1v1h-1zM18 4h1v1h-1zM20 4h1v1h-1zM22 4h1v1h-1zM24 4h1v1h-1zM26 4h1v1h-1zM28 4h1v1h-1zM30 4h1v1h-1zM32 4h1v1h-1zM34 4h1v1h-1zM36 4h1v1h-1zM38 4h1v1h-1zM40 4h1v1h-1zM42 4h1v1h-1zM44 4h1v1h-1zM46 4h1v1h-1zM48 4h1v1h-1zM50 4h1v1h-1zM0 6h1v1h-1zM2 6h1v1h-1zM4 6h1v1h-1zM6 6h1v1h-1zM8 6h1v1h-1zM10 6h1v1h-1zM12 6h1v1h-1zM14 6h1v1h-1zM16 6h1v1h-1zM18 6h1v1h-1zM20 6h1v1h-1zM22 6h1v1h-1zM24 6h1v1h-1zM26 6h1v1h-1zM28 6h1v1h-1zM30 6h1v1h-1zM32 6h1v1h-1zM34 6h1v1h-1zM36 6h1v1h-1zM38 6h1v1h-1zM40 6h1v1h-1zM42 6h1v1h-1zM44 6h1v1h-1zM46 6h1v1h-1zM48 6h1v1h-1zM50 6h1v1h-1zM0 8h1v1h-1zM2 8h1v1h-1zM4 8h1v1h-1zM6 8h1v1h-1zM8 8h1v1h-1zM10 8h1v1h-1zM12 8h1v1h-1zM14 8h1v1h-1zM16 8h1v1h-1zM18 8h1v1h-1zM20 8h1v1h-1zM22 8h1v1h-1zM24 8h1v1h-1zM26 8h1v1h-1zM28 8h1v1h-1zM30 8h1v1h-1zM32 8h1v1h-1zM34 8h1v1h-1zM36 8h1v1h-1zM38 8h1v1h-1zM40 8h1v1h-1zM42 8h1v1h-1zM44 8h1v1h-1zM46 8h1v1h-1zM48 8h1v1h-1zM50 8h1v1h-1zM0 10h1v1h-1zM2 10h1v1h-1zM4 10h1v1h-1zM6 10h1v1h-1zM8 10h1v1h-1zM10 10h1v1h-1zM12 10h1v1h-1zM14 10h1v1h-1zM16 10h1v1h-1zM18 10h1v1h-1zM20 10h1v1h-1zM22 10h1v1h-1zM24 10h1v1h-1zM26 10h1v1h-1zM28 10h1v1h-1zM30 10h1v1h-1zM32 10h1v1h-1zM34 10h1v1h-1zM36 10h1v1h-1zM38 10h1v1h-1zM40 10h1v1h-1zM42 10h1v1h-1zM44 10h1v1h-1zM46 10h1v1h-1zM48 10h1v1h-1zM50 10h1v1h-1zM0 12h1v1h-1zM2 12h1v1h-1zM4 12h1v1h-1zM6 12h1v1h-1zM8 12h1v1h-1zM10 12h1v1h-1zM12 12h1v1h-1zM14 12h1v1h-1zM16 12h1v1h-1zM18 12h1v1h-1zM20 12h1v1h-1zM22 12h1v1h-1zM24 12h1v1h-1zM26 12h1v1h-1zM28 12h1v1h-1zM30 12h1v1h-1zM32 12h1v1h-1zM34 12h1v1h-1zM36 12h1v1h-1zM38 12h1v1h-1zM40 12h1v1h-1zM42 12h1v1h-1zM44 12h1v1h-1zM46 12h1v1h-1zM48 12h1v1h-1zM50 12h1v1h-1zM0 14h1v1h-1zM2 14h1v1h-1zM4 14h1v1h-1zM6 14h1v1h-1zM8 14h1v1h-1zM10 14h1v1h-1zM12 14h1v1h-1zM14 14h1v1h-1zM16 14h1v1h-1zM18 14h1v1h-1zM20 14h1v1h-1zM22 14h1v1h-1zM24 14h1v1h-1zM26 14h1v1h-1zM28 14h1v1h-1zM30 14h1v1h-1zM32 14h1v1h-1zM34 14h1v1h-1zM36 14h1v1h-1zM38 14h1v1h-1zM40 14h1v1h-1zM42 14h1v1h-1zM44 14h1v1h-1zM46 14h1v1h-1zM48 14h1v1h-1zM50 14h1v1h-1zM0 16h1v1h-1zM2 16h1v1h-1zM4 16h1v1h-1zM6 16h1v1h-1zM8 16h1v1h-1zM10 16h1v1h-1zM12 16h1v1h-1zM14 16h1v1h-1zM16 16h1v1h-1zM18 16h1v1h-1zM20 16h1v1h-1zM22 16h1v1h-1zM24 16h1v1h-1zM26 16h1v1h-1zM28 16h1v1h-1zM30 16h1v1h-1zM32 16h1v1h-1zM34 16h1v1h-1zM36 16h1v1h-1zM38 16h1v1h-1zM40 16h1v1h-1zM42 16h1v1h-1zM44 16h1v1h-1zM46 16h1v1h-1zM48 16h1v1h-1zM50 16h1v1h-1zM0 18h1v1h-1zM2 18h1v1h-1zM4 18h1v1h-1zM6 18h1v1h-1zM8 18h1v1h-1zM10 18h1v1h-1zM12 18h1v1h-1zM14 18h1v1h-1zM16 18h1v1h-1zM18 18h1v1h-1zM20 18h1v1h-1zM22 18h1v1h-1zM24 18h1v1h-1zM26 18h1v1h-1zM28 18h1v1h-1zM30 18h1v1h-1zM32 18h1v1h-1zM34 18h1v1h-1zM36 18h1v1h-1zM38 18h1v1h-1zM40 18h1v1h-1zM42 18h1v1h-1zM44 18h1v1h-1zM46 18h1v1h-1zM48 18h1v1h-1zM50 18h1v1h-1zM0 20h1v1h-1zM2 20h1v1h-1zM4 20h1v1h-1zM6 20h1v1h-1zM8 20h1v1h-1zM10 20h1v1h-1zM12 20h1v1h-1zM14 20h1v1h-1zM16 20h1v1h-1zM18 20h1v1h-1zM20 20h1v1h-1zM22 20h1v1h-1zM24 20h1v1h-1zM26 20h1v1h-1zM28 20h1v1h-1zM30 20h1v1h-1zM32 20h1v1h-1zM34 20h1v1h-1zM36 20h1v1h-1zM38 20h1v1h-1zM40 20h1v1h-1zM42 20h1v1h-1zM44 20h1v1h-1zM46 20h1v1h-1zM48 20h1v1h-1zM50 20h1v1h-1zM0 22h1v1h-1zM2 22h1v1h-1zM4 22h1v1h-1zM6 22h1v1h-1zM8 22h1v1h-1zM10 22h1v1h-1zM12 22h1v1h-1zM14 22h1v1h-1zM16 22h1v1h-1zM18 22h1v1h-1zM20 22h1v1h-1zM22 22h1v1h-1zM24 22h1v1h-1zM26 22h1v1h-1zM28 22h1v1h-1zM30 22h1v1h-1zM32 22h1v1h-1zM34 22h1v1h-1zM36 22h1v1h-1zM38 22h1v1h-1zM40 22h1v1h-1zM42 22h1v1h-1zM44 22h1v1h-1zM46 22h1v1h-1zM48 22h1v1h-1zM50 22h1v1h-1zM0 24h1v1h-1zM2 24h1v1h-1zM4 24h1v1h-1zM6 24h1v1h-1zM8 24h1v1h-1zM10 24h1v1h-1zM12 24h1v1h-1zM14 24h1v1h-1zM16 24h1v1h-1zM18 24h1v1h-1zM20 24h1v1h-1zM22 24h1v1h-1zM24 24h1v1h-1zM26 24h1v1h-1zM28 24h1v1h-1zM30 24h1v1h-1zM32 24h1v1h-1zM34 24h1v1h-1zM36 24h1v1h-1zM38 24h1v1h-1zM40 24h1v1h-1zM42 24h1v1h-1zM44 24h1v1h-1zM46 24h1v1h-1zM48 24h1v1h-1zM50 24h1v1h-1zM0 26h1v1h-1zM2 26h1v1h-1zM4 26h1v1h-1zM6 26h1v1h-1zM8 26h1v1h-1zM10 26h1v1h-1zM12 26h1v1h-1zM14 26h1v1h-1zM16 26h1v1h-1zM18 26h1v1h-1zM20 26h1v1h-1zM22 26h1v1h-1zM24 26h1v1h-1zM26 26h1v1h-1zM28 26h1v1h-1zM30 26h1v1h-1zM32 26h1v1h-1zM34 26h1v1h-1zM36 26h1v1h-1zM38 26h1v1h-1zM40 26h1v1h-1zM42 26h1v1h-1zM44 26h1v1h-1zM46 26h1v1h-1zM48 26h1v1h-1zM50 26h1v1h-1zM0 28h1v1h-1zM2 28h1v1h-1zM4 28h1v1h-1zM6 28h1v1h-1zM8 28h1v1h-1zM10 28h1v1h-1zM12 28h1v1h-1zM14 28h1v1h-1zM16 28h1v1h-1zM18 28h1v1h-1zM20 28h1v1h-1zM22 28h1v1h-1zM24 28h1v1h-1zM26 28h1v1h-1zM28 28h1v1h-1zM30 28h1v1h-1zM32 28h1v1h-1zM34 28h1v1h-1zM36 28h1v1h-1zM38 28h1v1h-1zM40 28h1v1h-1zM42 28h1v1h-1zM44 28h1v1h-1zM46 28h1v1h-1zM48 28h1v1h-1zM50 28h1v1h-1zM0 30h1v1h-1zM2 30h1v1h-1zM4 30h1v1h-1zM6 30h1v1h-1zM8 30h1v1h-1zM10 30h1v1h-1zM12 30h1v1h-1zM14 30h1v1h-1zM16 30h1v1h-1zM18 30h1v1h-1zM20 30h1v1h-1zM22 30h1v1h-1zM24 30h1v1h-1zM26 30h1v1h-1zM28 30h1v1h-1zM30 30h1v1h-1zM32 30h1v1h-1zM34 30h1v1h-1zM36 30h1v1h-1zM38 30h1v1h-1zM40 30h1v1h-1zM42 30h1v1h-1zM44 30h1v1h-1zM46 30h1v1h-1zM48 30h1v1h-1zM50 30h1v1h-1zM0 32h1v1h-1zM2 32h1v1h-1zM4 32h1v1h-1zM6 32h1v1h-1zM8 32h1v1h-1zM10 32h1v1h-1zM12 32h1v1h-1zM14 32h1v1h-1zM16 32h1v1h-1zM18 32h1v1h-1zM20 32h1v1h-1zM22 32h1v1h-1zM24 32h1v1h-1zM26 32h1v1h-1zM28 32h1v1h-1zM30 32h1v1h-1zM32 32h1v1h-1zM34 32h1v1h-1zM36 32h1v1h-1zM38 32h1v1h-1zM40 32h1v1h-1zM42 32h1v1h-1zM44 32h1v1h-1zM46 32h1v1h-1zM48 32h1v1h-1zM50 32h1v1h-1zM0 34h1v1h-1zM2 34h1v1h-1zM4 34h1v1h-1zM6 34h1v1h-1zM8 34h1v1h-1zM10 34h1v1h-1zM12 34h1v1h-1zM14 34h1v1h-1zM16 34h1v1h-1zM18 34h1v1h-1zM20 34h1v1h-1zM22 34h1v1h-1zM24 34h1v1h-1zM26 34h1v1h-1zM28 34h1v1h-1zM30 34h1v1h-1zM32 34h1v1h-1zM34 34h1v1h-1zM36 34h1v1h-1zM38 34h1v1h-1zM40 34h1v1h-1zM42 34h1v1h-1zM44 34h1v1h-1zM46 34h1v1h-1zM48 34h1v1h-1zM50 34h1v1h-1zM0 36h1v1h-1zM2 36h1v1h-1zM4 36h1v1h-1zM6 36h1v1h-1zM8 36h1v1h-1zM10 36h1v1h-1zM12 36h1v1h-1zM14 36h1v1h-1zM16 36h1v1h-1zM18 36h1v1h-1zM20 36h1v1h-1zM22 36h1v1h-1zM24 36h1v1h-1zM26 36h1v1h-1zM28 36h1v1h-1zM30 36h1v1h-1zM32 36h1v1h-1zM34 36h1v1h-1zM36 36h1v1h-1zM38 36h1v1h-1zM40 36h1v1h-1zM42 36h1v1h-1zM44 36h1v1h-1zM46 36h1v1h-1zM48 36h1v1h-1zM50 36h1v1h-1zM0 38h1v1h-1zM2 38h1v1h-1zM4 38h1v1h-1zM6 38h1v1h-1zM8 38h1v1h-1zM10 38h1v1h-1zM12 38h1v1h-1zM14 38h1v1h-1zM16 38h1v1h-1zM18 38h1v1h-1zM20 38h1v1h-1zM22 38h1v1h-1zM24 38h1v1h-1zM26 38h1v1h-1zM28 38h1v1h-1zM30 38h1v1h-1zM32 38h1v1h-1zM34 38h1v1h-1zM36 38h1v1h-1zM38 38h1v1h-1zM40 38h1v1h-1zM42 38h1v1h-1zM44 38h1v1h-1zM46 38h1v1h-1zM48 38h1v1h-1zM50 38h1v1h-1zM0 40h1v1h-1zM2 40h1v1h-1zM4 40h1v1h-1zM6 40h1v1h-1zM8 40h1v1h-1zM10 40h1v1h-1zM12 40h1v1h-1zM14 40h1v1h-1zM16 40h1v1h-1zM18 40h1v1h-1zM20 40h1v1h-1zM22 40h1v1h-1zM24 40h1v1h-1zM26 40h1v1h-1zM28 40h1v1h-1zM30 40h1v1h-1zM32 40h1v1h-1zM34 40h1v1h-1zM36 40h1v1h-1zM38 40h1v1h-1zM40 40h1v1h-1zM42 40h1v1h-1zM44 40h1v1h-1zM46 40h1v1h-1zM48 40h1v1h-1zM50 40h1v1h-1zM0 42h1v1h-1zM2 42h1v1h-1zM4 42h1v1h-1zM6 42h1v1h-1zM8 42h1v1h-1zM10 42h1v1h-1zM12 42h1v1h-1zM14 42h1v1h-1zM16 42h1v1h-1zM18 42h1v1h-1zM20 42h1v1h-1zM22 42h1v1h-1zM24 42h1v1h-1zM26 42h1v1h-1zM28 42h1v1h-1zM30 42h1v1h-1zM32 42h1v1h-1zM34 42h1v1h-1zM36 42h1v1h-1zM38 42h1v1h-1zM40 42h1v1h-1zM42 42h1v1h-1zM44 42h1v1h-1zM46 42h1v1h-1zM48 42h1v1h-1zM50 42h1v1h-1zM0 44h1v1h-1zM2 44h1v1h-1zM4 44h1v1h-1zM6 44h1v1h-1zM8 44h1v1h-1zM10 44h1v1h-1zM12 44h1v1h-1zM14 44h1v1h-1zM16 44h1v1h-1zM18 44h1v1h-1zM20 44h1v1h-1zM22 44h1v1h-1zM24 44h1v1h-1zM26 44h1v1h-1zM28 44h1v1h-1zM30 44h1v1h-1zM32 44h1v1h-1zM34 44h1v1h-1zM36 44h1v1h-1zM38 44h1v1h-1zM40 44h1v1h-1zM42 44h1v1h-1zM44 44h1v1h-1zM46 44h1v1h-1zM48 44h1v1h-1zM50 44h1v1h-1zM0 46h1v1h-1zM2 46h1v1h-1zM4 46h1v1h-1zM6 46h1v1h-1zM8 46h1v1h-1zM10 46h1v1h-1zM12 46h1v1h-1zM14 46h1v1h-1zM16 46h1v1h-1zM18 46h1v1h-1zM20 46h1v1h-1zM22 46h1v1h-1zM24 46h1v1h-1zM26 46h1v1h-1zM28 46h1v1h-1zM30 46h1v1h-1zM32 46h1v1h-1zM34 46h1v1h-1zM36 46h1v1h-1zM38 46h1v1h-1zM40 46h1v1h-1zM42 46h1v1h-1zM44 46h1v1h-1zM46 46h1v1h-1zM48 46h1v1h-1zM50 46h1v1h-1zM0 48h1v1h-1zM2 48h1v1h-1zM4 48h1v1h-1zM6 48h1v1h-1zM8 48h1v1h-1zM10 48h1v1h-1zM12 48h1v1h-1zM14 48h1v1h-1zM16 48h1v1h-1zM18 48h1v1h-1zM20 48h1v1h-1zM22 48h1v1h-1zM24 48h1v1h-1zM26 48h1v1h-1zM28 48h1v1h-1zM30 48h1v1h-1zM32 48h1v1h-1zM34 48h1v1h-1zM36 48h1v1h-1zM38 48h1v1h-1zM40 48h1v1h-1zM42 48h1v1h-1zM44 48h1v1h-1zM46 48h1v1h-1zM48 48h1v1h-1zM50 48h1v1h-1zM0 50h1v1h-1zM2 50h1v1h-1zM4 50h1v1h-1zM6 50h1v1h-1zM8 50h1v1h-1zM10 50h1v1h-1zM12 50h1v1h-1zM14 50h1v1h-1zM16 50h1v1h-1zM18 50h1v1h-1zM20 50h1v1h-1zM22 50h1v1h-1zM24 50h1v1h-1zM26 50h1v1h-1zM28 50h1v1h-1zM30 50h1v1h-1zM32 50h1v1h-1zM34 50h1v1h-1zM36 50h1v1h-1zM38 50h1v1h-1zM40 50h1v1h-1zM42 50h1v1h-1zM44 50h1v1h-1zM46 50h1v1h-1zM48 50h1v1h-1zM50 50h1v1h-1zM0 52h1v1h-1zM2 52h1v1h-1zM4 52h1v1h-1zM6 52h1v1h-1zM8 52h1v1h-1zM10 52h1v1h-1zM12 52h1v1h-1zM14 52h1v1h-1zM16 52h1v1h-1zM18 52h1v1h-1zM20 52h1v1h-1zM22 52h1v1h-1zM24 52h1v1h-1zM26 52h1v1h-1zM28 52h1v1h-1zM30 52h1v1h-1zM32 52h1v1h-1zM34 52h1v1h-1zM36 52h1v1h-1zM38 52h1v1h-1zM40 52h1v1h-1zM42 52h1v1h-1zM44 52h1v1h-1zM46 52h1v1h-1zM48 52h1v1h-1zM50 52h1v1h-1zM0 54h1v1h-1zM2 54h1v1h-1zM4 54h1v1h-1zM6 54h1v1h-1zM8 54h1v1h-1zM10 54h1v1h-1zM12 54h1v1h-1zM14 54h1v1h-1zM16 54h1v1h-1zM18 54h1v1h-1zM20 54h1v1h-1zM22 54h1v1h-1zM24 54h1v1h-1zM26 54h1v1h-1zM28 54h1v1h-1zM30 54h1v1h-1zM32 54h1v1h-1zM34 54h1v1h-1zM36 54h1v1h-1zM38 54h1v1h-1zM40 54h1v1h-1zM42 54h1v1h-1zM44 54h1v1h-1zM46 54h1v1h-1zM48 54h1v1h-1zM50 54h1v1h-1zM0 56h1v1h-1zM2 56h1v1h-1zM4 56h1v1h-1zM6 56h1v1h-1zM8 56h1v1h-1zM10 56h1v1h-1zM12 56h1v1h-1zM14 56h1v1h-1zM16 56h1v1h-1zM18 56h1v1h-1zM20 56h1v1h-1zM22 56h1v1h-1zM24 56h1v1h-1zM26 56h1v1h-1zM28 56h1v1h-1zM30 56h1v1h-1zM32 56h1v1h-1zM34 56h1v1h-1zM36 56h1v1h-1zM38 56h1v1h-1zM40 56h1v1h-1zM42 56h1v1h-1zM44 56h1v1h-1zM46 56h1v1h-1zM48 56h1v1h-1zM50 56h1v1h-1zM0 58h1v1h-1zM2 58h1v1h-1zM4 58h1v1h-1zM6 58h1v1h-1zM8 58h1v1h-1zM10 58h1v1h-1zM12 58h1v1h-1zM14 58h1v1h-1zM16 58h1v1h-1zM18 58h1v1h-1zM20 58h1v1h-1zM22 58h1v1h-1zM24 58h1v1h-1zM26 58h1v1h-1zM28 58h1v1h-1zM30 58h1v1h-1zM32 58h1v1h-1zM34 58h1v1h-1zM36 58h1v1h-1zM38 58h1v1h-1zM40 58h1v1h-1zM42 58h1v1h-1zM44 58h1v1h-1zM46 58h1v1h-1zM48 58h1v1h-1zM50 58h1v1h-1zM0 60h1v1h-1zM2 60h1v1h-1zM4 60h1v1h-1zM6 60h1v1h-1zM8 60h1v1h-1zM10 60h1v1h-1zM12 60h1v1h-1zM14 60h1v1h-1zM16 60h1v1h-1zM18 60h1v1h-1zM20 60h1v1h-1zM22 60h1v1h-1zM24 60h1v1h-1zM26 60h1v1h-1zM28 60h1v1h-1zM30 60h1v1h-1zM32 60h1v1h-1zM34 60h1v1h-1zM36 60h1v1h-1zM38 60h1v1h-1zM40 60h1v1h-1zM42 60h1v1h-1zM44 60h1v1h-1zM46 60h1v1h-1zM48 60h1v1h-1zM50 60h1v1h-1zM0 62h1v1h-1zM2 62h1v1h-1zM4 62h1v1h-1zM6 62h1v1h-1zM8 62h1v1h-1zM10 62h1v1h-1zM12 62h1v1h-1zM14 62h1v1h-1zM16 62h1v1h-1zM18 62h1v1h-1zM20 62h1v1h-1zM22 62h1v1h-1zM24 62h1v1h-1zM26 62h1v1h-1zM28 62h1v1h-1zM30 62h1v1h-1zM32 62h1v1h-1zM34 62h1v1h-1zM36 62h1v1h-1zM38 62h1v1h-1zM40 62h1v1h-1zM42 62h1v1h-1zM44 62h1v1h-1zM46 62h1v1h-1zM48 62h1v1h-1zM50 62h1v1h-1zM0 64h1v1h-1zM2 64h1v1h-1zM4 64h1v1h-1zM6 64h1v1h-1zM8 64h1v1h-1zM10 64h1v1h-1zM12 64h1v1h-1zM14 64h1v1h-1zM16 64h1v1h-1zM18 64h1v1h-1zM20 64h1v1h-1zM22 64h1v1h-1zM24 64h1v1h-1zM26 64h1v1h-1zM28 64h1v1h-1zM30 64h1v1h-1zM32 64h1v1h-1zM34 64h1v1h-1zM36 64h1v1h-1zM38 64h1v1h-1zM40 64h1v1h-1zM42 64h1v1h-1zM44 64h1v1h-1zM46 64h1v1h-1zM48 64h1v1h-1zM50 64h1v1h-1zM0 66h1v1h-1zM2 66h1v1h-1zM4 66h1v1h-1zM6 66h1v1h-1zM8 66h1v1h-1zM10 66h1v1h-1zM12 66h1v1h-1zM14 66h1v1h-1zM16 66h1v1h-1zM18 66h1v1h-1zM20 66h1v1h-1zM22 66h1v1h-1zM24 66h1v1h-1zM26 66h1v1h-1zM28 66h1v1h-1zM30 66h1v1h-1zM32 66h1v1h-1zM34 66h1v1h-1zM36 66h1v1h-1zM38 66h1v1h-1zM40 66h1v1h-1zM42 66h1v1h-1zM44 66h1v1h-1zM46 66h1v1h-1zM48 66h1v1h-1zM50 66h1v1h-1zM0 68h1v1h-1zM2 68h1v1h-1zM4 68h1v1h-1zM6 68h1v1h-1zM8 68h1v1h-1zM10 68h1v1h-1zM12 68h1v1h-1zM14 68h1v1h-1zM16 68h1v1h-1zM18 68h1v1h-1zM20 68h1v1h-1zM22 68h1v1h-1zM24 68h1v1h-1zM26 68h1v1h-1zM28 68h1v1h-1zM30 68h1v1h-1zM32 68h1v1h-1zM34 68h1v1h-1zM36 68h1v1h-1zM38 68h1v1h-1zM40 68h1v1h-1zM42 68h1v1h-1zM44 68h1v1h-1zM46 68h1v1h-1zM48 68h1v1h-1zM50 68h1v1h-1zM0 70h1v1h-1zM2 70h1v1h-1zM4 70h1v1h-1zM6 70h1v1h-1zM8 70h1v1h-1zM10 70h1v1h-1zM12 70h1v1h-1zM14 70h1v1h-1zM16 70h1v1h-1zM18 70h1v1h-1zM20 70h1v1h-1zM22 70h1v1h-1zM24 70h1v1h-1zM26 70h1v1h-1zM28 70h1v1h-1zM30 70h1v1h-1zM32 70h1v1h-1zM34 70h1v1h-1zM36 70h1v1h-1zM38 70h1v1h-1zM40 70h1v1h-1zM42 70h1v1h-1zM44 70h1v1h-1zM46 70h1v1h-1zM48 70h1v1h-1zM50 70h1v1h-1zM0 72h1v1h-1zM2 72h1v1h-1zM4 72h1v1h-1zM6 72h1v1h-1zM8 72h1v1h-1zM10 72h1v1h-1zM12 72h1v1h-1zM14 72h1v1h-1zM16 72h1v1h-1zM18 72h1v1h-1zM20 72h1v1h-1zM22 72h1v1h-1zM24 72h1v1h-1zM26 72h1v1h-1zM28 72h1v1h-1zM30 72h1v1h-1zM32 72h1v1h-1zM34 72h1v1h-1zM36 72h1v1h-1zM38 72h1v1h-1zM40 72h1v1h-1zM42 72h1v1h-1zM44 72h1v1h-1zM46 72h1v1h-1zM48 72h1v1h-1zM50 72h1v1h-1zM0 74h1v1h-1zM2 74h1v1h-1zM4 74h1v1h-1zM6 74h1v1h-1zM8 74h1v1h-1zM10 74h1v1h-1zM12 74h1v1h-1zM14 74h1v1h-1zM16 74h1v1h-1zM18 74h1v1h-1zM20 74h1v1h-1zM22 74h1v1h-1zM24 74h1v1h-1zM26 74h1v1h-1zM28 74h1v1h-1zM30 74h1v1h-1zM32 74h1v1h-1zM34 74h1v1h-1zM36 74h1v1h-1zM38 74h1v1h-1zM40 74h1v1h-1zM42 74h1v1h-1zM44 74h1v1h-1zM46 74h1v1h-1zM48 74h1v1h-1zM50 74h1v1h-1zM0 76h1v1h-1zM2 76h1v1h-1zM4 76h1v1h-1zM6 76h1v1h-1zM8 76h1v1h-1zM10 76h1v1h-1zM12 76h1v1h-1zM14 76h1v1h-1zM16 76h1v1h-1zM18 76h1v1h-1zM20 76h1v1h-1zM22 76h1v1h-1zM24 76h1v1h-1zM26 76h1v1h-1zM28 76h1v1h-1zM30 76h1v1h-1zM32 76h1v1h-1zM34 76h1v1h-1zM36 76h1v1h-1zM38 76h1v1h-1zM40 76h1v1h-1zM42 76h1v1h-1zM44 76h1v1h-1zM46 76h1v1h-1zM48 76h1v1h-1zM50 76h1v1h-1zM0 78h1v1h-1zM2 78h1v1h-1zM4 78h1v1h-1zM6 78h1v1h-1zM8 78h1v1h-1zM10 78h1v1h-1zM12 78h1v1h-1zM14 78h1v1h-1zM16 78h1v1h-1zM18 78h1v1h-1zM20 78h1v1h-1zM22 78h1v1h-1zM24 78h1v1h-1zM26 78h1v1h-1zM28 78h1v1h-1zM30 78h1v1h-1zM32 78h1v1h-1zM34 78h1v1h-1zM36 78h1v1h-1zM38 78h1v1h-1zM40 78h1v1h-1zM42 78h1v1h-1zM44 78h1v1h-1zM46 78h1v1h-1zM48 78h1v1h-1zM50 78h1v1h-1z"/><path fill="#ff0000" d="M1 1h1v1h-1zM3 1h1v1h-1zM5 1h1v1h-1zM7 1h1v1h-1zM9 1h1v1h-1zM11 1h1v1h-1zM13 1h1v1h-1zM15 1h1v1h-1zM17 1h1v1h-1zM19 1h1v1h-1zM21 1h1v1h-1zM23 1h1v1h-1zM25 1h1v1h-1zM27 1h1v1h-1zM29 1h1v1h-1zM31 1h1v1h-1zM33 1h1v1h-1zM35 1h1v1h-1zM37 1h1v1h-1zM39 1h1v1h-1zM41 1h1v1h-1zM43 1h1v1h-1zM45 1h1v1h-1zM47 1h1v1h-1zM49 1h1v1h-1zM51 1h1v1h-1zM1 3h1v1h-1zM3 3h1v1h-1zM5 3h1v1h-1zM7 3h1v1h-1zM9 3h1v1h-1zM11 3h1v1h-1zM13 3h1v1h-1zM15 3h1v1h-1zM17 3h1v1h-1zM19 3h1v1h-1zM21 3h1v1h-1zM23 3h1v1h-1zM25 3h1v1h-1zM27 3h1v1h-1zM29 3h1v1h-1zM31 3h1v1h-1zM33 3h1v1h-1zM35 3h1v1h-1zM37 3h1v1h-1zM39 3h1v1h-1zM41 3h1v1h-1zM43 3h1v1h-1zM45 3h1v1h-1zM47 3h1v1h-1zM49 3h1v1h-1zM51 3h1v1h-1zM1 5h1v1h-1zM3 5h1v1h-1zM5 5h1v1h-1zM7 5h1v1h-1zM9 5h1v1h-1zM11 5h1v1h-1zM13 5h1v1h-1zM15 5h1v1h-1zM17 5h1v1h-1zM19 5h1v1h-1zM21 5h1v1h-1zM23 5h1v1h-1zM25 5h1v1h-1zM27 5h1v1h-1zM29 5h1v1h-1zM31 5h1v1h-1zM33 5h1v1h-1zM35 5h1v1h-1zM37 5h1v1h-1zM39 5h1v1h-1zM41 5h1v1h-1zM43 5h1v1h-1zM45 5h1v1h-1zM47 5h1v1h-1zM49 5h1v1h-1zM51 5h1v1h-1zM1 7h1v1h-1zM3 7h1v1h-1zM5 7h1v1h-1zM7 7h1v1h-1zM9 7h1v1h-1zM11 7h1v1h-1zM13 7h1v1h-1zM15 7h1v1h-1zM17 7h1v1h-1zM19 7h1v1h-1zM21 7h1v1h-1zM23 7h1v1h-1zM25 7h1v1h-1zM27 7h1v1h-1zM29 7h1v1h-1zM31 7h1v1h-1zM33 7h1v1h-1zM35 7h1v1h-1zM37 7h1v1h-1zM39 7h1v1h-1zM41 7h1v1h-1zM43 7h1v1h-1zM45 7h1v1h-1zM47 7h1v1h-1zM49 7h1v1h-1zM51 7h1v1h-1zM1 9h1v1h-1zM3 9h1v1h-1zM5 9h1v1h-1zM7 9h1v1h-1zM9 9h1v1h-1zM11 9h1v1h-1zM13 9h1v1h-1zM15 9h1v1h-1zM17 9h1v1h-1zM19 9h1v1h-1zM21 9h1v1h-1zM23 9h1v1h-1zM25 9h1v1h-1zM27 9h1v1h-1zM29 9h1v1h-1zM31 9h1v1h-1zM33 9h1v1h-1zM35 9h1v1h-1zM37 9h1v1h-1zM39 9h1v1h-1zM41 9h1v1h-1zM43 9h1v1h-1zM45 9h1v1h-1zM47 9h1v1h-1zM49 9h1v1h-1zM51 9h1v1h-1zM1 11h1v1h-1zM3 11h1v1h-1zM5 11h1v1h-1zM7 11h1v1h-1zM9 11h1v1h-1zM11 11h1v1h-1zM13 11h1v1h-1zM15 11h1v1h-1zM17 11h1v1h-1zM19 11h1v1h-1zM21 11h1v1h-1zM23 11h1v1h-1zM25 11h1v1h-1zM27 11h1v1h-1zM29 11h1v1h-1zM31 11h1v1h-1zM33 11h1v1h-1zM35 11h1v1h-1zM37 11h1v1h-1zM39 11h1v1h-1zM41 11h1v1h-1zM43 11h1v1h-1zM45 11h1v1h-1zM47 11h1v1h-1zM49 11h1v1h-1zM51 11h1v1h-1zM1 13h1v1h-1zM3 13h1v1h-1zM5 13h1v1h-1zM7 13h1v1h-1zM9 13h1v1h-1zM11 13h1v1h-1zM13 13h1v1h-1zM15 13h1v1h-1zM17 13h1v1h-1zM19 13h1v1h-1zM21 13h1v1h-1zM23 13h1v1h-1zM25 13h1v1h-1zM27 13h1v1h-1zM29 13h1v1h-1zM31 13h1v1h-1zM33 13h1v1h-1zM35 13h1v1h-1zM37 13h1v1h-1zM39 13h1v1h-1zM41 13h1v1h-1zM43 13h1v1h-1zM45 13h1v1h-1zM47 13h1v1h-1zM49 13h1v1h-1zM51 13h1v1h-1zM1 15h1v1h-1zM3 15h1v1h-1zM5 15h1v1h-1zM7 15h1v1h-1zM9 15h1v1h-1zM11 15h1v1h-1zM13 15h1v1h-1zM15 15h1v1h-1zM17 15h1v1h-1zM19 15h1v1h-1zM21 15h1v1h-1zM23 15h1v1h-1zM25 15h1v1h-1zM27 15h1v1h-1zM29 15h1v1h-1zM31 15h1v1h-1zM33 15h1v1h-1zM35 15h1v1h-1zM37 15h1v1h-1zM39 15h1v1h-1zM41 15h1v1h-1zM43 15h1v1h-1zM45 15h1v1h-1zM47 15h1v1h-1zM49 15h1v1h-1zM51 15h1v1h-1zM1 17h1v1h-1zM3 17h1v1h-1zM5 17h1v1h-1zM7 17h1v1h-1zM9 17h1v1h-1zM11 17h1v1h-1zM13 17h1v1h-1zM15 17h1v1h-1zM17 17h1v1h-1zM19 17h1v1h-1zM21 17h1v1h-1zM23 17h1v1h-1zM25 17h1v1h-1zM27 17h1v1h-1zM29 17h1v1h-1zM31 17h1v1h-1zM33 17h1v1h-1zM35 17h1v1h-1zM37 17h1v1h-1zM39 17h1v1h-1zM41 17h1v1h-1zM43 17h1v1h-1zM45 17h1v1h-1zM47 17h1v1h-1zM49 17h1v1h-1zM51 17h1v1h-1zM1 19h1v1h-1zM3 19h1v1h-1zM5 19h1v1h-1zM7 19h1v1h-1zM9 19h1v1h-1zM11 19h1v1h-1zM13 19h1v1h-1zM15 19h1v1h-1zM17 19h1v1h-1zM19 19h1v1h-1zM21 19h1v1h-1zM23 19h1v1h-1zM25 19h1v1h-1zM27 19h1v1h-1zM29 19h1v1h-1zM31 19h1v1h-1zM33 19h1v1h-1zM35 19h1v1h-1zM37 19h1v1h-1zM39 19h1v1h-1zM41 19h1v1h-1zM43 19h1v1h-1zM45 19h1v1h-1zM47 19h1v1h-1zM49 19h1v1h-1zM51 19h1v1h-1zM1 21h1v1h-1zM3 21h1v1h-1zM5 21h1v1h-1zM7 21h1v1h-1zM9 21h1v1h-1zM11 21h1v1h-1zM13 21h1v1h-1zM15 21h1v1h-1zM17 21h1v1h-1zM19 21h1v1h-1zM21 21h1v1h-1zM23 21h1v1h-1zM25 21h1v1h-1zM27 21h1v1h-1zM29 21h1v1h-1zM31 21h1v1h-1zM33 21h1v1h-1zM35 21h1v1h-1zM37 21h1v1h-1zM39 21h1v1h-1zM41 21h1v1h-1zM43 21h1v1h-1zM45 21h1v1h-1zM47 21h1v1h-1zM49 21h1v1h-1zM51 21h1v1h-1zM1 23h1v1h-1zM3 23h1v1h-1zM5 23h1v1h-1zM7 23h1v1h-1zM9 23h1v1h-1zM11 23h1v1h-1zM13 23h1v1h-1zM15 23h1v1h-1zM17 23h1v1h-1zM19 23h1v1h-1zM21 23h1v1h-1zM23 23h1v1h-1zM25 23h1v1h-1zM27 23h1v1h-1zM29 23h1v1h-1zM31 23h1v1h-1zM33 23h1v1h-1zM35 23h1v1h-1zM37 23h1v1h-1zM39 23h1v1h-1zM41 23h1v1h-1zM43 23h1v1h-1zM45 23h1v1h-1zM47 23h1v1h-1zM49 23h1v1h-1zM51 23h1v1h-1zM1 25h1v1h-1zM3 25h1v1h-1zM5 25h1v1h-1zM7 25h1v1h-1zM9 25h1v1h-1zM11 25h1v1h-1zM13 25h1v1h-1zM15 25h1v1h-1zM17 25h1v1h-1zM19 25h1v1h-1zM21 25h1v1h-1zM23 25h1v1h-1zM25 25h1v1h-1zM27 25h1v1h-1zM29 25h1v1h-1zM31 25h1v1h-1zM33 25h1v1h-1zM35 25h1v1h-1zM37 25h1v1h-1zM39 25h1v1h-1zM41 25h1v1h-1zM43 25h1v1h-1zM45 25h1v1h-1zM47 25h1v1h-1zM49 25h1v1h-1zM51 25h1v1h-1zM1 27h1v1h-1zM3 27h1v1h-1zM5 27h1v1h-1zM7 27h1v1h-1zM9 27h1v1h-1zM11 27h1v1h-1zM13 27h1v1h-1zM15 27h1v1h-1zM17 27h1v1h-1zM19 27h1v1h-1zM21 27h1v1h-1zM23 27h1v1h-1zM25 27h1v1h-1zM27 27h1v1h-1zM29 27h1v1h-1zM31 27h1v1h-1zM33 27h1v1h-1zM35 27h1v1h-1zM37 27h1v1h-1zM39 27h1v1h-1zM41 27h1v1h-1zM43 27h1v1h-1zM45 27h1v1h-1zM47 27h1v1h-1zM49 27h1v1h-1zM51 27h1v1h-1zM1 29h1v1h-1zM3 29h1v1h-1zM5 29h1v1h-1zM7 29h1v1h-1zM9 29h1v1h-1zM11 29h1v1h-1zM13 29h1v1h-1zM15 29h1v1h-1zM17 29h1v1h-1zM19 29h1v1h-1zM21 29h1v1h-1zM23 29h1v1h-1zM25 29h1v1h-1zM27 29h1v1h-1zM29 29h1v1h-1zM31 29h1v1h-1zM33 29h1v1h-1zM35 29h1v1h-1zM37 29h1v1h-1zM39 29h1v1h-1zM41 29h1v1h-1zM43 29h1v1h-1zM45 29h1v1h-1zM47 29h1v1h-1zM49 29h1v1h-1zM51 29h1v1h-1zM1 31h1v1h-1zM3 31h1v1h-1zM5 31h1v1h-1zM7 31h1v1h-1zM9 31h1v1h-1zM11 31h1v1h-1zM13 31h1v1h-1zM15 31h1v1h-1zM17 31h1v1h-1zM19 31h1v1h-1zM21 31h1v1h-1zM23 31h1v1h-1zM25 31h1v1h-1zM27 31h1v1h-1zM29 31h1v1h-1zM31 31h1v1h-1zM33 31h1v1h-1zM35 31h1v1h-1zM37 31h1v1h-1zM39 31h1v1h-1zM41 31h1v1h-1zM43 31h1v1h-1zM45 31h1v1h-1zM47 31h1v1h-1zM49 31h1v1h-1zM51 31h1v1h-1zM1 33h1v1h-1zM3 33h1v1h-1zM5 33h1v1h-1zM7 33h1v1h-1zM9 33h1v1h-1zM11 33h1v1h-1zM13 33h1v1h-1zM15 33h1v1h-1zM17 33h1v1h-1zM19 33h1v1h-1zM21 33h1v1h-1zM23 33h1v1h-1zM25 33h1v1h-1zM27 33h1v1h-1zM29 33h1v1h-1zM31 33h1v1h-1zM33 33h1v1h-1zM35 33h1v1h-1zM37 33h1v1h-1zM39 33h1v1h-1zM41 33h1v1h-1zM43 33h1v1h-1zM45 33h1v1h-1zM47 33h1v1h-1zM49 33h1v1h-1zM51 33h1v1h-1zM1 35h1v1h-1zM3 35h1v1h-1zM5 35h1v1h-1zM7 35h1v1h-1zM9 35h1v1h-1zM11 35h1v1h-1zM13 35h1v1h-1zM15 35h1v1h-1zM17 35h1v1h-1zM19 35h1v1h-1zM21 35h1v1h-1zM23 35h1v1h-1zM25 35h1v1h-1zM27 35h1v1h-1zM29 35h1v1h-1zM31 35h1v1h-1zM33 35h1v1h-1zM35 35h1v1h-1zM37 35h1v1h-1zM39 35h1v1h-1zM41 35h1v1h-1zM43 35h1v1h-1zM45 35h1v1h-1zM47 35h1v1h-1zM49 35h1v1h-1zM51 35h1v1h-1zM1 37h1v1h-1zM3 37h1v1h-1zM5 37h1v1h-1zM7 37h1v1h-1zM9 37h1v1h-1zM11 37h1v1h-1zM13 37h1v1h-1zM15 37h1v1h-1zM17 37h1v1h-1zM19 37h1v1h-1zM21 37h1v1h-1zM23 37h1v1h-1zM25 37h1v1h-1zM27 37h1v1h-1zM29 37h1v1h-1zM31 37h1v1h-1zM33 37h1v1h-1zM35 37h1v1h-1zM37 37h1v1h-1zM39 37h1v1h-1zM41 37h1v1h-1zM43 37h1v1h-1zM45 37h1v1h-1zM47 37h1v1h-1zM49 37h1v1h-1zM51 37h1v1h-1zM1 39h1v1h-1zM3 39h1v1h-1zM5 39h1v1h-1zM7 39h1v1h-1zM9 39h1v1h-1zM11 39h1v1h-1zM13 39h1v1h-1zM15 39h1v1h-1zM17 39h1v1h-1zM19 39h1v1h-1zM21 39h1v1h-1zM23 39h1v1h-1zM25 39h1v1h-1zM27 39h1v1h-1zM29 39h1v1h-1zM31 39h1v1h-1zM33 39h1v1h-1zM35 39h1v1h-1zM37 39h1v1h-1zM39 39h1v1h-1zM41 39h1v1h-1zM43 39h1v1h-1zM45 39h1v1h-1zM47 39h1v1h-1zM49 39h1v1h-1zM51 39h1v1h-1zM1 41h1v1h-1zM3 41h1v1h-1zM5 41h1v1h-1zM7 41h1v1h-1zM9 41h1v1h-1zM11 41h1v1h-1zM13 41h1v1h-1zM15 41h1v1h-1zM17 41h1v1h-1zM19 41h1v1h-1zM21 41h1v1h-1zM23 41h1v1h-1zM25 41h1v1h-1zM27 41h1v1h-1zM29 41h1v1h-1zM31 41h1v1h-1zM33 41h1v1h-1zM35 41h1v1h-1zM37 41h1v1h-1zM39 41h1v1h-1zM41 41h1v1h-1zM43 41h1v1h-1zM45 41h1v1h-1zM47 41h1v1h-1zM49 41h1v1h-1zM51 41h1v1h-1zM1 43h1v1h-1zM3 43h1v1h-1zM5 43h1v1h-1zM7 43h1v1h-1zM9 43h1v1h-1zM11 43h1v1h-1zM13 43h1v1h-1zM15 43h1v1h-1zM17 43h1v1h-1zM19 43h1v1h-1zM21 43h1v1h-1zM23 43h1v1h-1zM25 43h1v1h-1zM27 43h1v1h-1zM29 43h1v1h-1zM31 43h1v1h-1zM33 43h1v1h-1zM35 43h1v1h-1zM37 43h1v1h-1zM39 43h1v1h-1zM41 43h1v1h-1zM43 43h1v1h-1zM45 43h1v1h-1zM47 43h1v1h-1zM49 43h1v1h-1zM51 43h1v1h-1zM1 45h1v1h-1zM3 45h1v1h-1zM5 45h1v1h-1zM7 45h1v1h-1zM9 45h1v1h-1zM11 45h1v1h-1zM13 45h1v1h-1zM15 45h1v1h-1zM17 45h1v1h-1zM19 45h1v1h-1zM21 45h1v1h-1zM23 45h1v1h-1zM25 45h1v1h-1zM27 45h1v1h-1zM29 45h1v1h-1zM31 45h1v1h-1zM33 45h1v1h-1zM35 45h1v1h-1zM37 45h1v1h-1zM39 45h1v1h-1zM41 45h1v1h-1zM43 45h1v1h-1zM45 45h1v1h-1zM47 45h1v1h-1zM49 45h1v1h-1zM51 45h1v1h-1zM1 47h1v1h-1zM3 47h1v1h-1zM5 47h1v1h-1zM7 47h1v1h-1zM9 47h1v1h-1zM11 47h1v1h-1zM13 47h1v1h-1zM15 47h1v1h-1zM17 47h1v1h-1zM19 47h1v1h-1zM21 47h1v1h-1zM23 47h1v1h-1zM25 47h1v1h-1zM27 47h1v1h-1zM29 47h1v1h-1zM31 47h1v1h-1zM33 47h1v1h-1zM35 47h1v1h-1zM37 47h1v1h-1zM39 47h1v1h-1zM41 47h1v1h-1zM43 47h1v1h-1zM45 47h1v1h-1zM47 47h1v1h-1zM49 47h1v1h-1zM51 47h1v1h-1zM1 49h1v1h-1zM3 49h1v1h-1zM5 49h1v1h-1zM7 49h1v1h-1zM9 49h1v1h-1zM11 49h1v1h-1zM13 49h1v1h-1zM15 49h1v1h-1zM17 49h1v1h-1zM19 49h1v1h-1zM21 49h1v1h-1zM23 49h1v1h-1zM25 49h1v1h-1zM27 49h1v1h-1zM29 49h1v1h-1zM31 49h1v1h-1zM33 49h1v1h-1zM35 49h1v1h-1zM37 49h1v1h-1zM39 49h1v1h-1zM41 49h1v1h-1zM43 49h1v1h-1zM45 49h1v1h-1zM47 49h1v1h-1zM49 49h1v1h-1zM51 49h1v1h-1zM1 51h1v1h-1zM3 51h1v1h-1zM5 51h1v1h-1zM7 51h1v1h-1zM9 51h1v1h-1zM11 51h1v1h-1zM13 51h1v1h-1zM15 51h1v1h-1zM17 51h1v1h-1zM19 51h1v1h-1zM21 51h1v1h-1zM23 51h1v1h-1zM25 51h1v1h-1zM27 51h1v1h-1zM29 51h1v1h-1zM31 51h1v1h-1zM33 51h1v1h-1zM35 51h1v1h-1zM37 51h1v1h-1zM39 51h1v1h-1zM41 51h1v1h-1zM43 51h1v1h-1zM45 51h1v1h-1zM47 51h1v1h-1zM49 51h1v1h-1zM51 51h1v1h-1zM1 53h1v1h-1zM3 53h1v1h-1zM5 53h1v1h-1zM7 53h1v1h-1zM9 53h1v1h-1zM11 53h1v1h-1zM13 53h1v1h-1zM15 53h1v1h-1zM17 53h1v1h-1zM19 53h1v1h-1zM21 53h1v1h-1zM23 53h1v1h-1zM25 53h1v1h-1zM27 53h1v1h-1zM29 53h1v1h-1zM31 53h1v1h-1zM33 53h1v1h-1zM35 53h1v1h-1zM37 53h1v1h-1zM39 53h1v1h-1zM41 53h1v1h-1zM43 53h1v1h-1zM45 53h1v1h-1zM47 53h1v1h-1zM49 53h1v1h-1zM51 53h1v1h-1zM1 55h1v1h-1zM3 55h1v1h-1zM5 55h1v1h-1zM7 55h1v1h-1zM9 55h1v1h-1zM11 55h1v1h-1zM13 55h1v1h-1zM15 55h1v1h-1zM17 55h1v1h-1zM19 55h1v1h-1zM21 55h1v1h-1zM23 55h1v1h-1zM25 55h1v1h-1zM27 55h1v1h-1zM29 55h1v1h-1zM31 55h1v1h-1zM33 55h1v1h-1zM35 55h1v1h-1zM37 55h1v1h-1zM39 55h1v1h-1zM41 55h1v1h-1zM43 55h1v1h-1zM45 55h1v1h-1zM47 55h1v1h-1zM49 55h1v1h-1zM51 55h1v1h-1zM1 57h1v1h-1zM3 57h1v1h-1zM5 57h1v1h-1zM7 57h1v1h-1zM9 57h1v1h-1zM11 57h1v1h-1zM13 57h1v1h-1zM15 57h1v1h-1zM17 57h1v1h-1zM19 57h1v1h-1zM21 57h1v1h-1zM23 57h1v1h-1zM25 57h1v1h-1zM27 57h1v1h-1zM29 57h1v1h-1zM31 57h1v1h-1zM33 57h1v1h-1zM35 57h1v1h-1zM37 57h1v1h-1zM39 57h1v1h-1zM41 57h1v1h-1zM43 57h1v1h-1zM45 57h1v1h-1zM47 57h1v1h-1zM49 57h1v1h-1zM51 57h1v1h-1zM1 59h1v1h-1zM3 59h1v1h-1zM5 59h1v1h-1zM7 59h1v1h-1zM9 59h1v1h-1zM11 59h1v1h-1zM13 59h1v1h-1zM15 59h1v1h-1zM17 59h1v1h-1zM19 59h1v1h-1zM21 59h1v1h-1zM23 59h1v1h-1zM25 59h1v1h-1zM27 59h1v1h-1zM29 59h1v1h-1zM31 59h1v1h-1zM33 59h1v1h-1zM35 59h1v1h-1zM37 59h1v1h-1zM39 59h1v1h-1zM41 59h1v1h-1zM43 59h1v1h-1zM45 59h1v1h-1zM47 59h1v1h-1zM49 59h1v1h-1zM51 59h1v1h-1zM1 61h1v1h-1zM3 61h1v1h-1zM5 61h1v1h-1zM7 61h1v1h-1zM9 61h1v1h-1zM11 61h1v1h-1zM13 61h1v1h-1zM15 61h1v1h-1zM17 61h1v1h-1zM19 61h1v1h-1zM21 61h1v1h-1zM23 61h1v1h-1zM25 61h1v1h-1zM27 61h1v1h-1zM29 61h1v1h-1zM31 61h1v1h-1zM33 61h1v1h-1zM35 61h1v1h-1zM37 61h1v1h-1zM39 61h1v1h-1zM41 61h1v1h-1zM43 61h1v1h-1zM45 61h1v1h-1zM47 61h1v1h-1zM49 61h1v1h-1zM51 61h1v1h-1zM1 63h1v1h-1zM3 63h1v1h-1zM5 63h1v1h-1zM7 63h1v1h-1zM9 63h1v1h-1zM11 63h1v1h-1zM13 63h1v1h-1zM15 63h1v1h-1zM17 63h1v1h-1zM19 63h1v1h-1zM21 63h1v1h-1zM23 63h1v1h-1zM25 63h1v1h-1zM27 63h1v1h-1zM29 63h1v1h-1zM31 63h1v1h-1zM33 63h1v1h-1zM35 63h1v1h-1zM37 63h1v1h-1zM39 63h1v1h-1zM41 63h1v1h-1zM43 63h1v1h-1zM45 63h1v1h-1zM47 63h1v1h-1zM49 63h1v1h-1zM51 63h1v1h-1zM1 65h1v1h-1zM3 65h1v1h-1zM5 65h1v1h-1zM7 65h1v1h-1zM9 65h1v1h-1zM11 65h1v1h-1zM13 65h1v1h-1zM15 65h1v1h-1zM17 65h1v1h-1zM19 65h1v1h-1zM21 65h1v1h-1zM23 65h1v1h-1zM25 65h1v1h-1zM27 65h1v1h-1zM29 65h1v1h-1zM31 65h1v1h-1zM33 65h1v1h-1zM35 65h1v1h-1zM37 65h1v1h-1zM39 65h1v1h-1zM41 65h1v1h-1zM43 65h1v1h-1zM45 65h1v1h-1zM47 65h1v1h-1zM49 65h1v1h-1zM51 65h1v1h-1zM1 67h1v1h-1zM3 67h1v1h-1zM5 67h1v1h-1zM7 67h1v1h-1zM9 67h1v1h-1zM11 67h1v1h-1zM13 67h1v1h-1zM15 67h1v1h-1zM17 67h1v1h-1zM19 67h1v1h-1zM21 67h1v1h-1zM23 67h1v1h-1zM25 67h1v1h-1zM27 67h1v1h-1zM29 67h1v1h-1zM31 67h1v1h-1zM33 67h1v1h-1zM35 67h1v1h-1zM37 67h1v1h-1zM39 67h1v1h-1zM41 67h1v1h-1zM43 67h1v1h-1zM45 67h1v1h-1zM47 67h1v1h-1zM49 67h1v1h-1zM51 67h1v1h-1zM1 69h1v1h-1zM3 69h1v1h-1zM5 69h1v1h-1zM7 69h1v1h-1zM9 69h1v1h-1zM11 69h1v1h-1zM13 69h1v1h-1zM15 69h1v1h-1zM17 69h1v1h-1zM19 69h1v1h-1zM21 69h1v1h-1zM23 69h1v1h-1zM25 69h1v1h-1zM27 69h1v1h-1zM29 69h1v1h-1zM31 69h1v1h-1zM33 69h1v1h-1zM35 69h1v1h-1zM37 69h1v1h-1zM39 69h1v1h-1zM41 69h1v1h-1zM43 69h1v1h-1zM45 69h1v1h-1zM47 69h1v1h-1zM49 69h1v1h-1zM51 69h1v1h-1zM1 71h1v1h-1zM3 71h1v1h-1zM5 71h1v1h-1zM7 71h1v1h-1zM9 71h1v1h-1zM11 71h1v1h-1zM13 71h1v1h-1zM15 71h1v1h-1zM17 71h1v1h-1zM19 71h1v1h-1zM21 71h1v1h-1zM23 71h1v1h-1zM25 71h1v1h-1zM27 71h1v1h-1zM29 71h1v1h-1zM31 71h1v1h-1zM33 71h1v1h-1zM35 71h1v1h-1zM37 71h1v1h-1zM39 71h1v1h-1zM41 71h1v1h-1zM43 71h1v1h-1zM45 71h1v1h-1zM47 71h1v1h-1zM49 71h1v1h-1zM51 71h1v1h-1zM1 73h1v1h-1zM3 73h1v1h-1zM5 73h1v1h-1zM7 73h1v1h-1zM9 73h1v1h-1zM11 73h1v1h-1zM13 73h1v1h-1zM15 73h1v1h-1zM17 73h1v1h-1zM19 73h1v1h-1zM21 73h1v1h-1zM23 73h1v1h-1zM25 73h1v1h-1zM27 73h1v1h-1zM29 73h1v1h-1zM31 73h1v1h-1zM33 73h1v1h-1zM35 73h1v1h-1zM37 73h1v1h-1zM39 73h1v1h-1zM41 73h1v1h-1zM43 73h1v1h-1zM45 73h1v1h-1zM47 73h1v1h-1zM49 73h1v1h-1zM51 73h1v1h-1zM1 75h1v1h-1zM3 75h1v1h-1zM5 75h1v1h-1zM7 75h1v1h-1zM9 75h1v1h-1zM11 75h1v1h-1zM13 75h1v1h-1zM15 75h1v1h-1zM17 75h1v1h-1zM19 75h1v1h-1zM21 75h1v1h-1zM23 75h1v1h-1zM25 75h1v1h-1zM27 75h1v1h-1zM29 75h1v1h-1zM31 75h1v1h-1zM33 75h1v1h-1zM35 75h1v1h-1zM37 75h1v1h-1zM39 75h1v1h-1zM41 75h1v1h-1zM43 75h1v1h-1zM45 75h1v1h-1zM47 75h1v1h-1zM49 75h1v1h-1zM51 75h1v1h-1zM1 77h1v1h-1zM3 77h1v1h-1zM5 77h1v1h-1zM7 77h1v1h-1zM9 77h1v1h-1zM11 77h1v1h-1zM13 77h1v1h-1zM15 77h1v1h-1zM17 77h1v1h-1zM19 77h1v1h-1zM21 77h1v1h-1zM23 77h1v1h-1zM25 77h1v1h-1zM27 77h1v1h-1zM29 77h1v1h-1zM31 77h1v1h-1zM33 77h1v1h-1zM35 77h1v1h-1zM37 77h1v1h-1zM39 77h1v1h-1zM41 77h1v1h-1zM43 77h1v1h-1zM45 77h1v1h-1zM47 77h1v1h-1zM49 77h1v1h-1zM51 77h1v1h-1zM1 79h1v1h-1zM3 79h1v1h-1zM5 79h1v1h-1zM7 79h1v1h-1zM9 79h1v1h-1zM11 79h1v1h-1zM13 79h1v1h-1zM15 79h1v1h-1zM17 79h1v1h-1zM19 79h1v1h-1zM21 79h1v1h-1zM23 79h1v1h-1zM25 79h1v1h-1zM27 79h1v1h-1zM29 79h1v1h-1zM31 79h1v1h-1zM33 79h1v1h-1zM35 79h1v1h-1zM37 79h1v1h-1zM39 79h1v1h-1zM41 79h1v1h-1zM43 79h1v1h-1zM45 79h1v1h-1zM47 79h1v1h-1zM49 79h1v1h-1zM51 79h1v1h-1z"/><path fill="#ff0000" d="M1 0h1v1h-1zM3 0h1v1h-1zM5 0h1v1h-1zM7 0h1v1h-1zM9 0h1v1h-1zM11 0h1v1h-1zM13 0h1v1h-1zM15 0h1v1h-1zM17 0h1v1h-1zM19 0h1v1h-1zM21 0h1v1h-1zM23 0h1v1h-1zM25 0h1v1h-1zM27 0h1v1h-1zM29 0h1v1h-1zM31 0h1v1h-1zM33 0h1v1h-1zM35 0h1v1h-1zM37 0h1v1h-1zM39 0h1v1h-1zM41 0h1v1h-1zM43 0h1v1h-1zM45 0h1v1h-1zM47 0h1v1h-1zM49 0h1v1h-1zM51 0h1v1h-1zM1 2h1v1h-1zM3 2h1v1h-1zM5 2h1v1h-1zM7 2h1v1h-1zM9 2h1v1h-1zM11 2h1v1h-1zM13 2h1v1h-1zM15 2h1v1h-1zM17 2h1v1h-1zM19 2h1v1h-1zM21 2h1v1h-1zM23 2h1v1h-1zM25 2h1v1h-1zM27 2h1v1h-1zM29 2h1v1h-1zM31 2h1v1h-1zM33 2h1v1h-1zM35 2h1v1h-1zM37 2h1v1h-1zM39 2h1v1h-1zM41 2h1v1h-1zM43 2h1v1h-1zM45 2h1v1h-1zM47 2h1v1h-1zM49 2h1v1h-1zM51 2h1v1h-1zM1 4h1v1h-1zM3 4h1v1h-1zM5 4h1v1h-1zM7 4h1v1h-1zM9 4h1v1h-1zM11 4h1v1h-1zM13 4h1v1h-1zM15 4h1v1h-1zM17 4h1v1h-1zM19 4h1v1h-1zM21 4h1v1h-1zM23 4h1v1h-1zM25 4h1v1h-1zM27 4h1v1h-1zM29 4h1v1h-1zM31 4h1v1h-1zM33 4h1v1h-1zM35 4h1v1h-1zM37 4h1v1h-1zM39 4h1v1h-1zM41 4h1v1h-1zM43 4h1v1h-1zM45 4h1v1h-1zM47 4h1v1h-1zM49 4h1v1h-1zM51 4h1v1h-1zM1 6h1v1h-1zM3 6h1v1h-1zM5 6h1v1h-1zM7 6h1v1h-1zM9 6h1v1h-1zM11 6h1v1h-1zM13 6h1v1h-1zM15 6h1v1h-1zM17 6h1v1h-1zM19 6h1v1h-1zM21 6h1v1h-1zM23 6h1v1h-1zM25 6h1v1h-1zM27 6h1v1h-1zM29 6h1v1h-1zM31 6h1v1h-1zM33 6h1v1h-1zM35 6h1v1h-1zM37 6h1v1h-1zM39 6h1v1h-1zM41 6h1v1h-1zM43 6h1v1h-1zM45 6h1v1h-1zM47 6h1v1h-1zM49 6h1v1h-1zM51 6h1v1h-1zM1 8h1v1h-1zM3 8h1v1h-1zM5 8h1v1h-1zM7 8h1v1h-1zM9 8h1v1h-1zM11 8h1v1h-1zM13 8h1v1h-1zM15 8h1v1h-1zM17 8h1v1h-1zM19 8h1v1h-1zM21 8h1v1h-1zM23 8h1v1h-1zM25 8h1v1h-1zM27 8h1v1h-1zM29 8h1v1h-1zM31 8h1v1h-1zM33 8h1v1h-1zM35 8h1v1h-1zM37 8h1v1h-1zM39 8h1v1h-1zM41 8h1v1h-1zM43 8h1v1h-1zM45 8h1v1h-1zM47 8h1v1h-1zM49 8h1v1h-1zM51 8h1v1h-1zM1 10h1v1h-1zM3 10h1v1h-1zM5 10h1v1h-1zM7 10h1v1h-1zM9 10h1v1h-1zM11 10h1v1h-1zM13 10h1v1h-1zM15 10h1v1h-1zM17 10h1v1h-1zM19 10h1v1h-1zM21 10h1v1h-1zM23 10h1v1h-1zM25 10h1v1h-1zM27 10h1v1h-1zM29 10h1v1h-1zM31 10h1v1h-1zM33 10h1v1h-1zM35 10h1v1h-1zM37 10h1v1h-1zM39 10h1v1h-1zM41 10h1v1h-1zM43 10h1v1h-1zM45 10h1v1h-1zM47 10h1v1h-1zM49 10h1v1h-1zM51 10h1v1h-1zM1 12h1v1h-1zM3 12h1v1h-1zM5 12h1v1h-1zM7 12h1v1h-1zM9 12h1v1h-1zM11 12h1v1h-1zM13 12h1v1h-1zM15 12h1v1h-1zM17 12h1v1h-1zM19 12h1v1h-1zM21 12h1v1h-1zM23 12h1v1h-1zM25 12h1v1h-1zM27 12h1v1h-1zM29 12h1v1h-1zM31 12h1v1h-1zM33 12h1v1h-1zM35 12h1v1h-1zM37 12h1v1h-1zM39 12h1v1h-1zM41 12h1v1h-1zM43 12h1v1h-1zM45 12h1v1h-1zM47 12h1v1h-1zM49 12h1v1h-1zM51 12h1v1h-1zM1 14h1v1h-1zM3 14h1v1h-1zM5 14h1v1h-1zM7 14h1v1h-1zM9 14h1v1h-1zM11 14h1v1h-1zM13 14h1v1h-1zM15 14h1v1h-1zM17 14h1v1h-1zM19 14h1v1h-1zM21 14h1v1h-1zM23 14h1v1h-1zM25 14h1v1h-1zM27 14h1v1h-1zM29 14h1v1h-1zM31 14h1v1h-1zM33 14h1v1h-1zM35 14h1v1h-1zM37 14h1v1h-1zM39 14h1v1h-1zM41 14h1v1h-1zM43 14h1v1h-1zM45 14h1v1h-1zM47 14h1v1h-1zM49 14h1v1h-1zM51 14h1v1h-1zM1 16h1v1h-1zM3 16h1v1h-1zM5 16h1v1h-1zM7 16h1v1h-1zM9 16h1v1h-1zM11 16h1v1h-1zM13 16h1v1h-1zM15 16h1v1h-1zM17 16h1v1h-1zM19 16h1v1h-1zM21 16h1v1h-1zM23 16h1v1h-1zM25 16h1v1h-1zM27 16h1v1h-1zM29 16h1v1h-1zM31 16h1v1h-1zM33 16h1v1h-1zM35 16h1v1h-1zM37 16h1v1h-1zM39 16h1v1h-1zM41 16h1v1h-1zM43 16h1v1h-1zM45 16h1v1h-1zM47 16h1v1h-1zM49 16h1v1h-1zM51 16h1v1h-1zM1 18h1v1h-1zM3 18h1v1h-1zM5 18h1v1h-1zM7 18h1v1h-1zM9 18h1v1h-1zM11 18h1v1h-1zM13 18h1v1h-1zM15 18h1v1h-1zM17 18h1v1h-1zM19 18h1v1h-1zM21 18h1v1h-1zM23 18h1v1h-1zM25 18h1v1h-1zM27 18h1v1h-1zM29 18h1v1h-1zM31 18h1v1h-1zM33 18h1v1h-1zM35 18h1v1h-1zM37 18h1v1h-1zM39 18h1v1h-1zM41 18h1v1h-1zM43 18h1v1h-1zM45 18h1v1h-1zM47 18h1v1h-1zM49 18h1v1h-1zM51 18h1v1h-1zM1 20h1v1h-1zM3 20h1v1h-1zM5 20h1v1h-1zM7 20h1v1h-1zM9 20h1v1h-1zM11 20h1v1h-1zM13 20h1v1h-1zM15 20h1v1h-1zM17 20h1v1h-1zM19 20h1v1h-1zM21 20h1v1h-1zM23 20h1v1h-1zM25 20h1v1h-1zM27 20h1v1h-1zM29 20h1v1h-1zM31 20h1v1h-1zM33 20h1v1h-1zM35 20h1v1h-1zM37 20h1v1h-1zM39 20h1v1h-1zM41 20h1v1h-1zM43 20h1v1h-1zM45 20h1v1h-1zM47 20h1v1h-1zM49 20h1v1h-1zM51 20h1v1h-1zM1 22h1v1h-1zM3 22h1v1h-1zM5 22h1v1h-1zM7 22h1v1h-1zM9 22h1v1h-1zM11 22h1v1h-1zM13 22h1v1h-1zM15 22h1v1h-1zM17 22h1v1h-1zM19 22h1v1h-1zM21 22h1v1h-1zM23 22h1v1h-1zM25 22h1v1h-1zM27 22h1v1h-1zM29 22h1v1h-1zM31 22h1v1h-1zM33 22h1v1h-1zM35 22h1v1h-1zM37 22h1v1h-1zM39 22h1v1h-1zM41 22h1v1h-1zM43 22h1v1h-1zM45 22h1v1h-1zM47 22h1v1h-1zM49 22h1v1h-1zM51 22h1v1h-1zM1 24h1v1h-1zM3 24h1v1h-1zM5 24h1v1h-1zM7 24h1v1h-1zM9 24h1v1h-1zM11 24h1v1h-1zM13 24h1v1h-1zM15 24h1v1h-1zM17 24h1v1h-1zM19 24h1v1h-1zM21 24h1v1h-1zM23 24h1v1h-1zM25 24h1v1h-1zM27 24h1v1h-1zM29 24h1v1h-1zM31 24h1v1h-1zM33 24h1v1h-1zM35 24h1v1h-1zM37 24h1v1h-1zM39 24h1v1h-1zM41 24h1v1h-1zM43 24h1v1h-1zM45 24h1v1h-1zM47 24h1v1h-1zM49 24h1v1h-1zM51 24h1v1h-1zM1 26h1v1h-1zM3 26h1v1h-1zM5 26h1v1h-1zM7 26h1v1h-1zM9 26h1v1h-1zM11 26h1v1h-1zM13 26h1v1h-1zM15 26h1v1h-1zM17 26h1v1h-1zM19 26h1v1h-1zM21 26h1v1h-1zM23 26h1v1h-1zM25 26h1v1h-1zM27 26h1v1h-1zM29 26h1v1h-1zM31 26h1v1h-1zM33 26h1v1h-1zM35 26h1v1h-1zM37 26h1v1h-1zM39 26h1v1h-1zM41 26h1v1h-1zM43 26h1v1h-1zM45 26h1v1h-1zM47 26h1v1h-1zM49 26h1v1h-1zM51 26h1v1h-1zM1 28h1v1h-1zM3 28h1v1h-1zM5 28h1v1h-1zM7 28h1v1h-1zM9 28h1v1h-1zM11 28h1v1h-1zM13 28h1v1h-1zM15 28h1v1h-1zM17 28h1v1h-1zM19 28h1v1h-1zM21 28h1v1h-1zM23 28h1v1h-1zM25 28h1v1h-1zM27 28h1v1h-1zM29 28h1v1h-1zM31 28h1v1h-1zM33 28h1v1h-1zM35 28h1v1h-1zM37 28h1v1h-1zM39 28h1v1h-1zM41 28h1v1h-1zM43 28h1v1h-1zM45 28h1v1h-1zM47 28h1v1h-1zM49 28h1v1h-1zM51 28h1v1h-1zM1 30h1v1h-1zM3 30h1v1h-1zM5 30h1v1h-1zM7 30h1v1h-1zM9 30h1v1h-1zM11 30h1v1h-1zM13 30h1v1h-1zM15 30h1v1h-1zM17 30h1v1h-1zM19 30h1v1h-1zM21 30h1v1h-1zM23 30h1v1h-1zM25 30h1v1h-1zM27 30h1v1h-1zM29 30h1v1h-1zM31 30h1v1h-1zM33 30h1v1h-1zM35 30h1v1h-1zM37 30h1v1h-1zM39 30h1v1h-1zM41 30h1v1h-1zM43 30h1v1h-1zM45 30h1v1h-1zM47 30h1v1h-1zM49 30h1v1h-1zM51 30h1v1h-1zM1 32h1v1h-1zM3 32h1v1h-1zM5 32h1v1h-1zM7 32h1v1h-1zM9 32h1v1h-1zM11 32h1v1h-1zM13 32h1v1h-1zM15 32h1v1h-1zM17 32h1v1h-1zM19 32h1v1h-1zM21 32h1v1h-1zM23 32h1v1h-1zM25 32h1v1h-1zM27 32h1v1h-1zM29 32h1v1h-1zM31 32h1v1h-1zM33 32h1v1h-1zM35 32h1v1h-1zM37 32h1v1h-1zM39 32h1v1h-1zM41 32h1v1h-1zM43 32h1v1h-1zM45 32h1v1h-1zM47 32h1v1h-1zM49 32h1v1h-1zM51 32h1v1h-1zM1 34h1v1h-1zM3 34h1v1h-1zM5 34h1v1h-1zM7 34h1v1h-1zM9 34h1v1h-1zM11 34h1v1h-1zM13 34h1v1h-1zM15 34h1v1h-1zM17 34h1v1h-1zM19 34h1v1h-1zM21 34h1v1h-1zM23 34h1v1h-1zM25 34h1v1h-1zM27 34h1v1h-1zM29 34h1v1h-1zM31 34h1v1h-1zM33 34h1v1h-1zM35 34h1v1h-1zM37 34h1v1h-1zM39 34h1v1h-1zM41 34h1v1h-1zM43 34h1v1h-1zM45 34h1v1h-1zM47 34h1v1h-1zM49 34h1v1h-1zM51 34h1v1h-1zM1 36h1v1h-1zM3 36h1v1h-1zM5 36h1v1h-1zM7 36h1v1h-1zM9 36h1v1h-1zM11 36h1v1h-1zM13 36h1v1h-1zM15 36h1v1h-1zM17 36h1v1h-1zM19 36h1v1h-1zM21 36h1v1h-1zM23 36h1v1h-1zM25 36h1v1h-1zM27 36h1v1h-1zM29 36h1v1h-1zM31 36h1v1h-1zM33 36h1v1h-1zM35 36h1v1h-1zM37 36h1v1h-1zM39 36h1v1h-1zM41 36h1v1h-1zM43 36h1v1h-1zM45 36h1v1h-1zM47 36h1v1h-1zM49 36h1v1h-1zM51 36h1v1h-1zM1 38h1v1h-1zM3 38h1v1h-1zM5 38h1v1h-1zM7 38h1v1h-1zM9 38h1v1h-1zM11 38h1v1h-1zM13 38h1v1h-1zM15 38h1v1h-1zM17 38h1v1h-1zM19 38h1v1h-1zM21 38h1v1h-1zM23 38h1v1h-1zM25 38h1v1h-1zM27 38h1v1h-1zM29 38h1v1h-1zM31 38h1v1h-1zM33 38h1v1h-1zM35 38h1v1h-1zM37 38h1v1h-1zM39 38h1v1h-1zM41 38h1v1h-1zM43 38h1v1h-1zM45 38h1v1h-1zM47 38h1v1h-1zM49 38h1v1h-1zM51 38h1v1h-1zM1 40h1v1h-1zM3 40h1v1h-1zM5 40h1v1h-1zM7 40h1v1h-1zM9 40h1v1h-1zM11 40h1v1h-1zM13 40h1v1h-1zM15 40h1v1h-1zM17 40h1v1h-1zM19 40h1v1h-1zM21 40h1v1h-1zM23 40h1v1h-1zM25 40h1v1h-1zM27 40h1v1h-1zM29 40h1v1h-1zM31 40h1v1h-1zM33 40h1v1h-1zM35 40h1v1h-1zM37 40h1v1h-1zM39 40h1v1h-1zM41 40h1v1h-1zM43 40h1v1h-1zM45 40h1v1h-1zM47 40h1v1h-1zM49 40h1v1h-1zM51 40h1v1h-1zM1 42h1v1h-1zM3 42h1v1h-1zM5 42h1v1h-1zM7 42h1v1h-1zM9 42h1v1h-1zM11 42h1v1h-1zM13 42h1v1h-1zM15 42h1v1h-1zM17 42h1v1h-1zM19 42h1v1h-1zM21 42h1v1h-1zM23 42h1v1h-1zM25 42h1v1h-1zM27 42h1v1h-1zM29 42h1v1h-1zM31 42h1v1h-1zM33 42h1v1h-1zM35 42h1v1h-1zM37 42h1v1h-1zM39 42h1v1h-1zM41 42h1v1h-1zM43 42h1v1h-1zM45 42h1v1h-1zM47 42h1v1h-1zM49 42h1v1h-1zM51 42h1v1h-1zM1 44h1v1h-1zM3 44h1v1h-1zM5 44h1v1h-1zM7 44h1v1h-1zM9 44h1v1h-1zM11 44h1v1h-1zM13 44h1v1h-1zM15 44h1v1h-1zM17 44h1v1h-1zM19 44h1v1h-1zM21 44h1v1h-1zM23 44h1v1h-1zM25 44h1v1h-1zM27 44h1v1h-1zM29 44h1v1h-1zM31 44h1v1h-1zM33 44h1v1h-1zM35 44h1v1h-1zM37 44h1v1h-1zM39 44h1v1h-1zM41 44h1v1h-1zM43 44h1v1h-1zM45 44h1v1h-1zM47 44h1v1h-1zM49 44h1v1h-1zM51 44h1v1h-1zM1 46h1v1h-1zM3 46h1v1h-1zM5 46h1v1h-1zM7 46h1v1h-1zM9 46h1v1h-1zM11 46h1v1h-1zM13 46h1v1h-1zM15 46h1v1h-1zM17 46h1v1h-1zM19 46h1v1h-1zM21 46h1v1h-1zM23 46h1v1h-1zM25 46h1v1h-1zM27 46h1v1h-1zM29 46h1v1h-1zM31 46h1v1h-1zM33 46h1v1h-1zM35 46h1v1h-1zM37 46h1v1h-1zM39 46h1v1h-1zM41 46h1v1h-1zM43 46h1v1h-1zM45 46h1v1h-1zM47 46h1v1h-1zM49 46h1v1h-1zM51 46h1v1h-1zM1 48h1v1h-1zM3 48h1v1h-1zM5 48h1v1h-1zM7 48h1v1h-1zM9 48h1v1h-1zM11 48h1v1h-1zM13 48h1v1h-1zM15 48h1v1h-1zM17 48h1v1h-1zM19 48h1v1h-1zM21 48h1v1h-1zM23 48h1v1h-1zM25 48h1v1h-1zM27 48h1v1h-1zM29 48h1v1h-1zM31 48h1v1h-1zM33 48h1v1h-1zM35 48h1v1h-1zM37 48h1v1h-1zM39 48h1v1h-1zM41 48h1v1h-1zM43 48h1v1h-1zM45 48h1v1h-1zM47 48h1v1h-1zM49 48h1v1h-1zM51 48h1v1h-1zM1 50h1v1h-1zM3 50h1v1h-1zM5 50h1v1h-1zM7 50h1v1h-1zM9 50h1v1h-1zM11 50h1v1h-1zM13 50h1v1h-1zM15 50h1v1h-1zM17 50h1v1h-1zM19 50h1v1h-1zM21 50h1v1h-1zM23 50h1v1h-1zM25 50h1v1h-1zM27 50h1v1h-1zM29 50h1v1h-1zM31 50h1v1h-1zM33 50h1v1h-1zM35 50h1v1h-1zM37 50h1v1h-1zM39 50h1v1h-1zM41 50h1v1h-1zM43 50h1v1h-1zM45 50h1v1h-1zM47 50h1v1h-1zM49 50h1v1h-1zM51 50h1v1h-1zM1 52h1v1h-1zM3 52h1v1h-1zM5 52h1v1h-1zM7 52h1v1h-1zM9 52h1v1h-1zM11 52h1v1h-1zM13 52h1v1h-1zM15 52h1v1h-1zM17 52h1v1h-1zM19 52h1v1h-1zM21 52h1v1h-1zM23 52h1v1h-1zM25 52h1v1h-1zM27 52h1v1h-1zM29 52h1v1h-1zM31 52h1v1h-1zM33 52h1v1h-1zM35 52h1v1h-1zM37 52h1v1h-1zM39 52h1v1h-1zM41 52h1v1h-1zM43 52h1v1h-1zM45 52h1v1h-1zM47 52h1v1h-1zM49 52h1v1h-1zM51 52h1v1h-1zM1 54h1v1h-1zM3 54h1v1h-1zM5 54h1v1h-1zM7 54h1v1h-1zM9 54h1v1h-1zM11 54h1v1h-1zM13 54h1v1h-1zM15 54h1v1h-1zM17 54h1v1h-1zM19 54h1v1h-1zM21 54h1v1h-1zM23 54h1v1h-1zM25 54h1v1h-1zM27 54h1v1h-1zM29 54h1v1h-1zM31 54h1v1h-1zM33 54h1v1h-1zM35 54h1v1h-1zM37 54h1v1h-1zM39 54h1v1h-1zM41 54h1v1h-1zM43 54h1v1h-1zM45 54h1v1h-1zM47 54h1v1h-1zM49 54h1v1h-1zM51 54h1v1h-1zM1 56h1v1h-1zM3 56h1v1h-1zM5 56h1v1h-1zM7 56h1v1h-1zM9 56h1v1h-1zM11 56h1v1h-1zM13 56h1v1h-1zM15 56h1v1h-1zM17 56h1v1h-1zM19 56h1v1h-1zM21 56h1v1h-1zM23 56h1v1h-1zM25 56h1v1h-1zM27 56h1v1h-1zM29 56h1v1h-1zM31 56h1v1h-1zM33 56h1v1h-1zM35 56h1v1h-1zM37 56h1v1h-1zM39 56h1v1h-1zM41 56h1v1h-1zM43 56h1v1h-1zM45 56h1v1h-1zM47 56h1v1h-1zM49 56h1v1h-1zM51 56h1v1h-1zM1 58h1v1h-1zM3 58h1v1h-1zM5 58h1v1h-1zM7 58h1v1h-1zM9 58h1v1h-1zM11 58h1v1h-1zM13 58h1v1h-1zM15 58h1v1h-1zM17 58h1v1h-1zM19 58h1v1h-1zM21 58h1v1h-1zM23 58h1v1h-1zM25 58h1v1h-1zM27 58h1v1h-1zM29 58h1v1h-1zM31 58h1v1h-1zM33 58h1v1h-1zM35 58h1v1h-1zM37 58h1v1h-1zM39 58h1v1h-1zM41 58h1v1h-1zM43 58h1v1h-1zM45 58h1v1h-1zM47 58h1v1h-1zM49 58h1v1h-1zM51 58h1v1h-1zM1 60h1v1h-1zM3 60h1v1h-1zM5 60h1v1h-1zM7 60h1v1h-1zM9 60h1v1h-1zM11 60h1v1h-1zM13 60h1v1h-1zM15 60h1v1h-1zM17 60h1v1h-1zM19 60h1v1h-1zM21 60h1v1h-1zM23 60h1v1h-1zM25 60h1v1h-1zM27 60h1v1h-1zM29 60h1v1h-1zM31 60h1v1h-1zM33 60h1v1h-1zM35 60h1v1h-1zM37 60h1v1h-1zM39 60h1v1h-1zM41 60h1v1h-1zM43 60h1v1h-1zM45 60h1v1h-1zM47 60h1v1h-1zM49 60h1v1h-1zM51 60h1v1h-1zM1 62h1v1h-1zM3 62h1v1h-1zM5 62h1v1h-1zM7 62h1v1h-1zM9 62h1v1h-1zM11 62h1v1h-1zM13 62h1v1h-1zM15 62h1v1h-1zM17 62h1v1h-1zM19 62h1v1h-1zM21 62h1v1h-1zM23 62h1v1h-1zM25 62h1v1h-1zM27 62h1v1h-1zM29 62h1v1h-1zM31 62h1v1h-1zM33 62h1v1h-1zM35 62h1v1h-1zM37 62h1v1h-1zM39 62h1v1h-1zM41 62h1v1h-1zM43 62h1v1h-1zM45 62h1v1h-1zM47 62h1v1h-1zM49 62h1v1h-1zM51 62h1v1h-1zM1 64h1v1h-1zM3 64h1v1h-1zM5 64h1v1h-1zM7 64h1v1h-1zM9 64h1v1h-1zM11 64h1v1h-1zM13 64h1v1h-1zM15 64h1v1h-1zM17 64h1v1h-1zM19 64h1v1h-1zM21 64h1v1h-1zM23 64h1v1h-1zM25 64h1v1h-1zM27 64h1v1h-1zM29 64h1v1h-1zM31 64h1v1h-1zM33 64h1v1h-1zM35 64h1v1h-1zM37 64h1v1h-1zM39 64h1v1h-1zM41 64h1v1h-1zM43 64h1v1h-1zM45 64h1v1h-1zM47 64h1v1h-1zM49 64h1v1h-1zM51 64h1v1h-1zM1 66h1v1h-1zM3 66h1v1h-1zM5 66h1v1h-1zM7 66h1v1h-1zM9 66h1v1h-1zM11 66h1v1h-1zM13 66h1v1h-1zM15 66h1v1h-1zM17 66h1v1h-1zM19 66h1v1h-1zM21 66h1v1h-1zM23 66h1v1h-1zM25 66h1v1h-1zM27 66h1v1h-1zM29 66h1v1h-1zM31 66h1v1h-1zM33 66h1v1h-1zM35 66h1v1h-1zM37 66h1v1h-1zM39 66h1v1h-1zM41 66h1v1h-1zM43 66h1v1h-1zM45 66h1v1h-1zM47 66h1v1h-1zM49 66h1v1h-1zM51 66h1v1h-1zM1 68h1v1h-1zM3 68h1v1h-1zM5 68h1v1h-1zM7 68h1v1h-1zM9 68h1v1h-1zM11 68h1v1h-1zM13 68h1v1h-1zM15 68h1v1h-1zM17 68h1v1h-1zM19 68h1v1h-1zM21 68h1v1h-1zM23 68h1v1h-1zM25 68h1v1h-1zM27 68h1v1h-1zM29 68h1v1h-1zM31 68h1v1h-1zM33 68h1v1h-1zM35 68h1v1h-1zM37 68h1v1h-1zM39 68h1v1h-1zM41 68h1v1h-1zM43 68h1v1h-1zM45 68h1v1h-1zM47 68h1v1h-1zM49 68h1v1h-1zM51 68h1v1h-1zM1 70h1v1h-1zM3 70h1v1h-1zM5 70h1v1h-1zM7 70h1v1h-1zM9 70h1v1h-1zM11 70h1v1h-1zM13 70h1v1h-1zM15 70h1v1h-1zM17 70h1v1h-1zM19 70h1v1h-1zM21 70h1v1h-1zM23 70h1v1h-1zM25 70h1v1h-1zM27 70h1v1h-1zM29 70h1v1h-1zM31 70h1v1h-1zM33 70h1v1h-1zM35 70h1v1h-1zM37 70h1v1h-1zM39 70h1v1h-1zM41 70h1v1h-1zM43 70h1v1h-1zM45 70h1v1h-1zM47 70h1v1h-1zM49 70h1v1h-1zM51 70h1v1h-1zM1 72h1v1h-1zM3 72h1v1h-1zM5 72h1v1h-1zM7 72h1v1h-1zM9 72h1v1h-1zM11 72h1v1h-1zM13 72h1v1h-1zM15 72h1v1h-1zM17 72h1v1h-1zM19 72h1v1h-1zM21 72h1v1h-1zM23 72h1v1h-1zM25 72h1v1h-1zM27 72h1v1h-1zM29 72h1v1h-1zM31 72h1v1h-1zM33 72h1v1h-1zM35 72h1v1h-1zM37 72h1v1h-1zM39 72h1v1h-1zM41 72h1v1h-1zM43 72h1v1h-1zM45 72h1v1h-1zM47 72h1v1h-1zM49 72h1v1h-1zM51 72h1v1h-1zM1 74h1v1h-1zM3 74h1v1h-1zM5 74h1v1h-1zM7 74h1v1h-1zM9 74h1v1h-1zM11 74h1v1h-1zM13 74h1v1h-1zM15 74h1v1h-1zM17 74h1v1h-1zM19 74h1v1h-1zM21 74h1v1h-1zM23 74h1v1h-1zM25 74h1v1h-1zM27 74h1v1h-1zM29 74h1v1h-1zM31 74h1v1h-1zM33 74h1v1h-1zM35 74h1v1h-1zM37 74h1v1h-1zM39 74h1v1h-1zM41 74h1v1h-1zM43 74h1v1h-1zM45 74h1v1h-1zM47 74h1v1h-1zM49 74h1v1h-1zM51 74h1v1h-1zM1 76h1v1h-1zM3 76h1v1h-1zM5 76h1v1h-1zM7 76h1v1h-1zM9 76h1v1h-1zM11 76h1v1h-1zM13 76h1v1h-1zM15 76h1v1h-1zM17 76h1v1h-1zM19 76h1v1h-1zM21 76h1v1h-1zM23 76h1v1h-1zM25 76h1v1h-1zM27 76h1v1h-1zM29 76h1v1h-1zM31 76h1v1h-1zM33 76h1v1h-1zM35 76h1v1h-1zM37 76h1v1h-1zM39 76h1v1h-1zM41 76h1v1h-1zM43 76h1v1h-1zM45 76h1v1h-1zM47 76h1v1h-1zM49 76h1v1h-1zM51 76h1v1h-1zM1 78h1v1h-1zM3 78h1v1h-1zM5 78h1v1h-1zM7 78h1v1h-1zM9 78h1v1h-1zM11 78h1v1h-1zM13 78h1v1h-1zM15 78h1v1h-1zM17 78h1v1h-1zM19 78h1v1h-1zM21 78h1v1h-1zM23 78h1v1h-1zM25 78h1v1h-1zM27 78h1v1h-1zM29 78h1v1h-1zM31 78h1v1h-1zM33 78h1v1h-1zM35 78h1v1h-1zM37 78h1v1h-1zM39 78h1v1h-1zM41 78h1v1h-1zM43 78h1v1h-1zM45 78h1v1h-1zM47 78h1v1h-1zM49 78h1v1h-1zM51 78h1v1h-1z"/></g>
<g transform="translate(420.5 39.3) scale(2.61923 1.27750)"><path fill="#0044ff" d="M40 23h1v1h-1zM40 43h1v1h-1zM28 45h1v1h-1zM34 47h1v1h-1zM50 61h1v1h-1zM38 73h1v1h-1zM30 75h1v1h-1zM42 77h1v1h-1z"/><path fill="#008bff" d="M36 17h1v1h-1zM36 21h1v1h-1zM38 41h1v1h-1zM40 73h1v1h-1zM26 75h1v1h-1z"/><path fill="#00bbff" d="M34 1h1v1h-1zM34 5h1v1h-1zM38 11h1v1h-1zM50 15h1v1h-1zM24 21h1v1h-1zM20 25h1v1h-1zM44 25h1v1h-1zM24 27h1v1h-1zM44 35h1v1h-1zM32 37h1v1h-1zM42 47h1v1h-1zM50 47h1v1h-1zM42 49h1v1h-1zM24 51h1v1h-1zM30 51h1v1h-1zM44 51h1v1h-1zM30 57h1v1h-1zM34 61h1v1h-1zM46 65h1v1h-1zM42 67h1v1h-1zM42 69h1v1h-1zM44 71h1v1h-1zM34 73h1v1h-1zM40 77h1v1h-1z"/><path fill="#00fffc" d="M46 3h1v1h-1zM40 5h1v1h-1zM46 11h1v1h-1zM48 11h1v1h-1zM38 13h1v1h-1zM32 17h1v1h-1zM40 21h1v1h-1zM32 27h1v1h-1zM38 29h1v1h-1zM38 31h1v1h-1zM42 31h1v1h-1zM22 37h1v1h-1zM32 39h1v1h-1zM40 47h1v1h-1zM46 49h1v1h-1zM50 49h1v1h-1zM48 57h1v1h-1zM44 59h1v1h-1zM46 59h1v1h-1zM26 61h1v1h-1zM38 61h1v1h-1zM48 63h1v1h-1zM44 65h1v1h-1zM26 71h1v1h-1zM36 73h1v1h-1zM44 75h1v1h-1zM30 79h1v1h-1z"/><path fill="#00ffcc" d="M36 1h1v1h-1zM44 1h1v1h-1zM38 5h1v1h-1zM48 7h1v1h-1zM50 7h1v1h-1zM44 9h1v1h-1zM46 9h1v1h-1zM22 11h1v1h-1zM30 11h1v1h-1zM32 11h1v1h-1zM40 13h1v1h-1zM46 15h1v1h-1zM50 17h1v1h-1zM40 19h1v1h-1zM46 19h1v1h-1zM48 19h1v1h-1zM44 21h1v1h-1zM50 21h1v1h-1zM26 23h1v1h-1zM50 25h1v1h-1zM28 29h1v1h-1zM22 31h1v1h-1zM36 31h1v1h-1zM44 31h1v1h-1zM48 31h1v1h-1zM4 33h1v1h-1zM36 33h1v1h-1zM46 33h1v1h-1zM48 33h1v1h-1zM28 35h1v1h-1zM48 35h1v1h-1zM20 37h1v1h-1zM24 37h1v1h-1zM30 37h1v1h-1zM48 37h1v1h-1zM42 39h1v1h-1zM46 39h1v1h-1zM20 41h1v1h-1zM34 43h1v1h-1zM36 45h1v1h-1zM38 45h1v1h-1zM48 45h1v1h-1zM30 47h1v1h-1zM36 47h1v1h-1zM46 47h1v1h-1zM48 47h1v1h-1zM48 49h1v1h-1zM26 51h1v1h-1zM36 51h1v1h-1zM8 53h1v1h-1zM14 53h1v1h-1zM28 55h1v1h-1zM40 55h1v1h-1zM50 55h1v1h-1zM50 57h1v1h-1zM30 59h1v1h-1zM36 59h1v1h-1zM40 59h1v1h-1zM50 59h1v1h-1zM36 61h1v1h-1zM40 61h1v1h-1zM44 61h1v1h-1zM46 61h1v1h-1zM48 61h1v1h-1zM42 63h1v1h-1zM44 63h1v1h-1zM22 65h1v1h-1zM48 65h1v1h-1zM44 69h1v1h-1zM48 73h1v1h-1zM18 75h1v1h-1zM20 75h1v1h-1zM18 77h1v1h-1zM48 77h1v1h-1zM48 79h1v1h-1z"/><path fill="#00ff85" d="M32 1h1v1h-1zM46 1h1v1h-1zM26 3h1v1h-1zM40 3h1v1h-1zM32 5h1v1h-1zM42 9h1v1h-1zM36 11h1v1h-1zM42 11h1v1h-1zM34 13h1v1h-1zM36 13h1v1h-1zM38 15h1v1h-1zM44 15h1v1h-1zM38 17h1v1h-1zM50 19h1v1h-1zM32 21h1v1h-1zM30 23h1v1h-1zM38 23h1v1h-1zM44 23h1v1h-1zM46 23h1v1h-1zM46 25h1v1h-1zM40 27h1v1h-1zM44 27h1v1h-1zM48 27h1v1h-1zM42 29h1v1h-1zM50 29h1v1h-1zM50 31h1v1h-1zM16 33h1v1h-1zM24 33h1v1h-1zM36 37h1v1h-1zM42 37h1v1h-1zM46 37h1v1h-1zM44 39h1v1h-1zM48 39h1v1h-1zM42 41h1v1h-1zM44 41h1v1h-1zM28 43h1v1h-1zM32 43h1v1h-1zM50 43h1v1h-1zM20 47h1v1h-1zM34 49h1v1h-1zM42 51h1v1h-1zM34 53h1v1h-1zM42 55h1v1h-1zM26 57h1v1h-1zM32 57h1v1h-1zM36 57h1v1h-1zM26 59h1v1h-1zM28 59h1v1h-1zM22 61h1v1h-1zM32 61h1v1h-1zM34 65h1v1h-1zM20 67h1v1h-1zM24 67h1v1h-1zM30 69h1v1h-1zM38 69h1v1h-1zM18 71h1v1h-1zM8 73h1v1h-1zM30 73h1v1h-1zM32 73h1v1h-1zM44 73h1v1h-1zM46 73h1v1h-1zM28 75h1v1h-1zM32 75h1v1h-1zM34 75h1v1h-1zM42 75h1v1h-1zM50 75h1v1h-1zM34 79h1v1h-1zM46 79h1v1h-1z"/><path fill="#00ff55" d="M4 1h1v1h-1zM30 1h1v1h-1zM34 3h1v1h-1zM36 3h1v1h-1zM38 3h1v1h-1zM24 5h1v1h-1zM30 5h1v1h-1zM36 5h1v1h-1zM46 5h1v1h-1zM48 5h1v1h-1zM20 7h1v1h-1zM22 7h1v1h-1zM24 7h1v1h-1zM26 7h1v1h-1zM36 7h1v1h-1zM42 7h1v1h-1zM46 7h1v1h-1zM36 9h1v1h-1zM48 9h1v1h-1zM6 11h1v1h-1zM28 11h1v1h-1zM40 11h1v1h-1zM10 13h1v1h-1zM26 13h1v1h-1zM28 13h1v1h-1zM42 13h1v1h-1zM48 13h1v1h-1zM18 15h1v1h-1zM20 15h1v1h-1zM22 15h1v1h-1zM26 15h1v1h-1zM34 15h1v1h-1zM42 15h1v1h-1zM8 17h1v1h-1zM22 17h1v1h-1zM26 17h1v1h-1zM28 17h1v1h-1zM34 17h1v1h-1zM42 17h1v1h-1zM48 17h1v1h-1zM8 19h1v1h-1zM28 19h1v1h-1zM42 19h1v1h-1zM16 21h1v1h-1zM22 21h1v1h-1zM46 21h1v1h-1zM48 21h1v1h-1zM18 23h1v1h-1zM10 25h1v1h-1zM16 25h1v1h-1zM22 25h1v1h-1zM24 25h1v1h-1zM26 25h1v1h-1zM34 25h1v1h-1zM40 25h1v1h-1zM2 27h1v1h-1zM10 27h1v1h-1zM14 27h1v1h-1zM22 27h1v1h-1zM42 27h1v1h-1zM50 27h1v1h-1zM20 29h1v1h-1zM26 29h1v1h-1zM32 29h1v1h-1zM34 29h1v1h-1zM40 29h1v1h-1zM46 29h1v1h-1zM10 31h1v1h-1zM16 31h1v1h-1zM24 31h1v1h-1zM34 31h1v1h-1zM46 31h1v1h-1zM30 33h1v1h-1zM32 33h1v1h-1zM38 33h1v1h-1zM40 33h1v1h-1zM44 33h1v1h-1zM50 33h1v1h-1zM14 35h1v1h-1zM34 35h1v1h-1zM38 35h1v1h-1zM40 35h1v1h-1zM8 37h1v1h-1zM34 37h1v1h-1zM44 37h1v1h-1zM50 37h1v1h-1zM4 39h1v1h-1zM14 39h1v1h-1zM16 39h1v1h-1zM18 39h1v1h-1zM38 39h1v1h-1zM40 39h1v1h-1zM22 41h1v1h-1zM26 41h1v1h-1zM28 41h1v1h-1zM32 41h1v1h-1zM36 41h1v1h-1zM40 41h1v1h-1zM36 43h1v1h-1zM38 43h1v1h-1zM42 43h1v1h-1zM44 43h1v1h-1zM46 43h1v1h-1zM18 45h1v1h-1zM32 45h1v1h-1zM42 45h1v1h-1zM50 45h1v1h-1zM44 47h1v1h-1zM26 49h1v1h-1zM30 49h1v1h-1zM32 49h1v1h-1zM44 49h1v1h-1zM14 51h1v1h-1zM28 51h1v1h-1zM34 51h1v1h-1zM46 51h1v1h-1zM48 51h1v1h-1zM50 51h1v1h-1zM22 53h1v1h-1zM30 53h1v1h-1zM46 53h1v1h-1zM50 53h1v1h-1zM8 55h1v1h-1zM20 55h1v1h-1zM30 55h1v1h-1zM44 55h1v1h-1zM8 57h1v1h-1zM20 57h1v1h-1zM22 57h1v1h-1zM24 57h1v1h-1zM40 57h1v1h-1zM42 57h1v1h-1zM46 57h1v1h-1zM18 59h1v1h-1zM38 59h1v1h-1zM42 59h1v1h-1zM18 61h1v1h-1zM24 61h1v1h-1zM30 61h1v1h-1zM42 61h1v1h-1zM8 63h1v1h-1zM20 63h1v1h-1zM28 63h1v1h-1zM32 63h1v1h-1zM40 63h1v1h-1zM18 65h1v1h-1zM38 65h1v1h-1zM42 65h1v1h-1zM26 67h1v1h-1zM28 67h1v1h-1zM36 67h1v1h-1zM44 67h1v1h-1zM48 67h1v1h-1zM20 69h1v1h-1zM24 69h1v1h-1zM28 69h1v1h-1zM34 69h1v1h-1zM36 69h1v1h-1zM40 69h1v1h-1zM50 69h1v1h-1zM10 71h1v1h-1zM16 71h1v1h-1zM24 71h1v1h-1zM34 71h1v1h-1zM40 71h1v1h-1zM46 71h1v1h-1zM24 73h1v1h-1zM50 73h1v1h-1zM24 75h1v1h-1zM36 75h1v1h-1zM46 75h1v1h-1zM14 77h1v1h-1zM34 77h1v1h-1zM36 77h1v1h-1zM44 77h1v1h-1zM46 77h1v1h-1zM12 79h1v1h-1zM18 79h1v1h-1zM32 79h1v1h-1zM36 79h1v1h-1zM38 79h1v1h-1zM44 79h1v1h-1zM50 79h1v1h-1z"/><path fill="#00ff0e" d="M22 1h1v1h-1zM38 1h1v1h-1zM40 1h1v1h-1zM48 1h1v1h-1zM14 3h1v1h-1zM20 3h1v1h-1zM28 3h1v1h-1zM32 3h1v1h-1zM48 3h1v1h-1zM50 3h1v1h-1zM20 5h1v1h-1zM26 5h1v1h-1zM44 5h1v1h-1zM30 7h1v1h-1zM32 7h1v1h-1zM40 7h1v1h-1zM20 9h1v1h-1zM22 9h1v1h-1zM26 9h1v1h-1zM28 9h1v1h-1zM32 9h1v1h-1zM50 9h1v1h-1zM20 11h1v1h-1zM24 11h1v1h-1zM8 13h1v1h-1zM22 13h1v1h-1zM24 13h1v1h-1zM32 13h1v1h-1zM46 13h1v1h-1zM50 13h1v1h-1zM28 15h1v1h-1zM32 15h1v1h-1zM40 15h1v1h-1zM4 17h1v1h-1zM30 17h1v1h-1zM46 17h1v1h-1zM6 19h1v1h-1zM16 19h1v1h-1zM32 19h1v1h-1zM34 19h1v1h-1zM26 21h1v1h-1zM30 21h1v1h-1zM34 21h1v1h-1zM38 21h1v1h-1zM42 21h1v1h-1zM32 23h1v1h-1zM34 23h1v1h-1zM36 23h1v1h-1zM42 23h1v1h-1zM36 25h1v1h-1zM42 25h1v1h-1zM48 25h1v1h-1zM4 27h1v1h-1zM6 27h1v1h-1zM18 27h1v1h-1zM20 27h1v1h-1zM46 27h1v1h-1zM16 29h1v1h-1zM30 29h1v1h-1zM36 29h1v1h-1zM28 31h1v1h-1zM30 31h1v1h-1zM40 31h1v1h-1zM18 33h1v1h-1zM20 33h1v1h-1zM22 33h1v1h-1zM26 33h1v1h-1zM34 33h1v1h-1zM42 33h1v1h-1zM22 35h1v1h-1zM24 35h1v1h-1zM26 35h1v1h-1zM46 35h1v1h-1zM50 35h1v1h-1zM2 37h1v1h-1zM14 37h1v1h-1zM26 37h1v1h-1zM28 37h1v1h-1zM40 37h1v1h-1zM20 39h1v1h-1zM22 39h1v1h-1zM24 39h1v1h-1zM28 39h1v1h-1zM30 39h1v1h-1zM34 39h1v1h-1zM4 41h1v1h-1zM12 41h1v1h-1zM18 41h1v1h-1zM48 41h1v1h-1zM50 41h1v1h-1zM16 43h1v1h-1zM18 43h1v1h-1zM20 43h1v1h-1zM22 43h1v1h-1zM24 43h1v1h-1zM48 43h1v1h-1zM12 45h1v1h-1zM24 45h1v1h-1zM30 45h1v1h-1zM34 45h1v1h-1zM46 45h1v1h-1zM8 47h1v1h-1zM10 47h1v1h-1zM18 47h1v1h-1zM22 47h1v1h-1zM26 47h1v1h-1zM2 49h1v1h-1zM20 49h1v1h-1zM22 49h1v1h-1zM36 49h1v1h-1zM38 49h1v1h-1zM10 51h1v1h-1zM18 51h1v1h-1zM32 51h1v1h-1zM38 51h1v1h-1zM40 51h1v1h-1zM4 53h1v1h-1zM6 53h1v1h-1zM18 53h1v1h-1zM24 53h1v1h-1zM28 53h1v1h-1zM36 53h1v1h-1zM44 53h1v1h-1zM4 55h1v1h-1zM36 55h1v1h-1zM38 55h1v1h-1zM48 55h1v1h-1zM12 57h1v1h-1zM18 57h1v1h-1zM28 57h1v1h-1zM44 57h1v1h-1zM12 59h1v1h-1zM32 59h1v1h-1zM34 59h1v1h-1zM48 59h1v1h-1zM8 61h1v1h-1zM10 63h1v1h-1zM14 63h1v1h-1zM16 63h1v1h-1zM30 63h1v1h-1zM34 63h1v1h-1zM36 63h1v1h-1zM38 63h1v1h-1zM50 63h1v1h-1zM2 65h1v1h-1zM10 65h1v1h-1zM16 65h1v1h-1zM26 65h1v1h-1zM28 65h1v1h-1zM30 65h1v1h-1zM32 65h1v1h-1zM50 65h1v1h-1zM4 67h1v1h-1zM10 67h1v1h-1zM22 67h1v1h-1zM34 67h1v1h-1zM40 67h1v1h-1zM46 67h1v1h-1zM50 67h1v1h-1zM6 69h1v1h-1zM22 69h1v1h-1zM32 69h1v1h-1zM46 69h1v1h-1zM48 69h1v1h-1zM6 71h1v1h-1zM14 71h1v1h-1zM32 71h1v1h-1zM36 71h1v1h-1zM42 71h1v1h-1zM4 73h1v1h-1zM6 73h1v1h-1zM10 73h1v1h-1zM12 73h1v1h-1zM26 73h1v1h-1zM28 73h1v1h-1zM42 73h1v1h-1zM6 75h1v1h-1zM48 75h1v1h-1zM8 77h1v1h-1zM16 77h1v1h-1zM22 77h1v1h-1zM28 77h1v1h-1zM32 77h1v1h-1zM4 79h1v1h-1zM6 79h1v1h-1zM10 79h1v1h-1zM20 79h1v1h-1zM24 79h1v1h-1zM26 79h1v1h-1zM40 79h1v1h-1z"/><path fill="#22ff00" d="M26 1h1v1h-1zM42 1h1v1h-1zM50 1h1v1h-1zM44 3h1v1h-1zM50 5h1v1h-1zM18 9h1v1h-1zM24 9h1v1h-1zM34 9h1v1h-1zM38 9h1v1h-1zM40 9h1v1h-1zM14 11h1v1h-1zM34 11h1v1h-1zM44 11h1v1h-1zM30 13h1v1h-1zM44 13h1v1h-1zM30 15h1v1h-1zM40 17h1v1h-1zM44 17h1v1h-1zM12 19h1v1h-1zM22 19h1v1h-1zM30 19h1v1h-1zM36 19h1v1h-1zM44 19h1v1h-1zM18 21h1v1h-1zM28 21h1v1h-1zM12 23h1v1h-1zM32 25h1v1h-1zM26 27h1v1h-1zM28 27h1v1h-1zM30 27h1v1h-1zM38 27h1v1h-1zM2 29h1v1h-1zM44 29h1v1h-1zM8 31h1v1h-1zM18 31h1v1h-1zM20 31h1v1h-1zM2 33h1v1h-1zM8 33h1v1h-1zM10 33h1v1h-1zM12 35h1v1h-1zM18 35h1v1h-1zM30 35h1v1h-1zM42 35h1v1h-1zM6 41h1v1h-1zM46 41h1v1h-1zM10 43h1v1h-1zM6 47h1v1h-1zM28 47h1v1h-1zM32 47h1v1h-1zM24 49h1v1h-1zM26 53h1v1h-1zM32 53h1v1h-1zM40 53h1v1h-1zM42 53h1v1h-1zM10 55h1v1h-1zM18 55h1v1h-1zM34 55h1v1h-1zM14 57h1v1h-1zM16 57h1v1h-1zM38 57h1v1h-1zM16 59h1v1h-1zM20 59h1v1h-1zM12 61h1v1h-1zM20 61h1v1h-1zM28 61h1v1h-1zM6 63h1v1h-1zM6 65h1v1h-1zM12 65h1v1h-1zM40 65h1v1h-1zM6 67h1v1h-1zM14 67h1v1h-1zM18 67h1v1h-1zM30 67h1v1h-1zM38 67h1v1h-1zM4 69h1v1h-1zM8 69h1v1h-1zM14 69h1v1h-1zM16 69h1v1h-1zM22 71h1v1h-1zM28 71h1v1h-1zM38 71h1v1h-1zM48 71h1v1h-1zM2 73h1v1h-1zM20 73h1v1h-1zM22 73h1v1h-1zM2 75h1v1h-1zM16 75h1v1h-1zM22 75h1v1h-1zM2 77h1v1h-1zM24 77h1v1h-1zM50 77h1v1h-1zM28 79h1v1h-1z"/><path fill="#69ff00" d="M12 1h1v1h-1zM14 1h1v1h-1zM16 1h1v1h-1zM18 1h1v1h-1zM24 1h1v1h-1zM2 3h1v1h-1zM4 3h1v1h-1zM10 3h1v1h-1zM16 3h1v1h-1zM18 3h1v1h-1zM22 3h1v1h-1zM24 3h1v1h-1zM30 3h1v1h-1zM42 3h1v1h-1zM2 5h1v1h-1zM8 5h1v1h-1zM14 5h1v1h-1zM16 5h1v1h-1zM18 5h1v1h-1zM28 5h1v1h-1zM42 5h1v1h-1zM12 7h1v1h-1zM18 7h1v1h-1zM28 7h1v1h-1zM34 7h1v1h-1zM38 7h1v1h-1zM44 7h1v1h-1zM2 9h1v1h-1zM6 9h1v1h-1zM12 9h1v1h-1zM16 9h1v1h-1zM30 9h1v1h-1zM8 11h1v1h-1zM12 11h1v1h-1zM16 11h1v1h-1zM26 11h1v1h-1zM50 11h1v1h-1zM14 13h1v1h-1zM18 13h1v1h-1zM20 13h1v1h-1zM4 15h1v1h-1zM6 15h1v1h-1zM8 15h1v1h-1zM10 15h1v1h-1zM14 15h1v1h-1zM36 15h1v1h-1zM48 15h1v1h-1zM10 17h1v1h-1zM12 17h1v1h-1zM14 17h1v1h-1zM16 17h1v1h-1zM18 17h1v1h-1zM2 19h1v1h-1zM24 19h1v1h-1zM38 19h1v1h-1zM4 21h1v1h-1zM8 21h1v1h-1zM10 21h1v1h-1zM12 21h1v1h-1zM6 23h1v1h-1zM8 23h1v1h-1zM16 23h1v1h-1zM24 23h1v1h-1zM28 23h1v1h-1zM50 23h1v1h-1zM4 25h1v1h-1zM12 25h1v1h-1zM18 25h1v1h-1zM28 25h1v1h-1zM30 25h1v1h-1zM16 27h1v1h-1zM8 29h1v1h-1zM18 29h1v1h-1zM22 29h1v1h-1zM24 29h1v1h-1zM48 29h1v1h-1zM6 31h1v1h-1zM32 31h1v1h-1zM28 33h1v1h-1zM2 35h1v1h-1zM4 35h1v1h-1zM32 35h1v1h-1zM36 35h1v1h-1zM6 37h1v1h-1zM18 37h1v1h-1zM38 37h1v1h-1zM2 39h1v1h-1zM10 39h1v1h-1zM36 39h1v1h-1zM50 39h1v1h-1zM16 41h1v1h-1zM30 41h1v1h-1zM34 41h1v1h-1zM12 43h1v1h-1zM26 43h1v1h-1zM2 45h1v1h-1zM8 45h1v1h-1zM10 45h1v1h-1zM14 45h1v1h-1zM22 45h1v1h-1zM26 45h1v1h-1zM40 45h1v1h-1zM44 45h1v1h-1zM12 47h1v1h-1zM16 47h1v1h-1zM38 47h1v1h-1zM6 49h1v1h-1zM8 49h1v1h-1zM12 49h1v1h-1zM14 49h1v1h-1zM16 49h1v1h-1zM18 49h1v1h-1zM40 49h1v1h-1zM6 51h1v1h-1zM2 53h1v1h-1zM10 53h1v1h-1zM20 53h1v1h-1zM48 53h1v1h-1zM6 55h1v1h-1zM12 55h1v1h-1zM14 55h1v1h-1zM22 55h1v1h-1zM24 55h1v1h-1zM26 55h1v1h-1zM46 55h1v1h-1zM4 57h1v1h-1zM34 57h1v1h-1zM2 59h1v1h-1zM4 59h1v1h-1zM8 59h1v1h-1zM14 59h1v1h-1zM24 59h1v1h-1zM2 61h1v1h-1zM4 61h1v1h-1zM6 61h1v1h-1zM10 61h1v1h-1zM14 61h1v1h-1zM16 61h1v1h-1zM2 63h1v1h-1zM12 63h1v1h-1zM18 63h1v1h-1zM22 63h1v1h-1zM24 63h1v1h-1zM26 63h1v1h-1zM46 63h1v1h-1zM24 65h1v1h-1zM36 65h1v1h-1zM2 67h1v1h-1zM8 67h1v1h-1zM12 67h1v1h-1zM2 69h1v1h-1zM4 71h1v1h-1zM8 71h1v1h-1zM20 71h1v1h-1zM50 71h1v1h-1zM14 73h1v1h-1zM16 73h1v1h-1zM18 73h1v1h-1zM4 75h1v1h-1zM10 75h1v1h-1zM14 75h1v1h-1zM38 75h1v1h-1zM40 75h1v1h-1zM4 77h1v1h-1zM6 77h1v1h-1zM10 77h1v1h-1zM12 77h1v1h-1zM20 77h1v1h-1zM26 77h1v1h-1zM2 79h1v1h-1zM14 79h1v1h-1zM16 79h1v1h-1zM22 79h1v1h-1z"/><path fill="#99ff00" d="M6 1h1v1h-1zM10 1h1v1h-1zM28 1h1v1h-1zM6 3h1v1h-1zM8 3h1v1h-1zM12 3h1v1h-1zM6 5h1v1h-1zM10 5h1v1h-1zM22 5h1v1h-1zM4 7h1v1h-1zM6 7h1v1h-1zM8 9h1v1h-1zM10 9h1v1h-1zM14 9h1v1h-1zM18 11h1v1h-1zM12 13h1v1h-1zM16 13h1v1h-1zM0 15h1v1h-1zM2 15h1v1h-1zM16 15h1v1h-1zM4 19h1v1h-1zM14 19h1v1h-1zM20 19h1v1h-1zM26 19h1v1h-1zM2 21h1v1h-1zM6 21h1v1h-1zM14 21h1v1h-1zM20 21h1v1h-1zM0 23h1v1h-1zM2 23h1v1h-1zM10 23h1v1h-1zM14 23h1v1h-1zM20 23h1v1h-1zM22 23h1v1h-1zM48 23h1v1h-1zM2 25h1v1h-1zM6 25h1v1h-1zM8 25h1v1h-1zM14 25h1v1h-1zM12 27h1v1h-1zM34 27h1v1h-1zM36 27h1v1h-1zM0 29h1v1h-1zM4 29h1v1h-1zM14 29h1v1h-1zM4 31h1v1h-1zM14 31h1v1h-1zM6 33h1v1h-1zM12 33h1v1h-1zM14 33h1v1h-1zM20 35h1v1h-1zM4 37h1v1h-1zM12 37h1v1h-1zM16 37h1v1h-1zM8 39h1v1h-1zM12 39h1v1h-1zM26 39h1v1h-1zM2 41h1v1h-1zM8 41h1v1h-1zM10 41h1v1h-1zM24 41h1v1h-1zM2 43h1v1h-1zM8 43h1v1h-1zM14 43h1v1h-1zM30 43h1v1h-1zM6 45h1v1h-1zM16 45h1v1h-1zM20 45h1v1h-1zM4 49h1v1h-1zM28 49h1v1h-1zM4 51h1v1h-1zM8 51h1v1h-1zM12 51h1v1h-1zM16 51h1v1h-1zM16 53h1v1h-1zM16 55h1v1h-1zM32 55h1v1h-1zM6 57h1v1h-1zM10 57h1v1h-1zM6 59h1v1h-1zM10 59h1v1h-1zM22 59h1v1h-1zM4 63h1v1h-1zM14 65h1v1h-1zM16 67h1v1h-1zM32 67h1v1h-1zM10 69h1v1h-1zM12 69h1v1h-1zM18 69h1v1h-1zM26 69h1v1h-1zM30 71h1v1h-1zM0 77h1v1h-1zM30 77h1v1h-1zM8 79h1v1h-1z"/><path fill="#e0ff00" d="M8 1h1v1h-1zM4 5h1v1h-1zM0 7h1v1h-1zM2 7h1v1h-1zM8 7h1v1h-1zM16 7h1v1h-1zM2 11h1v1h-1zM4 11h1v1h-1zM24 15h1v1h-1zM6 17h1v1h-1zM20 17h1v1h-1zM24 17h1v1h-1zM10 19h1v1h-1zM18 19h1v1h-1zM38 25h1v1h-1zM8 27h1v1h-1zM10 29h1v1h-1zM12 29h1v1h-1zM2 31h1v1h-1zM12 31h1v1h-1zM26 31h1v1h-1zM6 35h1v1h-1zM8 35h1v1h-1zM10 35h1v1h-1zM10 37h1v1h-1zM6 39h1v1h-1zM6 43h1v1h-1zM4 45h1v1h-1zM2 47h1v1h-1zM14 47h1v1h-1zM24 47h1v1h-1zM10 49h1v1h-1zM0 51h1v1h-1zM2 51h1v1h-1zM20 51h1v1h-1zM22 51h1v1h-1zM0 53h1v1h-1zM12 53h1v1h-1zM38 53h1v1h-1zM2 55h1v1h-1zM2 57h1v1h-1zM4 65h1v1h-1zM8 65h1v1h-1zM20 65h1v1h-1zM2 71h1v1h-1zM12 71h1v1h-1zM0 75h1v1h-1zM8 75h1v1h-1zM12 75h1v1h-1zM38 77h1v1h-1zM42 79h1v1h-1z"/><path fill="#ffee00" d="M10 7h1v1h-1zM14 7h1v1h-1zM4 9h1v1h-1zM10 11h1v1h-1zM6 13h1v1h-1zM12 15h1v1h-1zM0 17h1v1h-1zM2 17h1v1h-1zM0 21h1v1h-1zM0 47h1v1h-1zM4 47h1v1h-1zM0 55h1v1h-1z"/><path fill="#ffa700" d="M0 1h1v1h-1zM2 1h1v1h-1zM20 1h1v1h-1zM12 5h1v1h-1zM0 13h1v1h-1zM2 13h1v1h-1zM4 13h1v1h-1zM0 19h1v1h-1zM6 29h1v1h-1zM0 35h1v1h-1zM16 35h1v1h-1zM0 39h1v1h-1zM14 41h1v1h-1zM0 57h1v1h-1zM0 59h1v1h-1zM0 67h1v1h-1zM0 69h1v1h-1zM0 73h1v1h-1zM0 79h1v1h-1z"/><path fill="#ff7700" d="M4 23h1v1h-1zM0 41h1v1h-1zM0 63h1v1h-1zM0 65h1v1h-1z"/><path fill="#ff3000" d="M0 49h1v1h-1zM0 61h1v1h-1zM0 71h1v1h-1z"/><path fill="#ff0000" d="M0 3h1v1h-1zM0 5h1v1h-1zM0 9h1v1h-1zM0 11h1v1h-1zM0 25h1v1h-1zM0 27h1v1h-1zM0 31h1v1h-1zM0 33h1v1h-1zM0 37h1v1h-1zM0 43h1v1h-1zM4 43h1v1h-1zM0 45h1v1h-1z"/><path fill="#0044ff" d="M38 12h1v1h-1zM36 18h1v1h-1zM32 28h1v1h-1zM50 70h1v1h-1zM46 76h1v1h-1zM48 78h1v1h-1z"/><path fill="#008bff" d="M32 26h1v1h-1zM50 30h1v1h-1zM44 48h1v1h-1zM42 64h1v1h-1zM22 76h1v1h-1zM40 78h1v1h-1z"/><path fill="#00bbff" d="M50 0h1v1h-1zM36 2h1v1h-1zM48 6h1v1h-1zM50 12h1v1h-1zM50 16h1v1h-1zM48 20h1v1h-1zM50 22h1v1h-1zM40 32h1v1h-1zM42 34h1v1h-1zM44 36h1v1h-1zM48 52h1v1h-1zM46 54h1v1h-1zM22 56h1v1h-1zM36 58h1v1h-1zM44 60h1v1h-1zM46 62h1v1h-1zM40 66h1v1h-1zM42 68h1v1h-1zM40 70h1v1h-1zM36 72h1v1h-1zM50 74h1v1h-1zM26 76h1v1h-1zM36 78h1v1h-1z"/><path fill="#00fffc" d="M38 4h1v1h-1zM44 4h1v1h-1zM50 4h1v1h-1zM46 10h1v1h-1zM36 12h1v1h-1zM48 12h1v1h-1zM36 22h1v1h-1zM38 22h1v1h-1zM48 22h1v1h-1zM28 24h1v1h-1zM30 24h1v1h-1zM40 24h1v1h-1zM44 24h1v1h-1zM40 28h1v1h-1zM44 30h1v1h-1zM38 32h1v1h-1zM50 32h1v1h-1zM36 38h1v1h-1zM38 38h1v1h-1zM44 38h1v1h-1zM48 38h1v1h-1zM28 40h1v1h-1zM34 40h1v1h-1zM46 40h1v1h-1zM50 40h1v1h-1zM48 44h1v1h-1zM26 50h1v1h-1zM32 50h1v1h-1zM36 50h1v1h-1zM30 52h1v1h-1zM36 56h1v1h-1zM42 56h1v1h-1zM46 56h1v1h-1zM42 62h1v1h-1zM26 64h1v1h-1zM48 66h1v1h-1zM50 68h1v1h-1zM38 74h1v1h-1zM36 76h1v1h-1z"/><path fill="#00ffcc" d="M34 4h1v1h-1zM46 4h1v1h-1zM28 6h1v1h-1zM36 8h1v1h-1zM32 10h1v1h-1zM24 12h1v1h-1zM42 12h1v1h-1zM44 12h1v1h-1zM40 14h1v1h-1zM24 18h1v1h-1zM44 18h1v1h-1zM46 18h1v1h-1zM42 20h1v1h-1zM46 20h1v1h-1zM36 24h1v1h-1zM50 24h1v1h-1zM36 26h1v1h-1zM40 26h1v1h-1zM28 28h1v1h-1zM46 28h1v1h-1zM46 30h1v1h-1zM16 32h1v1h-1zM32 32h1v1h-1zM34 32h1v1h-1zM22 34h1v1h-1zM34 34h1v1h-1zM44 34h1v1h-1zM40 36h1v1h-1zM26 38h1v1h-1zM28 38h1v1h-1zM50 38h1v1h-1zM40 40h1v1h-1zM18 44h1v1h-1zM28 44h1v1h-1zM38 44h1v1h-1zM40 48h1v1h-1zM46 48h1v1h-1zM20 50h1v1h-1zM34 50h1v1h-1zM50 50h1v1h-1zM40 52h1v1h-1zM50 52h1v1h-1zM22 54h1v1h-1zM42 54h1v1h-1zM44 54h1v1h-1zM48 54h1v1h-1zM44 56h1v1h-1zM4 58h1v1h-1zM20 58h1v1h-1zM34 58h1v1h-1zM38 58h1v1h-1zM42 58h1v1h-1zM48 58h1v1h-1zM38 60h1v1h-1zM12 62h1v1h-1zM34 62h1v1h-1zM38 62h1v1h-1zM40 62h1v1h-1zM48 62h1v1h-1zM32 64h1v1h-1zM36 64h1v1h-1zM34 66h1v1h-1zM16 68h1v1h-1zM32 68h1v1h-1zM34 68h1v1h-1zM48 68h1v1h-1zM24 70h1v1h-1zM48 70h1v1h-1zM48 72h1v1h-1zM36 74h1v1h-1zM42 76h1v1h-1zM44 76h1v1h-1zM34 78h1v1h-1zM38 78h1v1h-1zM42 78h1v1h-1z"/><path fill="#00ff85" d="M14 2h1v1h-1zM26 2h1v1h-1zM40 2h1v1h-1zM36 4h1v1h-1zM38 6h1v1h-1zM50 6h1v1h-1zM42 8h1v1h-1zM28 10h1v1h-1zM40 10h1v1h-1zM28 12h1v1h-1zM36 14h1v1h-1zM46 14h1v1h-1zM48 14h1v1h-1zM50 14h1v1h-1zM32 16h1v1h-1zM38 16h1v1h-1zM42 16h1v1h-1zM22 18h1v1h-1zM30 18h1v1h-1zM30 20h1v1h-1zM46 22h1v1h-1zM38 24h1v1h-1zM26 26h1v1h-1zM28 26h1v1h-1zM42 26h1v1h-1zM12 30h1v1h-1zM40 34h1v1h-1zM16 36h1v1h-1zM46 36h1v1h-1zM42 38h1v1h-1zM36 40h1v1h-1zM44 40h1v1h-1zM32 42h1v1h-1zM46 42h1v1h-1zM32 44h1v1h-1zM36 54h1v1h-1zM8 56h1v1h-1zM34 56h1v1h-1zM10 58h1v1h-1zM50 58h1v1h-1zM46 60h1v1h-1zM36 62h1v1h-1zM50 66h1v1h-1zM26 68h1v1h-1zM44 68h1v1h-1zM32 70h1v1h-1zM18 72h1v1h-1zM34 72h1v1h-1zM40 72h1v1h-1zM42 72h1v1h-1zM44 72h1v1h-1zM50 76h1v1h-1z"/><path fill="#00ff55" d="M36 0h1v1h-1zM2 2h1v1h-1zM20 2h1v1h-1zM28 2h1v1h-1zM32 2h1v1h-1zM46 2h1v1h-1zM48 2h1v1h-1zM50 2h1v1h-1zM14 4h1v1h-1zM16 4h1v1h-1zM22 4h1v1h-1zM42 4h1v1h-1zM48 4h1v1h-1zM24 6h1v1h-1zM30 6h1v1h-1zM30 8h1v1h-1zM46 8h1v1h-1zM48 8h1v1h-1zM22 10h1v1h-1zM34 10h1v1h-1zM38 10h1v1h-1zM42 10h1v1h-1zM48 10h1v1h-1zM22 12h1v1h-1zM30 12h1v1h-1zM32 12h1v1h-1zM44 14h1v1h-1zM14 16h1v1h-1zM16 16h1v1h-1zM26 16h1v1h-1zM36 16h1v1h-1zM44 16h1v1h-1zM4 18h1v1h-1zM14 18h1v1h-1zM34 18h1v1h-1zM38 18h1v1h-1zM42 18h1v1h-1zM50 18h1v1h-1zM28 20h1v1h-1zM32 20h1v1h-1zM36 20h1v1h-1zM30 22h1v1h-1zM24 24h1v1h-1zM32 24h1v1h-1zM46 24h1v1h-1zM20 26h1v1h-1zM50 26h1v1h-1zM26 28h1v1h-1zM44 28h1v1h-1zM24 30h1v1h-1zM42 30h1v1h-1zM48 30h1v1h-1zM28 32h1v1h-1zM36 32h1v1h-1zM44 32h1v1h-1zM46 32h1v1h-1zM10 34h1v1h-1zM24 34h1v1h-1zM46 34h1v1h-1zM10 36h1v1h-1zM12 36h1v1h-1zM18 36h1v1h-1zM26 36h1v1h-1zM28 36h1v1h-1zM30 36h1v1h-1zM36 36h1v1h-1zM48 36h1v1h-1zM4 38h1v1h-1zM8 38h1v1h-1zM14 38h1v1h-1zM30 38h1v1h-1zM32 38h1v1h-1zM14 40h1v1h-1zM20 40h1v1h-1zM48 40h1v1h-1zM14 42h1v1h-1zM22 42h1v1h-1zM30 42h1v1h-1zM34 42h1v1h-1zM38 42h1v1h-1zM42 42h1v1h-1zM50 42h1v1h-1zM16 44h1v1h-1zM36 44h1v1h-1zM40 44h1v1h-1zM46 44h1v1h-1zM50 44h1v1h-1zM22 46h1v1h-1zM34 46h1v1h-1zM36 46h1v1h-1zM44 46h1v1h-1zM50 46h1v1h-1zM34 48h1v1h-1zM38 48h1v1h-1zM42 48h1v1h-1zM4 50h1v1h-1zM38 50h1v1h-1zM40 50h1v1h-1zM42 50h1v1h-1zM48 50h1v1h-1zM10 52h1v1h-1zM16 52h1v1h-1zM32 52h1v1h-1zM34 52h1v1h-1zM36 52h1v1h-1zM42 52h1v1h-1zM44 52h1v1h-1zM2 54h1v1h-1zM8 54h1v1h-1zM20 54h1v1h-1zM28 54h1v1h-1zM32 54h1v1h-1zM38 54h1v1h-1zM40 54h1v1h-1zM50 54h1v1h-1zM28 56h1v1h-1zM40 56h1v1h-1zM50 56h1v1h-1zM2 58h1v1h-1zM18 58h1v1h-1zM22 58h1v1h-1zM24 58h1v1h-1zM40 58h1v1h-1zM46 58h1v1h-1zM8 60h1v1h-1zM14 60h1v1h-1zM22 60h1v1h-1zM30 60h1v1h-1zM34 60h1v1h-1zM40 60h1v1h-1zM50 60h1v1h-1zM2 62h1v1h-1zM24 62h1v1h-1zM26 62h1v1h-1zM28 62h1v1h-1zM50 62h1v1h-1zM28 64h1v1h-1zM30 64h1v1h-1zM40 64h1v1h-1zM44 64h1v1h-1zM46 64h1v1h-1zM48 64h1v1h-1zM50 64h1v1h-1zM12 66h1v1h-1zM22 66h1v1h-1zM24 66h1v1h-1zM26 66h1v1h-1zM32 66h1v1h-1zM36 66h1v1h-1zM38 66h1v1h-1zM46 66h1v1h-1zM6 68h1v1h-1zM24 68h1v1h-1zM14 70h1v1h-1zM16 70h1v1h-1zM22 70h1v1h-1zM44 70h1v1h-1zM46 70h1v1h-1zM16 72h1v1h-1zM50 72h1v1h-1zM8 74h1v1h-1zM22 74h1v1h-1zM28 74h1v1h-1zM34 74h1v1h-1zM48 74h1v1h-1zM2 76h1v1h-1zM12 76h1v1h-1zM14 76h1v1h-1zM16 76h1v1h-1zM24 76h1v1h-1zM30 76h1v1h-1zM32 76h1v1h-1zM40 76h1v1h-1zM14 78h1v1h-1zM18 78h1v1h-1zM22 78h1v1h-1zM30 78h1v1h-1zM44 78h1v1h-1zM50 78h1v1h-1z"/><path fill="#00ff0e" d="M32 0h1v1h-1zM40 0h1v1h-1zM48 0h1v1h-1zM10 2h1v1h-1zM12 2h1v1h-1zM30 2h1v1h-1zM34 2h1v1h-1zM42 2h1v1h-1zM44 2h1v1h-1zM20 4h1v1h-1zM28 4h1v1h-1zM40 4h1v1h-1zM2 6h1v1h-1zM40 6h1v1h-1zM14 8h1v1h-1zM32 8h1v1h-1zM40 8h1v1h-1zM12 10h1v1h-1zM20 10h1v1h-1zM24 10h1v1h-1zM26 10h1v1h-1zM50 10h1v1h-1zM16 12h1v1h-1zM18 12h1v1h-1zM46 12h1v1h-1zM16 14h1v1h-1zM18 14h1v1h-1zM34 14h1v1h-1zM22 16h1v1h-1zM24 16h1v1h-1zM30 16h1v1h-1zM34 16h1v1h-1zM48 16h1v1h-1zM4 20h1v1h-1zM20 20h1v1h-1zM38 20h1v1h-1zM18 22h1v1h-1zM22 22h1v1h-1zM28 22h1v1h-1zM40 22h1v1h-1zM42 22h1v1h-1zM44 22h1v1h-1zM12 24h1v1h-1zM20 24h1v1h-1zM26 24h1v1h-1zM34 24h1v1h-1zM48 24h1v1h-1zM22 26h1v1h-1zM30 26h1v1h-1zM44 26h1v1h-1zM46 26h1v1h-1zM30 28h1v1h-1zM34 28h1v1h-1zM36 28h1v1h-1zM48 28h1v1h-1zM50 28h1v1h-1zM16 30h1v1h-1zM26 30h1v1h-1zM38 30h1v1h-1zM40 30h1v1h-1zM12 32h1v1h-1zM48 32h1v1h-1zM2 34h1v1h-1zM8 34h1v1h-1zM14 34h1v1h-1zM28 34h1v1h-1zM36 34h1v1h-1zM38 34h1v1h-1zM4 36h1v1h-1zM6 36h1v1h-1zM22 36h1v1h-1zM24 36h1v1h-1zM32 36h1v1h-1zM34 36h1v1h-1zM50 36h1v1h-1zM18 38h1v1h-1zM20 38h1v1h-1zM40 38h1v1h-1zM46 38h1v1h-1zM2 40h1v1h-1zM8 40h1v1h-1zM18 40h1v1h-1zM24 40h1v1h-1zM26 40h1v1h-1zM38 40h1v1h-1zM2 42h1v1h-1zM12 42h1v1h-1zM20 42h1v1h-1zM24 42h1v1h-1zM26 42h1v1h-1zM28 42h1v1h-1zM36 42h1v1h-1zM40 42h1v1h-1zM8 44h1v1h-1zM12 44h1v1h-1zM26 44h1v1h-1zM34 44h1v1h-1zM44 44h1v1h-1zM2 46h1v1h-1zM10 46h1v1h-1zM14 46h1v1h-1zM16 46h1v1h-1zM24 46h1v1h-1zM26 46h1v1h-1zM28 46h1v1h-1zM30 46h1v1h-1zM40 46h1v1h-1zM42 46h1v1h-1zM6 48h1v1h-1zM10 48h1v1h-1zM20 48h1v1h-1zM24 48h1v1h-1zM32 48h1v1h-1zM48 48h1v1h-1zM8 50h1v1h-1zM16 50h1v1h-1zM30 50h1v1h-1zM44 50h1v1h-1zM46 50h1v1h-1zM20 52h1v1h-1zM22 52h1v1h-1zM28 52h1v1h-1zM46 52h1v1h-1zM10 54h1v1h-1zM14 54h1v1h-1zM16 54h1v1h-1zM18 54h1v1h-1zM30 54h1v1h-1zM4 56h1v1h-1zM16 56h1v1h-1zM24 56h1v1h-1zM26 56h1v1h-1zM38 56h1v1h-1zM48 56h1v1h-1zM26 58h1v1h-1zM32 58h1v1h-1zM44 58h1v1h-1zM18 60h1v1h-1zM20 60h1v1h-1zM26 60h1v1h-1zM32 60h1v1h-1zM42 60h1v1h-1zM48 60h1v1h-1zM16 62h1v1h-1zM18 62h1v1h-1zM30 62h1v1h-1zM32 62h1v1h-1zM2 64h1v1h-1zM4 64h1v1h-1zM10 64h1v1h-1zM14 64h1v1h-1zM16 64h1v1h-1zM18 64h1v1h-1zM20 64h1v1h-1zM24 64h1v1h-1zM34 64h1v1h-1zM38 64h1v1h-1zM30 66h1v1h-1zM44 66h1v1h-1zM8 68h1v1h-1zM12 68h1v1h-1zM18 68h1v1h-1zM30 68h1v1h-1zM38 68h1v1h-1zM10 70h1v1h-1zM20 70h1v1h-1zM28 70h1v1h-1zM34 70h1v1h-1zM6 72h1v1h-1zM10 72h1v1h-1zM30 72h1v1h-1zM38 72h1v1h-1zM12 74h1v1h-1zM14 74h1v1h-1zM26 74h1v1h-1zM30 74h1v1h-1zM32 74h1v1h-1zM42 74h1v1h-1zM44 74h1v1h-1zM8 76h1v1h-1zM10 76h1v1h-1zM18 76h1v1h-1zM28 76h1v1h-1zM34 76h1v1h-1zM38 76h1v1h-1zM48 76h1v1h-1zM20 78h1v1h-1zM24 78h1v1h-1zM28 78h1v1h-1zM32 78h1v1h-1z"/><path fill="#22ff00" d="M42 0h1v1h-1zM18 2h1v1h-1zM12 4h1v1h-1zM32 4h1v1h-1zM0 6h1v1h-1zM18 6h1v1h-1zM32 6h1v1h-1zM34 6h1v1h-1zM36 6h1v1h-1zM44 6h1v1h-1zM46 6h1v1h-1zM16 8h1v1h-1zM18 8h1v1h-1zM26 8h1v1h-1zM28 8h1v1h-1zM34 8h1v1h-1zM38 8h1v1h-1zM50 8h1v1h-1zM44 10h1v1h-1zM20 12h1v1h-1zM26 12h1v1h-1zM34 12h1v1h-1zM40 12h1v1h-1zM12 14h1v1h-1zM28 14h1v1h-1zM32 14h1v1h-1zM4 16h1v1h-1zM18 16h1v1h-1zM48 18h1v1h-1zM14 20h1v1h-1zM18 20h1v1h-1zM34 20h1v1h-1zM40 20h1v1h-1zM14 22h1v1h-1zM32 22h1v1h-1zM4 24h1v1h-1zM22 24h1v1h-1zM38 26h1v1h-1zM48 26h1v1h-1zM16 28h1v1h-1zM24 28h1v1h-1zM38 28h1v1h-1zM42 28h1v1h-1zM14 30h1v1h-1zM20 30h1v1h-1zM34 30h1v1h-1zM20 32h1v1h-1zM42 32h1v1h-1zM18 34h1v1h-1zM48 34h1v1h-1zM38 36h1v1h-1zM42 36h1v1h-1zM2 38h1v1h-1zM10 38h1v1h-1zM12 38h1v1h-1zM16 38h1v1h-1zM16 40h1v1h-1zM22 40h1v1h-1zM32 40h1v1h-1zM6 42h1v1h-1zM22 44h1v1h-1zM30 44h1v1h-1zM4 46h1v1h-1zM6 46h1v1h-1zM32 46h1v1h-1zM8 48h1v1h-1zM22 48h1v1h-1zM26 48h1v1h-1zM50 48h1v1h-1zM10 50h1v1h-1zM12 50h1v1h-1zM18 50h1v1h-1zM24 50h1v1h-1zM14 52h1v1h-1zM24 52h1v1h-1zM26 52h1v1h-1zM6 56h1v1h-1zM30 56h1v1h-1zM36 60h1v1h-1zM8 62h1v1h-1zM14 62h1v1h-1zM44 62h1v1h-1zM4 66h1v1h-1zM8 66h1v1h-1zM18 66h1v1h-1zM36 68h1v1h-1zM40 68h1v1h-1zM12 70h1v1h-1zM30 70h1v1h-1zM38 70h1v1h-1zM8 72h1v1h-1zM14 72h1v1h-1zM26 72h1v1h-1zM28 72h1v1h-1zM32 72h1v1h-1zM16 74h1v1h-1zM4 76h1v1h-1zM4 78h1v1h-1zM6 78h1v1h-1zM12 78h1v1h-1zM46 78h1v1h-1z"/><path fill="#69ff00" d="M24 0h1v1h-1zM26 0h1v1h-1zM30 0h1v1h-1zM38 0h1v1h-1zM46 0h1v1h-1zM4 2h1v1h-1zM16 2h1v1h-1zM22 2h1v1h-1zM38 2h1v1h-1zM8 4h1v1h-1zM24 4h1v1h-1zM6 6h1v1h-1zM14 6h1v1h-1zM16 6h1v1h-1zM20 6h1v1h-1zM22 6h1v1h-1zM42 6h1v1h-1zM10 8h1v1h-1zM12 8h1v1h-1zM24 8h1v1h-1zM44 8h1v1h-1zM0 10h1v1h-1zM2 10h1v1h-1zM8 10h1v1h-1zM10 10h1v1h-1zM2 12h1v1h-1zM4 12h1v1h-1zM8 12h1v1h-1zM10 12h1v1h-1zM12 12h1v1h-1zM14 12h1v1h-1zM4 14h1v1h-1zM20 14h1v1h-1zM24 14h1v1h-1zM30 14h1v1h-1zM38 14h1v1h-1zM42 14h1v1h-1zM28 16h1v1h-1zM40 16h1v1h-1zM46 16h1v1h-1zM8 18h1v1h-1zM10 18h1v1h-1zM26 18h1v1h-1zM32 18h1v1h-1zM10 20h1v1h-1zM12 20h1v1h-1zM22 20h1v1h-1zM24 20h1v1h-1zM44 20h1v1h-1zM50 20h1v1h-1zM2 22h1v1h-1zM16 22h1v1h-1zM20 22h1v1h-1zM26 22h1v1h-1zM34 22h1v1h-1zM10 24h1v1h-1zM16 24h1v1h-1zM18 24h1v1h-1zM42 24h1v1h-1zM2 26h1v1h-1zM6 26h1v1h-1zM14 26h1v1h-1zM16 26h1v1h-1zM18 26h1v1h-1zM2 28h1v1h-1zM10 28h1v1h-1zM12 28h1v1h-1zM14 28h1v1h-1zM18 28h1v1h-1zM20 28h1v1h-1zM22 28h1v1h-1zM4 30h1v1h-1zM10 30h1v1h-1zM18 30h1v1h-1zM22 30h1v1h-1zM30 30h1v1h-1zM32 30h1v1h-1zM36 30h1v1h-1zM4 32h1v1h-1zM8 32h1v1h-1zM10 32h1v1h-1zM18 32h1v1h-1zM22 32h1v1h-1zM24 32h1v1h-1zM26 32h1v1h-1zM30 32h1v1h-1zM26 34h1v1h-1zM50 34h1v1h-1zM14 36h1v1h-1zM6 38h1v1h-1zM22 38h1v1h-1zM34 38h1v1h-1zM12 40h1v1h-1zM42 40h1v1h-1zM4 42h1v1h-1zM10 42h1v1h-1zM16 42h1v1h-1zM48 42h1v1h-1zM4 44h1v1h-1zM6 44h1v1h-1zM10 44h1v1h-1zM14 44h1v1h-1zM20 44h1v1h-1zM24 44h1v1h-1zM42 44h1v1h-1zM20 46h1v1h-1zM46 46h1v1h-1zM48 46h1v1h-1zM4 48h1v1h-1zM12 48h1v1h-1zM18 48h1v1h-1zM36 48h1v1h-1zM22 50h1v1h-1zM28 50h1v1h-1zM2 52h1v1h-1zM6 52h1v1h-1zM8 52h1v1h-1zM12 52h1v1h-1zM38 52h1v1h-1zM4 54h1v1h-1zM6 54h1v1h-1zM12 54h1v1h-1zM24 54h1v1h-1zM34 54h1v1h-1zM12 56h1v1h-1zM14 56h1v1h-1zM18 56h1v1h-1zM20 56h1v1h-1zM32 56h1v1h-1zM8 58h1v1h-1zM12 58h1v1h-1zM16 58h1v1h-1zM12 60h1v1h-1zM16 60h1v1h-1zM28 60h1v1h-1zM4 62h1v1h-1zM6 62h1v1h-1zM10 62h1v1h-1zM22 62h1v1h-1zM22 64h1v1h-1zM10 66h1v1h-1zM14 66h1v1h-1zM16 66h1v1h-1zM20 66h1v1h-1zM28 66h1v1h-1zM42 66h1v1h-1zM4 68h1v1h-1zM10 68h1v1h-1zM14 68h1v1h-1zM20 68h1v1h-1zM22 68h1v1h-1zM28 68h1v1h-1zM46 68h1v1h-1zM6 70h1v1h-1zM8 70h1v1h-1zM18 70h1v1h-1zM26 70h1v1h-1zM22 72h1v1h-1zM46 72h1v1h-1zM2 74h1v1h-1zM10 74h1v1h-1zM20 74h1v1h-1zM6 76h1v1h-1zM2 78h1v1h-1zM10 78h1v1h-1zM16 78h1v1h-1zM26 78h1v1h-1z"/><path fill="#99ff00" d="M4 0h1v1h-1zM10 0h1v1h-1zM18 0h1v1h-1zM22 0h1v1h-1zM34 0h1v1h-1zM44 0h1v1h-1zM6 2h1v1h-1zM8 2h1v1h-1zM24 2h1v1h-1zM2 4h1v1h-1zM6 4h1v1h-1zM10 4h1v1h-1zM18 4h1v1h-1zM26 4h1v1h-1zM30 4h1v1h-1zM8 6h1v1h-1zM10 6h1v1h-1zM12 6h1v1h-1zM26 6h1v1h-1zM2 8h1v1h-1zM20 8h1v1h-1zM22 8h1v1h-1zM4 10h1v1h-1zM16 10h1v1h-1zM18 10h1v1h-1zM30 10h1v1h-1zM36 10h1v1h-1zM2 14h1v1h-1zM6 14h1v1h-1zM8 14h1v1h-1zM22 14h1v1h-1zM26 14h1v1h-1zM12 16h1v1h-1zM16 18h1v1h-1zM6 20h1v1h-1zM16 20h1v1h-1zM26 20h1v1h-1zM6 22h1v1h-1zM12 22h1v1h-1zM2 24h1v1h-1zM6 24h1v1h-1zM14 24h1v1h-1zM8 26h1v1h-1zM10 26h1v1h-1zM12 26h1v1h-1zM24 26h1v1h-1zM34 26h1v1h-1zM8 30h1v1h-1zM14 32h1v1h-1zM4 34h1v1h-1zM6 34h1v1h-1zM12 34h1v1h-1zM16 34h1v1h-1zM32 34h1v1h-1zM2 36h1v1h-1zM8 36h1v1h-1zM20 36h1v1h-1zM24 38h1v1h-1zM6 40h1v1h-1zM10 40h1v1h-1zM30 40h1v1h-1zM8 42h1v1h-1zM18 42h1v1h-1zM44 42h1v1h-1zM8 46h1v1h-1zM12 46h1v1h-1zM38 46h1v1h-1zM2 48h1v1h-1zM14 48h1v1h-1zM16 48h1v1h-1zM28 48h1v1h-1zM30 48h1v1h-1zM4 52h1v1h-1zM18 52h1v1h-1zM26 54h1v1h-1zM2 56h1v1h-1zM10 56h1v1h-1zM6 58h1v1h-1zM14 58h1v1h-1zM28 58h1v1h-1zM30 58h1v1h-1zM4 60h1v1h-1zM6 60h1v1h-1zM10 60h1v1h-1zM24 60h1v1h-1zM0 62h1v1h-1zM6 64h1v1h-1zM8 64h1v1h-1zM0 66h1v1h-1zM6 66h1v1h-1zM0 70h1v1h-1zM2 70h1v1h-1zM36 70h1v1h-1zM42 70h1v1h-1zM2 72h1v1h-1zM12 72h1v1h-1zM20 72h1v1h-1zM24 72h1v1h-1zM6 74h1v1h-1zM18 74h1v1h-1zM24 74h1v1h-1zM40 74h1v1h-1zM46 74h1v1h-1zM8 78h1v1h-1z"/><path fill="#e0ff00" d="M8 0h1v1h-1zM12 0h1v1h-1zM14 0h1v1h-1zM20 0h1v1h-1zM28 0h1v1h-1zM4 8h1v1h-1zM6 8h1v1h-1zM8 8h1v1h-1zM6 10h1v1h-1zM14 10h1v1h-1zM0 12h1v1h-1zM6 12h1v1h-1zM10 14h1v1h-1zM2 16h1v1h-1zM6 16h1v1h-1zM20 16h1v1h-1zM2 18h1v1h-1zM6 18h1v1h-1zM12 18h1v1h-1zM18 18h1v1h-1zM40 18h1v1h-1zM8 20h1v1h-1zM8 22h1v1h-1zM10 22h1v1h-1zM24 22h1v1h-1zM0 28h1v1h-1zM4 28h1v1h-1zM6 28h1v1h-1zM8 28h1v1h-1zM6 30h1v1h-1zM28 30h1v1h-1zM6 32h1v1h-1zM20 34h1v1h-1zM30 34h1v1h-1zM4 40h1v1h-1zM0 44h1v1h-1zM2 44h1v1h-1zM18 46h1v1h-1zM0 50h1v1h-1zM6 50h1v1h-1zM14 50h1v1h-1zM0 58h1v1h-1zM20 62h1v1h-1zM12 64h1v1h-1zM4 72h1v1h-1zM0 74h1v1h-1zM4 74h1v1h-1zM20 76h1v1h-1z"/><path fill="#ffee00" d="M2 0h1v1h-1zM16 0h1v1h-1zM4 4h1v1h-1zM0 14h1v1h-1zM14 14h1v1h-1zM0 18h1v1h-1zM28 18h1v1h-1zM8 24h1v1h-1zM4 26h1v1h-1zM0 30h1v1h-1zM0 38h1v1h-1zM2 50h1v1h-1zM2 68h1v1h-1zM4 70h1v1h-1z"/><path fill="#ffa700" d="M6 0h1v1h-1zM4 6h1v1h-1zM8 16h1v1h-1zM10 16h1v1h-1zM20 18h1v1h-1zM2 20h1v1h-1zM4 22h1v1h-1zM2 30h1v1h-1zM2 32h1v1h-1zM0 40h1v1h-1zM0 42h1v1h-1zM0 48h1v1h-1zM0 54h1v1h-1zM2 60h1v1h-1zM0 64h1v1h-1zM2 66h1v1h-1zM0 72h1v1h-1z"/><path fill="#ff7700" d="M0 2h1v1h-1zM0 4h1v1h-1zM0 24h1v1h-1zM0 32h1v1h-1zM0 46h1v1h-1zM0 56h1v1h-1zM0 60h1v1h-1zM0 68h1v1h-1z"/><path fill="#ff3000" d="M0 16h1v1h-1zM0 20h1v1h-1zM0 26h1v1h-1zM0 76h1v1h-1z"/><path fill="#ff0000" d="M0 0h1v1h-1zM0 8h1v1h-1zM0 22h1v1h-1zM0 34h1v1h-1zM0 36h1v1h-1zM0 52h1v1h-1zM0 78h1v1h-1z"/><path fill="#0044ff" d="M45 13h1v1h-1zM37 27h1v1h-1zM29 33h1v1h-1zM25 37h1v1h-1zM25 67h1v1h-1zM45 71h1v1h-1z"/><path fill="#008bff" d="M43 11h1v1h-1zM27 19h1v1h-1zM45 19h1v1h-1zM37 31h1v1h-1zM41 43h1v1h-1zM33 55h1v1h-1zM31 65h1v1h-1zM41 65h1v1h-1zM39 67h1v1h-1zM35 71h1v1h-1zM39 71h1v1h-1zM41 75h1v1h-1z"/><path fill="#00bbff" d="M21 11h1v1h-1zM41 19h1v1h-1zM49 21h1v1h-1zM25 27h1v1h-1zM47 43h1v1h-1zM35 45h1v1h-1zM49 45h1v1h-1zM29 49h1v1h-1zM31 51h1v1h-1zM41 61h1v1h-1zM37 67h1v1h-1zM33 69h1v1h-1zM29 73h1v1h-1zM23 77h1v1h-1zM43 77h1v1h-1zM51 77h1v1h-1z"/><path fill="#00fffc" d="M47 1h1v1h-1zM37 3h1v1h-1zM47 5h1v1h-1zM33 31h1v1h-1zM45 31h1v1h-1zM21 37h1v1h-1zM47 37h1v1h-1zM23 41h1v1h-1zM49 41h1v1h-1zM29 43h1v1h-1zM47 47h1v1h-1zM21 49h1v1h-1zM27 51h1v1h-1zM41 53h1v1h-1zM49 57h1v1h-1zM15 61h1v1h-1zM9 63h1v1h-1zM41 67h1v1h-1zM47 67h1v1h-1zM25 69h1v1h-1zM31 69h1v1h-1zM47 69h1v1h-1zM47 73h1v1h-1zM45 77h1v1h-1zM49 77h1v1h-1z"/><path fill="#00ffcc" d="M35 1h1v1h-1zM43 1h1v1h-1zM39 3h1v1h-1zM29 5h1v1h-1zM27 7h1v1h-1zM37 9h1v1h-1zM39 9h1v1h-1zM43 9h1v1h-1zM31 13h1v1h-1zM35 13h1v1h-1zM37 13h1v1h-1zM33 15h1v1h-1zM37 15h1v1h-1zM39 15h1v1h-1zM41 15h1v1h-1zM27 17h1v1h-1zM43 17h1v1h-1zM35 19h1v1h-1zM39 19h1v1h-1zM43 19h1v1h-1zM49 19h1v1h-1zM41 21h1v1h-1zM39 23h1v1h-1zM45 23h1v1h-1zM39 25h1v1h-1zM25 29h1v1h-1zM43 29h1v1h-1zM43 33h1v1h-1zM47 33h1v1h-1zM49 33h1v1h-1zM31 35h1v1h-1zM33 35h1v1h-1zM41 35h1v1h-1zM49 35h1v1h-1zM27 39h1v1h-1zM29 39h1v1h-1zM43 39h1v1h-1zM35 43h1v1h-1zM43 43h1v1h-1zM45 45h1v1h-1zM31 47h1v1h-1zM39 47h1v1h-1zM43 47h1v1h-1zM39 49h1v1h-1zM9 51h1v1h-1zM35 51h1v1h-1zM37 51h1v1h-1zM45 51h1v1h-1zM47 53h1v1h-1zM11 55h1v1h-1zM29 55h1v1h-1zM39 57h1v1h-1zM47 57h1v1h-1zM33 59h1v1h-1zM35 59h1v1h-1zM47 59h1v1h-1zM49 59h1v1h-1zM49 61h1v1h-1zM39 63h1v1h-1zM47 63h1v1h-1zM29 67h1v1h-1zM35 67h1v1h-1zM41 69h1v1h-1zM43 69h1v1h-1zM17 71h1v1h-1zM31 71h1v1h-1zM43 73h1v1h-1zM25 75h1v1h-1zM29 75h1v1h-1zM35 75h1v1h-1zM39 75h1v1h-1zM49 75h1v1h-1zM41 77h1v1h-1zM45 79h1v1h-1zM49 79h1v1h-1z"/><path fill="#00ff85" d="M37 1h1v1h-1zM45 3h1v1h-1zM35 7h1v1h-1zM27 11h1v1h-1zM33 11h1v1h-1zM49 11h1v1h-1zM41 13h1v1h-1zM13 15h1v1h-1zM45 15h1v1h-1zM33 17h1v1h-1zM39 21h1v1h-1zM43 21h1v1h-1zM25 23h1v1h-1zM47 23h1v1h-1zM21 25h1v1h-1zM41 25h1v1h-1zM43 31h1v1h-1zM33 33h1v1h-1zM41 33h1v1h-1zM29 35h1v1h-1zM15 37h1v1h-1zM19 37h1v1h-1zM47 39h1v1h-1zM17 41h1v1h-1zM35 41h1v1h-1zM43 41h1v1h-1zM19 43h1v1h-1zM25 45h1v1h-1zM27 45h1v1h-1zM37 45h1v1h-1zM35 47h1v1h-1zM25 49h1v1h-1zM47 49h1v1h-1zM15 51h1v1h-1zM43 51h1v1h-1zM31 53h1v1h-1zM39 53h1v1h-1zM45 53h1v1h-1zM5 55h1v1h-1zM31 55h1v1h-1zM49 55h1v1h-1zM43 57h1v1h-1zM37 59h1v1h-1zM29 61h1v1h-1zM35 61h1v1h-1zM45 61h1v1h-1zM35 63h1v1h-1zM45 63h1v1h-1zM5 65h1v1h-1zM25 65h1v1h-1zM33 65h1v1h-1zM39 65h1v1h-1zM47 65h1v1h-1zM37 71h1v1h-1zM35 73h1v1h-1zM37 73h1v1h-1zM41 73h1v1h-1zM21 75h1v1h-1zM33 75h1v1h-1zM45 75h1v1h-1zM47 75h1v1h-1zM37 77h1v1h-1zM29 79h1v1h-1zM39 79h1v1h-1z"/><path fill="#00ff55" d="M17 1h1v1h-1zM21 1h1v1h-1zM23 1h1v1h-1zM29 1h1v1h-1zM45 1h1v1h-1zM23 3h1v1h-1zM31 3h1v1h-1zM33 3h1v1h-1zM49 3h1v1h-1zM13 5h1v1h-1zM33 5h1v1h-1zM35 5h1v1h-1zM37 5h1v1h-1zM41 5h1v1h-1zM43 5h1v1h-1zM31 7h1v1h-1zM37 7h1v1h-1zM39 7h1v1h-1zM41 7h1v1h-1zM43 7h1v1h-1zM49 7h1v1h-1zM17 9h1v1h-1zM27 9h1v1h-1zM35 9h1v1h-1zM45 9h1v1h-1zM15 11h1v1h-1zM39 11h1v1h-1zM21 13h1v1h-1zM25 13h1v1h-1zM27 13h1v1h-1zM33 13h1v1h-1zM43 13h1v1h-1zM47 13h1v1h-1zM49 13h1v1h-1zM23 15h1v1h-1zM25 15h1v1h-1zM27 15h1v1h-1zM29 15h1v1h-1zM47 15h1v1h-1zM29 17h1v1h-1zM31 17h1v1h-1zM35 17h1v1h-1zM45 17h1v1h-1zM47 17h1v1h-1zM37 19h1v1h-1zM47 19h1v1h-1zM11 21h1v1h-1zM33 21h1v1h-1zM37 21h1v1h-1zM19 23h1v1h-1zM21 23h1v1h-1zM31 23h1v1h-1zM33 23h1v1h-1zM35 23h1v1h-1zM37 23h1v1h-1zM49 23h1v1h-1zM23 25h1v1h-1zM25 25h1v1h-1zM27 25h1v1h-1zM31 25h1v1h-1zM49 25h1v1h-1zM11 27h1v1h-1zM19 27h1v1h-1zM33 27h1v1h-1zM39 27h1v1h-1zM47 27h1v1h-1zM9 29h1v1h-1zM19 29h1v1h-1zM31 29h1v1h-1zM33 29h1v1h-1zM49 29h1v1h-1zM11 31h1v1h-1zM19 31h1v1h-1zM21 31h1v1h-1zM29 31h1v1h-1zM47 31h1v1h-1zM49 31h1v1h-1zM31 33h1v1h-1zM39 33h1v1h-1zM45 33h1v1h-1zM39 35h1v1h-1zM3 37h1v1h-1zM27 37h1v1h-1zM29 37h1v1h-1zM19 39h1v1h-1zM25 39h1v1h-1zM37 39h1v1h-1zM41 39h1v1h-1zM49 39h1v1h-1zM25 41h1v1h-1zM31 41h1v1h-1zM37 41h1v1h-1zM41 41h1v1h-1zM45 41h1v1h-1zM47 41h1v1h-1zM5 45h1v1h-1zM21 45h1v1h-1zM23 45h1v1h-1zM29 45h1v1h-1zM43 45h1v1h-1zM47 45h1v1h-1zM21 47h1v1h-1zM9 49h1v1h-1zM23 49h1v1h-1zM27 49h1v1h-1zM31 49h1v1h-1zM43 49h1v1h-1zM13 51h1v1h-1zM33 51h1v1h-1zM39 51h1v1h-1zM47 51h1v1h-1zM9 53h1v1h-1zM35 53h1v1h-1zM37 53h1v1h-1zM43 53h1v1h-1zM49 53h1v1h-1zM23 55h1v1h-1zM41 55h1v1h-1zM43 55h1v1h-1zM47 55h1v1h-1zM37 57h1v1h-1zM41 57h1v1h-1zM45 57h1v1h-1zM13 59h1v1h-1zM25 59h1v1h-1zM29 59h1v1h-1zM31 59h1v1h-1zM39 59h1v1h-1zM13 61h1v1h-1zM19 61h1v1h-1zM23 61h1v1h-1zM43 61h1v1h-1zM47 61h1v1h-1zM29 63h1v1h-1zM33 63h1v1h-1zM49 63h1v1h-1zM21 65h1v1h-1zM23 65h1v1h-1zM29 65h1v1h-1zM35 65h1v1h-1zM37 65h1v1h-1zM43 65h1v1h-1zM49 65h1v1h-1zM17 67h1v1h-1zM23 67h1v1h-1zM45 67h1v1h-1zM7 69h1v1h-1zM45 69h1v1h-1zM1 71h1v1h-1zM3 71h1v1h-1zM11 71h1v1h-1zM23 71h1v1h-1zM25 71h1v1h-1zM41 71h1v1h-1zM43 71h1v1h-1zM7 73h1v1h-1zM13 73h1v1h-1zM21 73h1v1h-1zM39 73h1v1h-1zM45 73h1v1h-1zM7 75h1v1h-1zM9 75h1v1h-1zM43 75h1v1h-1zM17 77h1v1h-1zM25 77h1v1h-1zM29 77h1v1h-1zM33 77h1v1h-1zM35 77h1v1h-1zM39 77h1v1h-1zM21 79h1v1h-1zM27 79h1v1h-1zM31 79h1v1h-1zM35 79h1v1h-1zM37 79h1v1h-1zM47 79h1v1h-1z"/><path fill="#00ff0e" d="M15 1h1v1h-1zM27 1h1v1h-1zM31 1h1v1h-1zM39 1h1v1h-1zM1 3h1v1h-1zM5 3h1v1h-1zM13 3h1v1h-1zM27 3h1v1h-1zM41 3h1v1h-1zM25 5h1v1h-1zM31 5h1v1h-1zM49 5h1v1h-1zM21 7h1v1h-1zM29 7h1v1h-1zM47 7h1v1h-1zM19 9h1v1h-1zM23 9h1v1h-1zM31 9h1v1h-1zM33 9h1v1h-1zM41 9h1v1h-1zM47 9h1v1h-1zM7 11h1v1h-1zM35 11h1v1h-1zM37 11h1v1h-1zM41 11h1v1h-1zM45 11h1v1h-1zM47 11h1v1h-1zM5 13h1v1h-1zM7 13h1v1h-1zM11 13h1v1h-1zM19 13h1v1h-1zM31 15h1v1h-1zM35 15h1v1h-1zM49 15h1v1h-1zM3 17h1v1h-1zM9 17h1v1h-1zM17 17h1v1h-1zM25 17h1v1h-1zM41 17h1v1h-1zM49 17h1v1h-1zM9 19h1v1h-1zM17 19h1v1h-1zM25 19h1v1h-1zM31 19h1v1h-1zM15 21h1v1h-1zM21 21h1v1h-1zM23 21h1v1h-1zM27 21h1v1h-1zM35 21h1v1h-1zM47 21h1v1h-1zM5 23h1v1h-1zM29 23h1v1h-1zM41 23h1v1h-1zM43 23h1v1h-1zM1 25h1v1h-1zM11 25h1v1h-1zM29 25h1v1h-1zM33 25h1v1h-1zM35 25h1v1h-1zM43 25h1v1h-1zM45 25h1v1h-1zM13 27h1v1h-1zM15 27h1v1h-1zM23 27h1v1h-1zM27 27h1v1h-1zM31 27h1v1h-1zM43 27h1v1h-1zM49 27h1v1h-1zM1 29h1v1h-1zM11 29h1v1h-1zM27 29h1v1h-1zM29 29h1v1h-1zM35 29h1v1h-1zM37 29h1v1h-1zM39 29h1v1h-1zM41 29h1v1h-1zM47 29h1v1h-1zM9 31h1v1h-1zM27 31h1v1h-1zM31 31h1v1h-1zM35 31h1v1h-1zM39 31h1v1h-1zM5 33h1v1h-1zM17 33h1v1h-1zM27 33h1v1h-1zM35 33h1v1h-1zM23 35h1v1h-1zM27 35h1v1h-1zM37 35h1v1h-1zM45 35h1v1h-1zM47 35h1v1h-1zM1 37h1v1h-1zM11 37h1v1h-1zM31 37h1v1h-1zM33 37h1v1h-1zM35 37h1v1h-1zM41 37h1v1h-1zM43 37h1v1h-1zM45 37h1v1h-1zM49 37h1v1h-1zM5 39h1v1h-1zM35 39h1v1h-1zM45 39h1v1h-1zM19 41h1v1h-1zM29 41h1v1h-1zM39 41h1v1h-1zM7 43h1v1h-1zM15 43h1v1h-1zM25 43h1v1h-1zM27 43h1v1h-1zM31 43h1v1h-1zM37 43h1v1h-1zM9 45h1v1h-1zM33 45h1v1h-1zM39 45h1v1h-1zM41 45h1v1h-1zM1 47h1v1h-1zM5 47h1v1h-1zM23 47h1v1h-1zM29 47h1v1h-1zM33 47h1v1h-1zM37 47h1v1h-1zM41 47h1v1h-1zM45 47h1v1h-1zM49 47h1v1h-1zM17 49h1v1h-1zM41 49h1v1h-1zM45 49h1v1h-1zM49 49h1v1h-1zM15 53h1v1h-1zM21 53h1v1h-1zM33 53h1v1h-1zM15 55h1v1h-1zM35 55h1v1h-1zM37 55h1v1h-1zM45 55h1v1h-1zM15 57h1v1h-1zM19 57h1v1h-1zM21 57h1v1h-1zM29 57h1v1h-1zM33 57h1v1h-1zM27 59h1v1h-1zM45 59h1v1h-1zM17 61h1v1h-1zM27 61h1v1h-1zM31 61h1v1h-1zM37 61h1v1h-1zM39 61h1v1h-1zM5 63h1v1h-1zM15 63h1v1h-1zM17 63h1v1h-1zM21 63h1v1h-1zM25 63h1v1h-1zM27 63h1v1h-1zM37 63h1v1h-1zM15 65h1v1h-1zM17 65h1v1h-1zM19 65h1v1h-1zM27 65h1v1h-1zM45 65h1v1h-1zM13 67h1v1h-1zM19 67h1v1h-1zM27 67h1v1h-1zM33 67h1v1h-1zM49 67h1v1h-1zM5 69h1v1h-1zM9 69h1v1h-1zM13 69h1v1h-1zM17 69h1v1h-1zM35 69h1v1h-1zM37 69h1v1h-1zM39 69h1v1h-1zM49 69h1v1h-1zM19 71h1v1h-1zM47 71h1v1h-1zM49 71h1v1h-1zM9 73h1v1h-1zM15 73h1v1h-1zM19 73h1v1h-1zM23 73h1v1h-1zM27 73h1v1h-1zM31 73h1v1h-1zM33 73h1v1h-1zM5 75h1v1h-1zM19 75h1v1h-1zM27 75h1v1h-1zM31 75h1v1h-1zM9 77h1v1h-1zM13 77h1v1h-1zM15 77h1v1h-1zM19 77h1v1h-1zM27 77h1v1h-1zM3 79h1v1h-1zM11 79h1v1h-1zM13 79h1v1h-1zM15 79h1v1h-1zM17 79h1v1h-1zM19 79h1v1h-1zM23 79h1v1h-1zM25 79h1v1h-1zM41 79h1v1h-1z"/><path fill="#22ff00" d="M15 3h1v1h-1zM19 3h1v1h-1zM21 3h1v1h-1zM35 3h1v1h-1zM47 3h1v1h-1zM11 5h1v1h-1zM7 7h1v1h-1zM29 9h1v1h-1zM49 9h1v1h-1zM19 11h1v1h-1zM25 11h1v1h-1zM31 11h1v1h-1zM15 13h1v1h-1zM19 17h1v1h-1zM39 17h1v1h-1zM15 19h1v1h-1zM25 21h1v1h-1zM15 23h1v1h-1zM23 23h1v1h-1zM9 25h1v1h-1zM47 25h1v1h-1zM29 27h1v1h-1zM41 27h1v1h-1zM45 27h1v1h-1zM13 29h1v1h-1zM23 29h1v1h-1zM45 29h1v1h-1zM7 33h1v1h-1zM11 33h1v1h-1zM23 33h1v1h-1zM1 35h1v1h-1zM19 35h1v1h-1zM35 35h1v1h-1zM37 37h1v1h-1zM31 39h1v1h-1zM13 41h1v1h-1zM3 43h1v1h-1zM21 43h1v1h-1zM39 43h1v1h-1zM45 43h1v1h-1zM49 43h1v1h-1zM19 45h1v1h-1zM3 47h1v1h-1zM15 47h1v1h-1zM15 49h1v1h-1zM35 49h1v1h-1zM37 49h1v1h-1zM25 51h1v1h-1zM29 51h1v1h-1zM7 53h1v1h-1zM23 53h1v1h-1zM29 53h1v1h-1zM1 55h1v1h-1zM3 55h1v1h-1zM19 55h1v1h-1zM25 55h1v1h-1zM9 57h1v1h-1zM27 57h1v1h-1zM31 57h1v1h-1zM35 57h1v1h-1zM1 59h1v1h-1zM41 59h1v1h-1zM43 59h1v1h-1zM7 61h1v1h-1zM25 61h1v1h-1zM23 63h1v1h-1zM31 63h1v1h-1zM41 63h1v1h-1zM31 67h1v1h-1zM43 67h1v1h-1zM1 69h1v1h-1zM21 69h1v1h-1zM29 69h1v1h-1zM5 71h1v1h-1zM13 71h1v1h-1zM15 71h1v1h-1zM21 71h1v1h-1zM17 73h1v1h-1zM49 73h1v1h-1zM13 75h1v1h-1zM23 75h1v1h-1zM11 77h1v1h-1zM7 79h1v1h-1z"/><path fill="#69ff00" d="M13 1h1v1h-1zM33 1h1v1h-1zM41 1h1v1h-1zM49 1h1v1h-1zM3 3h1v1h-1zM11 3h1v1h-1zM17 3h1v1h-1zM25 3h1v1h-1zM29 3h1v1h-1zM19 5h1v1h-1zM21 5h1v1h-1zM23 5h1v1h-1zM39 5h1v1h-1zM45 5h1v1h-1zM3 7h1v1h-1zM5 7h1v1h-1zM23 7h1v1h-1zM33 7h1v1h-1zM45 7h1v1h-1zM3 9h1v1h-1zM9 9h1v1h-1zM11 9h1v1h-1zM13 9h1v1h-1zM15 9h1v1h-1zM21 9h1v1h-1zM25 9h1v1h-1zM51 9h1v1h-1zM9 11h1v1h-1zM29 11h1v1h-1zM9 13h1v1h-1zM17 13h1v1h-1zM23 13h1v1h-1zM29 13h1v1h-1zM39 13h1v1h-1zM1 15h1v1h-1zM9 15h1v1h-1zM11 15h1v1h-1zM15 15h1v1h-1zM19 15h1v1h-1zM43 15h1v1h-1zM1 17h1v1h-1zM7 17h1v1h-1zM11 17h1v1h-1zM15 17h1v1h-1zM21 17h1v1h-1zM37 17h1v1h-1zM5 19h1v1h-1zM7 19h1v1h-1zM13 19h1v1h-1zM23 19h1v1h-1zM33 19h1v1h-1zM1 21h1v1h-1zM29 21h1v1h-1zM31 21h1v1h-1zM3 23h1v1h-1zM13 23h1v1h-1zM17 23h1v1h-1zM27 23h1v1h-1zM15 25h1v1h-1zM17 25h1v1h-1zM1 27h1v1h-1zM7 27h1v1h-1zM17 27h1v1h-1zM21 27h1v1h-1zM21 29h1v1h-1zM51 29h1v1h-1zM13 31h1v1h-1zM15 31h1v1h-1zM23 31h1v1h-1zM25 31h1v1h-1zM41 31h1v1h-1zM9 33h1v1h-1zM15 33h1v1h-1zM21 33h1v1h-1zM25 33h1v1h-1zM37 33h1v1h-1zM5 35h1v1h-1zM9 35h1v1h-1zM17 35h1v1h-1zM21 35h1v1h-1zM5 37h1v1h-1zM9 37h1v1h-1zM13 37h1v1h-1zM23 37h1v1h-1zM39 37h1v1h-1zM1 39h1v1h-1zM3 39h1v1h-1zM7 39h1v1h-1zM9 39h1v1h-1zM11 39h1v1h-1zM15 39h1v1h-1zM23 39h1v1h-1zM5 41h1v1h-1zM7 41h1v1h-1zM11 41h1v1h-1zM27 41h1v1h-1zM33 41h1v1h-1zM5 43h1v1h-1zM9 43h1v1h-1zM13 43h1v1h-1zM17 43h1v1h-1zM23 43h1v1h-1zM33 43h1v1h-1zM1 45h1v1h-1zM7 45h1v1h-1zM31 45h1v1h-1zM7 47h1v1h-1zM11 47h1v1h-1zM17 47h1v1h-1zM25 47h1v1h-1zM27 47h1v1h-1zM3 49h1v1h-1zM5 49h1v1h-1zM13 49h1v1h-1zM33 49h1v1h-1zM5 51h1v1h-1zM11 51h1v1h-1zM17 51h1v1h-1zM21 51h1v1h-1zM23 51h1v1h-1zM41 51h1v1h-1zM3 53h1v1h-1zM17 53h1v1h-1zM27 53h1v1h-1zM7 55h1v1h-1zM17 55h1v1h-1zM21 55h1v1h-1zM27 55h1v1h-1zM39 55h1v1h-1zM5 57h1v1h-1zM7 57h1v1h-1zM11 57h1v1h-1zM23 57h1v1h-1zM5 59h1v1h-1zM17 59h1v1h-1zM21 59h1v1h-1zM23 59h1v1h-1zM5 61h1v1h-1zM11 61h1v1h-1zM33 61h1v1h-1zM1 63h1v1h-1zM3 63h1v1h-1zM7 63h1v1h-1zM13 63h1v1h-1zM19 63h1v1h-1zM43 63h1v1h-1zM7 65h1v1h-1zM9 65h1v1h-1zM11 65h1v1h-1zM13 65h1v1h-1zM1 67h1v1h-1zM3 67h1v1h-1zM5 67h1v1h-1zM15 67h1v1h-1zM21 67h1v1h-1zM3 69h1v1h-1zM11 69h1v1h-1zM27 69h1v1h-1zM9 71h1v1h-1zM27 71h1v1h-1zM1 73h1v1h-1zM3 73h1v1h-1zM11 73h1v1h-1zM25 73h1v1h-1zM51 73h1v1h-1zM1 75h1v1h-1zM3 75h1v1h-1zM11 75h1v1h-1zM37 75h1v1h-1zM1 77h1v1h-1zM5 77h1v1h-1zM7 77h1v1h-1zM21 77h1v1h-1zM31 77h1v1h-1zM1 79h1v1h-1zM5 79h1v1h-1zM9 79h1v1h-1zM43 79h1v1h-1zM51 79h1v1h-1z"/><path fill="#99ff00" d="M1 1h1v1h-1zM19 1h1v1h-1zM25 1h1v1h-1zM7 3h1v1h-1zM9 3h1v1h-1zM43 3h1v1h-1zM7 5h1v1h-1zM9 5h1v1h-1zM15 5h1v1h-1zM17 5h1v1h-1zM27 5h1v1h-1zM13 7h1v1h-1zM15 7h1v1h-1zM17 7h1v1h-1zM5 11h1v1h-1zM11 11h1v1h-1zM17 11h1v1h-1zM3 15h1v1h-1zM5 15h1v1h-1zM17 15h1v1h-1zM5 17h1v1h-1zM13 17h1v1h-1zM23 17h1v1h-1zM1 19h1v1h-1zM3 19h1v1h-1zM19 19h1v1h-1zM21 19h1v1h-1zM29 19h1v1h-1zM51 19h1v1h-1zM3 21h1v1h-1zM7 21h1v1h-1zM9 21h1v1h-1zM17 21h1v1h-1zM45 21h1v1h-1zM7 23h1v1h-1zM9 23h1v1h-1zM11 23h1v1h-1zM5 25h1v1h-1zM7 25h1v1h-1zM13 25h1v1h-1zM37 25h1v1h-1zM9 27h1v1h-1zM35 27h1v1h-1zM5 29h1v1h-1zM7 29h1v1h-1zM15 29h1v1h-1zM17 29h1v1h-1zM1 31h1v1h-1zM5 31h1v1h-1zM7 31h1v1h-1zM17 31h1v1h-1zM3 33h1v1h-1zM13 33h1v1h-1zM19 33h1v1h-1zM51 33h1v1h-1zM11 35h1v1h-1zM25 35h1v1h-1zM43 35h1v1h-1zM7 37h1v1h-1zM51 37h1v1h-1zM13 39h1v1h-1zM17 39h1v1h-1zM21 39h1v1h-1zM33 39h1v1h-1zM39 39h1v1h-1zM1 41h1v1h-1zM15 41h1v1h-1zM11 43h1v1h-1zM3 45h1v1h-1zM11 45h1v1h-1zM15 45h1v1h-1zM17 45h1v1h-1zM19 47h1v1h-1zM51 47h1v1h-1zM11 49h1v1h-1zM1 51h1v1h-1zM7 51h1v1h-1zM51 51h1v1h-1zM1 53h1v1h-1zM11 53h1v1h-1zM13 53h1v1h-1zM19 53h1v1h-1zM25 53h1v1h-1zM9 55h1v1h-1zM13 55h1v1h-1zM3 57h1v1h-1zM13 57h1v1h-1zM11 59h1v1h-1zM15 59h1v1h-1zM1 61h1v1h-1zM9 61h1v1h-1zM21 61h1v1h-1zM1 65h1v1h-1zM51 65h1v1h-1zM7 67h1v1h-1zM9 67h1v1h-1zM11 67h1v1h-1zM15 69h1v1h-1zM19 69h1v1h-1zM7 71h1v1h-1zM29 71h1v1h-1zM33 71h1v1h-1zM5 73h1v1h-1zM17 75h1v1h-1zM3 77h1v1h-1zM47 77h1v1h-1zM33 79h1v1h-1z"/><path fill="#e0ff00" d="M3 1h1v1h-1zM9 1h1v1h-1zM11 1h1v1h-1zM51 3h1v1h-1zM5 5h1v1h-1zM1 7h1v1h-1zM11 7h1v1h-1zM19 7h1v1h-1zM25 7h1v1h-1zM5 9h1v1h-1zM13 11h1v1h-1zM23 11h1v1h-1zM1 13h1v1h-1zM3 13h1v1h-1zM7 15h1v1h-1zM21 15h1v1h-1zM11 19h1v1h-1zM19 21h1v1h-1zM1 23h1v1h-1zM3 25h1v1h-1zM3 27h1v1h-1zM5 27h1v1h-1zM3 29h1v1h-1zM51 31h1v1h-1zM1 33h1v1h-1zM7 35h1v1h-1zM13 35h1v1h-1zM15 35h1v1h-1zM17 37h1v1h-1zM9 41h1v1h-1zM21 41h1v1h-1zM51 43h1v1h-1zM9 47h1v1h-1zM13 47h1v1h-1zM1 49h1v1h-1zM7 49h1v1h-1zM19 49h1v1h-1zM3 51h1v1h-1zM49 51h1v1h-1zM5 53h1v1h-1zM1 57h1v1h-1zM17 57h1v1h-1zM3 59h1v1h-1zM7 59h1v1h-1zM9 59h1v1h-1zM19 59h1v1h-1zM3 61h1v1h-1zM11 63h1v1h-1zM51 63h1v1h-1zM3 65h1v1h-1zM23 69h1v1h-1zM51 69h1v1h-1z"/><path fill="#ffee00" d="M5 1h1v1h-1zM7 1h1v1h-1zM1 5h1v1h-1zM3 5h1v1h-1zM9 7h1v1h-1zM1 9h1v1h-1zM3 11h1v1h-1zM51 17h1v1h-1zM13 21h1v1h-1zM51 23h1v1h-1zM19 25h1v1h-1zM3 31h1v1h-1zM3 35h1v1h-1zM3 41h1v1h-1zM13 45h1v1h-1zM19 51h1v1h-1zM25 57h1v1h-1zM51 59h1v1h-1zM51 71h1v1h-1z"/><path fill="#ffa700" d="M51 1h1v1h-1zM51 5h1v1h-1zM51 7h1v1h-1zM7 9h1v1h-1zM1 11h1v1h-1zM51 11h1v1h-1zM13 13h1v1h-1zM51 13h1v1h-1zM51 15h1v1h-1zM5 21h1v1h-1zM51 21h1v1h-1zM51 25h1v1h-1zM51 27h1v1h-1zM51 35h1v1h-1zM51 41h1v1h-1zM1 43h1v1h-1zM51 45h1v1h-1zM51 61h1v1h-1zM15 75h1v1h-1zM51 75h1v1h-1z"/><path fill="#ff7700" d="M51 39h1v1h-1zM51 49h1v1h-1zM51 53h1v1h-1zM51 67h1v1h-1z"/><path fill="#ff0000" d="M51 55h1v1h-1zM51 57h1v1h-1z"/><path fill="#0044ff" d="M37 38h1v1h-1zM45 48h1v1h-1zM49 68h1v1h-1zM51 78h1v1h-1z"/><path fill="#008bff" d="M51 0h1v1h-1zM25 6h1v1h-1zM51 22h1v1h-1zM43 62h1v1h-1zM25 68h1v1h-1z"/><path fill="#00bbff" d="M29 2h1v1h-1zM35 2h1v1h-1zM23 4h1v1h-1zM27 18h1v1h-1zM39 18h1v1h-1zM39 24h1v1h-1zM43 26h1v1h-1zM43 34h1v1h-1zM21 48h1v1h-1zM41 50h1v1h-1zM27 54h1v1h-1zM41 56h1v1h-1zM31 58h1v1h-1zM43 60h1v1h-1zM47 64h1v1h-1zM37 66h1v1h-1zM35 70h1v1h-1zM41 70h1v1h-1zM43 70h1v1h-1zM35 72h1v1h-1zM49 74h1v1h-1zM43 78h1v1h-1z"/><path fill="#00fffc" d="M37 2h1v1h-1zM41 8h1v1h-1zM47 12h1v1h-1zM47 22h1v1h-1zM45 28h1v1h-1zM43 30h1v1h-1zM29 34h1v1h-1zM37 36h1v1h-1zM39 38h1v1h-1zM47 38h1v1h-1zM49 38h1v1h-1zM47 44h1v1h-1zM37 46h1v1h-1zM39 46h1v1h-1zM41 46h1v1h-1zM49 46h1v1h-1zM41 48h1v1h-1zM43 50h1v1h-1zM47 50h1v1h-1zM49 50h1v1h-1zM45 52h1v1h-1zM29 54h1v1h-1zM45 54h1v1h-1zM35 56h1v1h-1zM45 56h1v1h-1zM47 56h1v1h-1zM33 60h1v1h-1zM35 60h1v1h-1zM45 60h1v1h-1zM39 62h1v1h-1zM33 64h1v1h-1zM29 66h1v1h-1zM43 66h1v1h-1zM37 68h1v1h-1zM45 68h1v1h-1zM29 72h1v1h-1zM43 74h1v1h-1zM11 76h1v1h-1zM41 76h1v1h-1zM45 76h1v1h-1zM17 78h1v1h-1z"/><path fill="#00ffcc" d="M39 2h1v1h-1zM31 4h1v1h-1zM19 6h1v1h-1zM37 6h1v1h-1zM41 6h1v1h-1zM43 6h1v1h-1zM37 8h1v1h-1zM47 8h1v1h-1zM9 10h1v1h-1zM33 10h1v1h-1zM39 10h1v1h-1zM43 12h1v1h-1zM31 14h1v1h-1zM33 14h1v1h-1zM45 14h1v1h-1zM47 14h1v1h-1zM25 16h1v1h-1zM23 18h1v1h-1zM43 18h1v1h-1zM49 18h1v1h-1zM21 20h1v1h-1zM31 20h1v1h-1zM43 20h1v1h-1zM49 20h1v1h-1zM43 22h1v1h-1zM49 22h1v1h-1zM41 24h1v1h-1zM15 26h1v1h-1zM39 26h1v1h-1zM47 26h1v1h-1zM49 26h1v1h-1zM27 28h1v1h-1zM31 28h1v1h-1zM35 28h1v1h-1zM43 28h1v1h-1zM47 28h1v1h-1zM31 30h1v1h-1zM37 30h1v1h-1zM39 30h1v1h-1zM43 32h1v1h-1zM49 32h1v1h-1zM33 34h1v1h-1zM37 34h1v1h-1zM41 34h1v1h-1zM45 34h1v1h-1zM47 34h1v1h-1zM35 38h1v1h-1zM33 40h1v1h-1zM41 40h1v1h-1zM47 40h1v1h-1zM49 40h1v1h-1zM43 42h1v1h-1zM49 42h1v1h-1zM31 44h1v1h-1zM11 46h1v1h-1zM29 46h1v1h-1zM33 46h1v1h-1zM43 46h1v1h-1zM35 50h1v1h-1zM31 52h1v1h-1zM39 52h1v1h-1zM31 54h1v1h-1zM35 54h1v1h-1zM39 54h1v1h-1zM41 54h1v1h-1zM47 54h1v1h-1zM49 54h1v1h-1zM29 58h1v1h-1zM35 58h1v1h-1zM41 62h1v1h-1zM45 62h1v1h-1zM45 64h1v1h-1zM27 66h1v1h-1zM41 66h1v1h-1zM33 68h1v1h-1zM35 68h1v1h-1zM43 68h1v1h-1zM19 70h1v1h-1zM21 70h1v1h-1zM13 72h1v1h-1zM33 72h1v1h-1zM43 72h1v1h-1zM29 74h1v1h-1zM31 74h1v1h-1zM33 74h1v1h-1zM37 74h1v1h-1zM33 76h1v1h-1zM35 76h1v1h-1zM47 76h1v1h-1zM49 76h1v1h-1zM47 78h1v1h-1z"/><path fill="#00ff85" d="M47 0h1v1h-1zM31 2h1v1h-1zM47 2h1v1h-1zM25 4h1v1h-1zM35 6h1v1h-1zM47 10h1v1h-1zM45 12h1v1h-1zM29 14h1v1h-1zM43 14h1v1h-1zM31 16h1v1h-1zM39 16h1v1h-1zM31 18h1v1h-1zM41 20h1v1h-1zM31 22h1v1h-1zM41 22h1v1h-1zM17 24h1v1h-1zM45 24h1v1h-1zM47 24h1v1h-1zM49 24h1v1h-1zM21 26h1v1h-1zM37 26h1v1h-1zM23 28h1v1h-1zM17 30h1v1h-1zM31 32h1v1h-1zM33 32h1v1h-1zM37 32h1v1h-1zM11 34h1v1h-1zM49 34h1v1h-1zM25 36h1v1h-1zM31 38h1v1h-1zM27 40h1v1h-1zM21 42h1v1h-1zM45 42h1v1h-1zM47 42h1v1h-1zM25 44h1v1h-1zM29 44h1v1h-1zM37 48h1v1h-1zM39 50h1v1h-1zM45 50h1v1h-1zM25 52h1v1h-1zM17 54h1v1h-1zM25 56h1v1h-1zM27 58h1v1h-1zM21 60h1v1h-1zM31 60h1v1h-1zM37 60h1v1h-1zM49 60h1v1h-1zM27 62h1v1h-1zM35 64h1v1h-1zM3 68h1v1h-1zM21 68h1v1h-1zM31 68h1v1h-1zM39 68h1v1h-1zM11 70h1v1h-1zM45 70h1v1h-1zM23 74h1v1h-1zM15 76h1v1h-1zM29 76h1v1h-1zM37 76h1v1h-1zM39 76h1v1h-1zM33 78h1v1h-1z"/><path fill="#00ff55" d="M13 2h1v1h-1zM41 2h1v1h-1zM45 2h1v1h-1zM33 4h1v1h-1zM37 4h1v1h-1zM41 4h1v1h-1zM43 4h1v1h-1zM47 4h1v1h-1zM49 4h1v1h-1zM15 6h1v1h-1zM23 6h1v1h-1zM27 6h1v1h-1zM31 6h1v1h-1zM33 6h1v1h-1zM49 6h1v1h-1zM31 8h1v1h-1zM39 8h1v1h-1zM49 8h1v1h-1zM29 10h1v1h-1zM37 10h1v1h-1zM43 10h1v1h-1zM49 10h1v1h-1zM9 12h1v1h-1zM31 12h1v1h-1zM37 12h1v1h-1zM49 12h1v1h-1zM25 14h1v1h-1zM49 14h1v1h-1zM23 16h1v1h-1zM33 16h1v1h-1zM35 16h1v1h-1zM37 16h1v1h-1zM47 16h1v1h-1zM25 18h1v1h-1zM45 18h1v1h-1zM47 18h1v1h-1zM37 20h1v1h-1zM19 22h1v1h-1zM23 22h1v1h-1zM35 22h1v1h-1zM39 22h1v1h-1zM45 22h1v1h-1zM35 24h1v1h-1zM9 26h1v1h-1zM29 26h1v1h-1zM35 26h1v1h-1zM29 28h1v1h-1zM41 28h1v1h-1zM49 28h1v1h-1zM7 30h1v1h-1zM19 30h1v1h-1zM23 30h1v1h-1zM35 30h1v1h-1zM45 30h1v1h-1zM47 30h1v1h-1zM39 32h1v1h-1zM41 32h1v1h-1zM27 34h1v1h-1zM39 36h1v1h-1zM1 38h1v1h-1zM9 38h1v1h-1zM15 38h1v1h-1zM23 38h1v1h-1zM45 38h1v1h-1zM23 40h1v1h-1zM31 40h1v1h-1zM35 40h1v1h-1zM43 40h1v1h-1zM13 42h1v1h-1zM25 42h1v1h-1zM27 42h1v1h-1zM29 42h1v1h-1zM35 42h1v1h-1zM37 42h1v1h-1zM41 42h1v1h-1zM27 44h1v1h-1zM33 44h1v1h-1zM35 44h1v1h-1zM41 44h1v1h-1zM21 46h1v1h-1zM23 46h1v1h-1zM45 46h1v1h-1zM47 46h1v1h-1zM11 48h1v1h-1zM15 48h1v1h-1zM39 48h1v1h-1zM47 48h1v1h-1zM13 50h1v1h-1zM21 50h1v1h-1zM23 50h1v1h-1zM25 50h1v1h-1zM31 50h1v1h-1zM25 54h1v1h-1zM43 56h1v1h-1zM1 58h1v1h-1zM23 58h1v1h-1zM43 58h1v1h-1zM45 58h1v1h-1zM17 60h1v1h-1zM39 60h1v1h-1zM47 60h1v1h-1zM19 62h1v1h-1zM31 62h1v1h-1zM35 62h1v1h-1zM47 62h1v1h-1zM29 64h1v1h-1zM31 64h1v1h-1zM39 64h1v1h-1zM17 66h1v1h-1zM25 66h1v1h-1zM35 66h1v1h-1zM45 66h1v1h-1zM5 68h1v1h-1zM23 68h1v1h-1zM13 70h1v1h-1zM15 70h1v1h-1zM29 70h1v1h-1zM37 70h1v1h-1zM31 72h1v1h-1zM37 72h1v1h-1zM39 72h1v1h-1zM45 72h1v1h-1zM13 74h1v1h-1zM19 74h1v1h-1zM25 74h1v1h-1zM39 74h1v1h-1zM41 74h1v1h-1zM47 74h1v1h-1zM17 76h1v1h-1zM21 76h1v1h-1zM25 76h1v1h-1zM35 78h1v1h-1zM41 78h1v1h-1z"/><path fill="#00ff0e" d="M19 0h1v1h-1zM31 0h1v1h-1zM39 0h1v1h-1zM41 0h1v1h-1zM49 0h1v1h-1zM27 2h1v1h-1zM33 2h1v1h-1zM43 2h1v1h-1zM49 2h1v1h-1zM1 4h1v1h-1zM3 4h1v1h-1zM9 4h1v1h-1zM15 4h1v1h-1zM29 4h1v1h-1zM39 4h1v1h-1zM45 4h1v1h-1zM17 6h1v1h-1zM45 6h1v1h-1zM47 6h1v1h-1zM9 8h1v1h-1zM15 8h1v1h-1zM23 8h1v1h-1zM25 8h1v1h-1zM29 8h1v1h-1zM33 8h1v1h-1zM35 8h1v1h-1zM43 8h1v1h-1zM11 10h1v1h-1zM19 10h1v1h-1zM21 10h1v1h-1zM25 10h1v1h-1zM31 10h1v1h-1zM35 10h1v1h-1zM19 12h1v1h-1zM21 12h1v1h-1zM33 12h1v1h-1zM35 12h1v1h-1zM41 12h1v1h-1zM11 14h1v1h-1zM17 14h1v1h-1zM19 14h1v1h-1zM35 14h1v1h-1zM37 14h1v1h-1zM41 14h1v1h-1zM11 16h1v1h-1zM15 16h1v1h-1zM19 16h1v1h-1zM29 16h1v1h-1zM45 16h1v1h-1zM3 18h1v1h-1zM19 18h1v1h-1zM29 18h1v1h-1zM33 18h1v1h-1zM37 18h1v1h-1zM41 18h1v1h-1zM15 20h1v1h-1zM19 20h1v1h-1zM23 20h1v1h-1zM29 20h1v1h-1zM33 20h1v1h-1zM35 20h1v1h-1zM47 20h1v1h-1zM17 22h1v1h-1zM21 22h1v1h-1zM27 22h1v1h-1zM11 24h1v1h-1zM21 24h1v1h-1zM23 24h1v1h-1zM27 24h1v1h-1zM31 24h1v1h-1zM43 24h1v1h-1zM13 26h1v1h-1zM17 26h1v1h-1zM25 26h1v1h-1zM27 26h1v1h-1zM31 26h1v1h-1zM41 26h1v1h-1zM45 26h1v1h-1zM11 28h1v1h-1zM21 28h1v1h-1zM25 28h1v1h-1zM37 28h1v1h-1zM21 30h1v1h-1zM27 30h1v1h-1zM3 32h1v1h-1zM15 32h1v1h-1zM17 32h1v1h-1zM25 32h1v1h-1zM35 32h1v1h-1zM1 34h1v1h-1zM5 34h1v1h-1zM13 34h1v1h-1zM17 34h1v1h-1zM35 34h1v1h-1zM23 36h1v1h-1zM31 36h1v1h-1zM41 36h1v1h-1zM43 36h1v1h-1zM45 36h1v1h-1zM21 38h1v1h-1zM29 38h1v1h-1zM33 38h1v1h-1zM1 40h1v1h-1zM7 40h1v1h-1zM9 40h1v1h-1zM13 40h1v1h-1zM17 40h1v1h-1zM29 40h1v1h-1zM37 40h1v1h-1zM45 40h1v1h-1zM9 42h1v1h-1zM1 44h1v1h-1zM9 44h1v1h-1zM17 44h1v1h-1zM37 44h1v1h-1zM39 44h1v1h-1zM43 44h1v1h-1zM49 44h1v1h-1zM31 46h1v1h-1zM31 48h1v1h-1zM33 48h1v1h-1zM43 48h1v1h-1zM49 48h1v1h-1zM11 50h1v1h-1zM17 50h1v1h-1zM19 50h1v1h-1zM27 50h1v1h-1zM29 50h1v1h-1zM37 50h1v1h-1zM1 52h1v1h-1zM11 52h1v1h-1zM19 52h1v1h-1zM23 52h1v1h-1zM35 52h1v1h-1zM41 52h1v1h-1zM47 52h1v1h-1zM1 54h1v1h-1zM3 54h1v1h-1zM23 54h1v1h-1zM7 56h1v1h-1zM21 56h1v1h-1zM23 56h1v1h-1zM27 56h1v1h-1zM29 56h1v1h-1zM33 56h1v1h-1zM37 56h1v1h-1zM39 56h1v1h-1zM49 56h1v1h-1zM9 58h1v1h-1zM11 58h1v1h-1zM17 58h1v1h-1zM19 58h1v1h-1zM21 58h1v1h-1zM37 58h1v1h-1zM39 58h1v1h-1zM47 58h1v1h-1zM49 58h1v1h-1zM1 60h1v1h-1zM7 60h1v1h-1zM11 60h1v1h-1zM15 60h1v1h-1zM19 60h1v1h-1zM23 60h1v1h-1zM29 60h1v1h-1zM7 62h1v1h-1zM9 62h1v1h-1zM29 62h1v1h-1zM33 62h1v1h-1zM49 62h1v1h-1zM1 64h1v1h-1zM13 64h1v1h-1zM19 64h1v1h-1zM23 64h1v1h-1zM27 64h1v1h-1zM37 64h1v1h-1zM41 64h1v1h-1zM43 64h1v1h-1zM3 66h1v1h-1zM13 66h1v1h-1zM19 66h1v1h-1zM31 66h1v1h-1zM39 66h1v1h-1zM9 68h1v1h-1zM13 68h1v1h-1zM19 68h1v1h-1zM27 68h1v1h-1zM29 68h1v1h-1zM41 68h1v1h-1zM47 68h1v1h-1zM3 70h1v1h-1zM5 70h1v1h-1zM27 70h1v1h-1zM31 70h1v1h-1zM33 70h1v1h-1zM39 70h1v1h-1zM47 70h1v1h-1zM49 70h1v1h-1zM3 72h1v1h-1zM7 72h1v1h-1zM9 72h1v1h-1zM21 72h1v1h-1zM25 72h1v1h-1zM41 72h1v1h-1zM9 74h1v1h-1zM11 74h1v1h-1zM27 74h1v1h-1zM35 74h1v1h-1zM45 74h1v1h-1zM9 76h1v1h-1zM19 76h1v1h-1zM31 76h1v1h-1zM43 76h1v1h-1zM13 78h1v1h-1zM15 78h1v1h-1zM21 78h1v1h-1zM27 78h1v1h-1zM29 78h1v1h-1zM39 78h1v1h-1zM45 78h1v1h-1z"/><path fill="#22ff00" d="M21 0h1v1h-1zM23 0h1v1h-1zM29 0h1v1h-1zM33 0h1v1h-1zM35 0h1v1h-1zM37 0h1v1h-1zM45 0h1v1h-1zM9 2h1v1h-1zM19 2h1v1h-1zM21 2h1v1h-1zM25 2h1v1h-1zM11 4h1v1h-1zM21 4h1v1h-1zM35 4h1v1h-1zM9 6h1v1h-1zM39 6h1v1h-1zM5 8h1v1h-1zM13 8h1v1h-1zM19 8h1v1h-1zM27 8h1v1h-1zM45 8h1v1h-1zM13 10h1v1h-1zM27 10h1v1h-1zM41 10h1v1h-1zM45 10h1v1h-1zM21 14h1v1h-1zM39 14h1v1h-1zM13 16h1v1h-1zM41 16h1v1h-1zM5 18h1v1h-1zM21 18h1v1h-1zM35 18h1v1h-1zM1 20h1v1h-1zM45 20h1v1h-1zM5 22h1v1h-1zM33 22h1v1h-1zM3 24h1v1h-1zM7 24h1v1h-1zM9 28h1v1h-1zM33 28h1v1h-1zM39 28h1v1h-1zM5 30h1v1h-1zM25 30h1v1h-1zM33 30h1v1h-1zM41 30h1v1h-1zM49 30h1v1h-1zM21 32h1v1h-1zM27 32h1v1h-1zM47 32h1v1h-1zM19 34h1v1h-1zM31 34h1v1h-1zM9 36h1v1h-1zM19 36h1v1h-1zM47 36h1v1h-1zM49 36h1v1h-1zM13 38h1v1h-1zM21 40h1v1h-1zM5 44h1v1h-1zM11 44h1v1h-1zM13 44h1v1h-1zM19 44h1v1h-1zM23 44h1v1h-1zM45 44h1v1h-1zM3 46h1v1h-1zM13 46h1v1h-1zM35 46h1v1h-1zM5 48h1v1h-1zM17 48h1v1h-1zM23 48h1v1h-1zM5 50h1v1h-1zM9 52h1v1h-1zM17 52h1v1h-1zM27 52h1v1h-1zM49 52h1v1h-1zM37 54h1v1h-1zM19 56h1v1h-1zM31 56h1v1h-1zM15 58h1v1h-1zM13 60h1v1h-1zM27 60h1v1h-1zM1 62h1v1h-1zM17 62h1v1h-1zM23 62h1v1h-1zM17 64h1v1h-1zM11 66h1v1h-1zM23 66h1v1h-1zM33 66h1v1h-1zM1 68h1v1h-1zM11 68h1v1h-1zM5 72h1v1h-1zM15 72h1v1h-1zM49 72h1v1h-1zM1 74h1v1h-1zM1 76h1v1h-1zM7 78h1v1h-1zM9 78h1v1h-1zM19 78h1v1h-1zM23 78h1v1h-1zM31 78h1v1h-1zM37 78h1v1h-1zM49 78h1v1h-1z"/><path fill="#69ff00" d="M11 0h1v1h-1zM13 0h1v1h-1zM43 0h1v1h-1zM1 2h1v1h-1zM11 2h1v1h-1zM23 2h1v1h-1zM19 4h1v1h-1zM27 4h1v1h-1zM13 6h1v1h-1zM7 8h1v1h-1zM17 8h1v1h-1zM3 10h1v1h-1zM17 10h1v1h-1zM23 10h1v1h-1zM11 12h1v1h-1zM13 12h1v1h-1zM17 12h1v1h-1zM27 12h1v1h-1zM39 12h1v1h-1zM5 14h1v1h-1zM9 14h1v1h-1zM13 14h1v1h-1zM15 14h1v1h-1zM27 14h1v1h-1zM3 16h1v1h-1zM5 16h1v1h-1zM21 16h1v1h-1zM27 16h1v1h-1zM43 16h1v1h-1zM49 16h1v1h-1zM1 18h1v1h-1zM7 18h1v1h-1zM17 18h1v1h-1zM51 18h1v1h-1zM3 20h1v1h-1zM9 20h1v1h-1zM13 20h1v1h-1zM17 20h1v1h-1zM25 20h1v1h-1zM27 20h1v1h-1zM39 20h1v1h-1zM51 20h1v1h-1zM9 22h1v1h-1zM11 22h1v1h-1zM25 22h1v1h-1zM1 24h1v1h-1zM5 24h1v1h-1zM25 24h1v1h-1zM29 24h1v1h-1zM33 24h1v1h-1zM37 24h1v1h-1zM5 26h1v1h-1zM7 26h1v1h-1zM33 26h1v1h-1zM3 28h1v1h-1zM7 28h1v1h-1zM13 28h1v1h-1zM15 28h1v1h-1zM17 28h1v1h-1zM19 28h1v1h-1zM1 30h1v1h-1zM11 30h1v1h-1zM13 30h1v1h-1zM29 30h1v1h-1zM5 32h1v1h-1zM7 32h1v1h-1zM11 32h1v1h-1zM23 32h1v1h-1zM29 32h1v1h-1zM45 32h1v1h-1zM7 34h1v1h-1zM15 34h1v1h-1zM39 34h1v1h-1zM1 36h1v1h-1zM3 36h1v1h-1zM5 36h1v1h-1zM13 36h1v1h-1zM15 36h1v1h-1zM17 36h1v1h-1zM21 36h1v1h-1zM27 36h1v1h-1zM29 36h1v1h-1zM33 36h1v1h-1zM35 36h1v1h-1zM5 38h1v1h-1zM17 38h1v1h-1zM19 38h1v1h-1zM25 38h1v1h-1zM27 38h1v1h-1zM41 38h1v1h-1zM43 38h1v1h-1zM11 40h1v1h-1zM19 40h1v1h-1zM25 40h1v1h-1zM39 40h1v1h-1zM51 40h1v1h-1zM1 42h1v1h-1zM7 42h1v1h-1zM15 42h1v1h-1zM17 42h1v1h-1zM19 42h1v1h-1zM23 42h1v1h-1zM39 42h1v1h-1zM51 42h1v1h-1zM7 44h1v1h-1zM21 44h1v1h-1zM51 44h1v1h-1zM5 46h1v1h-1zM17 46h1v1h-1zM25 46h1v1h-1zM27 46h1v1h-1zM1 48h1v1h-1zM9 48h1v1h-1zM27 48h1v1h-1zM29 48h1v1h-1zM35 48h1v1h-1zM33 50h1v1h-1zM21 52h1v1h-1zM29 52h1v1h-1zM33 52h1v1h-1zM37 52h1v1h-1zM43 52h1v1h-1zM5 54h1v1h-1zM7 54h1v1h-1zM13 54h1v1h-1zM15 54h1v1h-1zM33 54h1v1h-1zM43 54h1v1h-1zM1 56h1v1h-1zM3 56h1v1h-1zM5 56h1v1h-1zM9 56h1v1h-1zM13 56h1v1h-1zM3 58h1v1h-1zM5 58h1v1h-1zM13 58h1v1h-1zM25 58h1v1h-1zM41 58h1v1h-1zM3 60h1v1h-1zM5 60h1v1h-1zM11 62h1v1h-1zM21 62h1v1h-1zM37 62h1v1h-1zM3 64h1v1h-1zM5 64h1v1h-1zM7 64h1v1h-1zM9 64h1v1h-1zM49 64h1v1h-1zM5 66h1v1h-1zM9 66h1v1h-1zM15 66h1v1h-1zM21 66h1v1h-1zM47 66h1v1h-1zM49 66h1v1h-1zM15 68h1v1h-1zM17 68h1v1h-1zM7 70h1v1h-1zM17 70h1v1h-1zM23 70h1v1h-1zM25 70h1v1h-1zM11 72h1v1h-1zM19 72h1v1h-1zM23 72h1v1h-1zM47 72h1v1h-1zM51 72h1v1h-1zM3 74h1v1h-1zM15 74h1v1h-1zM17 74h1v1h-1zM5 76h1v1h-1zM13 76h1v1h-1zM23 76h1v1h-1zM27 76h1v1h-1zM25 78h1v1h-1z"/><path fill="#99ff00" d="M17 0h1v1h-1zM25 0h1v1h-1zM27 0h1v1h-1zM5 2h1v1h-1zM15 2h1v1h-1zM17 2h1v1h-1zM5 4h1v1h-1zM7 4h1v1h-1zM17 4h1v1h-1zM1 6h1v1h-1zM3 6h1v1h-1zM7 6h1v1h-1zM29 6h1v1h-1zM5 10h1v1h-1zM7 10h1v1h-1zM15 10h1v1h-1zM1 12h1v1h-1zM5 12h1v1h-1zM7 12h1v1h-1zM23 12h1v1h-1zM25 12h1v1h-1zM29 12h1v1h-1zM23 14h1v1h-1zM51 14h1v1h-1zM17 16h1v1h-1zM11 18h1v1h-1zM7 20h1v1h-1zM15 22h1v1h-1zM29 22h1v1h-1zM37 22h1v1h-1zM13 24h1v1h-1zM19 24h1v1h-1zM1 26h1v1h-1zM3 26h1v1h-1zM11 26h1v1h-1zM19 26h1v1h-1zM23 26h1v1h-1zM1 28h1v1h-1zM5 28h1v1h-1zM3 30h1v1h-1zM9 32h1v1h-1zM13 32h1v1h-1zM19 32h1v1h-1zM21 34h1v1h-1zM23 34h1v1h-1zM25 34h1v1h-1zM7 36h1v1h-1zM11 36h1v1h-1zM7 38h1v1h-1zM15 40h1v1h-1zM11 42h1v1h-1zM31 42h1v1h-1zM33 42h1v1h-1zM3 44h1v1h-1zM7 46h1v1h-1zM15 46h1v1h-1zM19 46h1v1h-1zM7 48h1v1h-1zM13 48h1v1h-1zM25 48h1v1h-1zM1 50h1v1h-1zM3 50h1v1h-1zM7 50h1v1h-1zM9 50h1v1h-1zM15 50h1v1h-1zM3 52h1v1h-1zM5 52h1v1h-1zM7 52h1v1h-1zM9 54h1v1h-1zM11 54h1v1h-1zM21 54h1v1h-1zM15 56h1v1h-1zM17 56h1v1h-1zM7 58h1v1h-1zM33 58h1v1h-1zM9 60h1v1h-1zM25 60h1v1h-1zM3 62h1v1h-1zM13 62h1v1h-1zM15 62h1v1h-1zM25 62h1v1h-1zM11 64h1v1h-1zM25 64h1v1h-1zM1 70h1v1h-1zM9 70h1v1h-1zM1 72h1v1h-1zM17 72h1v1h-1zM27 72h1v1h-1zM7 74h1v1h-1zM21 74h1v1h-1zM3 76h1v1h-1zM7 76h1v1h-1zM3 78h1v1h-1zM5 78h1v1h-1zM11 78h1v1h-1z"/><path fill="#e0ff00" d="M7 0h1v1h-1zM9 0h1v1h-1zM7 2h1v1h-1zM13 4h1v1h-1zM51 4h1v1h-1zM5 6h1v1h-1zM21 6h1v1h-1zM11 8h1v1h-1zM15 12h1v1h-1zM1 14h1v1h-1zM3 14h1v1h-1zM7 14h1v1h-1zM7 16h1v1h-1zM9 16h1v1h-1zM51 16h1v1h-1zM9 18h1v1h-1zM13 18h1v1h-1zM15 18h1v1h-1zM5 20h1v1h-1zM11 20h1v1h-1zM1 22h1v1h-1zM3 22h1v1h-1zM13 22h1v1h-1zM9 24h1v1h-1zM15 24h1v1h-1zM51 28h1v1h-1zM9 30h1v1h-1zM15 30h1v1h-1zM1 32h1v1h-1zM51 32h1v1h-1zM9 34h1v1h-1zM51 36h1v1h-1zM11 38h1v1h-1zM3 40h1v1h-1zM5 40h1v1h-1zM3 42h1v1h-1zM1 46h1v1h-1zM3 48h1v1h-1zM19 48h1v1h-1zM13 52h1v1h-1zM15 52h1v1h-1zM19 54h1v1h-1zM11 56h1v1h-1zM51 58h1v1h-1zM41 60h1v1h-1zM15 64h1v1h-1zM7 66h1v1h-1zM7 68h1v1h-1zM51 70h1v1h-1zM5 74h1v1h-1z"/><path fill="#ffee00" d="M1 0h1v1h-1zM15 0h1v1h-1zM11 6h1v1h-1zM51 6h1v1h-1zM3 8h1v1h-1zM1 10h1v1h-1zM3 12h1v1h-1zM1 16h1v1h-1zM7 22h1v1h-1zM51 26h1v1h-1zM3 34h1v1h-1zM3 38h1v1h-1zM5 42h1v1h-1zM51 50h1v1h-1zM51 62h1v1h-1zM21 64h1v1h-1zM51 68h1v1h-1z"/><path fill="#ffa700" d="M3 0h1v1h-1zM3 2h1v1h-1zM51 2h1v1h-1zM1 8h1v1h-1zM21 8h1v1h-1zM51 8h1v1h-1zM51 24h1v1h-1zM51 30h1v1h-1zM51 34h1v1h-1zM15 44h1v1h-1zM9 46h1v1h-1zM51 52h1v1h-1zM51 56h1v1h-1zM51 60h1v1h-1zM5 62h1v1h-1zM1 66h1v1h-1zM51 76h1v1h-1zM1 78h1v1h-1z"/><path fill="#ff7700" d="M51 10h1v1h-1zM51 38h1v1h-1zM51 46h1v1h-1zM51 48h1v1h-1zM51 54h1v1h-1zM51 64h1v1h-1zM51 66h1v1h-1z"/><path fill="#ff3000" d="M5 0h1v1h-1zM51 74h1v1h-1z"/><path fill="#ff0000" d="M51 12h1v1h-1z"/></g>
<g transform="translate(52 453.9) scale(2.61346 1.27125)"><path fill="#0044ff" d="M0 23h1v1h-1zM0 41h1v1h-1zM38 43h1v1h-1zM0 61h1v1h-1zM24 65h1v1h-1zM12 75h1v1h-1z"/><path fill="#00bbff" d="M10 11h1v1h-1zM12 29h1v1h-1zM14 29h1v1h-1zM6 31h1v1h-1zM2 49h1v1h-1zM16 55h1v1h-1zM10 61h1v1h-1zM24 67h1v1h-1zM0 73h1v1h-1zM0 77h1v1h-1zM12 77h1v1h-1z"/><path fill="#00fffc" d="M32 1h1v1h-1zM12 7h1v1h-1zM26 17h1v1h-1zM0 19h1v1h-1zM6 19h1v1h-1zM0 21h1v1h-1zM2 21h1v1h-1zM26 21h1v1h-1zM0 25h1v1h-1zM4 27h1v1h-1zM10 33h1v1h-1zM12 33h1v1h-1zM0 37h1v1h-1zM0 45h1v1h-1zM18 47h1v1h-1zM12 49h1v1h-1zM6 53h1v1h-1zM18 55h1v1h-1zM8 63h1v1h-1zM12 65h1v1h-1zM6 69h1v1h-1zM26 71h1v1h-1zM28 77h1v1h-1zM2 79h1v1h-1z"/><path fill="#00ffcc" d="M0 1h1v1h-1zM2 1h1v1h-1zM2 3h1v1h-1zM14 3h1v1h-1zM26 3h1v1h-1zM28 3h1v1h-1zM0 5h1v1h-1zM10 5h1v1h-1zM12 13h1v1h-1zM24 13h1v1h-1zM28 13h1v1h-1zM6 15h1v1h-1zM14 15h1v1h-1zM26 15h1v1h-1zM8 19h1v1h-1zM18 19h1v1h-1zM16 21h1v1h-1zM36 21h1v1h-1zM6 23h1v1h-1zM4 25h1v1h-1zM0 27h1v1h-1zM0 29h1v1h-1zM0 35h1v1h-1zM14 35h1v1h-1zM32 39h1v1h-1zM8 41h1v1h-1zM12 41h1v1h-1zM8 47h1v1h-1zM0 49h1v1h-1zM0 51h1v1h-1zM10 51h1v1h-1zM8 55h1v1h-1zM38 55h1v1h-1zM16 57h1v1h-1zM20 57h1v1h-1zM4 63h1v1h-1zM0 65h1v1h-1zM0 67h1v1h-1zM44 67h1v1h-1zM10 69h1v1h-1zM0 71h1v1h-1zM28 71h1v1h-1zM48 71h1v1h-1zM10 75h1v1h-1zM18 75h1v1h-1zM20 75h1v1h-1zM28 75h1v1h-1zM14 77h1v1h-1zM12 79h1v1h-1zM16 79h1v1h-1z"/><path fill="#00ff85" d="M6 1h1v1h-1zM26 1h1v1h-1zM38 1h1v1h-1zM50 1h1v1h-1zM4 3h1v1h-1zM26 5h1v1h-1zM0 7h1v1h-1zM6 7h1v1h-1zM8 7h1v1h-1zM16 7h1v1h-1zM32 7h1v1h-1zM14 9h1v1h-1zM8 11h1v1h-1zM0 13h1v1h-1zM8 13h1v1h-1zM10 13h1v1h-1zM26 13h1v1h-1zM32 13h1v1h-1zM10 15h1v1h-1zM12 15h1v1h-1zM26 19h1v1h-1zM28 19h1v1h-1zM30 19h1v1h-1zM4 21h1v1h-1zM24 21h1v1h-1zM2 23h1v1h-1zM16 23h1v1h-1zM2 25h1v1h-1zM8 25h1v1h-1zM32 25h1v1h-1zM38 25h1v1h-1zM2 27h1v1h-1zM6 27h1v1h-1zM26 27h1v1h-1zM48 27h1v1h-1zM22 29h1v1h-1zM24 29h1v1h-1zM32 29h1v1h-1zM0 31h1v1h-1zM26 31h1v1h-1zM8 35h1v1h-1zM24 37h1v1h-1zM6 39h1v1h-1zM16 39h1v1h-1zM24 39h1v1h-1zM6 41h1v1h-1zM20 41h1v1h-1zM0 43h1v1h-1zM4 43h1v1h-1zM8 43h1v1h-1zM26 43h1v1h-1zM2 45h1v1h-1zM8 45h1v1h-1zM10 45h1v1h-1zM40 45h1v1h-1zM22 47h1v1h-1zM6 49h1v1h-1zM8 49h1v1h-1zM18 49h1v1h-1zM30 49h1v1h-1zM2 51h1v1h-1zM14 51h1v1h-1zM20 51h1v1h-1zM42 51h1v1h-1zM44 51h1v1h-1zM0 53h1v1h-1zM8 53h1v1h-1zM18 53h1v1h-1zM20 53h1v1h-1zM6 55h1v1h-1zM44 55h1v1h-1zM46 55h1v1h-1zM0 57h1v1h-1zM12 57h1v1h-1zM32 57h1v1h-1zM10 59h1v1h-1zM42 59h1v1h-1zM12 61h1v1h-1zM4 65h1v1h-1zM14 65h1v1h-1zM32 65h1v1h-1zM38 65h1v1h-1zM42 65h1v1h-1zM8 67h1v1h-1zM18 67h1v1h-1zM26 67h1v1h-1zM2 69h1v1h-1zM14 69h1v1h-1zM4 71h1v1h-1zM6 71h1v1h-1zM18 71h1v1h-1zM24 71h1v1h-1zM12 73h1v1h-1zM24 73h1v1h-1zM40 73h1v1h-1zM4 75h1v1h-1zM8 75h1v1h-1zM14 75h1v1h-1zM22 75h1v1h-1zM24 75h1v1h-1zM30 75h1v1h-1zM16 77h1v1h-1zM48 77h1v1h-1zM18 79h1v1h-1zM22 79h1v1h-1zM24 79h1v1h-1zM40 79h1v1h-1zM44 79h1v1h-1z"/><path fill="#00ff0e" d="M12 1h1v1h-1zM14 1h1v1h-1zM22 1h1v1h-1zM28 1h1v1h-1zM30 1h1v1h-1zM0 3h1v1h-1zM12 3h1v1h-1zM20 3h1v1h-1zM36 3h1v1h-1zM40 3h1v1h-1zM6 5h1v1h-1zM16 5h1v1h-1zM18 5h1v1h-1zM28 5h1v1h-1zM46 5h1v1h-1zM2 7h1v1h-1zM4 7h1v1h-1zM14 7h1v1h-1zM22 7h1v1h-1zM46 7h1v1h-1zM0 9h1v1h-1zM2 9h1v1h-1zM4 9h1v1h-1zM8 9h1v1h-1zM12 9h1v1h-1zM24 9h1v1h-1zM26 9h1v1h-1zM30 9h1v1h-1zM40 9h1v1h-1zM46 9h1v1h-1zM50 9h1v1h-1zM0 11h1v1h-1zM20 11h1v1h-1zM44 11h1v1h-1zM20 13h1v1h-1zM40 13h1v1h-1zM0 15h1v1h-1zM4 15h1v1h-1zM22 15h1v1h-1zM24 15h1v1h-1zM0 17h1v1h-1zM8 17h1v1h-1zM20 17h1v1h-1zM22 17h1v1h-1zM28 17h1v1h-1zM36 17h1v1h-1zM50 17h1v1h-1zM16 19h1v1h-1zM40 19h1v1h-1zM50 19h1v1h-1zM22 21h1v1h-1zM42 21h1v1h-1zM10 23h1v1h-1zM26 23h1v1h-1zM30 23h1v1h-1zM36 23h1v1h-1zM10 25h1v1h-1zM18 25h1v1h-1zM26 25h1v1h-1zM36 25h1v1h-1zM44 25h1v1h-1zM20 27h1v1h-1zM22 27h1v1h-1zM24 27h1v1h-1zM28 27h1v1h-1zM8 29h1v1h-1zM16 29h1v1h-1zM48 29h1v1h-1zM12 31h1v1h-1zM14 31h1v1h-1zM18 31h1v1h-1zM22 31h1v1h-1zM32 31h1v1h-1zM40 31h1v1h-1zM44 31h1v1h-1zM6 33h1v1h-1zM16 33h1v1h-1zM22 33h1v1h-1zM30 33h1v1h-1zM40 33h1v1h-1zM42 33h1v1h-1zM2 35h1v1h-1zM6 35h1v1h-1zM16 35h1v1h-1zM20 35h1v1h-1zM28 35h1v1h-1zM2 37h1v1h-1zM8 37h1v1h-1zM10 37h1v1h-1zM12 37h1v1h-1zM14 37h1v1h-1zM18 37h1v1h-1zM26 37h1v1h-1zM0 39h1v1h-1zM4 39h1v1h-1zM12 39h1v1h-1zM14 39h1v1h-1zM18 39h1v1h-1zM14 41h1v1h-1zM22 41h1v1h-1zM30 41h1v1h-1zM36 41h1v1h-1zM50 41h1v1h-1zM20 43h1v1h-1zM34 43h1v1h-1zM24 45h1v1h-1zM26 45h1v1h-1zM28 45h1v1h-1zM0 47h1v1h-1zM2 47h1v1h-1zM12 47h1v1h-1zM30 47h1v1h-1zM34 47h1v1h-1zM14 49h1v1h-1zM20 49h1v1h-1zM22 49h1v1h-1zM4 51h1v1h-1zM8 51h1v1h-1zM40 51h1v1h-1zM48 51h1v1h-1zM4 53h1v1h-1zM24 53h1v1h-1zM30 53h1v1h-1zM36 53h1v1h-1zM38 53h1v1h-1zM42 53h1v1h-1zM46 53h1v1h-1zM0 55h1v1h-1zM2 55h1v1h-1zM4 55h1v1h-1zM14 55h1v1h-1zM20 55h1v1h-1zM36 55h1v1h-1zM4 57h1v1h-1zM6 57h1v1h-1zM10 57h1v1h-1zM22 57h1v1h-1zM24 57h1v1h-1zM0 59h1v1h-1zM8 59h1v1h-1zM12 59h1v1h-1zM14 59h1v1h-1zM20 59h1v1h-1zM24 59h1v1h-1zM28 59h1v1h-1zM32 59h1v1h-1zM38 59h1v1h-1zM50 59h1v1h-1zM2 61h1v1h-1zM6 61h1v1h-1zM14 61h1v1h-1zM20 61h1v1h-1zM24 61h1v1h-1zM32 61h1v1h-1zM0 63h1v1h-1zM10 63h1v1h-1zM12 63h1v1h-1zM46 63h1v1h-1zM8 65h1v1h-1zM18 65h1v1h-1zM20 65h1v1h-1zM40 65h1v1h-1zM2 67h1v1h-1zM6 67h1v1h-1zM16 67h1v1h-1zM20 67h1v1h-1zM32 67h1v1h-1zM42 67h1v1h-1zM0 69h1v1h-1zM22 69h1v1h-1zM38 69h1v1h-1zM2 71h1v1h-1zM8 71h1v1h-1zM10 71h1v1h-1zM20 71h1v1h-1zM34 71h1v1h-1zM18 73h1v1h-1zM6 75h1v1h-1zM26 75h1v1h-1zM32 75h1v1h-1zM42 75h1v1h-1zM20 77h1v1h-1zM22 77h1v1h-1zM24 77h1v1h-1zM30 77h1v1h-1zM42 77h1v1h-1zM0 79h1v1h-1zM4 79h1v1h-1zM20 79h1v1h-1zM28 79h1v1h-1zM30 79h1v1h-1zM38 79h1v1h-1zM42 79h1v1h-1z"/><path fill="#22ff00" d="M10 1h1v1h-1zM20 1h1v1h-1zM24 1h1v1h-1zM8 3h1v1h-1zM10 3h1v1h-1zM18 3h1v1h-1zM30 3h1v1h-1zM38 3h1v1h-1zM50 3h1v1h-1zM4 5h1v1h-1zM8 5h1v1h-1zM14 5h1v1h-1zM38 5h1v1h-1zM48 5h1v1h-1zM38 7h1v1h-1zM40 7h1v1h-1zM42 7h1v1h-1zM6 9h1v1h-1zM16 9h1v1h-1zM22 9h1v1h-1zM28 9h1v1h-1zM42 9h1v1h-1zM44 9h1v1h-1zM2 11h1v1h-1zM4 11h1v1h-1zM6 11h1v1h-1zM14 11h1v1h-1zM16 11h1v1h-1zM18 11h1v1h-1zM26 11h1v1h-1zM28 11h1v1h-1zM30 11h1v1h-1zM34 11h1v1h-1zM2 13h1v1h-1zM6 13h1v1h-1zM14 13h1v1h-1zM16 13h1v1h-1zM30 13h1v1h-1zM46 13h1v1h-1zM50 13h1v1h-1zM18 15h1v1h-1zM20 15h1v1h-1zM28 15h1v1h-1zM32 15h1v1h-1zM36 15h1v1h-1zM40 15h1v1h-1zM2 17h1v1h-1zM14 17h1v1h-1zM16 17h1v1h-1zM24 17h1v1h-1zM30 17h1v1h-1zM38 17h1v1h-1zM40 17h1v1h-1zM10 19h1v1h-1zM12 19h1v1h-1zM22 19h1v1h-1zM32 19h1v1h-1zM8 21h1v1h-1zM10 21h1v1h-1zM28 21h1v1h-1zM30 21h1v1h-1zM4 23h1v1h-1zM8 23h1v1h-1zM18 23h1v1h-1zM24 23h1v1h-1zM38 23h1v1h-1zM40 23h1v1h-1zM44 23h1v1h-1zM46 23h1v1h-1zM6 25h1v1h-1zM12 25h1v1h-1zM14 25h1v1h-1zM16 25h1v1h-1zM22 25h1v1h-1zM28 25h1v1h-1zM50 25h1v1h-1zM8 27h1v1h-1zM12 27h1v1h-1zM14 27h1v1h-1zM30 27h1v1h-1zM34 27h1v1h-1zM38 27h1v1h-1zM4 29h1v1h-1zM6 29h1v1h-1zM18 29h1v1h-1zM30 29h1v1h-1zM34 29h1v1h-1zM38 29h1v1h-1zM4 31h1v1h-1zM10 31h1v1h-1zM16 31h1v1h-1zM20 31h1v1h-1zM28 31h1v1h-1zM38 31h1v1h-1zM48 31h1v1h-1zM0 33h1v1h-1zM8 33h1v1h-1zM18 33h1v1h-1zM32 33h1v1h-1zM36 33h1v1h-1zM46 33h1v1h-1zM4 35h1v1h-1zM10 35h1v1h-1zM12 35h1v1h-1zM26 35h1v1h-1zM32 35h1v1h-1zM44 35h1v1h-1zM4 37h1v1h-1zM16 37h1v1h-1zM30 37h1v1h-1zM32 37h1v1h-1zM34 37h1v1h-1zM22 39h1v1h-1zM26 39h1v1h-1zM30 39h1v1h-1zM36 39h1v1h-1zM38 39h1v1h-1zM46 39h1v1h-1zM50 39h1v1h-1zM10 41h1v1h-1zM18 41h1v1h-1zM24 41h1v1h-1zM28 41h1v1h-1zM38 41h1v1h-1zM2 43h1v1h-1zM6 43h1v1h-1zM10 43h1v1h-1zM12 43h1v1h-1zM14 43h1v1h-1zM28 43h1v1h-1zM30 43h1v1h-1zM32 43h1v1h-1zM4 45h1v1h-1zM6 45h1v1h-1zM16 45h1v1h-1zM18 45h1v1h-1zM22 45h1v1h-1zM4 47h1v1h-1zM6 47h1v1h-1zM32 47h1v1h-1zM46 47h1v1h-1zM24 49h1v1h-1zM26 49h1v1h-1zM28 49h1v1h-1zM46 49h1v1h-1zM6 51h1v1h-1zM18 51h1v1h-1zM28 51h1v1h-1zM10 53h1v1h-1zM12 53h1v1h-1zM14 53h1v1h-1zM16 53h1v1h-1zM48 53h1v1h-1zM50 53h1v1h-1zM10 55h1v1h-1zM22 55h1v1h-1zM26 55h1v1h-1zM30 55h1v1h-1zM32 55h1v1h-1zM34 55h1v1h-1zM14 57h1v1h-1zM18 57h1v1h-1zM26 57h1v1h-1zM38 57h1v1h-1zM42 57h1v1h-1zM46 57h1v1h-1zM50 57h1v1h-1zM2 59h1v1h-1zM4 59h1v1h-1zM6 59h1v1h-1zM22 59h1v1h-1zM26 59h1v1h-1zM36 59h1v1h-1zM38 61h1v1h-1zM44 61h1v1h-1zM16 63h1v1h-1zM18 63h1v1h-1zM26 63h1v1h-1zM34 63h1v1h-1zM40 63h1v1h-1zM48 63h1v1h-1zM6 65h1v1h-1zM10 65h1v1h-1zM16 65h1v1h-1zM22 65h1v1h-1zM26 65h1v1h-1zM36 65h1v1h-1zM44 65h1v1h-1zM10 67h1v1h-1zM12 67h1v1h-1zM14 67h1v1h-1zM36 67h1v1h-1zM38 67h1v1h-1zM12 69h1v1h-1zM20 69h1v1h-1zM24 69h1v1h-1zM26 69h1v1h-1zM28 69h1v1h-1zM36 69h1v1h-1zM40 69h1v1h-1zM44 69h1v1h-1zM50 69h1v1h-1zM16 71h1v1h-1zM22 71h1v1h-1zM30 71h1v1h-1zM42 71h1v1h-1zM2 73h1v1h-1zM4 73h1v1h-1zM8 73h1v1h-1zM10 73h1v1h-1zM14 73h1v1h-1zM16 73h1v1h-1zM26 73h1v1h-1zM28 73h1v1h-1zM30 73h1v1h-1zM32 73h1v1h-1zM36 73h1v1h-1zM2 75h1v1h-1zM16 75h1v1h-1zM38 75h1v1h-1zM48 75h1v1h-1zM50 75h1v1h-1zM2 77h1v1h-1zM4 77h1v1h-1zM6 77h1v1h-1zM8 77h1v1h-1zM10 77h1v1h-1zM18 77h1v1h-1zM26 77h1v1h-1zM32 77h1v1h-1zM34 77h1v1h-1zM36 77h1v1h-1zM10 79h1v1h-1zM32 79h1v1h-1zM34 79h1v1h-1z"/><path fill="#69ff00" d="M4 1h1v1h-1zM16 1h1v1h-1zM18 1h1v1h-1zM44 1h1v1h-1zM46 1h1v1h-1zM6 3h1v1h-1zM16 3h1v1h-1zM22 3h1v1h-1zM46 3h1v1h-1zM12 5h1v1h-1zM22 5h1v1h-1zM24 5h1v1h-1zM10 7h1v1h-1zM18 7h1v1h-1zM24 7h1v1h-1zM28 7h1v1h-1zM30 7h1v1h-1zM34 7h1v1h-1zM36 7h1v1h-1zM10 9h1v1h-1zM38 9h1v1h-1zM12 11h1v1h-1zM22 11h1v1h-1zM24 11h1v1h-1zM36 11h1v1h-1zM38 11h1v1h-1zM46 11h1v1h-1zM42 13h1v1h-1zM48 13h1v1h-1zM2 15h1v1h-1zM8 15h1v1h-1zM16 15h1v1h-1zM30 15h1v1h-1zM34 15h1v1h-1zM42 15h1v1h-1zM50 15h1v1h-1zM4 17h1v1h-1zM12 17h1v1h-1zM18 17h1v1h-1zM32 17h1v1h-1zM42 17h1v1h-1zM4 19h1v1h-1zM14 19h1v1h-1zM24 19h1v1h-1zM44 19h1v1h-1zM14 21h1v1h-1zM18 21h1v1h-1zM46 21h1v1h-1zM14 23h1v1h-1zM28 23h1v1h-1zM42 25h1v1h-1zM46 25h1v1h-1zM48 25h1v1h-1zM18 27h1v1h-1zM32 27h1v1h-1zM50 27h1v1h-1zM2 29h1v1h-1zM20 29h1v1h-1zM28 29h1v1h-1zM40 29h1v1h-1zM42 29h1v1h-1zM46 29h1v1h-1zM8 31h1v1h-1zM24 31h1v1h-1zM30 31h1v1h-1zM36 31h1v1h-1zM2 33h1v1h-1zM4 33h1v1h-1zM14 33h1v1h-1zM20 33h1v1h-1zM24 33h1v1h-1zM26 33h1v1h-1zM36 35h1v1h-1zM38 35h1v1h-1zM42 35h1v1h-1zM50 35h1v1h-1zM6 37h1v1h-1zM20 37h1v1h-1zM22 37h1v1h-1zM36 37h1v1h-1zM38 37h1v1h-1zM42 37h1v1h-1zM48 37h1v1h-1zM50 37h1v1h-1zM8 39h1v1h-1zM20 39h1v1h-1zM28 39h1v1h-1zM34 39h1v1h-1zM2 41h1v1h-1zM4 41h1v1h-1zM32 41h1v1h-1zM34 41h1v1h-1zM40 41h1v1h-1zM42 41h1v1h-1zM46 41h1v1h-1zM18 43h1v1h-1zM22 43h1v1h-1zM36 43h1v1h-1zM42 43h1v1h-1zM12 45h1v1h-1zM14 45h1v1h-1zM42 45h1v1h-1zM48 45h1v1h-1zM10 47h1v1h-1zM14 47h1v1h-1zM16 47h1v1h-1zM20 47h1v1h-1zM24 47h1v1h-1zM36 47h1v1h-1zM38 47h1v1h-1zM4 49h1v1h-1zM10 49h1v1h-1zM16 49h1v1h-1zM32 49h1v1h-1zM38 49h1v1h-1zM40 49h1v1h-1zM42 49h1v1h-1zM44 49h1v1h-1zM48 49h1v1h-1zM16 51h1v1h-1zM24 51h1v1h-1zM30 51h1v1h-1zM32 51h1v1h-1zM36 51h1v1h-1zM46 51h1v1h-1zM22 53h1v1h-1zM26 53h1v1h-1zM32 53h1v1h-1zM34 53h1v1h-1zM44 53h1v1h-1zM42 55h1v1h-1zM48 55h1v1h-1zM2 57h1v1h-1zM8 57h1v1h-1zM28 57h1v1h-1zM30 57h1v1h-1zM36 57h1v1h-1zM18 59h1v1h-1zM34 59h1v1h-1zM46 59h1v1h-1zM4 61h1v1h-1zM18 61h1v1h-1zM22 61h1v1h-1zM28 61h1v1h-1zM36 61h1v1h-1zM40 61h1v1h-1zM6 63h1v1h-1zM14 63h1v1h-1zM24 63h1v1h-1zM30 63h1v1h-1zM36 63h1v1h-1zM44 63h1v1h-1zM34 65h1v1h-1zM34 67h1v1h-1zM46 67h1v1h-1zM50 67h1v1h-1zM4 69h1v1h-1zM16 69h1v1h-1zM18 69h1v1h-1zM32 69h1v1h-1zM42 69h1v1h-1zM46 69h1v1h-1zM12 71h1v1h-1zM32 71h1v1h-1zM36 71h1v1h-1zM38 71h1v1h-1zM40 71h1v1h-1zM44 71h1v1h-1zM34 73h1v1h-1zM42 73h1v1h-1zM44 73h1v1h-1zM46 73h1v1h-1zM48 73h1v1h-1zM50 73h1v1h-1zM0 75h1v1h-1zM34 75h1v1h-1zM40 75h1v1h-1zM40 77h1v1h-1zM46 77h1v1h-1zM6 79h1v1h-1zM8 79h1v1h-1zM14 79h1v1h-1zM26 79h1v1h-1zM46 79h1v1h-1z"/><path fill="#99ff00" d="M34 1h1v1h-1zM36 1h1v1h-1zM42 3h1v1h-1zM48 3h1v1h-1zM20 5h1v1h-1zM30 5h1v1h-1zM42 5h1v1h-1zM44 5h1v1h-1zM20 7h1v1h-1zM48 7h1v1h-1zM50 7h1v1h-1zM18 9h1v1h-1zM32 9h1v1h-1zM34 9h1v1h-1zM36 9h1v1h-1zM48 9h1v1h-1zM40 11h1v1h-1zM50 11h1v1h-1zM4 13h1v1h-1zM22 13h1v1h-1zM34 13h1v1h-1zM38 13h1v1h-1zM44 13h1v1h-1zM44 15h1v1h-1zM46 15h1v1h-1zM46 17h1v1h-1zM48 17h1v1h-1zM2 19h1v1h-1zM20 19h1v1h-1zM38 19h1v1h-1zM46 19h1v1h-1zM6 21h1v1h-1zM12 21h1v1h-1zM20 21h1v1h-1zM32 21h1v1h-1zM34 21h1v1h-1zM38 21h1v1h-1zM50 21h1v1h-1zM12 23h1v1h-1zM22 23h1v1h-1zM32 23h1v1h-1zM34 23h1v1h-1zM42 23h1v1h-1zM50 23h1v1h-1zM20 25h1v1h-1zM30 25h1v1h-1zM10 27h1v1h-1zM16 27h1v1h-1zM44 27h1v1h-1zM10 29h1v1h-1zM26 29h1v1h-1zM44 29h1v1h-1zM50 29h1v1h-1zM34 31h1v1h-1zM50 31h1v1h-1zM34 33h1v1h-1zM50 33h1v1h-1zM22 35h1v1h-1zM24 35h1v1h-1zM30 35h1v1h-1zM34 35h1v1h-1zM46 35h1v1h-1zM28 37h1v1h-1zM44 37h1v1h-1zM46 37h1v1h-1zM10 39h1v1h-1zM40 39h1v1h-1zM48 39h1v1h-1zM26 41h1v1h-1zM48 41h1v1h-1zM24 43h1v1h-1zM40 43h1v1h-1zM20 45h1v1h-1zM30 45h1v1h-1zM34 45h1v1h-1zM44 45h1v1h-1zM46 45h1v1h-1zM50 45h1v1h-1zM28 47h1v1h-1zM42 47h1v1h-1zM44 47h1v1h-1zM48 47h1v1h-1zM36 49h1v1h-1zM50 49h1v1h-1zM12 51h1v1h-1zM22 51h1v1h-1zM38 51h1v1h-1zM50 51h1v1h-1zM2 53h1v1h-1zM40 53h1v1h-1zM28 55h1v1h-1zM50 55h1v1h-1zM34 57h1v1h-1zM40 57h1v1h-1zM44 57h1v1h-1zM48 57h1v1h-1zM30 59h1v1h-1zM44 59h1v1h-1zM8 61h1v1h-1zM16 61h1v1h-1zM48 61h1v1h-1zM50 61h1v1h-1zM20 63h1v1h-1zM22 63h1v1h-1zM28 63h1v1h-1zM32 63h1v1h-1zM50 63h1v1h-1zM2 65h1v1h-1zM28 65h1v1h-1zM30 65h1v1h-1zM46 65h1v1h-1zM4 67h1v1h-1zM22 67h1v1h-1zM28 67h1v1h-1zM30 67h1v1h-1zM40 67h1v1h-1zM8 69h1v1h-1zM30 69h1v1h-1zM34 69h1v1h-1zM48 69h1v1h-1zM46 71h1v1h-1zM22 73h1v1h-1zM36 75h1v1h-1zM44 75h1v1h-1zM46 75h1v1h-1zM38 77h1v1h-1zM44 77h1v1h-1zM50 77h1v1h-1zM50 79h1v1h-1z"/><path fill="#ffee00" d="M8 1h1v1h-1zM40 1h1v1h-1zM42 1h1v1h-1zM24 3h1v1h-1zM34 3h1v1h-1zM44 3h1v1h-1zM32 5h1v1h-1zM50 5h1v1h-1zM26 7h1v1h-1zM44 7h1v1h-1zM20 9h1v1h-1zM32 11h1v1h-1zM42 11h1v1h-1zM48 11h1v1h-1zM6 17h1v1h-1zM34 17h1v1h-1zM44 17h1v1h-1zM36 19h1v1h-1zM48 19h1v1h-1zM44 21h1v1h-1zM24 25h1v1h-1zM40 27h1v1h-1zM42 27h1v1h-1zM46 27h1v1h-1zM36 29h1v1h-1zM2 31h1v1h-1zM42 31h1v1h-1zM46 31h1v1h-1zM28 33h1v1h-1zM38 33h1v1h-1zM44 33h1v1h-1zM18 35h1v1h-1zM40 35h1v1h-1zM48 35h1v1h-1zM40 37h1v1h-1zM2 39h1v1h-1zM44 39h1v1h-1zM16 41h1v1h-1zM16 43h1v1h-1zM44 43h1v1h-1zM46 43h1v1h-1zM48 43h1v1h-1zM36 45h1v1h-1zM38 45h1v1h-1zM34 49h1v1h-1zM26 51h1v1h-1zM34 51h1v1h-1zM28 53h1v1h-1zM12 55h1v1h-1zM24 55h1v1h-1zM40 55h1v1h-1zM16 59h1v1h-1zM40 59h1v1h-1zM26 61h1v1h-1zM30 61h1v1h-1zM34 61h1v1h-1zM42 61h1v1h-1zM2 63h1v1h-1zM38 63h1v1h-1zM48 65h1v1h-1zM50 65h1v1h-1zM48 67h1v1h-1zM14 71h1v1h-1zM50 71h1v1h-1zM6 73h1v1h-1zM20 73h1v1h-1zM36 79h1v1h-1z"/><path fill="#ffa700" d="M48 1h1v1h-1zM32 3h1v1h-1zM2 5h1v1h-1zM34 5h1v1h-1zM36 5h1v1h-1zM40 5h1v1h-1zM18 13h1v1h-1zM48 15h1v1h-1zM10 17h1v1h-1zM34 19h1v1h-1zM42 19h1v1h-1zM48 21h1v1h-1zM20 23h1v1h-1zM48 23h1v1h-1zM34 25h1v1h-1zM40 25h1v1h-1zM36 27h1v1h-1zM48 33h1v1h-1zM42 39h1v1h-1zM44 41h1v1h-1zM50 43h1v1h-1zM32 45h1v1h-1zM26 47h1v1h-1zM40 47h1v1h-1zM50 47h1v1h-1zM48 59h1v1h-1zM46 61h1v1h-1zM42 63h1v1h-1zM48 79h1v1h-1z"/><path fill="#ff7700" d="M36 13h1v1h-1zM38 15h1v1h-1zM40 21h1v1h-1zM38 73h1v1h-1z"/><path fill="#0014ff" d="M0 56h1v1h-1z"/><path fill="#0044ff" d="M30 4h1v1h-1zM24 14h1v1h-1zM24 30h1v1h-1zM4 44h1v1h-1zM26 52h1v1h-1zM2 60h1v1h-1z"/><path fill="#00bbff" d="M12 0h1v1h-1zM10 12h1v1h-1zM0 14h1v1h-1zM0 26h1v1h-1zM4 26h1v1h-1zM0 28h1v1h-1zM28 36h1v1h-1zM0 50h1v1h-1zM0 54h1v1h-1zM0 72h1v1h-1zM4 74h1v1h-1zM0 76h1v1h-1zM40 76h1v1h-1z"/><path fill="#00fffc" d="M0 0h1v1h-1zM4 4h1v1h-1zM0 6h1v1h-1zM20 10h1v1h-1zM34 12h1v1h-1zM10 18h1v1h-1zM8 20h1v1h-1zM16 22h1v1h-1zM8 28h1v1h-1zM14 28h1v1h-1zM0 38h1v1h-1zM46 38h1v1h-1zM0 42h1v1h-1zM22 48h1v1h-1zM6 50h1v1h-1zM0 52h1v1h-1zM12 52h1v1h-1zM10 58h1v1h-1zM0 64h1v1h-1zM0 66h1v1h-1zM14 66h1v1h-1zM18 78h1v1h-1zM22 78h1v1h-1z"/><path fill="#00ffcc" d="M6 0h1v1h-1zM30 0h1v1h-1zM2 2h1v1h-1zM36 2h1v1h-1zM2 4h1v1h-1zM46 4h1v1h-1zM0 8h1v1h-1zM4 10h1v1h-1zM0 12h1v1h-1zM2 12h1v1h-1zM6 14h1v1h-1zM2 16h1v1h-1zM8 16h1v1h-1zM6 18h1v1h-1zM18 20h1v1h-1zM22 20h1v1h-1zM36 20h1v1h-1zM26 22h1v1h-1zM14 24h1v1h-1zM18 24h1v1h-1zM2 26h1v1h-1zM2 30h1v1h-1zM8 30h1v1h-1zM30 30h1v1h-1zM0 36h1v1h-1zM2 36h1v1h-1zM4 36h1v1h-1zM24 40h1v1h-1zM4 42h1v1h-1zM32 42h1v1h-1zM24 44h1v1h-1zM26 44h1v1h-1zM8 46h1v1h-1zM8 50h1v1h-1zM40 52h1v1h-1zM50 56h1v1h-1zM0 58h1v1h-1zM6 58h1v1h-1zM22 62h1v1h-1zM0 68h1v1h-1zM14 68h1v1h-1zM0 70h1v1h-1zM14 70h1v1h-1zM16 74h1v1h-1zM30 74h1v1h-1zM32 76h1v1h-1zM4 78h1v1h-1zM12 78h1v1h-1zM44 78h1v1h-1z"/><path fill="#00ff85" d="M8 0h1v1h-1zM26 0h1v1h-1zM32 0h1v1h-1zM40 0h1v1h-1zM44 0h1v1h-1zM50 0h1v1h-1zM0 2h1v1h-1zM14 2h1v1h-1zM22 2h1v1h-1zM0 4h1v1h-1zM8 4h1v1h-1zM14 4h1v1h-1zM18 4h1v1h-1zM20 4h1v1h-1zM22 4h1v1h-1zM24 4h1v1h-1zM36 4h1v1h-1zM6 6h1v1h-1zM2 8h1v1h-1zM0 10h1v1h-1zM2 10h1v1h-1zM10 10h1v1h-1zM14 10h1v1h-1zM12 12h1v1h-1zM16 12h1v1h-1zM18 12h1v1h-1zM20 12h1v1h-1zM24 12h1v1h-1zM32 12h1v1h-1zM20 14h1v1h-1zM0 16h1v1h-1zM14 16h1v1h-1zM0 18h1v1h-1zM24 18h1v1h-1zM2 20h1v1h-1zM6 20h1v1h-1zM30 20h1v1h-1zM8 22h1v1h-1zM10 22h1v1h-1zM20 22h1v1h-1zM0 24h1v1h-1zM2 24h1v1h-1zM42 24h1v1h-1zM6 26h1v1h-1zM30 26h1v1h-1zM0 30h1v1h-1zM14 30h1v1h-1zM18 30h1v1h-1zM32 30h1v1h-1zM6 32h1v1h-1zM4 34h1v1h-1zM24 34h1v1h-1zM28 34h1v1h-1zM30 34h1v1h-1zM12 36h1v1h-1zM18 36h1v1h-1zM20 36h1v1h-1zM22 36h1v1h-1zM22 38h1v1h-1zM24 38h1v1h-1zM30 38h1v1h-1zM0 40h1v1h-1zM12 42h1v1h-1zM0 44h1v1h-1zM10 44h1v1h-1zM12 44h1v1h-1zM0 46h1v1h-1zM10 46h1v1h-1zM12 46h1v1h-1zM32 46h1v1h-1zM4 48h1v1h-1zM8 48h1v1h-1zM34 48h1v1h-1zM32 50h1v1h-1zM2 52h1v1h-1zM10 52h1v1h-1zM22 52h1v1h-1zM8 54h1v1h-1zM24 54h1v1h-1zM30 54h1v1h-1zM46 56h1v1h-1zM8 58h1v1h-1zM26 58h1v1h-1zM34 58h1v1h-1zM36 58h1v1h-1zM6 60h1v1h-1zM16 60h1v1h-1zM22 60h1v1h-1zM24 60h1v1h-1zM0 62h1v1h-1zM12 62h1v1h-1zM10 64h1v1h-1zM26 64h1v1h-1zM2 66h1v1h-1zM4 66h1v1h-1zM26 66h1v1h-1zM40 66h1v1h-1zM44 66h1v1h-1zM4 68h1v1h-1zM6 68h1v1h-1zM42 68h1v1h-1zM2 70h1v1h-1zM6 70h1v1h-1zM12 70h1v1h-1zM20 70h1v1h-1zM28 70h1v1h-1zM8 72h1v1h-1zM10 72h1v1h-1zM16 72h1v1h-1zM36 72h1v1h-1zM14 74h1v1h-1zM18 74h1v1h-1zM20 74h1v1h-1zM2 76h1v1h-1zM8 76h1v1h-1zM36 76h1v1h-1zM0 78h1v1h-1zM2 78h1v1h-1zM10 78h1v1h-1zM30 78h1v1h-1zM38 78h1v1h-1z"/><path fill="#00ff0e" d="M2 0h1v1h-1zM20 0h1v1h-1zM24 0h1v1h-1zM28 0h1v1h-1zM34 0h1v1h-1zM36 0h1v1h-1zM4 2h1v1h-1zM20 2h1v1h-1zM28 2h1v1h-1zM34 2h1v1h-1zM46 2h1v1h-1zM10 4h1v1h-1zM34 4h1v1h-1zM10 6h1v1h-1zM24 6h1v1h-1zM34 6h1v1h-1zM8 8h1v1h-1zM16 8h1v1h-1zM34 8h1v1h-1zM44 8h1v1h-1zM8 10h1v1h-1zM12 10h1v1h-1zM26 10h1v1h-1zM34 10h1v1h-1zM38 10h1v1h-1zM26 12h1v1h-1zM28 12h1v1h-1zM38 12h1v1h-1zM2 14h1v1h-1zM8 14h1v1h-1zM14 14h1v1h-1zM18 14h1v1h-1zM36 14h1v1h-1zM40 14h1v1h-1zM10 16h1v1h-1zM24 16h1v1h-1zM34 16h1v1h-1zM4 18h1v1h-1zM12 18h1v1h-1zM34 18h1v1h-1zM36 18h1v1h-1zM10 20h1v1h-1zM20 20h1v1h-1zM0 22h1v1h-1zM30 22h1v1h-1zM32 22h1v1h-1zM40 22h1v1h-1zM8 24h1v1h-1zM16 24h1v1h-1zM20 24h1v1h-1zM8 26h1v1h-1zM16 26h1v1h-1zM32 26h1v1h-1zM36 26h1v1h-1zM38 26h1v1h-1zM12 28h1v1h-1zM22 28h1v1h-1zM26 28h1v1h-1zM42 28h1v1h-1zM50 28h1v1h-1zM6 30h1v1h-1zM0 32h1v1h-1zM4 32h1v1h-1zM16 32h1v1h-1zM24 32h1v1h-1zM26 32h1v1h-1zM0 34h1v1h-1zM8 34h1v1h-1zM14 34h1v1h-1zM20 34h1v1h-1zM22 34h1v1h-1zM32 34h1v1h-1zM16 36h1v1h-1zM10 38h1v1h-1zM12 38h1v1h-1zM14 38h1v1h-1zM28 38h1v1h-1zM42 38h1v1h-1zM44 38h1v1h-1zM16 40h1v1h-1zM2 42h1v1h-1zM6 42h1v1h-1zM8 42h1v1h-1zM10 42h1v1h-1zM18 42h1v1h-1zM20 42h1v1h-1zM50 42h1v1h-1zM22 44h1v1h-1zM36 44h1v1h-1zM24 46h1v1h-1zM34 46h1v1h-1zM0 48h1v1h-1zM10 48h1v1h-1zM24 48h1v1h-1zM10 50h1v1h-1zM16 50h1v1h-1zM26 50h1v1h-1zM36 50h1v1h-1zM42 50h1v1h-1zM6 52h1v1h-1zM30 52h1v1h-1zM42 52h1v1h-1zM44 52h1v1h-1zM10 54h1v1h-1zM14 54h1v1h-1zM16 54h1v1h-1zM2 56h1v1h-1zM6 56h1v1h-1zM10 56h1v1h-1zM18 56h1v1h-1zM24 56h1v1h-1zM26 56h1v1h-1zM28 56h1v1h-1zM32 56h1v1h-1zM40 56h1v1h-1zM42 56h1v1h-1zM16 58h1v1h-1zM22 58h1v1h-1zM30 58h1v1h-1zM46 58h1v1h-1zM4 60h1v1h-1zM48 60h1v1h-1zM4 62h1v1h-1zM18 62h1v1h-1zM20 62h1v1h-1zM2 64h1v1h-1zM12 64h1v1h-1zM16 64h1v1h-1zM28 64h1v1h-1zM48 64h1v1h-1zM8 66h1v1h-1zM16 66h1v1h-1zM30 66h1v1h-1zM32 66h1v1h-1zM48 66h1v1h-1zM12 68h1v1h-1zM18 68h1v1h-1zM26 68h1v1h-1zM4 70h1v1h-1zM10 70h1v1h-1zM18 70h1v1h-1zM22 70h1v1h-1zM30 70h1v1h-1zM2 72h1v1h-1zM4 72h1v1h-1zM6 72h1v1h-1zM22 72h1v1h-1zM24 72h1v1h-1zM28 72h1v1h-1zM0 74h1v1h-1zM2 74h1v1h-1zM22 74h1v1h-1zM24 74h1v1h-1zM32 74h1v1h-1zM34 74h1v1h-1zM48 74h1v1h-1zM20 76h1v1h-1zM34 76h1v1h-1zM26 78h1v1h-1zM42 78h1v1h-1z"/><path fill="#22ff00" d="M4 0h1v1h-1zM10 0h1v1h-1zM14 0h1v1h-1zM22 0h1v1h-1zM42 0h1v1h-1zM46 0h1v1h-1zM12 2h1v1h-1zM18 2h1v1h-1zM26 2h1v1h-1zM38 2h1v1h-1zM42 2h1v1h-1zM48 2h1v1h-1zM12 4h1v1h-1zM16 4h1v1h-1zM28 4h1v1h-1zM32 4h1v1h-1zM42 4h1v1h-1zM2 6h1v1h-1zM4 6h1v1h-1zM12 6h1v1h-1zM16 6h1v1h-1zM20 6h1v1h-1zM26 6h1v1h-1zM36 6h1v1h-1zM40 6h1v1h-1zM10 8h1v1h-1zM14 8h1v1h-1zM18 8h1v1h-1zM24 8h1v1h-1zM28 8h1v1h-1zM30 8h1v1h-1zM48 8h1v1h-1zM6 10h1v1h-1zM16 10h1v1h-1zM44 10h1v1h-1zM4 12h1v1h-1zM8 12h1v1h-1zM14 12h1v1h-1zM30 12h1v1h-1zM12 14h1v1h-1zM28 14h1v1h-1zM38 14h1v1h-1zM42 14h1v1h-1zM12 16h1v1h-1zM18 16h1v1h-1zM32 16h1v1h-1zM36 16h1v1h-1zM44 16h1v1h-1zM2 18h1v1h-1zM14 18h1v1h-1zM18 18h1v1h-1zM32 18h1v1h-1zM40 18h1v1h-1zM50 18h1v1h-1zM0 20h1v1h-1zM24 20h1v1h-1zM40 20h1v1h-1zM46 20h1v1h-1zM50 20h1v1h-1zM2 22h1v1h-1zM4 22h1v1h-1zM6 22h1v1h-1zM18 22h1v1h-1zM24 22h1v1h-1zM28 22h1v1h-1zM50 22h1v1h-1zM24 24h1v1h-1zM26 24h1v1h-1zM32 24h1v1h-1zM36 24h1v1h-1zM12 26h1v1h-1zM14 26h1v1h-1zM20 26h1v1h-1zM22 26h1v1h-1zM28 26h1v1h-1zM44 26h1v1h-1zM6 28h1v1h-1zM10 28h1v1h-1zM20 28h1v1h-1zM28 28h1v1h-1zM36 28h1v1h-1zM44 28h1v1h-1zM4 30h1v1h-1zM12 30h1v1h-1zM44 30h1v1h-1zM8 32h1v1h-1zM10 32h1v1h-1zM12 32h1v1h-1zM14 32h1v1h-1zM22 32h1v1h-1zM44 32h1v1h-1zM2 34h1v1h-1zM10 34h1v1h-1zM16 34h1v1h-1zM18 34h1v1h-1zM38 34h1v1h-1zM40 34h1v1h-1zM50 34h1v1h-1zM8 36h1v1h-1zM14 36h1v1h-1zM24 36h1v1h-1zM26 36h1v1h-1zM30 36h1v1h-1zM40 36h1v1h-1zM44 36h1v1h-1zM2 38h1v1h-1zM4 38h1v1h-1zM8 38h1v1h-1zM40 38h1v1h-1zM50 38h1v1h-1zM4 40h1v1h-1zM6 40h1v1h-1zM12 40h1v1h-1zM18 40h1v1h-1zM22 40h1v1h-1zM28 40h1v1h-1zM32 40h1v1h-1zM34 40h1v1h-1zM38 40h1v1h-1zM22 42h1v1h-1zM30 42h1v1h-1zM2 44h1v1h-1zM6 44h1v1h-1zM8 44h1v1h-1zM16 44h1v1h-1zM28 44h1v1h-1zM38 44h1v1h-1zM46 44h1v1h-1zM50 44h1v1h-1zM4 46h1v1h-1zM20 46h1v1h-1zM22 46h1v1h-1zM26 46h1v1h-1zM2 48h1v1h-1zM12 48h1v1h-1zM14 48h1v1h-1zM20 48h1v1h-1zM26 48h1v1h-1zM36 48h1v1h-1zM38 48h1v1h-1zM46 48h1v1h-1zM14 50h1v1h-1zM20 50h1v1h-1zM22 50h1v1h-1zM30 50h1v1h-1zM34 50h1v1h-1zM20 52h1v1h-1zM32 52h1v1h-1zM12 54h1v1h-1zM18 54h1v1h-1zM20 54h1v1h-1zM28 54h1v1h-1zM8 56h1v1h-1zM12 56h1v1h-1zM14 56h1v1h-1zM16 56h1v1h-1zM2 58h1v1h-1zM4 58h1v1h-1zM14 58h1v1h-1zM20 58h1v1h-1zM40 58h1v1h-1zM42 58h1v1h-1zM8 60h1v1h-1zM14 60h1v1h-1zM20 60h1v1h-1zM30 60h1v1h-1zM6 62h1v1h-1zM8 62h1v1h-1zM34 62h1v1h-1zM40 62h1v1h-1zM42 62h1v1h-1zM44 62h1v1h-1zM48 62h1v1h-1zM18 64h1v1h-1zM24 64h1v1h-1zM36 64h1v1h-1zM38 64h1v1h-1zM42 64h1v1h-1zM44 64h1v1h-1zM6 66h1v1h-1zM20 66h1v1h-1zM38 66h1v1h-1zM42 66h1v1h-1zM50 66h1v1h-1zM8 68h1v1h-1zM20 68h1v1h-1zM28 68h1v1h-1zM32 68h1v1h-1zM26 70h1v1h-1zM36 70h1v1h-1zM38 70h1v1h-1zM50 70h1v1h-1zM12 72h1v1h-1zM18 72h1v1h-1zM20 72h1v1h-1zM38 72h1v1h-1zM6 74h1v1h-1zM10 74h1v1h-1zM26 74h1v1h-1zM28 74h1v1h-1zM40 74h1v1h-1zM44 74h1v1h-1zM14 76h1v1h-1zM18 76h1v1h-1zM26 76h1v1h-1zM30 76h1v1h-1zM42 76h1v1h-1zM6 78h1v1h-1zM14 78h1v1h-1zM20 78h1v1h-1zM34 78h1v1h-1zM36 78h1v1h-1zM46 78h1v1h-1zM48 78h1v1h-1z"/><path fill="#69ff00" d="M16 0h1v1h-1zM18 0h1v1h-1zM10 2h1v1h-1zM24 2h1v1h-1zM30 2h1v1h-1zM32 2h1v1h-1zM40 2h1v1h-1zM6 4h1v1h-1zM40 4h1v1h-1zM44 4h1v1h-1zM50 4h1v1h-1zM8 6h1v1h-1zM22 6h1v1h-1zM30 6h1v1h-1zM32 6h1v1h-1zM38 6h1v1h-1zM48 6h1v1h-1zM6 8h1v1h-1zM12 8h1v1h-1zM22 8h1v1h-1zM32 8h1v1h-1zM22 10h1v1h-1zM28 10h1v1h-1zM30 10h1v1h-1zM32 10h1v1h-1zM46 10h1v1h-1zM48 10h1v1h-1zM6 12h1v1h-1zM22 12h1v1h-1zM36 12h1v1h-1zM42 12h1v1h-1zM50 12h1v1h-1zM4 14h1v1h-1zM10 14h1v1h-1zM16 14h1v1h-1zM22 14h1v1h-1zM30 14h1v1h-1zM32 14h1v1h-1zM34 14h1v1h-1zM44 14h1v1h-1zM48 14h1v1h-1zM50 14h1v1h-1zM4 16h1v1h-1zM6 16h1v1h-1zM20 16h1v1h-1zM28 16h1v1h-1zM38 16h1v1h-1zM46 16h1v1h-1zM50 16h1v1h-1zM8 18h1v1h-1zM20 18h1v1h-1zM22 18h1v1h-1zM26 18h1v1h-1zM48 18h1v1h-1zM12 20h1v1h-1zM14 20h1v1h-1zM16 20h1v1h-1zM34 20h1v1h-1zM48 20h1v1h-1zM12 22h1v1h-1zM14 22h1v1h-1zM22 22h1v1h-1zM36 22h1v1h-1zM4 24h1v1h-1zM10 24h1v1h-1zM12 24h1v1h-1zM22 24h1v1h-1zM28 24h1v1h-1zM38 24h1v1h-1zM40 24h1v1h-1zM50 24h1v1h-1zM10 26h1v1h-1zM18 26h1v1h-1zM24 26h1v1h-1zM40 26h1v1h-1zM46 26h1v1h-1zM48 26h1v1h-1zM2 28h1v1h-1zM4 28h1v1h-1zM16 28h1v1h-1zM18 28h1v1h-1zM30 28h1v1h-1zM32 28h1v1h-1zM38 28h1v1h-1zM16 30h1v1h-1zM20 30h1v1h-1zM22 30h1v1h-1zM28 30h1v1h-1zM38 30h1v1h-1zM2 32h1v1h-1zM18 32h1v1h-1zM32 32h1v1h-1zM34 32h1v1h-1zM40 32h1v1h-1zM46 32h1v1h-1zM6 34h1v1h-1zM34 34h1v1h-1zM36 34h1v1h-1zM42 34h1v1h-1zM48 34h1v1h-1zM6 36h1v1h-1zM32 36h1v1h-1zM36 36h1v1h-1zM42 36h1v1h-1zM46 36h1v1h-1zM20 38h1v1h-1zM26 38h1v1h-1zM32 38h1v1h-1zM38 38h1v1h-1zM8 40h1v1h-1zM10 40h1v1h-1zM14 40h1v1h-1zM20 40h1v1h-1zM26 40h1v1h-1zM42 40h1v1h-1zM48 40h1v1h-1zM14 42h1v1h-1zM16 42h1v1h-1zM24 42h1v1h-1zM26 42h1v1h-1zM36 42h1v1h-1zM46 42h1v1h-1zM18 44h1v1h-1zM20 44h1v1h-1zM30 44h1v1h-1zM32 44h1v1h-1zM6 46h1v1h-1zM28 46h1v1h-1zM30 46h1v1h-1zM40 46h1v1h-1zM44 46h1v1h-1zM48 46h1v1h-1zM28 48h1v1h-1zM32 48h1v1h-1zM50 48h1v1h-1zM2 50h1v1h-1zM4 50h1v1h-1zM38 50h1v1h-1zM4 52h1v1h-1zM14 52h1v1h-1zM28 52h1v1h-1zM34 52h1v1h-1zM36 52h1v1h-1zM38 52h1v1h-1zM46 52h1v1h-1zM2 54h1v1h-1zM6 54h1v1h-1zM32 54h1v1h-1zM34 54h1v1h-1zM36 54h1v1h-1zM42 54h1v1h-1zM46 54h1v1h-1zM48 54h1v1h-1zM4 56h1v1h-1zM34 56h1v1h-1zM36 56h1v1h-1zM38 56h1v1h-1zM12 58h1v1h-1zM18 58h1v1h-1zM24 58h1v1h-1zM28 58h1v1h-1zM32 58h1v1h-1zM38 58h1v1h-1zM0 60h1v1h-1zM10 60h1v1h-1zM18 60h1v1h-1zM34 60h1v1h-1zM38 60h1v1h-1zM40 60h1v1h-1zM42 60h1v1h-1zM44 60h1v1h-1zM46 60h1v1h-1zM2 62h1v1h-1zM10 62h1v1h-1zM14 62h1v1h-1zM24 62h1v1h-1zM26 62h1v1h-1zM28 62h1v1h-1zM30 62h1v1h-1zM32 62h1v1h-1zM38 62h1v1h-1zM46 62h1v1h-1zM50 62h1v1h-1zM8 64h1v1h-1zM14 64h1v1h-1zM22 64h1v1h-1zM34 64h1v1h-1zM40 64h1v1h-1zM50 64h1v1h-1zM18 66h1v1h-1zM24 66h1v1h-1zM34 66h1v1h-1zM36 66h1v1h-1zM46 66h1v1h-1zM2 68h1v1h-1zM10 68h1v1h-1zM22 68h1v1h-1zM30 68h1v1h-1zM50 68h1v1h-1zM8 70h1v1h-1zM32 70h1v1h-1zM34 70h1v1h-1zM42 70h1v1h-1zM48 70h1v1h-1zM14 72h1v1h-1zM26 72h1v1h-1zM30 72h1v1h-1zM32 72h1v1h-1zM34 72h1v1h-1zM48 72h1v1h-1zM8 74h1v1h-1zM12 74h1v1h-1zM36 74h1v1h-1zM50 74h1v1h-1zM4 76h1v1h-1zM12 76h1v1h-1zM16 76h1v1h-1zM22 76h1v1h-1zM24 76h1v1h-1zM28 76h1v1h-1zM38 76h1v1h-1zM44 76h1v1h-1zM8 78h1v1h-1zM16 78h1v1h-1zM50 78h1v1h-1z"/><path fill="#99ff00" d="M38 0h1v1h-1zM48 0h1v1h-1zM6 2h1v1h-1zM8 2h1v1h-1zM16 2h1v1h-1zM44 2h1v1h-1zM26 4h1v1h-1zM14 6h1v1h-1zM4 8h1v1h-1zM26 8h1v1h-1zM38 8h1v1h-1zM42 8h1v1h-1zM50 8h1v1h-1zM18 10h1v1h-1zM36 10h1v1h-1zM44 12h1v1h-1zM46 12h1v1h-1zM48 12h1v1h-1zM26 14h1v1h-1zM16 16h1v1h-1zM22 16h1v1h-1zM26 16h1v1h-1zM30 16h1v1h-1zM42 16h1v1h-1zM48 16h1v1h-1zM16 18h1v1h-1zM28 18h1v1h-1zM38 18h1v1h-1zM42 18h1v1h-1zM4 20h1v1h-1zM38 20h1v1h-1zM42 22h1v1h-1zM44 22h1v1h-1zM48 22h1v1h-1zM6 24h1v1h-1zM34 24h1v1h-1zM26 26h1v1h-1zM34 26h1v1h-1zM42 26h1v1h-1zM50 26h1v1h-1zM40 28h1v1h-1zM46 28h1v1h-1zM48 28h1v1h-1zM34 30h1v1h-1zM36 30h1v1h-1zM42 30h1v1h-1zM46 30h1v1h-1zM48 30h1v1h-1zM36 32h1v1h-1zM38 32h1v1h-1zM44 34h1v1h-1zM10 36h1v1h-1zM38 36h1v1h-1zM50 36h1v1h-1zM6 38h1v1h-1zM16 38h1v1h-1zM18 38h1v1h-1zM34 38h1v1h-1zM48 38h1v1h-1zM30 40h1v1h-1zM44 40h1v1h-1zM46 40h1v1h-1zM50 40h1v1h-1zM28 42h1v1h-1zM34 42h1v1h-1zM38 42h1v1h-1zM40 42h1v1h-1zM42 42h1v1h-1zM44 42h1v1h-1zM48 42h1v1h-1zM14 44h1v1h-1zM34 44h1v1h-1zM42 44h1v1h-1zM2 46h1v1h-1zM14 46h1v1h-1zM16 46h1v1h-1zM46 46h1v1h-1zM6 48h1v1h-1zM18 48h1v1h-1zM44 48h1v1h-1zM48 48h1v1h-1zM12 50h1v1h-1zM28 50h1v1h-1zM44 50h1v1h-1zM18 52h1v1h-1zM48 52h1v1h-1zM50 52h1v1h-1zM4 54h1v1h-1zM22 54h1v1h-1zM26 54h1v1h-1zM38 54h1v1h-1zM50 54h1v1h-1zM22 56h1v1h-1zM44 56h1v1h-1zM26 60h1v1h-1zM28 60h1v1h-1zM36 62h1v1h-1zM4 64h1v1h-1zM6 64h1v1h-1zM20 64h1v1h-1zM30 64h1v1h-1zM32 64h1v1h-1zM46 64h1v1h-1zM12 66h1v1h-1zM22 66h1v1h-1zM16 68h1v1h-1zM24 68h1v1h-1zM34 68h1v1h-1zM36 68h1v1h-1zM38 68h1v1h-1zM44 68h1v1h-1zM46 68h1v1h-1zM46 70h1v1h-1zM42 72h1v1h-1zM44 72h1v1h-1zM46 74h1v1h-1zM6 76h1v1h-1zM10 76h1v1h-1zM46 76h1v1h-1zM48 76h1v1h-1zM50 76h1v1h-1zM24 78h1v1h-1zM28 78h1v1h-1zM32 78h1v1h-1z"/><path fill="#ffee00" d="M38 4h1v1h-1zM48 4h1v1h-1zM18 6h1v1h-1zM28 6h1v1h-1zM42 6h1v1h-1zM50 6h1v1h-1zM20 8h1v1h-1zM36 8h1v1h-1zM40 8h1v1h-1zM40 10h1v1h-1zM40 12h1v1h-1zM46 14h1v1h-1zM40 16h1v1h-1zM30 18h1v1h-1zM46 18h1v1h-1zM26 20h1v1h-1zM28 20h1v1h-1zM42 20h1v1h-1zM46 24h1v1h-1zM48 24h1v1h-1zM24 28h1v1h-1zM10 30h1v1h-1zM40 30h1v1h-1zM20 32h1v1h-1zM30 32h1v1h-1zM42 32h1v1h-1zM48 32h1v1h-1zM12 34h1v1h-1zM26 34h1v1h-1zM46 34h1v1h-1zM48 36h1v1h-1zM2 40h1v1h-1zM40 40h1v1h-1zM48 44h1v1h-1zM18 46h1v1h-1zM36 46h1v1h-1zM38 46h1v1h-1zM42 46h1v1h-1zM50 46h1v1h-1zM16 48h1v1h-1zM30 48h1v1h-1zM40 48h1v1h-1zM42 48h1v1h-1zM18 50h1v1h-1zM24 50h1v1h-1zM48 50h1v1h-1zM8 52h1v1h-1zM16 52h1v1h-1zM24 52h1v1h-1zM40 54h1v1h-1zM20 56h1v1h-1zM30 56h1v1h-1zM44 58h1v1h-1zM48 58h1v1h-1zM12 60h1v1h-1zM32 60h1v1h-1zM50 60h1v1h-1zM16 62h1v1h-1zM10 66h1v1h-1zM28 66h1v1h-1zM48 68h1v1h-1zM16 70h1v1h-1zM24 70h1v1h-1zM44 70h1v1h-1zM46 72h1v1h-1zM50 72h1v1h-1zM38 74h1v1h-1zM40 78h1v1h-1z"/><path fill="#ffa700" d="M46 6h1v1h-1zM46 8h1v1h-1zM50 10h1v1h-1zM44 18h1v1h-1zM32 20h1v1h-1zM44 20h1v1h-1zM34 22h1v1h-1zM38 22h1v1h-1zM46 22h1v1h-1zM30 24h1v1h-1zM34 28h1v1h-1zM50 30h1v1h-1zM28 32h1v1h-1zM50 32h1v1h-1zM34 36h1v1h-1zM36 40h1v1h-1zM40 44h1v1h-1zM40 50h1v1h-1zM46 50h1v1h-1zM50 50h1v1h-1zM44 54h1v1h-1zM48 56h1v1h-1zM36 60h1v1h-1zM40 68h1v1h-1zM40 70h1v1h-1zM40 72h1v1h-1zM42 74h1v1h-1z"/><path fill="#ff7700" d="M44 6h1v1h-1zM24 10h1v1h-1zM42 10h1v1h-1zM44 24h1v1h-1zM26 30h1v1h-1zM44 44h1v1h-1zM50 58h1v1h-1z"/><path fill="#ff3000" d="M50 2h1v1h-1zM36 38h1v1h-1z"/><path fill="#0044ff" d="M5 41h1v1h-1z"/><path fill="#00bbff" d="M3 3h1v1h-1zM5 3h1v1h-1zM19 13h1v1h-1zM51 15h1v1h-1zM51 17h1v1h-1zM51 31h1v1h-1zM7 47h1v1h-1zM19 49h1v1h-1zM5 59h1v1h-1zM25 61h1v1h-1zM5 69h1v1h-1zM9 75h1v1h-1z"/><path fill="#00fffc" d="M51 1h1v1h-1zM37 11h1v1h-1zM27 21h1v1h-1zM7 25h1v1h-1zM19 25h1v1h-1zM31 25h1v1h-1zM1 29h1v1h-1zM31 29h1v1h-1zM27 31h1v1h-1zM19 51h1v1h-1zM19 59h1v1h-1zM15 63h1v1h-1zM1 65h1v1h-1zM25 65h1v1h-1zM51 69h1v1h-1zM9 73h1v1h-1zM13 75h1v1h-1z"/><path fill="#00ffcc" d="M27 1h1v1h-1zM47 1h1v1h-1zM7 3h1v1h-1zM31 3h1v1h-1zM33 5h1v1h-1zM35 5h1v1h-1zM51 5h1v1h-1zM23 7h1v1h-1zM51 7h1v1h-1zM15 9h1v1h-1zM3 11h1v1h-1zM25 11h1v1h-1zM17 15h1v1h-1zM5 17h1v1h-1zM23 17h1v1h-1zM3 19h1v1h-1zM11 19h1v1h-1zM47 21h1v1h-1zM19 23h1v1h-1zM11 25h1v1h-1zM5 29h1v1h-1zM17 29h1v1h-1zM21 29h1v1h-1zM13 33h1v1h-1zM3 35h1v1h-1zM23 35h1v1h-1zM11 37h1v1h-1zM1 39h1v1h-1zM51 39h1v1h-1zM49 41h1v1h-1zM23 45h1v1h-1zM51 45h1v1h-1zM19 47h1v1h-1zM3 49h1v1h-1zM23 49h1v1h-1zM25 49h1v1h-1zM9 51h1v1h-1zM33 55h1v1h-1zM13 57h1v1h-1zM23 57h1v1h-1zM1 59h1v1h-1zM3 61h1v1h-1zM7 61h1v1h-1zM9 61h1v1h-1zM11 61h1v1h-1zM51 61h1v1h-1zM13 63h1v1h-1zM35 63h1v1h-1zM29 67h1v1h-1zM39 67h1v1h-1zM41 69h1v1h-1zM1 71h1v1h-1zM13 73h1v1h-1zM1 75h1v1h-1zM7 75h1v1h-1zM17 77h1v1h-1zM19 77h1v1h-1zM21 79h1v1h-1zM25 79h1v1h-1zM31 79h1v1h-1zM51 79h1v1h-1z"/><path fill="#00ff85" d="M45 1h1v1h-1zM21 3h1v1h-1zM27 3h1v1h-1zM7 5h1v1h-1zM11 5h1v1h-1zM27 5h1v1h-1zM41 7h1v1h-1zM1 9h1v1h-1zM23 9h1v1h-1zM39 9h1v1h-1zM15 13h1v1h-1zM33 13h1v1h-1zM49 13h1v1h-1zM51 13h1v1h-1zM1 15h1v1h-1zM3 15h1v1h-1zM9 15h1v1h-1zM3 17h1v1h-1zM7 19h1v1h-1zM23 19h1v1h-1zM35 19h1v1h-1zM45 19h1v1h-1zM11 21h1v1h-1zM29 21h1v1h-1zM51 21h1v1h-1zM9 23h1v1h-1zM51 23h1v1h-1zM1 25h1v1h-1zM13 25h1v1h-1zM9 27h1v1h-1zM13 27h1v1h-1zM19 27h1v1h-1zM31 27h1v1h-1zM9 31h1v1h-1zM11 31h1v1h-1zM15 31h1v1h-1zM17 31h1v1h-1zM23 33h1v1h-1zM33 33h1v1h-1zM39 33h1v1h-1zM1 35h1v1h-1zM9 35h1v1h-1zM11 35h1v1h-1zM15 35h1v1h-1zM29 35h1v1h-1zM39 35h1v1h-1zM7 37h1v1h-1zM19 37h1v1h-1zM7 39h1v1h-1zM1 41h1v1h-1zM3 41h1v1h-1zM27 41h1v1h-1zM5 43h1v1h-1zM27 43h1v1h-1zM51 43h1v1h-1zM11 45h1v1h-1zM19 45h1v1h-1zM39 45h1v1h-1zM15 47h1v1h-1zM51 47h1v1h-1zM5 49h1v1h-1zM13 49h1v1h-1zM17 49h1v1h-1zM31 49h1v1h-1zM1 51h1v1h-1zM7 51h1v1h-1zM29 51h1v1h-1zM51 51h1v1h-1zM1 53h1v1h-1zM3 53h1v1h-1zM17 53h1v1h-1zM25 53h1v1h-1zM29 53h1v1h-1zM51 53h1v1h-1zM1 55h1v1h-1zM9 55h1v1h-1zM15 55h1v1h-1zM51 55h1v1h-1zM11 57h1v1h-1zM51 57h1v1h-1zM29 59h1v1h-1zM37 59h1v1h-1zM5 61h1v1h-1zM19 61h1v1h-1zM1 63h1v1h-1zM21 63h1v1h-1zM41 63h1v1h-1zM51 63h1v1h-1zM3 65h1v1h-1zM5 65h1v1h-1zM19 65h1v1h-1zM47 65h1v1h-1zM51 65h1v1h-1zM3 67h1v1h-1zM5 67h1v1h-1zM7 67h1v1h-1zM15 67h1v1h-1zM51 67h1v1h-1zM3 69h1v1h-1zM13 69h1v1h-1zM19 69h1v1h-1zM1 73h1v1h-1zM11 73h1v1h-1zM19 73h1v1h-1zM27 73h1v1h-1zM33 73h1v1h-1zM3 75h1v1h-1zM17 75h1v1h-1zM23 75h1v1h-1zM27 75h1v1h-1zM39 75h1v1h-1zM51 75h1v1h-1zM1 77h1v1h-1zM11 77h1v1h-1zM15 77h1v1h-1zM33 77h1v1h-1zM39 77h1v1h-1z"/><path fill="#00ff0e" d="M1 1h1v1h-1zM3 1h1v1h-1zM9 1h1v1h-1zM15 1h1v1h-1zM21 1h1v1h-1zM41 1h1v1h-1zM49 1h1v1h-1zM1 3h1v1h-1zM9 3h1v1h-1zM19 3h1v1h-1zM23 3h1v1h-1zM33 3h1v1h-1zM43 3h1v1h-1zM45 3h1v1h-1zM1 5h1v1h-1zM5 5h1v1h-1zM13 5h1v1h-1zM37 5h1v1h-1zM39 5h1v1h-1zM41 5h1v1h-1zM7 7h1v1h-1zM35 7h1v1h-1zM7 9h1v1h-1zM9 9h1v1h-1zM21 9h1v1h-1zM25 9h1v1h-1zM51 9h1v1h-1zM15 11h1v1h-1zM19 11h1v1h-1zM23 11h1v1h-1zM31 11h1v1h-1zM49 11h1v1h-1zM9 13h1v1h-1zM31 13h1v1h-1zM13 15h1v1h-1zM15 15h1v1h-1zM25 15h1v1h-1zM39 15h1v1h-1zM1 17h1v1h-1zM7 17h1v1h-1zM11 17h1v1h-1zM33 17h1v1h-1zM43 17h1v1h-1zM1 19h1v1h-1zM25 19h1v1h-1zM27 19h1v1h-1zM43 19h1v1h-1zM5 21h1v1h-1zM7 21h1v1h-1zM17 21h1v1h-1zM23 21h1v1h-1zM25 21h1v1h-1zM33 21h1v1h-1zM39 21h1v1h-1zM5 23h1v1h-1zM11 23h1v1h-1zM21 23h1v1h-1zM27 23h1v1h-1zM33 23h1v1h-1zM39 23h1v1h-1zM41 23h1v1h-1zM5 25h1v1h-1zM21 25h1v1h-1zM25 25h1v1h-1zM29 25h1v1h-1zM1 27h1v1h-1zM7 27h1v1h-1zM23 27h1v1h-1zM27 27h1v1h-1zM33 27h1v1h-1zM45 27h1v1h-1zM51 27h1v1h-1zM7 29h1v1h-1zM11 29h1v1h-1zM19 29h1v1h-1zM29 29h1v1h-1zM41 29h1v1h-1zM47 29h1v1h-1zM51 29h1v1h-1zM21 31h1v1h-1zM29 31h1v1h-1zM5 33h1v1h-1zM9 33h1v1h-1zM11 33h1v1h-1zM15 33h1v1h-1zM17 33h1v1h-1zM19 33h1v1h-1zM5 35h1v1h-1zM13 35h1v1h-1zM17 35h1v1h-1zM21 35h1v1h-1zM27 35h1v1h-1zM33 35h1v1h-1zM41 35h1v1h-1zM1 37h1v1h-1zM9 37h1v1h-1zM15 37h1v1h-1zM25 37h1v1h-1zM37 37h1v1h-1zM45 37h1v1h-1zM5 39h1v1h-1zM13 39h1v1h-1zM17 39h1v1h-1zM31 39h1v1h-1zM33 39h1v1h-1zM7 41h1v1h-1zM23 41h1v1h-1zM37 41h1v1h-1zM41 41h1v1h-1zM45 41h1v1h-1zM51 41h1v1h-1zM3 43h1v1h-1zM13 43h1v1h-1zM17 43h1v1h-1zM7 45h1v1h-1zM27 45h1v1h-1zM5 47h1v1h-1zM11 47h1v1h-1zM13 47h1v1h-1zM17 47h1v1h-1zM21 47h1v1h-1zM25 47h1v1h-1zM29 47h1v1h-1zM37 47h1v1h-1zM43 47h1v1h-1zM1 49h1v1h-1zM9 49h1v1h-1zM15 49h1v1h-1zM43 49h1v1h-1zM51 49h1v1h-1zM15 51h1v1h-1zM25 51h1v1h-1zM5 53h1v1h-1zM21 53h1v1h-1zM23 53h1v1h-1zM33 53h1v1h-1zM45 53h1v1h-1zM3 55h1v1h-1zM11 55h1v1h-1zM41 55h1v1h-1zM1 57h1v1h-1zM3 57h1v1h-1zM7 57h1v1h-1zM21 57h1v1h-1zM29 57h1v1h-1zM37 57h1v1h-1zM39 57h1v1h-1zM47 57h1v1h-1zM3 59h1v1h-1zM9 59h1v1h-1zM13 59h1v1h-1zM15 59h1v1h-1zM17 59h1v1h-1zM35 59h1v1h-1zM45 59h1v1h-1zM23 61h1v1h-1zM31 61h1v1h-1zM41 61h1v1h-1zM3 63h1v1h-1zM5 63h1v1h-1zM9 63h1v1h-1zM11 65h1v1h-1zM17 65h1v1h-1zM33 65h1v1h-1zM37 65h1v1h-1zM41 65h1v1h-1zM49 65h1v1h-1zM9 67h1v1h-1zM17 67h1v1h-1zM11 69h1v1h-1zM47 69h1v1h-1zM3 71h1v1h-1zM9 71h1v1h-1zM13 71h1v1h-1zM23 71h1v1h-1zM29 71h1v1h-1zM45 71h1v1h-1zM5 73h1v1h-1zM21 73h1v1h-1zM23 73h1v1h-1zM45 73h1v1h-1zM51 73h1v1h-1zM5 75h1v1h-1zM11 75h1v1h-1zM9 77h1v1h-1zM23 77h1v1h-1zM29 77h1v1h-1zM41 77h1v1h-1zM45 77h1v1h-1zM47 77h1v1h-1zM49 77h1v1h-1zM51 77h1v1h-1zM1 79h1v1h-1zM13 79h1v1h-1zM17 79h1v1h-1zM33 79h1v1h-1z"/><path fill="#22ff00" d="M7 1h1v1h-1zM23 1h1v1h-1zM39 1h1v1h-1zM13 3h1v1h-1zM15 3h1v1h-1zM17 3h1v1h-1zM29 3h1v1h-1zM47 3h1v1h-1zM3 5h1v1h-1zM15 5h1v1h-1zM19 5h1v1h-1zM23 5h1v1h-1zM25 5h1v1h-1zM29 5h1v1h-1zM1 7h1v1h-1zM5 7h1v1h-1zM15 7h1v1h-1zM17 7h1v1h-1zM29 7h1v1h-1zM31 7h1v1h-1zM45 7h1v1h-1zM3 9h1v1h-1zM5 9h1v1h-1zM19 9h1v1h-1zM27 9h1v1h-1zM33 9h1v1h-1zM35 9h1v1h-1zM47 9h1v1h-1zM5 11h1v1h-1zM9 11h1v1h-1zM13 11h1v1h-1zM27 11h1v1h-1zM45 11h1v1h-1zM1 13h1v1h-1zM3 13h1v1h-1zM5 13h1v1h-1zM7 13h1v1h-1zM11 13h1v1h-1zM13 13h1v1h-1zM17 13h1v1h-1zM21 13h1v1h-1zM25 13h1v1h-1zM27 13h1v1h-1zM5 15h1v1h-1zM21 15h1v1h-1zM9 17h1v1h-1zM21 17h1v1h-1zM35 17h1v1h-1zM45 17h1v1h-1zM17 19h1v1h-1zM41 19h1v1h-1zM51 19h1v1h-1zM3 21h1v1h-1zM9 21h1v1h-1zM21 21h1v1h-1zM31 21h1v1h-1zM35 21h1v1h-1zM7 23h1v1h-1zM13 23h1v1h-1zM17 23h1v1h-1zM49 23h1v1h-1zM3 25h1v1h-1zM27 25h1v1h-1zM49 25h1v1h-1zM5 27h1v1h-1zM17 27h1v1h-1zM21 27h1v1h-1zM35 27h1v1h-1zM37 27h1v1h-1zM39 27h1v1h-1zM3 29h1v1h-1zM9 29h1v1h-1zM13 29h1v1h-1zM27 29h1v1h-1zM33 29h1v1h-1zM43 29h1v1h-1zM5 31h1v1h-1zM19 31h1v1h-1zM23 31h1v1h-1zM31 31h1v1h-1zM45 31h1v1h-1zM3 33h1v1h-1zM7 33h1v1h-1zM21 33h1v1h-1zM27 33h1v1h-1zM41 33h1v1h-1zM49 33h1v1h-1zM51 33h1v1h-1zM7 35h1v1h-1zM3 37h1v1h-1zM5 37h1v1h-1zM21 37h1v1h-1zM31 37h1v1h-1zM43 37h1v1h-1zM25 39h1v1h-1zM27 39h1v1h-1zM35 39h1v1h-1zM43 39h1v1h-1zM13 41h1v1h-1zM21 41h1v1h-1zM43 41h1v1h-1zM7 43h1v1h-1zM9 43h1v1h-1zM15 43h1v1h-1zM23 43h1v1h-1zM25 43h1v1h-1zM39 43h1v1h-1zM3 45h1v1h-1zM13 45h1v1h-1zM15 45h1v1h-1zM17 45h1v1h-1zM45 45h1v1h-1zM9 47h1v1h-1zM31 47h1v1h-1zM41 47h1v1h-1zM7 49h1v1h-1zM21 49h1v1h-1zM29 49h1v1h-1zM37 49h1v1h-1zM13 51h1v1h-1zM23 51h1v1h-1zM41 51h1v1h-1zM47 51h1v1h-1zM7 53h1v1h-1zM9 53h1v1h-1zM11 53h1v1h-1zM15 53h1v1h-1zM35 53h1v1h-1zM39 53h1v1h-1zM5 55h1v1h-1zM7 55h1v1h-1zM19 55h1v1h-1zM21 55h1v1h-1zM25 55h1v1h-1zM27 55h1v1h-1zM47 55h1v1h-1zM5 57h1v1h-1zM15 57h1v1h-1zM17 57h1v1h-1zM33 57h1v1h-1zM35 57h1v1h-1zM43 57h1v1h-1zM49 57h1v1h-1zM23 59h1v1h-1zM27 59h1v1h-1zM31 59h1v1h-1zM43 59h1v1h-1zM51 59h1v1h-1zM1 61h1v1h-1zM13 61h1v1h-1zM15 61h1v1h-1zM17 61h1v1h-1zM27 61h1v1h-1zM35 61h1v1h-1zM43 61h1v1h-1zM7 63h1v1h-1zM11 63h1v1h-1zM23 63h1v1h-1zM25 63h1v1h-1zM31 63h1v1h-1zM13 65h1v1h-1zM21 65h1v1h-1zM27 65h1v1h-1zM31 65h1v1h-1zM39 65h1v1h-1zM11 67h1v1h-1zM13 67h1v1h-1zM21 67h1v1h-1zM31 67h1v1h-1zM47 67h1v1h-1zM1 69h1v1h-1zM7 69h1v1h-1zM15 69h1v1h-1zM23 69h1v1h-1zM27 69h1v1h-1zM29 69h1v1h-1zM31 69h1v1h-1zM7 71h1v1h-1zM11 71h1v1h-1zM17 71h1v1h-1zM19 71h1v1h-1zM21 71h1v1h-1zM27 71h1v1h-1zM31 71h1v1h-1zM37 71h1v1h-1zM39 71h1v1h-1zM51 71h1v1h-1zM15 73h1v1h-1zM47 73h1v1h-1zM19 75h1v1h-1zM21 75h1v1h-1zM25 75h1v1h-1zM29 75h1v1h-1zM47 75h1v1h-1zM5 77h1v1h-1zM7 77h1v1h-1zM31 77h1v1h-1zM3 79h1v1h-1zM9 79h1v1h-1zM11 79h1v1h-1zM15 79h1v1h-1zM23 79h1v1h-1zM27 79h1v1h-1zM49 79h1v1h-1z"/><path fill="#69ff00" d="M29 1h1v1h-1zM33 1h1v1h-1zM37 1h1v1h-1zM11 3h1v1h-1zM25 3h1v1h-1zM35 3h1v1h-1zM51 3h1v1h-1zM17 5h1v1h-1zM49 5h1v1h-1zM3 7h1v1h-1zM9 7h1v1h-1zM13 7h1v1h-1zM21 7h1v1h-1zM25 7h1v1h-1zM33 7h1v1h-1zM37 7h1v1h-1zM39 7h1v1h-1zM43 7h1v1h-1zM11 9h1v1h-1zM13 9h1v1h-1zM17 9h1v1h-1zM41 9h1v1h-1zM49 9h1v1h-1zM1 11h1v1h-1zM17 11h1v1h-1zM21 11h1v1h-1zM29 11h1v1h-1zM35 11h1v1h-1zM39 11h1v1h-1zM43 11h1v1h-1zM37 13h1v1h-1zM39 13h1v1h-1zM7 15h1v1h-1zM23 15h1v1h-1zM29 15h1v1h-1zM37 15h1v1h-1zM43 15h1v1h-1zM15 17h1v1h-1zM27 17h1v1h-1zM29 17h1v1h-1zM39 17h1v1h-1zM49 17h1v1h-1zM5 19h1v1h-1zM9 19h1v1h-1zM19 19h1v1h-1zM21 19h1v1h-1zM33 19h1v1h-1zM39 19h1v1h-1zM47 19h1v1h-1zM13 21h1v1h-1zM15 21h1v1h-1zM19 21h1v1h-1zM37 21h1v1h-1zM45 21h1v1h-1zM3 23h1v1h-1zM15 23h1v1h-1zM25 23h1v1h-1zM31 23h1v1h-1zM37 23h1v1h-1zM43 23h1v1h-1zM17 25h1v1h-1zM23 25h1v1h-1zM33 25h1v1h-1zM37 25h1v1h-1zM39 25h1v1h-1zM41 25h1v1h-1zM3 27h1v1h-1zM11 27h1v1h-1zM15 27h1v1h-1zM29 27h1v1h-1zM41 27h1v1h-1zM23 29h1v1h-1zM25 29h1v1h-1zM37 29h1v1h-1zM39 29h1v1h-1zM1 31h1v1h-1zM7 31h1v1h-1zM13 31h1v1h-1zM35 31h1v1h-1zM49 31h1v1h-1zM29 33h1v1h-1zM37 33h1v1h-1zM45 33h1v1h-1zM47 33h1v1h-1zM19 35h1v1h-1zM25 35h1v1h-1zM49 35h1v1h-1zM51 35h1v1h-1zM13 37h1v1h-1zM17 37h1v1h-1zM23 37h1v1h-1zM27 37h1v1h-1zM33 37h1v1h-1zM51 37h1v1h-1zM3 39h1v1h-1zM9 39h1v1h-1zM11 39h1v1h-1zM15 39h1v1h-1zM19 39h1v1h-1zM23 39h1v1h-1zM29 39h1v1h-1zM37 39h1v1h-1zM49 39h1v1h-1zM9 41h1v1h-1zM15 41h1v1h-1zM17 41h1v1h-1zM25 41h1v1h-1zM31 41h1v1h-1zM33 41h1v1h-1zM39 41h1v1h-1zM1 43h1v1h-1zM21 43h1v1h-1zM31 43h1v1h-1zM35 43h1v1h-1zM43 43h1v1h-1zM47 43h1v1h-1zM1 45h1v1h-1zM5 45h1v1h-1zM9 45h1v1h-1zM25 45h1v1h-1zM29 45h1v1h-1zM31 45h1v1h-1zM33 45h1v1h-1zM37 45h1v1h-1zM43 45h1v1h-1zM3 47h1v1h-1zM23 47h1v1h-1zM35 47h1v1h-1zM39 47h1v1h-1zM11 49h1v1h-1zM35 49h1v1h-1zM39 49h1v1h-1zM41 49h1v1h-1zM47 49h1v1h-1zM3 51h1v1h-1zM11 51h1v1h-1zM17 51h1v1h-1zM31 51h1v1h-1zM35 51h1v1h-1zM39 51h1v1h-1zM13 53h1v1h-1zM31 53h1v1h-1zM37 53h1v1h-1zM17 55h1v1h-1zM31 55h1v1h-1zM35 55h1v1h-1zM43 55h1v1h-1zM9 57h1v1h-1zM25 57h1v1h-1zM31 57h1v1h-1zM41 57h1v1h-1zM7 59h1v1h-1zM21 59h1v1h-1zM33 59h1v1h-1zM47 59h1v1h-1zM49 59h1v1h-1zM21 61h1v1h-1zM33 61h1v1h-1zM37 61h1v1h-1zM45 61h1v1h-1zM49 61h1v1h-1zM17 63h1v1h-1zM19 63h1v1h-1zM29 63h1v1h-1zM33 63h1v1h-1zM47 63h1v1h-1zM15 65h1v1h-1zM23 65h1v1h-1zM35 65h1v1h-1zM23 67h1v1h-1zM33 67h1v1h-1zM45 67h1v1h-1zM49 67h1v1h-1zM9 69h1v1h-1zM17 69h1v1h-1zM21 69h1v1h-1zM35 69h1v1h-1zM43 69h1v1h-1zM49 69h1v1h-1zM5 71h1v1h-1zM15 71h1v1h-1zM33 71h1v1h-1zM3 73h1v1h-1zM7 73h1v1h-1zM25 73h1v1h-1zM29 73h1v1h-1zM31 73h1v1h-1zM37 73h1v1h-1zM39 73h1v1h-1zM43 73h1v1h-1zM15 75h1v1h-1zM45 75h1v1h-1zM3 77h1v1h-1zM25 77h1v1h-1zM27 77h1v1h-1zM35 77h1v1h-1zM5 79h1v1h-1zM7 79h1v1h-1zM19 79h1v1h-1zM29 79h1v1h-1zM35 79h1v1h-1zM37 79h1v1h-1zM41 79h1v1h-1zM45 79h1v1h-1zM47 79h1v1h-1z"/><path fill="#99ff00" d="M5 1h1v1h-1zM11 1h1v1h-1zM17 1h1v1h-1zM19 1h1v1h-1zM25 1h1v1h-1zM31 1h1v1h-1zM43 1h1v1h-1zM37 3h1v1h-1zM49 3h1v1h-1zM9 5h1v1h-1zM21 5h1v1h-1zM45 5h1v1h-1zM47 5h1v1h-1zM19 7h1v1h-1zM27 7h1v1h-1zM47 7h1v1h-1zM37 9h1v1h-1zM7 11h1v1h-1zM11 11h1v1h-1zM33 11h1v1h-1zM41 11h1v1h-1zM51 11h1v1h-1zM23 13h1v1h-1zM29 13h1v1h-1zM35 13h1v1h-1zM43 13h1v1h-1zM45 13h1v1h-1zM11 15h1v1h-1zM19 15h1v1h-1zM27 15h1v1h-1zM31 15h1v1h-1zM33 15h1v1h-1zM35 15h1v1h-1zM13 17h1v1h-1zM31 17h1v1h-1zM37 17h1v1h-1zM13 19h1v1h-1zM15 19h1v1h-1zM37 19h1v1h-1zM1 21h1v1h-1zM41 21h1v1h-1zM43 21h1v1h-1zM1 23h1v1h-1zM35 23h1v1h-1zM45 23h1v1h-1zM9 25h1v1h-1zM45 25h1v1h-1zM47 25h1v1h-1zM25 27h1v1h-1zM43 27h1v1h-1zM15 29h1v1h-1zM45 29h1v1h-1zM3 31h1v1h-1zM25 31h1v1h-1zM33 31h1v1h-1zM37 31h1v1h-1zM39 31h1v1h-1zM1 33h1v1h-1zM35 33h1v1h-1zM43 33h1v1h-1zM31 35h1v1h-1zM35 35h1v1h-1zM43 35h1v1h-1zM29 37h1v1h-1zM47 37h1v1h-1zM49 37h1v1h-1zM21 39h1v1h-1zM39 39h1v1h-1zM41 39h1v1h-1zM47 39h1v1h-1zM19 41h1v1h-1zM35 41h1v1h-1zM11 43h1v1h-1zM19 43h1v1h-1zM29 43h1v1h-1zM37 43h1v1h-1zM45 43h1v1h-1zM49 43h1v1h-1zM21 45h1v1h-1zM35 45h1v1h-1zM41 45h1v1h-1zM47 45h1v1h-1zM49 45h1v1h-1zM1 47h1v1h-1zM27 47h1v1h-1zM45 47h1v1h-1zM27 49h1v1h-1zM33 49h1v1h-1zM49 49h1v1h-1zM5 51h1v1h-1zM27 51h1v1h-1zM43 51h1v1h-1zM19 53h1v1h-1zM27 53h1v1h-1zM41 53h1v1h-1zM47 53h1v1h-1zM49 53h1v1h-1zM13 55h1v1h-1zM29 55h1v1h-1zM37 55h1v1h-1zM49 55h1v1h-1zM19 57h1v1h-1zM27 57h1v1h-1zM45 57h1v1h-1zM25 59h1v1h-1zM39 59h1v1h-1zM41 59h1v1h-1zM39 61h1v1h-1zM27 63h1v1h-1zM37 63h1v1h-1zM39 63h1v1h-1zM49 63h1v1h-1zM7 65h1v1h-1zM9 65h1v1h-1zM29 65h1v1h-1zM1 67h1v1h-1zM27 67h1v1h-1zM35 67h1v1h-1zM43 67h1v1h-1zM25 69h1v1h-1zM33 69h1v1h-1zM41 71h1v1h-1zM43 71h1v1h-1zM47 71h1v1h-1zM17 73h1v1h-1zM41 73h1v1h-1zM49 73h1v1h-1zM31 75h1v1h-1zM35 75h1v1h-1zM41 75h1v1h-1zM43 75h1v1h-1zM13 77h1v1h-1zM21 77h1v1h-1zM37 77h1v1h-1zM43 77h1v1h-1z"/><path fill="#ffee00" d="M39 3h1v1h-1zM41 3h1v1h-1zM31 5h1v1h-1zM11 7h1v1h-1zM43 9h1v1h-1zM45 9h1v1h-1zM47 11h1v1h-1zM41 13h1v1h-1zM41 15h1v1h-1zM45 15h1v1h-1zM49 15h1v1h-1zM17 17h1v1h-1zM19 17h1v1h-1zM25 17h1v1h-1zM47 17h1v1h-1zM49 19h1v1h-1zM49 21h1v1h-1zM23 23h1v1h-1zM29 23h1v1h-1zM47 23h1v1h-1zM15 25h1v1h-1zM35 25h1v1h-1zM43 25h1v1h-1zM47 27h1v1h-1zM49 27h1v1h-1zM35 29h1v1h-1zM49 29h1v1h-1zM41 31h1v1h-1zM43 31h1v1h-1zM47 31h1v1h-1zM25 33h1v1h-1zM31 33h1v1h-1zM37 35h1v1h-1zM45 35h1v1h-1zM47 35h1v1h-1zM35 37h1v1h-1zM41 37h1v1h-1zM45 39h1v1h-1zM29 41h1v1h-1zM47 41h1v1h-1zM41 43h1v1h-1zM47 47h1v1h-1zM49 47h1v1h-1zM45 49h1v1h-1zM21 51h1v1h-1zM45 51h1v1h-1zM49 51h1v1h-1zM43 53h1v1h-1zM23 55h1v1h-1zM29 61h1v1h-1zM45 63h1v1h-1zM45 65h1v1h-1zM19 67h1v1h-1zM25 67h1v1h-1zM37 67h1v1h-1zM37 69h1v1h-1zM39 69h1v1h-1zM25 71h1v1h-1zM35 71h1v1h-1zM35 73h1v1h-1zM37 75h1v1h-1zM49 75h1v1h-1zM39 79h1v1h-1zM43 79h1v1h-1z"/><path fill="#ffa700" d="M35 1h1v1h-1zM43 5h1v1h-1zM31 9h1v1h-1zM47 13h1v1h-1zM47 15h1v1h-1zM29 19h1v1h-1zM31 19h1v1h-1zM39 37h1v1h-1zM11 41h1v1h-1zM33 47h1v1h-1zM33 51h1v1h-1zM45 55h1v1h-1zM11 59h1v1h-1zM47 61h1v1h-1zM43 63h1v1h-1zM43 65h1v1h-1zM41 67h1v1h-1zM45 69h1v1h-1zM33 75h1v1h-1z"/><path fill="#ff7700" d="M13 1h1v1h-1zM49 7h1v1h-1zM29 9h1v1h-1zM41 17h1v1h-1zM51 25h1v1h-1zM33 43h1v1h-1zM37 51h1v1h-1zM39 55h1v1h-1z"/><path fill="#ff3000" d="M49 71h1v1h-1z"/><path fill="#0044ff" d="M15 10h1v1h-1zM13 16h1v1h-1zM47 58h1v1h-1z"/><path fill="#00bbff" d="M43 10h1v1h-1zM45 12h1v1h-1zM11 22h1v1h-1zM39 24h1v1h-1zM27 28h1v1h-1zM27 36h1v1h-1zM11 40h1v1h-1zM13 76h1v1h-1z"/><path fill="#00fffc" d="M9 4h1v1h-1zM23 4h1v1h-1zM5 10h1v1h-1zM7 14h1v1h-1zM25 16h1v1h-1zM33 16h1v1h-1zM7 20h1v1h-1zM1 36h1v1h-1zM7 36h1v1h-1zM51 42h1v1h-1zM13 44h1v1h-1zM3 50h1v1h-1zM7 54h1v1h-1zM9 58h1v1h-1zM33 58h1v1h-1zM51 58h1v1h-1zM15 62h1v1h-1zM13 64h1v1h-1zM3 74h1v1h-1zM9 78h1v1h-1zM13 78h1v1h-1z"/><path fill="#00ffcc" d="M13 6h1v1h-1zM51 6h1v1h-1zM7 8h1v1h-1zM9 8h1v1h-1zM15 8h1v1h-1zM1 10h1v1h-1zM45 10h1v1h-1zM9 12h1v1h-1zM5 14h1v1h-1zM39 14h1v1h-1zM7 16h1v1h-1zM19 16h1v1h-1zM31 16h1v1h-1zM9 18h1v1h-1zM21 18h1v1h-1zM5 20h1v1h-1zM51 26h1v1h-1zM23 28h1v1h-1zM25 28h1v1h-1zM3 30h1v1h-1zM9 30h1v1h-1zM7 32h1v1h-1zM9 36h1v1h-1zM5 40h1v1h-1zM19 40h1v1h-1zM45 40h1v1h-1zM9 42h1v1h-1zM15 42h1v1h-1zM21 42h1v1h-1zM51 44h1v1h-1zM7 46h1v1h-1zM9 50h1v1h-1zM13 50h1v1h-1zM15 52h1v1h-1zM39 56h1v1h-1zM51 56h1v1h-1zM3 60h1v1h-1zM17 60h1v1h-1zM19 60h1v1h-1zM51 60h1v1h-1zM9 64h1v1h-1zM1 66h1v1h-1zM5 68h1v1h-1zM13 70h1v1h-1zM17 70h1v1h-1zM11 72h1v1h-1zM13 74h1v1h-1zM19 74h1v1h-1zM5 76h1v1h-1zM11 76h1v1h-1zM35 76h1v1h-1zM3 78h1v1h-1zM7 78h1v1h-1zM29 78h1v1h-1z"/><path fill="#00ff85" d="M5 0h1v1h-1zM25 0h1v1h-1zM41 0h1v1h-1zM43 0h1v1h-1zM7 2h1v1h-1zM17 2h1v1h-1zM21 2h1v1h-1zM37 2h1v1h-1zM39 2h1v1h-1zM5 4h1v1h-1zM11 4h1v1h-1zM25 4h1v1h-1zM41 4h1v1h-1zM51 4h1v1h-1zM33 6h1v1h-1zM3 8h1v1h-1zM5 8h1v1h-1zM51 8h1v1h-1zM7 10h1v1h-1zM49 10h1v1h-1zM51 10h1v1h-1zM1 12h1v1h-1zM17 12h1v1h-1zM11 14h1v1h-1zM3 16h1v1h-1zM41 16h1v1h-1zM1 18h1v1h-1zM3 18h1v1h-1zM19 18h1v1h-1zM31 18h1v1h-1zM9 20h1v1h-1zM25 20h1v1h-1zM5 22h1v1h-1zM9 22h1v1h-1zM27 22h1v1h-1zM47 22h1v1h-1zM49 22h1v1h-1zM11 24h1v1h-1zM17 24h1v1h-1zM45 24h1v1h-1zM17 26h1v1h-1zM31 26h1v1h-1zM1 28h1v1h-1zM11 28h1v1h-1zM1 30h1v1h-1zM21 30h1v1h-1zM51 30h1v1h-1zM17 32h1v1h-1zM19 32h1v1h-1zM5 34h1v1h-1zM27 34h1v1h-1zM51 34h1v1h-1zM5 36h1v1h-1zM13 36h1v1h-1zM15 36h1v1h-1zM25 36h1v1h-1zM3 38h1v1h-1zM9 38h1v1h-1zM3 40h1v1h-1zM9 40h1v1h-1zM49 40h1v1h-1zM51 40h1v1h-1zM7 44h1v1h-1zM19 44h1v1h-1zM9 46h1v1h-1zM25 46h1v1h-1zM27 46h1v1h-1zM37 46h1v1h-1zM7 48h1v1h-1zM13 48h1v1h-1zM31 48h1v1h-1zM1 50h1v1h-1zM7 50h1v1h-1zM11 50h1v1h-1zM23 50h1v1h-1zM1 52h1v1h-1zM5 52h1v1h-1zM7 52h1v1h-1zM17 52h1v1h-1zM13 54h1v1h-1zM29 54h1v1h-1zM31 54h1v1h-1zM49 54h1v1h-1zM3 56h1v1h-1zM23 56h1v1h-1zM17 58h1v1h-1zM5 60h1v1h-1zM31 60h1v1h-1zM37 60h1v1h-1zM3 62h1v1h-1zM9 62h1v1h-1zM11 62h1v1h-1zM17 62h1v1h-1zM21 62h1v1h-1zM49 62h1v1h-1zM1 64h1v1h-1zM33 64h1v1h-1zM51 64h1v1h-1zM11 66h1v1h-1zM7 68h1v1h-1zM9 68h1v1h-1zM21 68h1v1h-1zM35 68h1v1h-1zM9 70h1v1h-1zM19 70h1v1h-1zM29 70h1v1h-1zM33 70h1v1h-1zM35 70h1v1h-1zM37 70h1v1h-1zM51 70h1v1h-1zM1 72h1v1h-1zM5 72h1v1h-1zM25 72h1v1h-1zM35 72h1v1h-1zM1 74h1v1h-1zM9 74h1v1h-1zM27 74h1v1h-1zM37 74h1v1h-1zM1 76h1v1h-1zM9 76h1v1h-1zM17 76h1v1h-1zM21 76h1v1h-1zM5 78h1v1h-1zM51 78h1v1h-1z"/><path fill="#00ff0e" d="M1 0h1v1h-1zM7 0h1v1h-1zM9 0h1v1h-1zM13 0h1v1h-1zM17 0h1v1h-1zM23 0h1v1h-1zM27 0h1v1h-1zM31 0h1v1h-1zM37 0h1v1h-1zM45 0h1v1h-1zM47 0h1v1h-1zM51 0h1v1h-1zM5 2h1v1h-1zM13 2h1v1h-1zM15 2h1v1h-1zM25 2h1v1h-1zM51 2h1v1h-1zM1 4h1v1h-1zM21 4h1v1h-1zM27 4h1v1h-1zM37 4h1v1h-1zM39 4h1v1h-1zM1 6h1v1h-1zM9 6h1v1h-1zM17 6h1v1h-1zM25 6h1v1h-1zM27 6h1v1h-1zM47 6h1v1h-1zM11 8h1v1h-1zM13 8h1v1h-1zM25 8h1v1h-1zM29 8h1v1h-1zM33 8h1v1h-1zM13 10h1v1h-1zM19 10h1v1h-1zM25 10h1v1h-1zM5 12h1v1h-1zM7 12h1v1h-1zM11 12h1v1h-1zM19 12h1v1h-1zM23 12h1v1h-1zM25 12h1v1h-1zM43 12h1v1h-1zM47 12h1v1h-1zM17 14h1v1h-1zM25 14h1v1h-1zM31 14h1v1h-1zM49 14h1v1h-1zM51 14h1v1h-1zM9 16h1v1h-1zM11 16h1v1h-1zM15 16h1v1h-1zM17 16h1v1h-1zM23 16h1v1h-1zM27 16h1v1h-1zM37 16h1v1h-1zM45 16h1v1h-1zM5 18h1v1h-1zM15 18h1v1h-1zM27 18h1v1h-1zM49 18h1v1h-1zM11 20h1v1h-1zM15 20h1v1h-1zM19 20h1v1h-1zM39 20h1v1h-1zM15 22h1v1h-1zM17 22h1v1h-1zM29 22h1v1h-1zM31 22h1v1h-1zM1 24h1v1h-1zM5 24h1v1h-1zM1 26h1v1h-1zM13 26h1v1h-1zM15 26h1v1h-1zM21 26h1v1h-1zM29 26h1v1h-1zM37 26h1v1h-1zM39 26h1v1h-1zM5 28h1v1h-1zM9 28h1v1h-1zM29 28h1v1h-1zM37 28h1v1h-1zM7 30h1v1h-1zM11 30h1v1h-1zM13 30h1v1h-1zM15 30h1v1h-1zM19 30h1v1h-1zM33 30h1v1h-1zM47 30h1v1h-1zM9 32h1v1h-1zM13 32h1v1h-1zM23 32h1v1h-1zM31 32h1v1h-1zM49 32h1v1h-1zM1 34h1v1h-1zM13 34h1v1h-1zM15 34h1v1h-1zM17 34h1v1h-1zM23 34h1v1h-1zM29 34h1v1h-1zM11 38h1v1h-1zM17 38h1v1h-1zM31 38h1v1h-1zM25 40h1v1h-1zM29 40h1v1h-1zM7 42h1v1h-1zM11 42h1v1h-1zM33 42h1v1h-1zM35 42h1v1h-1zM3 44h1v1h-1zM5 44h1v1h-1zM17 44h1v1h-1zM45 44h1v1h-1zM1 46h1v1h-1zM15 46h1v1h-1zM21 46h1v1h-1zM29 46h1v1h-1zM45 46h1v1h-1zM47 46h1v1h-1zM3 48h1v1h-1zM5 48h1v1h-1zM15 48h1v1h-1zM17 48h1v1h-1zM19 48h1v1h-1zM25 48h1v1h-1zM27 48h1v1h-1zM29 48h1v1h-1zM43 48h1v1h-1zM15 50h1v1h-1zM17 50h1v1h-1zM45 50h1v1h-1zM47 50h1v1h-1zM51 50h1v1h-1zM19 52h1v1h-1zM31 52h1v1h-1zM5 54h1v1h-1zM19 54h1v1h-1zM11 56h1v1h-1zM21 56h1v1h-1zM49 56h1v1h-1zM3 58h1v1h-1zM5 58h1v1h-1zM13 58h1v1h-1zM19 58h1v1h-1zM25 58h1v1h-1zM27 58h1v1h-1zM1 60h1v1h-1zM9 60h1v1h-1zM13 60h1v1h-1zM21 60h1v1h-1zM25 60h1v1h-1zM29 60h1v1h-1zM33 60h1v1h-1zM41 60h1v1h-1zM5 62h1v1h-1zM23 62h1v1h-1zM33 62h1v1h-1zM3 64h1v1h-1zM15 64h1v1h-1zM17 64h1v1h-1zM19 64h1v1h-1zM19 66h1v1h-1zM23 66h1v1h-1zM25 66h1v1h-1zM33 66h1v1h-1zM11 68h1v1h-1zM13 68h1v1h-1zM15 68h1v1h-1zM31 68h1v1h-1zM45 68h1v1h-1zM7 70h1v1h-1zM15 70h1v1h-1zM23 70h1v1h-1zM25 70h1v1h-1zM7 72h1v1h-1zM15 72h1v1h-1zM17 72h1v1h-1zM29 72h1v1h-1zM5 74h1v1h-1zM27 76h1v1h-1zM37 76h1v1h-1zM43 76h1v1h-1zM49 76h1v1h-1zM51 76h1v1h-1zM15 78h1v1h-1zM17 78h1v1h-1zM33 78h1v1h-1zM35 78h1v1h-1zM43 78h1v1h-1zM47 78h1v1h-1z"/><path fill="#22ff00" d="M11 0h1v1h-1zM15 0h1v1h-1zM19 0h1v1h-1zM21 0h1v1h-1zM29 0h1v1h-1zM33 0h1v1h-1zM39 0h1v1h-1zM3 2h1v1h-1zM9 2h1v1h-1zM23 2h1v1h-1zM35 2h1v1h-1zM49 2h1v1h-1zM7 4h1v1h-1zM13 4h1v1h-1zM15 4h1v1h-1zM19 4h1v1h-1zM29 4h1v1h-1zM3 6h1v1h-1zM11 6h1v1h-1zM19 6h1v1h-1zM21 6h1v1h-1zM29 6h1v1h-1zM31 6h1v1h-1zM49 6h1v1h-1zM17 8h1v1h-1zM19 8h1v1h-1zM27 8h1v1h-1zM37 8h1v1h-1zM45 8h1v1h-1zM3 10h1v1h-1zM9 10h1v1h-1zM11 10h1v1h-1zM27 10h1v1h-1zM31 10h1v1h-1zM35 10h1v1h-1zM37 10h1v1h-1zM47 10h1v1h-1zM15 12h1v1h-1zM35 12h1v1h-1zM1 14h1v1h-1zM3 14h1v1h-1zM9 14h1v1h-1zM19 14h1v1h-1zM27 14h1v1h-1zM35 14h1v1h-1zM37 14h1v1h-1zM47 14h1v1h-1zM1 16h1v1h-1zM5 16h1v1h-1zM21 16h1v1h-1zM29 16h1v1h-1zM47 16h1v1h-1zM49 16h1v1h-1zM35 18h1v1h-1zM39 18h1v1h-1zM43 18h1v1h-1zM51 18h1v1h-1zM1 20h1v1h-1zM23 20h1v1h-1zM47 20h1v1h-1zM51 20h1v1h-1zM1 22h1v1h-1zM3 22h1v1h-1zM13 22h1v1h-1zM23 22h1v1h-1zM25 22h1v1h-1zM45 22h1v1h-1zM51 22h1v1h-1zM19 24h1v1h-1zM21 24h1v1h-1zM29 24h1v1h-1zM35 24h1v1h-1zM3 26h1v1h-1zM7 26h1v1h-1zM9 26h1v1h-1zM11 26h1v1h-1zM19 26h1v1h-1zM25 26h1v1h-1zM35 26h1v1h-1zM43 26h1v1h-1zM49 26h1v1h-1zM3 28h1v1h-1zM7 28h1v1h-1zM15 28h1v1h-1zM17 28h1v1h-1zM19 28h1v1h-1zM33 28h1v1h-1zM35 28h1v1h-1zM45 28h1v1h-1zM51 28h1v1h-1zM5 30h1v1h-1zM17 30h1v1h-1zM25 30h1v1h-1zM35 30h1v1h-1zM37 30h1v1h-1zM39 30h1v1h-1zM43 30h1v1h-1zM45 30h1v1h-1zM49 30h1v1h-1zM1 32h1v1h-1zM11 32h1v1h-1zM15 32h1v1h-1zM21 32h1v1h-1zM27 32h1v1h-1zM11 34h1v1h-1zM19 34h1v1h-1zM21 34h1v1h-1zM35 34h1v1h-1zM3 36h1v1h-1zM19 36h1v1h-1zM21 36h1v1h-1zM23 36h1v1h-1zM29 36h1v1h-1zM33 36h1v1h-1zM43 36h1v1h-1zM45 36h1v1h-1zM5 38h1v1h-1zM13 38h1v1h-1zM15 38h1v1h-1zM25 38h1v1h-1zM27 38h1v1h-1zM29 38h1v1h-1zM37 38h1v1h-1zM47 38h1v1h-1zM17 40h1v1h-1zM31 40h1v1h-1zM35 40h1v1h-1zM39 40h1v1h-1zM3 42h1v1h-1zM5 42h1v1h-1zM23 42h1v1h-1zM25 42h1v1h-1zM27 42h1v1h-1zM29 42h1v1h-1zM39 42h1v1h-1zM41 42h1v1h-1zM43 42h1v1h-1zM47 42h1v1h-1zM11 44h1v1h-1zM15 44h1v1h-1zM21 44h1v1h-1zM3 46h1v1h-1zM5 46h1v1h-1zM17 46h1v1h-1zM19 46h1v1h-1zM43 46h1v1h-1zM11 48h1v1h-1zM33 48h1v1h-1zM35 48h1v1h-1zM39 48h1v1h-1zM45 48h1v1h-1zM51 48h1v1h-1zM21 50h1v1h-1zM25 50h1v1h-1zM29 50h1v1h-1zM31 50h1v1h-1zM33 50h1v1h-1zM39 50h1v1h-1zM3 52h1v1h-1zM11 52h1v1h-1zM13 52h1v1h-1zM23 52h1v1h-1zM29 52h1v1h-1zM39 52h1v1h-1zM45 52h1v1h-1zM47 52h1v1h-1zM1 54h1v1h-1zM11 54h1v1h-1zM21 54h1v1h-1zM25 54h1v1h-1zM27 54h1v1h-1zM33 54h1v1h-1zM37 54h1v1h-1zM39 54h1v1h-1zM45 54h1v1h-1zM51 54h1v1h-1zM1 56h1v1h-1zM9 56h1v1h-1zM13 56h1v1h-1zM17 56h1v1h-1zM25 56h1v1h-1zM29 56h1v1h-1zM31 56h1v1h-1zM35 56h1v1h-1zM37 56h1v1h-1zM7 58h1v1h-1zM11 58h1v1h-1zM15 58h1v1h-1zM21 58h1v1h-1zM23 58h1v1h-1zM29 58h1v1h-1zM43 58h1v1h-1zM45 58h1v1h-1zM49 58h1v1h-1zM15 60h1v1h-1zM23 60h1v1h-1zM43 60h1v1h-1zM1 62h1v1h-1zM13 62h1v1h-1zM31 62h1v1h-1zM37 62h1v1h-1zM47 62h1v1h-1zM5 64h1v1h-1zM11 64h1v1h-1zM31 64h1v1h-1zM39 64h1v1h-1zM49 64h1v1h-1zM7 66h1v1h-1zM27 66h1v1h-1zM29 66h1v1h-1zM35 66h1v1h-1zM39 66h1v1h-1zM49 66h1v1h-1zM51 66h1v1h-1zM1 68h1v1h-1zM23 68h1v1h-1zM25 68h1v1h-1zM29 68h1v1h-1zM49 68h1v1h-1zM51 68h1v1h-1zM1 70h1v1h-1zM5 70h1v1h-1zM31 70h1v1h-1zM3 72h1v1h-1zM9 72h1v1h-1zM13 72h1v1h-1zM19 72h1v1h-1zM37 72h1v1h-1zM41 72h1v1h-1zM43 72h1v1h-1zM51 72h1v1h-1zM7 74h1v1h-1zM15 74h1v1h-1zM23 74h1v1h-1zM25 74h1v1h-1zM29 74h1v1h-1zM43 74h1v1h-1zM49 74h1v1h-1zM3 76h1v1h-1zM41 76h1v1h-1zM23 78h1v1h-1zM25 78h1v1h-1zM27 78h1v1h-1z"/><path fill="#69ff00" d="M3 0h1v1h-1zM35 0h1v1h-1zM49 0h1v1h-1zM11 2h1v1h-1zM27 2h1v1h-1zM31 2h1v1h-1zM33 2h1v1h-1zM41 2h1v1h-1zM31 4h1v1h-1zM35 4h1v1h-1zM43 4h1v1h-1zM47 4h1v1h-1zM7 6h1v1h-1zM35 6h1v1h-1zM37 6h1v1h-1zM39 6h1v1h-1zM41 6h1v1h-1zM45 6h1v1h-1zM1 8h1v1h-1zM21 8h1v1h-1zM35 8h1v1h-1zM39 8h1v1h-1zM41 8h1v1h-1zM47 8h1v1h-1zM49 8h1v1h-1zM17 10h1v1h-1zM21 10h1v1h-1zM23 10h1v1h-1zM39 10h1v1h-1zM41 10h1v1h-1zM3 12h1v1h-1zM13 12h1v1h-1zM27 12h1v1h-1zM31 12h1v1h-1zM37 12h1v1h-1zM39 12h1v1h-1zM13 14h1v1h-1zM15 14h1v1h-1zM21 14h1v1h-1zM29 14h1v1h-1zM33 14h1v1h-1zM43 14h1v1h-1zM39 16h1v1h-1zM43 16h1v1h-1zM51 16h1v1h-1zM11 18h1v1h-1zM13 18h1v1h-1zM23 18h1v1h-1zM33 18h1v1h-1zM37 18h1v1h-1zM45 18h1v1h-1zM13 20h1v1h-1zM17 20h1v1h-1zM21 20h1v1h-1zM29 20h1v1h-1zM33 20h1v1h-1zM35 20h1v1h-1zM7 22h1v1h-1zM21 22h1v1h-1zM37 22h1v1h-1zM3 24h1v1h-1zM7 24h1v1h-1zM9 24h1v1h-1zM13 24h1v1h-1zM15 24h1v1h-1zM23 24h1v1h-1zM25 24h1v1h-1zM31 24h1v1h-1zM41 24h1v1h-1zM51 24h1v1h-1zM5 26h1v1h-1zM47 26h1v1h-1zM13 28h1v1h-1zM21 28h1v1h-1zM31 28h1v1h-1zM39 28h1v1h-1zM41 28h1v1h-1zM27 30h1v1h-1zM29 30h1v1h-1zM5 32h1v1h-1zM29 32h1v1h-1zM35 32h1v1h-1zM41 32h1v1h-1zM43 32h1v1h-1zM45 32h1v1h-1zM47 32h1v1h-1zM51 32h1v1h-1zM7 34h1v1h-1zM9 34h1v1h-1zM25 34h1v1h-1zM31 34h1v1h-1zM33 34h1v1h-1zM47 34h1v1h-1zM11 36h1v1h-1zM31 36h1v1h-1zM35 36h1v1h-1zM37 36h1v1h-1zM41 36h1v1h-1zM49 36h1v1h-1zM51 36h1v1h-1zM1 38h1v1h-1zM19 38h1v1h-1zM35 38h1v1h-1zM43 38h1v1h-1zM7 40h1v1h-1zM15 40h1v1h-1zM21 40h1v1h-1zM23 40h1v1h-1zM47 40h1v1h-1zM1 42h1v1h-1zM13 42h1v1h-1zM17 42h1v1h-1zM19 42h1v1h-1zM31 42h1v1h-1zM45 42h1v1h-1zM49 42h1v1h-1zM1 44h1v1h-1zM23 44h1v1h-1zM27 44h1v1h-1zM29 44h1v1h-1zM33 44h1v1h-1zM35 44h1v1h-1zM49 44h1v1h-1zM13 46h1v1h-1zM31 46h1v1h-1zM33 46h1v1h-1zM35 46h1v1h-1zM51 46h1v1h-1zM9 48h1v1h-1zM41 48h1v1h-1zM49 48h1v1h-1zM5 50h1v1h-1zM27 50h1v1h-1zM35 50h1v1h-1zM9 52h1v1h-1zM25 52h1v1h-1zM27 52h1v1h-1zM33 52h1v1h-1zM35 52h1v1h-1zM37 52h1v1h-1zM49 52h1v1h-1zM51 52h1v1h-1zM9 54h1v1h-1zM17 54h1v1h-1zM23 54h1v1h-1zM47 54h1v1h-1zM7 56h1v1h-1zM15 56h1v1h-1zM19 56h1v1h-1zM27 56h1v1h-1zM43 56h1v1h-1zM47 56h1v1h-1zM31 58h1v1h-1zM35 58h1v1h-1zM39 58h1v1h-1zM7 60h1v1h-1zM11 60h1v1h-1zM35 60h1v1h-1zM39 60h1v1h-1zM47 60h1v1h-1zM49 60h1v1h-1zM7 62h1v1h-1zM41 62h1v1h-1zM43 62h1v1h-1zM51 62h1v1h-1zM7 64h1v1h-1zM35 64h1v1h-1zM41 64h1v1h-1zM43 64h1v1h-1zM3 66h1v1h-1zM5 66h1v1h-1zM9 66h1v1h-1zM17 66h1v1h-1zM21 66h1v1h-1zM37 66h1v1h-1zM41 66h1v1h-1zM43 66h1v1h-1zM45 66h1v1h-1zM3 68h1v1h-1zM19 68h1v1h-1zM27 68h1v1h-1zM33 68h1v1h-1zM37 68h1v1h-1zM39 68h1v1h-1zM41 68h1v1h-1zM43 68h1v1h-1zM47 68h1v1h-1zM3 70h1v1h-1zM27 70h1v1h-1zM39 70h1v1h-1zM49 70h1v1h-1zM21 72h1v1h-1zM23 72h1v1h-1zM31 72h1v1h-1zM33 72h1v1h-1zM45 72h1v1h-1zM47 72h1v1h-1zM11 74h1v1h-1zM21 74h1v1h-1zM35 74h1v1h-1zM41 74h1v1h-1zM7 76h1v1h-1zM19 76h1v1h-1zM25 76h1v1h-1zM33 76h1v1h-1zM39 76h1v1h-1zM1 78h1v1h-1zM11 78h1v1h-1zM19 78h1v1h-1zM37 78h1v1h-1z"/><path fill="#99ff00" d="M19 2h1v1h-1zM29 2h1v1h-1zM43 2h1v1h-1zM45 2h1v1h-1zM3 4h1v1h-1zM33 4h1v1h-1zM45 4h1v1h-1zM15 6h1v1h-1zM23 6h1v1h-1zM23 8h1v1h-1zM31 8h1v1h-1zM29 10h1v1h-1zM33 10h1v1h-1zM21 12h1v1h-1zM33 12h1v1h-1zM23 14h1v1h-1zM41 14h1v1h-1zM45 14h1v1h-1zM35 16h1v1h-1zM7 18h1v1h-1zM17 18h1v1h-1zM29 18h1v1h-1zM41 18h1v1h-1zM47 18h1v1h-1zM3 20h1v1h-1zM27 20h1v1h-1zM31 20h1v1h-1zM37 20h1v1h-1zM49 20h1v1h-1zM35 22h1v1h-1zM41 22h1v1h-1zM43 22h1v1h-1zM33 24h1v1h-1zM47 24h1v1h-1zM27 26h1v1h-1zM41 26h1v1h-1zM41 30h1v1h-1zM3 32h1v1h-1zM33 32h1v1h-1zM37 32h1v1h-1zM3 34h1v1h-1zM37 34h1v1h-1zM39 34h1v1h-1zM41 34h1v1h-1zM43 34h1v1h-1zM49 34h1v1h-1zM17 36h1v1h-1zM39 36h1v1h-1zM7 38h1v1h-1zM21 38h1v1h-1zM23 38h1v1h-1zM41 38h1v1h-1zM45 38h1v1h-1zM51 38h1v1h-1zM1 40h1v1h-1zM27 40h1v1h-1zM33 40h1v1h-1zM37 40h1v1h-1zM9 44h1v1h-1zM31 44h1v1h-1zM37 44h1v1h-1zM39 44h1v1h-1zM41 44h1v1h-1zM43 44h1v1h-1zM11 46h1v1h-1zM49 46h1v1h-1zM21 48h1v1h-1zM23 48h1v1h-1zM47 48h1v1h-1zM19 50h1v1h-1zM43 50h1v1h-1zM49 50h1v1h-1zM21 52h1v1h-1zM3 54h1v1h-1zM15 54h1v1h-1zM5 56h1v1h-1zM33 56h1v1h-1zM41 56h1v1h-1zM45 56h1v1h-1zM1 58h1v1h-1zM37 58h1v1h-1zM27 60h1v1h-1zM19 62h1v1h-1zM25 62h1v1h-1zM35 62h1v1h-1zM45 62h1v1h-1zM21 64h1v1h-1zM23 64h1v1h-1zM25 64h1v1h-1zM27 64h1v1h-1zM29 64h1v1h-1zM37 64h1v1h-1zM45 64h1v1h-1zM47 64h1v1h-1zM13 66h1v1h-1zM15 66h1v1h-1zM31 66h1v1h-1zM47 66h1v1h-1zM17 68h1v1h-1zM41 70h1v1h-1zM45 70h1v1h-1zM47 70h1v1h-1zM39 72h1v1h-1zM17 74h1v1h-1zM31 74h1v1h-1zM33 74h1v1h-1zM39 74h1v1h-1zM15 76h1v1h-1zM29 76h1v1h-1zM31 76h1v1h-1zM45 76h1v1h-1zM47 76h1v1h-1zM21 78h1v1h-1zM31 78h1v1h-1z"/><path fill="#ffee00" d="M1 2h1v1h-1zM49 4h1v1h-1zM5 6h1v1h-1zM43 6h1v1h-1zM43 8h1v1h-1zM29 12h1v1h-1zM41 12h1v1h-1zM51 12h1v1h-1zM25 18h1v1h-1zM43 20h1v1h-1zM45 20h1v1h-1zM19 22h1v1h-1zM33 22h1v1h-1zM27 24h1v1h-1zM37 24h1v1h-1zM49 24h1v1h-1zM23 26h1v1h-1zM33 26h1v1h-1zM45 26h1v1h-1zM43 28h1v1h-1zM47 28h1v1h-1zM49 28h1v1h-1zM23 30h1v1h-1zM31 30h1v1h-1zM25 32h1v1h-1zM33 38h1v1h-1zM39 38h1v1h-1zM49 38h1v1h-1zM13 40h1v1h-1zM43 40h1v1h-1zM37 42h1v1h-1zM41 46h1v1h-1zM1 48h1v1h-1zM37 48h1v1h-1zM41 50h1v1h-1zM41 52h1v1h-1zM35 54h1v1h-1zM41 54h1v1h-1zM43 54h1v1h-1zM45 60h1v1h-1zM27 62h1v1h-1zM29 62h1v1h-1zM39 62h1v1h-1zM11 70h1v1h-1zM21 70h1v1h-1zM43 70h1v1h-1zM27 72h1v1h-1zM49 72h1v1h-1zM51 74h1v1h-1zM39 78h1v1h-1zM41 78h1v1h-1zM45 78h1v1h-1z"/><path fill="#ffa700" d="M47 2h1v1h-1zM17 4h1v1h-1zM49 12h1v1h-1zM41 20h1v1h-1zM39 22h1v1h-1zM43 24h1v1h-1zM45 34h1v1h-1zM41 40h1v1h-1zM25 44h1v1h-1zM23 46h1v1h-1zM39 46h1v1h-1zM43 52h1v1h-1zM41 58h1v1h-1zM47 74h1v1h-1zM23 76h1v1h-1zM49 78h1v1h-1z"/><path fill="#ff7700" d="M47 44h1v1h-1zM37 50h1v1h-1zM45 74h1v1h-1z"/><path fill="#ff3000" d="M39 32h1v1h-1zM47 36h1v1h-1z"/></g>
<rect x="188.6" y="136.4" width="7.5" height="5.1" fill="#6300ff"/><rect x="188.6" y="131.3" width="7.5" height="5.1" fill="#3300ff"/><rect x="188.6" y="126.2" width="7.5" height="5.1" fill="#0014ff"/><rect x="188.6" y="121.1" width="7.5" height="5.1" fill="#0044ff"/><rect x="188.6" y="116" width="7.5" height="5.1" fill="#008bff"/><rect x="188.6" y="110.9" width="7.5" height="5.1" fill="#00bbff"/><rect x="188.6" y="105.8" width="7.5" height="5.1" fill="#00fffc"/><rect x="188.6" y="100.7" width="7.5" height="5.1" fill="#00ffcc"/><rect x="188.6" y="95.6" width="7.5" height="5.1" fill="#00ff85"/><rect x="188.6" y="90.5" width="7.5" height="5.1" fill="#00ff55"/><rect x="188.6" y="85.4" width="7.5" height="5.1" fill="#00ff0e"/><rect x="188.6" y="80.3" width="7.5" height="5.1" fill="#22ff00"/><rect x="188.6" y="75.2" width="7.5" height="5.1" fill="#69ff00"/><rect x="188.6" y="70.1" width="7.5" height="5.1" fill="#99ff00"/><rect x="188.6" y="65" width="7.5" height="5.1" fill="#e0ff00"/><rect x="188.6" y="59.9" width="7.5" height="5.1" fill="#ffee00"/><rect x="188.6" y="54.8" width="7.5" height="5.1" fill="#ffa700"/><rect x="188.6" y="49.7" width="7.5" height="5.1" fill="#ff7700"/><rect x="188.6" y="44.6" width="7.5" height="5.1" fill="#ff3000"/><rect x="188.6" y="39.5" width="7.5" height="5.1" fill="#ff0000"/>
<text transform="translate(196.6 142.9) scale(1.3 1)" font-size="3.9" font-weight="bold" font-family="Liberation Sans" stroke="#000" stroke-width="0.22">0</text>
<text transform="translate(196.6 132.7) scale(1.3 1)" font-size="3.9" font-weight="bold" font-family="Liberation Sans" stroke="#000" stroke-width="0.22">1</text>
<text transform="translate(196.6 122.5) scale(1.3 1)" font-size="3.9" font-weight="bold" font-family="Liberation Sans" stroke="#000" stroke-width="0.22">2</text>
<text transform="translate(196.6 112.3) scale(1.3 1)" font-size="3.9" font-weight="bold" font-family="Liberation Sans" stroke="#000" stroke-width="0.22">3</text>
<text transform="translate(196.6 102.1) scale(1.3 1)" font-size="3.9" font-weight="bold" font-family="Liberation Sans" stroke="#000" stroke-width="0.22">4</text>
<text transform="translate(196.6 91.9) scale(1.3 1)" font-size="3.9" font-weight="bold" font-family="Liberation Sans" stroke="#000" stroke-width="0.22">5</text>
<text transform="translate(196.6 81.7) scale(1.3 1)" font-size="3.9" font-weight="bold" font-family="Liberation Sans" stroke="#000" stroke-width="0.22">6</text>
<text transform="translate(196.6 71.5) scale(1.3 1)" font-size="3.9" font-weight="bold" font-family="Liberation Sans" stroke="#000" stroke-width="0.22">7</text>
<text transform="translate(196.6 61.3) scale(1.3 1)" font-size="3.9" font-weight="bold" font-family="Liberation Sans" stroke="#000" stroke-width="0.22">8</text>
<text transform="translate(196.6 51.1) scale(1.3 1)" font-size="3.9" font-weight="bold" font-family="Liberation Sans" stroke="#000" stroke-width="0.22">9</text>
<text transform="translate(196.6 40.9) scale(1.3 1)" font-size="3.9" font-weight="bold" font-family="Liberation Sans" stroke="#000" stroke-width="0.22">10</text>
<path d="M192.3 141.5H196.1M192.3 131.3H196.1M192.3 121.1H196.1M192.3 110.9H196.1M192.3 100.7H196.1M192.3 90.5H196.1M192.3 80.3H196.1M192.3 70.1H196.1M192.3 59.9H196.1M192.3 49.7H196.1M192.3 39.5H196.1" stroke="#000" stroke-opacity="0.75" stroke-width="0.8" fill="none"/>
<path d="M196.55 39.5L196.55 141.8" stroke="#000" stroke-width="0.9"/>
<rect x="188.6" y="274.4" width="7.5" height="5.1" fill="#6300ff"/><rect x="188.6" y="269.3" width="7.5" height="5.1" fill="#3300ff"/><rect x="188.6" y="264.2" width="7.5" height="5.1" fill="#0014ff"/><rect x="188.6" y="259.1" width="7.5" height="5.1" fill="#0044ff"/><rect x="188.6" y="254" width="7.5" height="5.1" fill="#008bff"/><rect x="188.6" y="248.9" width="7.5" height="5.1" fill="#00bbff"/><rect x="188.6" y="243.8" width="7.5" height="5.1" fill="#00fffc"/><rect x="188.6" y="238.7" width="7.5" height="5.1" fill="#00ffcc"/><rect x="188.6" y="233.6" width="7.5" height="5.1" fill="#00ff85"/><rect x="188.6" y="228.5" width="7.5" height="5.1" fill="#00ff55"/><rect x="188.6" y="223.4" width="7.5" height="5.1" fill="#00ff0e"/><rect x="188.6" y="218.3" width="7.5" height="5.1" fill="#22ff00"/><rect x="188.6" y="213.2" width="7.5" height="5.1" fill="#69ff00"/><rect x="188.6" y="208.1" width="7.5" height="5.1" fill="#99ff00"/><rect x="188.6" y="203" width="7.5" height="5.1" fill="#e0ff00"/><rect x="188.6" y="197.9" width="7.5" height="5.1" fill="#ffee00"/><rect x="188.6" y="192.8" width="7.5" height="5.1" fill="#ffa700"/><rect x="188.6" y="187.7" width="7.5" height="5.1" fill="#ff7700"/><rect x="188.6" y="182.6" width="7.5" height="5.1" fill="#ff3000"/><rect x="188.6" y="177.5" width="7.5" height="5.1" fill="#ff0000"/>
<text transform="translate(196.6 280.9) scale(1.3 1)" font-size="3.9" font-weight="bold" font-family="Liberation Sans" stroke="#000" stroke-width="0.22">-2</text>
<text transform="translate(196.6 268.15) scale(1.3 1)" font-size="3.9" font-weight="bold" font-family="Liberation Sans" stroke="#000" stroke-width="0.22">-1.5</text>
<text transform="translate(196.6 255.4) scale(1.3 1)" font-size="3.9" font-weight="bold" font-family="Liberation Sans" stroke="#000" stroke-width="0.22">-1</text>
<text transform="translate(196.6 242.65) scale(1.3 1)" font-size="3.9" font-weight="bold" font-family="Liberation Sans" stroke="#000" stroke-width="0.22">-0.5</text>
<text transform="translate(196.6 229.9) scale(1.3 1)" font-size="3.9" font-weight="bold" font-family="Liberation Sans" stroke="#000" stroke-width="0.22">0</text>
<text transform="translate(196.6 217.15) scale(1.3 1)" font-size="3.9" font-weight="bold" font-family="Liberation Sans" stroke="#000" stroke-width="0.22">0.5</text>
<text transform="translate(196.6 204.4) scale(1.3 1)" font-size="3.9" font-weight="bold" font-family="Liberation Sans" stroke="#000" stroke-width="0.22">1</text>
<text transform="translate(196.6 191.65) scale(1.3 1)" font-size="3.9" font-weight="bold" font-family="Liberation Sans" stroke="#000" stroke-width="0.22">1.5</text>
<text transform="translate(196.6 178.9) scale(1.3 1)" font-size="3.9" font-weight="bold" font-family="Liberation Sans" stroke="#000" stroke-width="0.22">2</text>
<path d="M192.3 279.5H196.1M192.3 266.75H196.1M192.3 254H196.1M192.3 241.25H196.1M192.3 228.5H196.1M192.3 215.75H196.1M192.3 203H196.1M192.3 190.25H196.1M192.3 177.5H196.1" stroke="#000" stroke-opacity="0.75" stroke-width="0.8" fill="none"/>
<path d="M196.55 177.5L196.55 279.8" stroke="#000" stroke-width="0.9"/>
<rect x="188.6" y="412.4" width="7.5" height="5.1" fill="#6300ff"/><rect x="188.6" y="407.3" width="7.5" height="5.1" fill="#3300ff"/><rect x="188.6" y="402.2" width="7.5" height="5.1" fill="#0014ff"/><rect x="188.6" y="397.1" width="7.5" height="5.1" fill="#0044ff"/><rect x="188.6" y="392" width="7.5" height="5.1" fill="#008bff"/><rect x="188.6" y="386.9" width="7.5" height="5.1" fill="#00bbff"/><rect x="188.6" y="381.8" width="7.5" height="5.1" fill="#00fffc"/><rect x="188.6" y="376.7" width="7.5" height="5.1" fill="#00ffcc"/><rect x="188.6" y="371.6" width="7.5" height="5.1" fill="#00ff85"/><rect x="188.6" y="366.5" width="7.5" height="5.1" fill="#00ff55"/><rect x="188.6" y="361.4" width="7.5" height="5.1" fill="#00ff0e"/><rect x="188.6" y="356.3" width="7.5" height="5.1" fill="#22ff00"/><rect x="188.6" y="351.2" width="7.5" height="5.1" fill="#69ff00"/><rect x="188.6" y="346.1" width="7.5" height="5.1" fill="#99ff00"/><rect x="188.6" y="341" width="7.5" height="5.1" fill="#e0ff00"/><rect x="188.6" y="335.9" width="7.5" height="5.1" fill="#ffee00"/><rect x="188.6" y="330.8" width="7.5" height="5.1" fill="#ffa700"/><rect x="188.6" y="325.7" width="7.5" height="5.1" fill="#ff7700"/><rect x="188.6" y="320.6" width="7.5" height="5.1" fill="#ff3000"/><rect x="188.6" y="315.5" width="7.5" height="5.1" fill="#ff0000"/>
<text transform="translate(196.6 418.9) scale(1.3 1)" font-size="3.9" font-weight="bold" font-family="Liberation Sans" stroke="#000" stroke-width="0.22">0</text>
<text transform="translate(196.6 408.7) scale(1.3 1)" font-size="3.9" font-weight="bold" font-family="Liberation Sans" stroke="#000" stroke-width="0.22">0.1</text>
<text transform="translate(196.6 398.5) scale(1.3 1)" font-size="3.9" font-weight="bold" font-family="Liberation Sans" stroke="#000" stroke-width="0.22">0.2</text>
<text transform="translate(196.6 388.3) scale(1.3 1)" font-size="3.9" font-weight="bold" font-family="Liberation Sans" stroke="#000" stroke-width="0.22">0.3</text>
<text transform="translate(196.6 378.1) scale(1.3 1)" font-size="3.9" font-weight="bold" font-family="Liberation Sans" stroke="#000" stroke-width="0.22">0.4</text>
<text transform="translate(196.6 367.9) scale(1.3 1)" font-size="3.9" font-weight="bold" font-family="Liberation Sans" stroke="#000" stroke-width="0.22">0.5</text>
<text transform="translate(196.6 357.7) scale(1.3 1)" font-size="3.9" font-weight="bold" font-family="Liberation Sans" stroke="#000" stroke-width="0.22">0.6</text>
<text transform="translate(196.6 347.5) scale(1.3 1)" font-size="3.9" font-weight="bold" font-family="Liberation Sans" stroke="#000" stroke-width="0.22">0.7</text>
<text transform="translate(196.6 337.3) scale(1.3 1)" font-size="3.9" font-weight="bold" font-family="Liberation Sans" stroke="#000" stroke-width="0.22">0.8</text>
<text transform="translate(196.6 327.1) scale(1.3 1)" font-size="3.9" font-weight="bold" font-family="Liberation Sans" stroke="#000" stroke-width="0.22">0.9</text>
<text transform="translate(196.6 316.9) scale(1.3 1)" font-size="3.9" font-weight="bold" font-family="Liberation Sans" stroke="#000" stroke-width="0.22">1</text>
<path d="M192.3 417.5H196.1M192.3 407.3H196.1M192.3 397.1H196.1M192.3 386.9H196.1M192.3 376.7H196.1M192.3 366.5H196.1M192.3 356.3H196.1M192.3 346.1H196.1M192.3 335.9H196.1M192.3 325.7H196.1M192.3 315.5H196.1" stroke="#000" stroke-opacity="0.75" stroke-width="0.8" fill="none"/>
<path d="M196.55 315.5L196.55 417.8" stroke="#000" stroke-width="0.9"/>
<rect x="188.6" y="550.52" width="7.5" height="5.08" fill="#6300ff"/><rect x="188.6" y="545.45" width="7.5" height="5.08" fill="#3300ff"/><rect x="188.6" y="540.38" width="7.5" height="5.08" fill="#0014ff"/><rect x="188.6" y="535.3" width="7.5" height="5.08" fill="#0044ff"/><rect x="188.6" y="530.23" width="7.5" height="5.08" fill="#008bff"/><rect x="188.6" y="525.15" width="7.5" height="5.08" fill="#00bbff"/><rect x="188.6" y="520.08" width="7.5" height="5.08" fill="#00fffc"/><rect x="188.6" y="515" width="7.5" height="5.08" fill="#00ffcc"/><rect x="188.6" y="509.93" width="7.5" height="5.08" fill="#00ff85"/><rect x="188.6" y="504.85" width="7.5" height="5.08" fill="#00ff55"/><rect x="188.6" y="499.78" width="7.5" height="5.08" fill="#00ff0e"/><rect x="188.6" y="494.7" width="7.5" height="5.08" fill="#22ff00"/><rect x="188.6" y="489.62" width="7.5" height="5.08" fill="#69ff00"/><rect x="188.6" y="484.55" width="7.5" height="5.08" fill="#99ff00"/><rect x="188.6" y="479.48" width="7.5" height="5.08" fill="#e0ff00"/><rect x="188.6" y="474.4" width="7.5" height="5.08" fill="#ffee00"/><rect x="188.6" y="469.33" width="7.5" height="5.08" fill="#ffa700"/><rect x="188.6" y="464.25" width="7.5" height="5.08" fill="#ff7700"/><rect x="188.6" y="459.18" width="7.5" height="5.08" fill="#ff3000"/><rect x="188.6" y="454.1" width="7.5" height="5.08" fill="#ff0000"/>
<text transform="translate(196.6 557) scale(1.3 1)" font-size="3.9" font-weight="bold" font-family="Liberation Sans" stroke="#000" stroke-width="0.22">0</text>
<text transform="translate(196.6 544.32) scale(1.3 1)" font-size="3.9" font-weight="bold" font-family="Liberation Sans" stroke="#000" stroke-width="0.22">2</text>
<text transform="translate(196.6 531.63) scale(1.3 1)" font-size="3.9" font-weight="bold" font-family="Liberation Sans" stroke="#000" stroke-width="0.22">4</text>
<text transform="translate(196.6 518.94) scale(1.3 1)" font-size="3.9" font-weight="bold" font-family="Liberation Sans" stroke="#000" stroke-width="0.22">6</text>
<text transform="translate(196.6 506.25) scale(1.3 1)" font-size="3.9" font-weight="bold" font-family="Liberation Sans" stroke="#000" stroke-width="0.22">8</text>
<text transform="translate(196.6 493.57) scale(1.3 1)" font-size="3.9" font-weight="bold" font-family="Liberation Sans" stroke="#000" stroke-width="0.22">10</text>
<text transform="translate(196.6 480.88) scale(1.3 1)" font-size="3.9" font-weight="bold" font-family="Liberation Sans" stroke="#000" stroke-width="0.22">12</text>
<text transform="translate(196.6 468.19) scale(1.3 1)" font-size="3.9" font-weight="bold" font-family="Liberation Sans" stroke="#000" stroke-width="0.22">14</text>
<text transform="translate(196.6 455.5) scale(1.3 1)" font-size="3.9" font-weight="bold" font-family="Liberation Sans" stroke="#000" stroke-width="0.22">16</text>
<path d="M192.3 555.6H196.1M192.3 542.91H196.1M192.3 530.23H196.1M192.3 517.54H196.1M192.3 504.85H196.1M192.3 492.16H196.1M192.3 479.48H196.1M192.3 466.79H196.1M192.3 454.1H196.1" stroke="#000" stroke-opacity="0.75" stroke-width="0.8" fill="none"/>
<path d="M196.55 454.1L196.55 555.9" stroke="#000" stroke-width="0.9"/>
<rect x="557.4" y="136.4" width="7.1" height="5.1" fill="#6300ff"/><rect x="557.4" y="131.3" width="7.1" height="5.1" fill="#3300ff"/><rect x="557.4" y="126.2" width="7.1" height="5.1" fill="#0014ff"/><rect x="557.4" y="121.1" width="7.1" height="5.1" fill="#0044ff"/><rect x="557.4" y="116" width="7.1" height="5.1" fill="#008bff"/><rect x="557.4" y="110.9" width="7.1" height="5.1" fill="#00bbff"/><rect x="557.4" y="105.8" width="7.1" height="5.1" fill="#00fffc"/><rect x="557.4" y="100.7" width="7.1" height="5.1" fill="#00ffcc"/><rect x="557.4" y="95.6" width="7.1" height="5.1" fill="#00ff85"/><rect x="557.4" y="90.5" width="7.1" height="5.1" fill="#00ff55"/><rect x="557.4" y="85.4" width="7.1" height="5.1" fill="#00ff0e"/><rect x="557.4" y="80.3" width="7.1" height="5.1" fill="#22ff00"/><rect x="557.4" y="75.2" width="7.1" height="5.1" fill="#69ff00"/><rect x="557.4" y="70.1" width="7.1" height="5.1" fill="#99ff00"/><rect x="557.4" y="65" width="7.1" height="5.1" fill="#e0ff00"/><rect x="557.4" y="59.9" width="7.1" height="5.1" fill="#ffee00"/><rect x="557.4" y="54.8" width="7.1" height="5.1" fill="#ffa700"/><rect x="557.4" y="49.7" width="7.1" height="5.1" fill="#ff7700"/><rect x="557.4" y="44.6" width="7.1" height="5.1" fill="#ff3000"/><rect x="557.4" y="39.5" width="7.1" height="5.1" fill="#ff0000"/>
<text transform="translate(565 138.27) scale(1.3 1)" font-size="3.9" font-weight="bold" font-family="Liberation Sans" stroke="#000" stroke-width="0.22">85</text>
<text transform="translate(565 123.34) scale(1.3 1)" font-size="3.9" font-weight="bold" font-family="Liberation Sans" stroke="#000" stroke-width="0.22">90</text>
<text transform="translate(565 108.41) scale(1.3 1)" font-size="3.9" font-weight="bold" font-family="Liberation Sans" stroke="#000" stroke-width="0.22">95</text>
<text transform="translate(565 93.47) scale(1.3 1)" font-size="3.9" font-weight="bold" font-family="Liberation Sans" stroke="#000" stroke-width="0.22">100</text>
<text transform="translate(565 78.54) scale(1.3 1)" font-size="3.9" font-weight="bold" font-family="Liberation Sans" stroke="#000" stroke-width="0.22">105</text>
<text transform="translate(565 63.6) scale(1.3 1)" font-size="3.9" font-weight="bold" font-family="Liberation Sans" stroke="#000" stroke-width="0.22">110</text>
<text transform="translate(565 48.67) scale(1.3 1)" font-size="3.9" font-weight="bold" font-family="Liberation Sans" stroke="#000" stroke-width="0.22">115</text>
<path d="M560.7 136.87H564.5M560.7 121.94H564.5M560.7 107H564.5M560.7 92.07H564.5M560.7 77.13H564.5M560.7 62.2H564.5M560.7 47.27H564.5" stroke="#000" stroke-opacity="0.75" stroke-width="0.8" fill="none"/>
<path d="M564.95 39.5L564.95 141.8" stroke="#000" stroke-width="0.9"/>
<text transform="translate(52.2 145.8) scale(1.12 1)" font-size="3.9" font-weight="bold" font-family="Liberation Sans" text-anchor="middle" stroke="#000" stroke-width="0.22">0</text>
<text transform="translate(78.24 145.8) scale(1.12 1)" font-size="3.9" font-weight="bold" font-family="Liberation Sans" text-anchor="middle" stroke="#000" stroke-width="0.22">10</text>
<text transform="translate(104.28 145.8) scale(1.12 1)" font-size="3.9" font-weight="bold" font-family="Liberation Sans" text-anchor="middle" stroke="#000" stroke-width="0.22">20</text>
<text transform="translate(130.32 145.8) scale(1.12 1)" font-size="3.9" font-weight="bold" font-family="Liberation Sans" text-anchor="middle" stroke="#000" stroke-width="0.22">30</text>
<text transform="translate(156.35 145.8) scale(1.12 1)" font-size="3.9" font-weight="bold" font-family="Liberation Sans" text-anchor="middle" stroke="#000" stroke-width="0.22">40</text>
<text transform="translate(182.39 145.8) scale(1.12 1)" font-size="3.9" font-weight="bold" font-family="Liberation Sans" text-anchor="middle" stroke="#000" stroke-width="0.22">50</text>
<path d="M52.2 141.5v-1.6M57.41 141.5v-1.6M62.62 141.5v-1.6M67.82 141.5v-1.6M73.03 141.5v-1.6M78.24 141.5v-1.6M83.45 141.5v-1.6M88.65 141.5v-1.6M93.86 141.5v-1.6M99.07 141.5v-1.6M104.28 141.5v-1.6M109.48 141.5v-1.6M114.69 141.5v-1.6M119.9 141.5v-1.6M125.11 141.5v-1.6M130.32 141.5v-1.6M135.52 141.5v-1.6M140.73 141.5v-1.6M145.94 141.5v-1.6M151.15 141.5v-1.6M156.35 141.5v-1.6M161.56 141.5v-1.6M166.77 141.5v-1.6M171.98 141.5v-1.6M177.18 141.5v-1.6M182.39 141.5v-1.6M187.6 141.5v-1.6M52.2 141.5v-3M78.24 141.5v-3M104.28 141.5v-3M130.32 141.5v-3M156.35 141.5v-3M182.39 141.5v-3" stroke="#000" stroke-width="0.8" fill="none"/>
<text transform="translate(51.2 142.9) scale(1.12 1)" font-size="3.9" font-weight="bold" font-family="Liberation Sans" text-anchor="end" stroke="#000" stroke-width="0.22">0</text>
<text transform="translate(51.2 130.15) scale(1.12 1)" font-size="3.9" font-weight="bold" font-family="Liberation Sans" text-anchor="end" stroke="#000" stroke-width="0.22">10</text>
<text transform="translate(51.2 117.4) scale(1.12 1)" font-size="3.9" font-weight="bold" font-family="Liberation Sans" text-anchor="end" stroke="#000" stroke-width="0.22">20</text>
<text transform="translate(51.2 104.65) scale(1.12 1)" font-size="3.9" font-weight="bold" font-family="Liberation Sans" text-anchor="end" stroke="#000" stroke-width="0.22">30</text>
<text transform="translate(51.2 91.9) scale(1.12 1)" font-size="3.9" font-weight="bold" font-family="Liberation Sans" text-anchor="end" stroke="#000" stroke-width="0.22">40</text>
<text transform="translate(51.2 79.15) scale(1.12 1)" font-size="3.9" font-weight="bold" font-family="Liberation Sans" text-anchor="end" stroke="#000" stroke-width="0.22">50</text>
<text transform="translate(51.2 66.4) scale(1.12 1)" font-size="3.9" font-weight="bold" font-family="Liberation Sans" text-anchor="end" stroke="#000" stroke-width="0.22">60</text>
<text transform="translate(51.2 53.65) scale(1.12 1)" font-size="3.9" font-weight="bold" font-family="Liberation Sans" text-anchor="end" stroke="#000" stroke-width="0.22">70</text>
<text transform="translate(51.2 40.9) scale(1.12 1)" font-size="3.9" font-weight="bold" font-family="Liberation Sans" text-anchor="end" stroke="#000" stroke-width="0.22">80</text>
<path d="M52.2 141.5h2.2M52.2 138.95h2.2M52.2 136.4h2.2M52.2 133.85h2.2M52.2 131.3h2.2M52.2 128.75h2.2M52.2 126.2h2.2M52.2 123.65h2.2M52.2 121.1h2.2M52.2 118.55h2.2M52.2 116h2.2M52.2 113.45h2.2M52.2 110.9h2.2M52.2 108.35h2.2M52.2 105.8h2.2M52.2 103.25h2.2M52.2 100.7h2.2M52.2 98.15h2.2M52.2 95.6h2.2M52.2 93.05h2.2M52.2 90.5h2.2M52.2 87.95h2.2M52.2 85.4h2.2M52.2 82.85h2.2M52.2 80.3h2.2M52.2 77.75h2.2M52.2 75.2h2.2M52.2 72.65h2.2M52.2 70.1h2.2M52.2 67.55h2.2M52.2 65h2.2M52.2 62.45h2.2M52.2 59.9h2.2M52.2 57.35h2.2M52.2 54.8h2.2M52.2 52.25h2.2M52.2 49.7h2.2M52.2 47.15h2.2M52.2 44.6h2.2M52.2 42.05h2.2M52.2 39.5h2.2M52.2 141.5h4.2M52.2 128.75h4.2M52.2 116h4.2M52.2 103.25h4.2M52.2 90.5h4.2M52.2 77.75h4.2M52.2 65h4.2M52.2 52.25h4.2M52.2 39.5h4.2" stroke="#000" stroke-width="0.8" fill="none"/>
<text transform="translate(52.2 283.8) scale(1.12 1)" font-size="3.9" font-weight="bold" font-family="Liberation Sans" text-anchor="middle" stroke="#000" stroke-width="0.22">0</text>
<text transform="translate(78.24 283.8) scale(1.12 1)" font-size="3.9" font-weight="bold" font-family="Liberation Sans" text-anchor="middle" stroke="#000" stroke-width="0.22">10</text>
<text transform="translate(104.28 283.8) scale(1.12 1)" font-size="3.9" font-weight="bold" font-family="Liberation Sans" text-anchor="middle" stroke="#000" stroke-width="0.22">20</text>
<text transform="translate(130.32 283.8) scale(1.12 1)" font-size="3.9" font-weight="bold" font-family="Liberation Sans" text-anchor="middle" stroke="#000" stroke-width="0.22">30</text>
<text transform="translate(156.35 283.8) scale(1.12 1)" font-size="3.9" font-weight="bold" font-family="Liberation Sans" text-anchor="middle" stroke="#000" stroke-width="0.22">40</text>
<text transform="translate(182.39 283.8) scale(1.12 1)" font-size="3.9" font-weight="bold" font-family="Liberation Sans" text-anchor="middle" stroke="#000" stroke-width="0.22">50</text>
<path d="M52.2 279.5v-1.6M57.41 279.5v-1.6M62.62 279.5v-1.6M67.82 279.5v-1.6M73.03 279.5v-1.6M78.24 279.5v-1.6M83.45 279.5v-1.6M88.65 279.5v-1.6M93.86 279.5v-1.6M99.07 279.5v-1.6M104.28 279.5v-1.6M109.48 279.5v-1.6M114.69 279.5v-1.6M119.9 279.5v-1.6M125.11 279.5v-1.6M130.32 279.5v-1.6M135.52 279.5v-1.6M140.73 279.5v-1.6M145.94 279.5v-1.6M151.15 279.5v-1.6M156.35 279.5v-1.6M161.56 279.5v-1.6M166.77 279.5v-1.6M171.98 279.5v-1.6M177.18 279.5v-1.6M182.39 279.5v-1.6M187.6 279.5v-1.6M52.2 279.5v-3M78.24 279.5v-3M104.28 279.5v-3M130.32 279.5v-3M156.35 279.5v-3M182.39 279.5v-3" stroke="#000" stroke-width="0.8" fill="none"/>
<text transform="translate(51.2 280.9) scale(1.12 1)" font-size="3.9" font-weight="bold" font-family="Liberation Sans" text-anchor="end" stroke="#000" stroke-width="0.22">0</text>
<text transform="translate(51.2 268.15) scale(1.12 1)" font-size="3.9" font-weight="bold" font-family="Liberation Sans" text-anchor="end" stroke="#000" stroke-width="0.22">10</text>
<text transform="translate(51.2 255.4) scale(1.12 1)" font-size="3.9" font-weight="bold" font-family="Liberation Sans" text-anchor="end" stroke="#000" stroke-width="0.22">20</text>
<text transform="translate(51.2 242.65) scale(1.12 1)" font-size="3.9" font-weight="bold" font-family="Liberation Sans" text-anchor="end" stroke="#000" stroke-width="0.22">30</text>
<text transform="translate(51.2 229.9) scale(1.12 1)" font-size="3.9" font-weight="bold" font-family="Liberation Sans" text-anchor="end" stroke="#000" stroke-width="0.22">40</text>
<text transform="translate(51.2 217.15) scale(1.12 1)" font-size="3.9" font-weight="bold" font-family="Liberation Sans" text-anchor="end" stroke="#000" stroke-width="0.22">50</text>
<text transform="translate(51.2 204.4) scale(1.12 1)" font-size="3.9" font-weight="bold" font-family="Liberation Sans" text-anchor="end" stroke="#000" stroke-width="0.22">60</text>
<text transform="translate(51.2 191.65) scale(1.12 1)" font-size="3.9" font-weight="bold" font-family="Liberation Sans" text-anchor="end" stroke="#000" stroke-width="0.22">70</text>
<text transform="translate(51.2 178.9) scale(1.12 1)" font-size="3.9" font-weight="bold" font-family="Liberation Sans" text-anchor="end" stroke="#000" stroke-width="0.22">80</text>
<path d="M52.2 279.5h2.2M52.2 276.95h2.2M52.2 274.4h2.2M52.2 271.85h2.2M52.2 269.3h2.2M52.2 266.75h2.2M52.2 264.2h2.2M52.2 261.65h2.2M52.2 259.1h2.2M52.2 256.55h2.2M52.2 254h2.2M52.2 251.45h2.2M52.2 248.9h2.2M52.2 246.35h2.2M52.2 243.8h2.2M52.2 241.25h2.2M52.2 238.7h2.2M52.2 236.15h2.2M52.2 233.6h2.2M52.2 231.05h2.2M52.2 228.5h2.2M52.2 225.95h2.2M52.2 223.4h2.2M52.2 220.85h2.2M52.2 218.3h2.2M52.2 215.75h2.2M52.2 213.2h2.2M52.2 210.65h2.2M52.2 208.1h2.2M52.2 205.55h2.2M52.2 203h2.2M52.2 200.45h2.2M52.2 197.9h2.2M52.2 195.35h2.2M52.2 192.8h2.2M52.2 190.25h2.2M52.2 187.7h2.2M52.2 185.15h2.2M52.2 182.6h2.2M52.2 180.05h2.2M52.2 177.5h2.2M52.2 279.5h4.2M52.2 266.75h4.2M52.2 254h4.2M52.2 241.25h4.2M52.2 228.5h4.2M52.2 215.75h4.2M52.2 203h4.2M52.2 190.25h4.2M52.2 177.5h4.2" stroke="#000" stroke-width="0.8" fill="none"/>
<text transform="translate(52.2 421.8) scale(1.12 1)" font-size="3.9" font-weight="bold" font-family="Liberation Sans" text-anchor="middle" stroke="#000" stroke-width="0.22">0</text>
<text transform="translate(78.24 421.8) scale(1.12 1)" font-size="3.9" font-weight="bold" font-family="Liberation Sans" text-anchor="middle" stroke="#000" stroke-width="0.22">10</text>
<text transform="translate(104.28 421.8) scale(1.12 1)" font-size="3.9" font-weight="bold" font-family="Liberation Sans" text-anchor="middle" stroke="#000" stroke-width="0.22">20</text>
<text transform="translate(130.32 421.8) scale(1.12 1)" font-size="3.9" font-weight="bold" font-family="Liberation Sans" text-anchor="middle" stroke="#000" stroke-width="0.22">30</text>
<text transform="translate(156.35 421.8) scale(1.12 1)" font-size="3.9" font-weight="bold" font-family="Liberation Sans" text-anchor="middle" stroke="#000" stroke-width="0.22">40</text>
<text transform="translate(182.39 421.8) scale(1.12 1)" font-size="3.9" font-weight="bold" font-family="Liberation Sans" text-anchor="middle" stroke="#000" stroke-width="0.22">50</text>
<path d="M52.2 417.5v-1.6M57.41 417.5v-1.6M62.62 417.5v-1.6M67.82 417.5v-1.6M73.03 417.5v-1.6M78.24 417.5v-1.6M83.45 417.5v-1.6M88.65 417.5v-1.6M93.86 417.5v-1.6M99.07 417.5v-1.6M104.28 417.5v-1.6M109.48 417.5v-1.6M114.69 417.5v-1.6M119.9 417.5v-1.6M125.11 417.5v-1.6M130.32 417.5v-1.6M135.52 417.5v-1.6M140.73 417.5v-1.6M145.94 417.5v-1.6M151.15 417.5v-1.6M156.35 417.5v-1.6M161.56 417.5v-1.6M166.77 417.5v-1.6M171.98 417.5v-1.6M177.18 417.5v-1.6M182.39 417.5v-1.6M187.6 417.5v-1.6M52.2 417.5v-3M78.24 417.5v-3M104.28 417.5v-3M130.32 417.5v-3M156.35 417.5v-3M182.39 417.5v-3" stroke="#000" stroke-width="0.8" fill="none"/>
<text transform="translate(51.2 418.9) scale(1.12 1)" font-size="3.9" font-weight="bold" font-family="Liberation Sans" text-anchor="end" stroke="#000" stroke-width="0.22">0</text>
<text transform="translate(51.2 406.15) scale(1.12 1)" font-size="3.9" font-weight="bold" font-family="Liberation Sans" text-anchor="end" stroke="#000" stroke-width="0.22">10</text>
<text transform="translate(51.2 393.4) scale(1.12 1)" font-size="3.9" font-weight="bold" font-family="Liberation Sans" text-anchor="end" stroke="#000" stroke-width="0.22">20</text>
<text transform="translate(51.2 380.65) scale(1.12 1)" font-size="3.9" font-weight="bold" font-family="Liberation Sans" text-anchor="end" stroke="#000" stroke-width="0.22">30</text>
<text transform="translate(51.2 367.9) scale(1.12 1)" font-size="3.9" font-weight="bold" font-family="Liberation Sans" text-anchor="end" stroke="#000" stroke-width="0.22">40</text>
<text transform="translate(51.2 355.15) scale(1.12 1)" font-size="3.9" font-weight="bold" font-family="Liberation Sans" text-anchor="end" stroke="#000" stroke-width="0.22">50</text>
<text transform="translate(51.2 342.4) scale(1.12 1)" font-size="3.9" font-weight="bold" font-family="Liberation Sans" text-anchor="end" stroke="#000" stroke-width="0.22">60</text>
<text transform="translate(51.2 329.65) scale(1.12 1)" font-size="3.9" font-weight="bold" font-family="Liberation Sans" text-anchor="end" stroke="#000" stroke-width="0.22">70</text>
<text transform="translate(51.2 316.9) scale(1.12 1)" font-size="3.9" font-weight="bold" font-family="Liberation Sans" text-anchor="end" stroke="#000" stroke-width="0.22">80</text>
<path d="M52.2 417.5h2.2M52.2 414.95h2.2M52.2 412.4h2.2M52.2 409.85h2.2M52.2 407.3h2.2M52.2 404.75h2.2M52.2 402.2h2.2M52.2 399.65h2.2M52.2 397.1h2.2M52.2 394.55h2.2M52.2 392h2.2M52.2 389.45h2.2M52.2 386.9h2.2M52.2 384.35h2.2M52.2 381.8h2.2M52.2 379.25h2.2M52.2 376.7h2.2M52.2 374.15h2.2M52.2 371.6h2.2M52.2 369.05h2.2M52.2 366.5h2.2M52.2 363.95h2.2M52.2 361.4h2.2M52.2 358.85h2.2M52.2 356.3h2.2M52.2 353.75h2.2M52.2 351.2h2.2M52.2 348.65h2.2M52.2 346.1h2.2M52.2 343.55h2.2M52.2 341h2.2M52.2 338.45h2.2M52.2 335.9h2.2M52.2 333.35h2.2M52.2 330.8h2.2M52.2 328.25h2.2M52.2 325.7h2.2M52.2 323.15h2.2M52.2 320.6h2.2M52.2 318.05h2.2M52.2 315.5h2.2M52.2 417.5h4.2M52.2 404.75h4.2M52.2 392h4.2M52.2 379.25h4.2M52.2 366.5h4.2M52.2 353.75h4.2M52.2 341h4.2M52.2 328.25h4.2M52.2 315.5h4.2" stroke="#000" stroke-width="0.8" fill="none"/>
<text transform="translate(52.2 559.9) scale(1.12 1)" font-size="3.9" font-weight="bold" font-family="Liberation Sans" text-anchor="middle" stroke="#000" stroke-width="0.22">0</text>
<text transform="translate(78.24 559.9) scale(1.12 1)" font-size="3.9" font-weight="bold" font-family="Liberation Sans" text-anchor="middle" stroke="#000" stroke-width="0.22">10</text>
<text transform="translate(104.28 559.9) scale(1.12 1)" font-size="3.9" font-weight="bold" font-family="Liberation Sans" text-anchor="middle" stroke="#000" stroke-width="0.22">20</text>
<text transform="translate(130.32 559.9) scale(1.12 1)" font-size="3.9" font-weight="bold" font-family="Liberation Sans" text-anchor="middle" stroke="#000" stroke-width="0.22">30</text>
<text transform="translate(156.35 559.9) scale(1.12 1)" font-size="3.9" font-weight="bold" font-family="Liberation Sans" text-anchor="middle" stroke="#000" stroke-width="0.22">40</text>
<text transform="translate(182.39 559.9) scale(1.12 1)" font-size="3.9" font-weight="bold" font-family="Liberation Sans" text-anchor="middle" stroke="#000" stroke-width="0.22">50</text>
<path d="M52.2 555.6v-1.6M57.41 555.6v-1.6M62.62 555.6v-1.6M67.82 555.6v-1.6M73.03 555.6v-1.6M78.24 555.6v-1.6M83.45 555.6v-1.6M88.65 555.6v-1.6M93.86 555.6v-1.6M99.07 555.6v-1.6M104.28 555.6v-1.6M109.48 555.6v-1.6M114.69 555.6v-1.6M119.9 555.6v-1.6M125.11 555.6v-1.6M130.32 555.6v-1.6M135.52 555.6v-1.6M140.73 555.6v-1.6M145.94 555.6v-1.6M151.15 555.6v-1.6M156.35 555.6v-1.6M161.56 555.6v-1.6M166.77 555.6v-1.6M171.98 555.6v-1.6M177.18 555.6v-1.6M182.39 555.6v-1.6M187.6 555.6v-1.6M52.2 555.6v-3M78.24 555.6v-3M104.28 555.6v-3M130.32 555.6v-3M156.35 555.6v-3M182.39 555.6v-3" stroke="#000" stroke-width="0.8" fill="none"/>
<text transform="translate(51.2 557) scale(1.12 1)" font-size="3.9" font-weight="bold" font-family="Liberation Sans" text-anchor="end" stroke="#000" stroke-width="0.22">0</text>
<text transform="translate(51.2 544.32) scale(1.12 1)" font-size="3.9" font-weight="bold" font-family="Liberation Sans" text-anchor="end" stroke="#000" stroke-width="0.22">10</text>
<text transform="translate(51.2 531.63) scale(1.12 1)" font-size="3.9" font-weight="bold" font-family="Liberation Sans" text-anchor="end" stroke="#000" stroke-width="0.22">20</text>
<text transform="translate(51.2 518.94) scale(1.12 1)" font-size="3.9" font-weight="bold" font-family="Liberation Sans" text-anchor="end" stroke="#000" stroke-width="0.22">30</text>
<text transform="translate(51.2 506.25) scale(1.12 1)" font-size="3.9" font-weight="bold" font-family="Liberation Sans" text-anchor="end" stroke="#000" stroke-width="0.22">40</text>
<text transform="translate(51.2 493.57) scale(1.12 1)" font-size="3.9" font-weight="bold" font-family="Liberation Sans" text-anchor="end" stroke="#000" stroke-width="0.22">50</text>
<text transform="translate(51.2 480.88) scale(1.12 1)" font-size="3.9" font-weight="bold" font-family="Liberation Sans" text-anchor="end" stroke="#000" stroke-width="0.22">60</text>
<text transform="translate(51.2 468.19) scale(1.12 1)" font-size="3.9" font-weight="bold" font-family="Liberation Sans" text-anchor="end" stroke="#000" stroke-width="0.22">70</text>
<text transform="translate(51.2 455.5) scale(1.12 1)" font-size="3.9" font-weight="bold" font-family="Liberation Sans" text-anchor="end" stroke="#000" stroke-width="0.22">80</text>
<path d="M52.2 555.6h2.2M52.2 553.06h2.2M52.2 550.52h2.2M52.2 547.99h2.2M52.2 545.45h2.2M52.2 542.91h2.2M52.2 540.38h2.2M52.2 537.84h2.2M52.2 535.3h2.2M52.2 532.76h2.2M52.2 530.23h2.2M52.2 527.69h2.2M52.2 525.15h2.2M52.2 522.61h2.2M52.2 520.08h2.2M52.2 517.54h2.2M52.2 515h2.2M52.2 512.46h2.2M52.2 509.93h2.2M52.2 507.39h2.2M52.2 504.85h2.2M52.2 502.31h2.2M52.2 499.78h2.2M52.2 497.24h2.2M52.2 494.7h2.2M52.2 492.16h2.2M52.2 489.62h2.2M52.2 487.09h2.2M52.2 484.55h2.2M52.2 482.01h2.2M52.2 479.48h2.2M52.2 476.94h2.2M52.2 474.4h2.2M52.2 471.86h2.2M52.2 469.33h2.2M52.2 466.79h2.2M52.2 464.25h2.2M52.2 461.71h2.2M52.2 459.18h2.2M52.2 456.64h2.2M52.2 454.1h2.2M52.2 555.6h4.2M52.2 542.91h4.2M52.2 530.23h4.2M52.2 517.54h4.2M52.2 504.85h4.2M52.2 492.16h4.2M52.2 479.48h4.2M52.2 466.79h4.2M52.2 454.1h4.2" stroke="#000" stroke-width="0.8" fill="none"/>
<text transform="translate(420.5 145.8) scale(1.12 1)" font-size="3.9" font-weight="bold" font-family="Liberation Sans" text-anchor="middle" stroke="#000" stroke-width="0.22">0</text>
<text transform="translate(446.65 145.8) scale(1.12 1)" font-size="3.9" font-weight="bold" font-family="Liberation Sans" text-anchor="middle" stroke="#000" stroke-width="0.22">10</text>
<text transform="translate(472.81 145.8) scale(1.12 1)" font-size="3.9" font-weight="bold" font-family="Liberation Sans" text-anchor="middle" stroke="#000" stroke-width="0.22">20</text>
<text transform="translate(498.96 145.8) scale(1.12 1)" font-size="3.9" font-weight="bold" font-family="Liberation Sans" text-anchor="middle" stroke="#000" stroke-width="0.22">30</text>
<text transform="translate(525.12 145.8) scale(1.12 1)" font-size="3.9" font-weight="bold" font-family="Liberation Sans" text-anchor="middle" stroke="#000" stroke-width="0.22">40</text>
<text transform="translate(551.27 145.8) scale(1.12 1)" font-size="3.9" font-weight="bold" font-family="Liberation Sans" text-anchor="middle" stroke="#000" stroke-width="0.22">50</text>
<path d="M420.5 141.5v-1.6M425.73 141.5v-1.6M430.96 141.5v-1.6M436.19 141.5v-1.6M441.42 141.5v-1.6M446.65 141.5v-1.6M451.88 141.5v-1.6M457.12 141.5v-1.6M462.35 141.5v-1.6M467.58 141.5v-1.6M472.81 141.5v-1.6M478.04 141.5v-1.6M483.27 141.5v-1.6M488.5 141.5v-1.6M493.73 141.5v-1.6M498.96 141.5v-1.6M504.19 141.5v-1.6M509.42 141.5v-1.6M514.65 141.5v-1.6M519.88 141.5v-1.6M525.12 141.5v-1.6M530.35 141.5v-1.6M535.58 141.5v-1.6M540.81 141.5v-1.6M546.04 141.5v-1.6M551.27 141.5v-1.6M556.5 141.5v-1.6M420.5 141.5v-3M446.65 141.5v-3M472.81 141.5v-3M498.96 141.5v-3M525.12 141.5v-3M551.27 141.5v-3" stroke="#000" stroke-width="0.8" fill="none"/>
<text transform="translate(419.5 142.9) scale(1.12 1)" font-size="3.9" font-weight="bold" font-family="Liberation Sans" text-anchor="end" stroke="#000" stroke-width="0.22">0</text>
<text transform="translate(419.5 130.15) scale(1.12 1)" font-size="3.9" font-weight="bold" font-family="Liberation Sans" text-anchor="end" stroke="#000" stroke-width="0.22">10</text>
<text transform="translate(419.5 117.4) scale(1.12 1)" font-size="3.9" font-weight="bold" font-family="Liberation Sans" text-anchor="end" stroke="#000" stroke-width="0.22">20</text>
<text transform="translate(419.5 104.65) scale(1.12 1)" font-size="3.9" font-weight="bold" font-family="Liberation Sans" text-anchor="end" stroke="#000" stroke-width="0.22">30</text>
<text transform="translate(419.5 91.9) scale(1.12 1)" font-size="3.9" font-weight="bold" font-family="Liberation Sans" text-anchor="end" stroke="#000" stroke-width="0.22">40</text>
<text transform="translate(419.5 79.15) scale(1.12 1)" font-size="3.9" font-weight="bold" font-family="Liberation Sans" text-anchor="end" stroke="#000" stroke-width="0.22">50</text>
<text transform="translate(419.5 66.4) scale(1.12 1)" font-size="3.9" font-weight="bold" font-family="Liberation Sans" text-anchor="end" stroke="#000" stroke-width="0.22">60</text>
<text transform="translate(419.5 53.65) scale(1.12 1)" font-size="3.9" font-weight="bold" font-family="Liberation Sans" text-anchor="end" stroke="#000" stroke-width="0.22">70</text>
<text transform="translate(419.5 40.9) scale(1.12 1)" font-size="3.9" font-weight="bold" font-family="Liberation Sans" text-anchor="end" stroke="#000" stroke-width="0.22">80</text>
<path d="M420.5 141.5h2.2M420.5 138.95h2.2M420.5 136.4h2.2M420.5 133.85h2.2M420.5 131.3h2.2M420.5 128.75h2.2M420.5 126.2h2.2M420.5 123.65h2.2M420.5 121.1h2.2M420.5 118.55h2.2M420.5 116h2.2M420.5 113.45h2.2M420.5 110.9h2.2M420.5 108.35h2.2M420.5 105.8h2.2M420.5 103.25h2.2M420.5 100.7h2.2M420.5 98.15h2.2M420.5 95.6h2.2M420.5 93.05h2.2M420.5 90.5h2.2M420.5 87.95h2.2M420.5 85.4h2.2M420.5 82.85h2.2M420.5 80.3h2.2M420.5 77.75h2.2M420.5 75.2h2.2M420.5 72.65h2.2M420.5 70.1h2.2M420.5 67.55h2.2M420.5 65h2.2M420.5 62.45h2.2M420.5 59.9h2.2M420.5 57.35h2.2M420.5 54.8h2.2M420.5 52.25h2.2M420.5 49.7h2.2M420.5 47.15h2.2M420.5 44.6h2.2M420.5 42.05h2.2M420.5 39.5h2.2M420.5 141.5h4.2M420.5 128.75h4.2M420.5 116h4.2M420.5 103.25h4.2M420.5 90.5h4.2M420.5 77.75h4.2M420.5 65h4.2M420.5 52.25h4.2M420.5 39.5h4.2" stroke="#000" stroke-width="0.8" fill="none"/>
<text transform="translate(236.5 145.8) scale(1.12 1)" font-size="3.9" font-weight="bold" font-family="Liberation Sans" text-anchor="middle" stroke="#000" stroke-width="0.22">0</text>
<text transform="translate(259.17 145.8) scale(1.12 1)" font-size="3.9" font-weight="bold" font-family="Liberation Sans" text-anchor="middle" stroke="#000" stroke-width="0.22">100</text>
<text transform="translate(281.83 145.8) scale(1.12 1)" font-size="3.9" font-weight="bold" font-family="Liberation Sans" text-anchor="middle" stroke="#000" stroke-width="0.22">200</text>
<text transform="translate(304.5 145.8) scale(1.12 1)" font-size="3.9" font-weight="bold" font-family="Liberation Sans" text-anchor="middle" stroke="#000" stroke-width="0.22">300</text>
<text transform="translate(327.17 145.8) scale(1.12 1)" font-size="3.9" font-weight="bold" font-family="Liberation Sans" text-anchor="middle" stroke="#000" stroke-width="0.22">400</text>
<text transform="translate(349.83 145.8) scale(1.12 1)" font-size="3.9" font-weight="bold" font-family="Liberation Sans" text-anchor="middle" stroke="#000" stroke-width="0.22">500</text>
<text transform="translate(372.5 145.8) scale(1.12 1)" font-size="3.9" font-weight="bold" font-family="Liberation Sans" text-anchor="middle" stroke="#000" stroke-width="0.22">600</text>
<path d="M236.5 141.5v-1.6M241.03 141.5v-1.6M245.57 141.5v-1.6M250.1 141.5v-1.6M254.63 141.5v-1.6M259.17 141.5v-1.6M263.7 141.5v-1.6M268.23 141.5v-1.6M272.77 141.5v-1.6M277.3 141.5v-1.6M281.83 141.5v-1.6M286.37 141.5v-1.6M290.9 141.5v-1.6M295.43 141.5v-1.6M299.97 141.5v-1.6M304.5 141.5v-1.6M309.03 141.5v-1.6M313.57 141.5v-1.6M318.1 141.5v-1.6M322.63 141.5v-1.6M327.17 141.5v-1.6M331.7 141.5v-1.6M336.23 141.5v-1.6M340.77 141.5v-1.6M345.3 141.5v-1.6M349.83 141.5v-1.6M354.37 141.5v-1.6M358.9 141.5v-1.6M363.43 141.5v-1.6M367.97 141.5v-1.6M372.5 141.5v-1.6M236.5 141.5v-3M259.17 141.5v-3M281.83 141.5v-3M304.5 141.5v-3M327.17 141.5v-3M349.83 141.5v-3M372.5 141.5v-3" stroke="#000" stroke-width="0.8" fill="none"/>
<text transform="translate(235.5 142.9) scale(1.12 1)" font-size="3.9" font-weight="bold" font-family="Liberation Sans" text-anchor="end" stroke="#000" stroke-width="0.22">0</text>
<text transform="translate(235.5 125.45) scale(1.12 1)" font-size="3.9" font-weight="bold" font-family="Liberation Sans" text-anchor="end" stroke="#000" stroke-width="0.22">100</text>
<text transform="translate(235.5 108) scale(1.12 1)" font-size="3.9" font-weight="bold" font-family="Liberation Sans" text-anchor="end" stroke="#000" stroke-width="0.22">200</text>
<text transform="translate(235.5 90.55) scale(1.12 1)" font-size="3.9" font-weight="bold" font-family="Liberation Sans" text-anchor="end" stroke="#000" stroke-width="0.22">300</text>
<text transform="translate(235.5 73.1) scale(1.12 1)" font-size="3.9" font-weight="bold" font-family="Liberation Sans" text-anchor="end" stroke="#000" stroke-width="0.22">400</text>
<text transform="translate(235.5 55.65) scale(1.12 1)" font-size="3.9" font-weight="bold" font-family="Liberation Sans" text-anchor="end" stroke="#000" stroke-width="0.22">500</text>
<path d="M236.5 141.5h2.2M236.5 138.01h2.2M236.5 134.52h2.2M236.5 131.03h2.2M236.5 127.54h2.2M236.5 124.05h2.2M236.5 120.56h2.2M236.5 117.07h2.2M236.5 113.58h2.2M236.5 110.09h2.2M236.5 106.6h2.2M236.5 103.11h2.2M236.5 99.62h2.2M236.5 96.13h2.2M236.5 92.64h2.2M236.5 89.15h2.2M236.5 85.66h2.2M236.5 82.17h2.2M236.5 78.68h2.2M236.5 75.19h2.2M236.5 71.7h2.2M236.5 68.21h2.2M236.5 64.72h2.2M236.5 61.23h2.2M236.5 57.74h2.2M236.5 54.25h2.2M236.5 50.76h2.2M236.5 47.27h2.2M236.5 43.78h2.2M236.5 40.29h2.2M236.5 141.5h4.2M236.5 124.05h4.2M236.5 106.6h4.2M236.5 89.15h4.2M236.5 71.7h4.2M236.5 54.25h4.2" stroke="#000" stroke-width="0.8" fill="none"/>
<path d="M258.3 141.5V138.5H259.8V141H261.3V135H262.4V131.5H264.4V118H266.4V102.4H267.4V80H268.6V64.7H270.2V47.3H271.4V44.6H273.4V47.6H274.6V70.6H275.8V88.2H277.1V105.8H278.2V114.7H279.7V127.2H281V129.8H282.7V135H284.4V138.5H286.2V141" stroke="#000" stroke-width="1" fill="none" stroke-linejoin="miter"/>
<text x="328.73" y="48.8" font-size="8" textLength="29.68" lengthAdjust="spacingAndGlyphs" stroke="#000" stroke-width="0.18">µ:159.67</text>
<text x="328.7" y="58.9" font-size="8" textLength="28" lengthAdjust="spacingAndGlyphs" stroke="#000" stroke-width="0.18">σ: 18.54</text>
<text transform="translate(604.5 145.8) scale(1.12 1)" font-size="3.9" font-weight="bold" font-family="Liberation Sans" text-anchor="middle" stroke="#000" stroke-width="0.22">0</text>
<text transform="translate(631.7 145.8) scale(1.12 1)" font-size="3.9" font-weight="bold" font-family="Liberation Sans" text-anchor="middle" stroke="#000" stroke-width="0.22">20</text>
<text transform="translate(658.9 145.8) scale(1.12 1)" font-size="3.9" font-weight="bold" font-family="Liberation Sans" text-anchor="middle" stroke="#000" stroke-width="0.22">40</text>
<text transform="translate(686.1 145.8) scale(1.12 1)" font-size="3.9" font-weight="bold" font-family="Liberation Sans" text-anchor="middle" stroke="#000" stroke-width="0.22">60</text>
<text transform="translate(713.3 145.8) scale(1.12 1)" font-size="3.9" font-weight="bold" font-family="Liberation Sans" text-anchor="middle" stroke="#000" stroke-width="0.22">80</text>
<text transform="translate(740.5 145.8) scale(1.12 1)" font-size="3.9" font-weight="bold" font-family="Liberation Sans" text-anchor="middle" stroke="#000" stroke-width="0.22">100</text>
<path d="M604.5 141.5v-1.6M609.94 141.5v-1.6M615.38 141.5v-1.6M620.82 141.5v-1.6M626.26 141.5v-1.6M631.7 141.5v-1.6M637.14 141.5v-1.6M642.58 141.5v-1.6M648.02 141.5v-1.6M653.46 141.5v-1.6M658.9 141.5v-1.6M664.34 141.5v-1.6M669.78 141.5v-1.6M675.22 141.5v-1.6M680.66 141.5v-1.6M686.1 141.5v-1.6M691.54 141.5v-1.6M696.98 141.5v-1.6M702.42 141.5v-1.6M707.86 141.5v-1.6M713.3 141.5v-1.6M718.74 141.5v-1.6M724.18 141.5v-1.6M729.62 141.5v-1.6M735.06 141.5v-1.6M740.5 141.5v-1.6M604.5 141.5v-3M631.7 141.5v-3M658.9 141.5v-3M686.1 141.5v-3M713.3 141.5v-3M740.5 141.5v-3" stroke="#000" stroke-width="0.8" fill="none"/>
<text transform="translate(603.5 134.7) scale(1.12 1)" font-size="3.9" font-weight="bold" font-family="Liberation Sans" text-anchor="end" stroke="#000" stroke-width="0.22">1</text>
<text transform="translate(603.5 107.5) scale(1.12 1)" font-size="3.9" font-weight="bold" font-family="Liberation Sans" text-anchor="end" stroke="#000" stroke-width="0.22">10</text>
<text transform="translate(601.2 80.3) scale(1.12 1)" font-size="3.9" font-weight="bold" font-family="Liberation Sans" text-anchor="end" stroke="#000" stroke-width="0.22">10</text>
<text transform="translate(601.2 78.19) scale(1.0 1)" font-size="2.2" font-weight="bold" font-family="Liberation Sans" stroke="#000" stroke-width="0.22">2</text>
<text transform="translate(601.2 53.1) scale(1.12 1)" font-size="3.9" font-weight="bold" font-family="Liberation Sans" text-anchor="end" stroke="#000" stroke-width="0.22">10</text>
<text transform="translate(601.2 50.99) scale(1.0 1)" font-size="2.2" font-weight="bold" font-family="Liberation Sans" stroke="#000" stroke-width="0.22">3</text>
<path d="M604.5 141.19h2.2M604.5 139.03h2.2M604.5 137.21h2.2M604.5 135.64h2.2M604.5 134.24h2.2M604.5 124.81h2.2M604.5 120.02h2.2M604.5 116.62h2.2M604.5 113.99h2.2M604.5 111.83h2.2M604.5 110.01h2.2M604.5 108.44h2.2M604.5 107.04h2.2M604.5 97.61h2.2M604.5 92.82h2.2M604.5 89.42h2.2M604.5 86.79h2.2M604.5 84.63h2.2M604.5 82.81h2.2M604.5 81.24h2.2M604.5 79.84h2.2M604.5 70.41h2.2M604.5 65.62h2.2M604.5 62.22h2.2M604.5 59.59h2.2M604.5 57.43h2.2M604.5 55.61h2.2M604.5 54.04h2.2M604.5 52.64h2.2M604.5 43.21h2.2M604.5 133h4.2M604.5 105.8h4.2M604.5 78.6h4.2M604.5 51.4h4.2" stroke="#000" stroke-width="0.8" fill="none"/>
<path d="M678.2 141.5V133.5H679.4V102.6H681.1V82.9H682.3V63.2H683.7V55.4H685.1V47.2H686.6V51.1H687.8V61.4H689.2V84.6H690.9V88H692.3V124H693.5V141H697.1V133.3H698.6V141" stroke="#000" stroke-width="1" fill="none" stroke-linejoin="miter"/>
<text x="612.73" y="49" font-size="8" textLength="26.12" lengthAdjust="spacingAndGlyphs" stroke="#000" stroke-width="0.18">µ:60.61</text>
<text x="612.7" y="58.9" font-size="8" textLength="23.65" lengthAdjust="spacingAndGlyphs" stroke="#000" stroke-width="0.18">σ: 1.31</text>
<text transform="translate(236.5 283.8) scale(1.12 1)" font-size="3.9" font-weight="bold" font-family="Liberation Sans" text-anchor="middle" stroke="#000" stroke-width="0.22">-50</text>
<text transform="translate(254.83 283.8) scale(1.12 1)" font-size="3.9" font-weight="bold" font-family="Liberation Sans" text-anchor="middle" stroke="#000" stroke-width="0.22">-45</text>
<text transform="translate(273.16 283.8) scale(1.12 1)" font-size="3.9" font-weight="bold" font-family="Liberation Sans" text-anchor="middle" stroke="#000" stroke-width="0.22">-40</text>
<text transform="translate(291.49 283.8) scale(1.12 1)" font-size="3.9" font-weight="bold" font-family="Liberation Sans" text-anchor="middle" stroke="#000" stroke-width="0.22">-35</text>
<text transform="translate(309.81 283.8) scale(1.12 1)" font-size="3.9" font-weight="bold" font-family="Liberation Sans" text-anchor="middle" stroke="#000" stroke-width="0.22">-30</text>
<text transform="translate(328.14 283.8) scale(1.12 1)" font-size="3.9" font-weight="bold" font-family="Liberation Sans" text-anchor="middle" stroke="#000" stroke-width="0.22">-25</text>
<text transform="translate(346.47 283.8) scale(1.12 1)" font-size="3.9" font-weight="bold" font-family="Liberation Sans" text-anchor="middle" stroke="#000" stroke-width="0.22">-20</text>
<text transform="translate(364.8 283.8) scale(1.12 1)" font-size="3.9" font-weight="bold" font-family="Liberation Sans" text-anchor="middle" stroke="#000" stroke-width="0.22">-15</text>
<path d="M236.5 279.5v-1.6M240.17 279.5v-1.6M243.83 279.5v-1.6M247.5 279.5v-1.6M251.16 279.5v-1.6M254.83 279.5v-1.6M258.49 279.5v-1.6M262.16 279.5v-1.6M265.83 279.5v-1.6M269.49 279.5v-1.6M273.16 279.5v-1.6M276.82 279.5v-1.6M280.49 279.5v-1.6M284.15 279.5v-1.6M287.82 279.5v-1.6M291.49 279.5v-1.6M295.15 279.5v-1.6M298.82 279.5v-1.6M302.48 279.5v-1.6M306.15 279.5v-1.6M309.81 279.5v-1.6M313.48 279.5v-1.6M317.15 279.5v-1.6M320.81 279.5v-1.6M324.48 279.5v-1.6M328.14 279.5v-1.6M331.81 279.5v-1.6M335.47 279.5v-1.6M339.14 279.5v-1.6M342.81 279.5v-1.6M346.47 279.5v-1.6M350.14 279.5v-1.6M353.8 279.5v-1.6M357.47 279.5v-1.6M361.13 279.5v-1.6M364.8 279.5v-1.6M368.47 279.5v-1.6M372.13 279.5v-1.6M236.5 279.5v-3M254.83 279.5v-3M273.16 279.5v-3M291.49 279.5v-3M309.81 279.5v-3M328.14 279.5v-3M346.47 279.5v-3M364.8 279.5v-3" stroke="#000" stroke-width="0.8" fill="none"/>
<text transform="translate(235.5 271.7) scale(1.12 1)" font-size="3.9" font-weight="bold" font-family="Liberation Sans" text-anchor="end" stroke="#000" stroke-width="0.22">1</text>
<text transform="translate(235.5 239.15) scale(1.12 1)" font-size="3.9" font-weight="bold" font-family="Liberation Sans" text-anchor="end" stroke="#000" stroke-width="0.22">10</text>
<text transform="translate(233.2 206.6) scale(1.12 1)" font-size="3.9" font-weight="bold" font-family="Liberation Sans" text-anchor="end" stroke="#000" stroke-width="0.22">10</text>
<text transform="translate(233.2 204.49) scale(1.0 1)" font-size="2.2" font-weight="bold" font-family="Liberation Sans" stroke="#000" stroke-width="0.22">2</text>
<path d="M236.5 276.32h2.2M236.5 274.14h2.2M236.5 272.25h2.2M236.5 270.59h2.2M236.5 259.3h2.2M236.5 253.57h2.2M236.5 249.5h2.2M236.5 246.35h2.2M236.5 243.77h2.2M236.5 241.59h2.2M236.5 239.7h2.2M236.5 238.04h2.2M236.5 226.75h2.2M236.5 221.02h2.2M236.5 216.95h2.2M236.5 213.8h2.2M236.5 211.22h2.2M236.5 209.04h2.2M236.5 207.15h2.2M236.5 205.49h2.2M236.5 194.2h2.2M236.5 188.47h2.2M236.5 184.4h2.2M236.5 181.25h2.2M236.5 178.67h2.2M236.5 269.1h4.2M236.5 236.55h4.2M236.5 204h4.2" stroke="#000" stroke-width="0.8" fill="none"/>
<path d="M236.5 279.5V268.8H240.16V268.8H243.83V268.8H247.49V246.4H251.15V246.4H254.81V223.2H258.48V214.2H262.14V204.2H265.8V198.2H269.47V196.3H273.13V191.4H276.79V191.4H280.46V191H284.12V189.5H287.78V189.5H291.44V188.7H295.11V190.6H298.77V190.6H302.43V186.4H306.1V187.2H309.76V190.2H313.42V193.4H317.09V194.4H320.75V201.6H324.41V206.5H328.07V213.1H331.74V213.1H335.4V227.5H339.06V228.6H342.73V223.5H346.39V236.5H350.05V239.4H353.72V268.8H357.38V279.5" stroke="#000" stroke-width="1" fill="none" stroke-linejoin="miter"/>
<text transform="translate(420.5 283.8) scale(1.12 1)" font-size="3.9" font-weight="bold" font-family="Liberation Sans" text-anchor="middle" stroke="#000" stroke-width="0.22">0</text>
<text transform="translate(443.17 283.8) scale(1.12 1)" font-size="3.9" font-weight="bold" font-family="Liberation Sans" text-anchor="middle" stroke="#000" stroke-width="0.22">10</text>
<text transform="translate(465.83 283.8) scale(1.12 1)" font-size="3.9" font-weight="bold" font-family="Liberation Sans" text-anchor="middle" stroke="#000" stroke-width="0.22">20</text>
<text transform="translate(488.5 283.8) scale(1.12 1)" font-size="3.9" font-weight="bold" font-family="Liberation Sans" text-anchor="middle" stroke="#000" stroke-width="0.22">30</text>
<text transform="translate(511.17 283.8) scale(1.12 1)" font-size="3.9" font-weight="bold" font-family="Liberation Sans" text-anchor="middle" stroke="#000" stroke-width="0.22">40</text>
<text transform="translate(533.83 283.8) scale(1.12 1)" font-size="3.9" font-weight="bold" font-family="Liberation Sans" text-anchor="middle" stroke="#000" stroke-width="0.22">50</text>
<text transform="translate(556.5 283.8) scale(1.12 1)" font-size="3.9" font-weight="bold" font-family="Liberation Sans" text-anchor="middle" stroke="#000" stroke-width="0.22">60</text>
<path d="M420.5 279.5v-1.6M425.03 279.5v-1.6M429.57 279.5v-1.6M434.1 279.5v-1.6M438.63 279.5v-1.6M443.17 279.5v-1.6M447.7 279.5v-1.6M452.23 279.5v-1.6M456.77 279.5v-1.6M461.3 279.5v-1.6M465.83 279.5v-1.6M470.37 279.5v-1.6M474.9 279.5v-1.6M479.43 279.5v-1.6M483.97 279.5v-1.6M488.5 279.5v-1.6M493.03 279.5v-1.6M497.57 279.5v-1.6M502.1 279.5v-1.6M506.63 279.5v-1.6M511.17 279.5v-1.6M515.7 279.5v-1.6M520.23 279.5v-1.6M524.77 279.5v-1.6M529.3 279.5v-1.6M533.83 279.5v-1.6M538.37 279.5v-1.6M542.9 279.5v-1.6M547.43 279.5v-1.6M551.97 279.5v-1.6M556.5 279.5v-1.6M420.5 279.5v-3M443.17 279.5v-3M465.83 279.5v-3M488.5 279.5v-3M511.17 279.5v-3M533.83 279.5v-3M556.5 279.5v-3" stroke="#000" stroke-width="0.8" fill="none"/>
<text transform="translate(419.5 273.1) scale(1.12 1)" font-size="3.9" font-weight="bold" font-family="Liberation Sans" text-anchor="end" stroke="#000" stroke-width="0.22">1</text>
<text transform="translate(419.5 245.8) scale(1.12 1)" font-size="3.9" font-weight="bold" font-family="Liberation Sans" text-anchor="end" stroke="#000" stroke-width="0.22">10</text>
<text transform="translate(417.2 218.5) scale(1.12 1)" font-size="3.9" font-weight="bold" font-family="Liberation Sans" text-anchor="end" stroke="#000" stroke-width="0.22">10</text>
<text transform="translate(417.2 216.39) scale(1.0 1)" font-size="2.2" font-weight="bold" font-family="Liberation Sans" stroke="#000" stroke-width="0.22">2</text>
<text transform="translate(417.2 191.2) scale(1.12 1)" font-size="3.9" font-weight="bold" font-family="Liberation Sans" text-anchor="end" stroke="#000" stroke-width="0.22">10</text>
<text transform="translate(417.2 189.09) scale(1.0 1)" font-size="2.2" font-weight="bold" font-family="Liberation Sans" stroke="#000" stroke-width="0.22">3</text>
<path d="M420.5 277.46h2.2M420.5 275.63h2.2M420.5 274.05h2.2M420.5 272.65h2.2M420.5 263.18h2.2M420.5 258.37h2.2M420.5 254.96h2.2M420.5 252.32h2.2M420.5 250.16h2.2M420.5 248.33h2.2M420.5 246.75h2.2M420.5 245.35h2.2M420.5 235.88h2.2M420.5 231.07h2.2M420.5 227.66h2.2M420.5 225.02h2.2M420.5 222.86h2.2M420.5 221.03h2.2M420.5 219.45h2.2M420.5 218.05h2.2M420.5 208.58h2.2M420.5 203.77h2.2M420.5 200.36h2.2M420.5 197.72h2.2M420.5 195.56h2.2M420.5 193.73h2.2M420.5 192.15h2.2M420.5 190.75h2.2M420.5 181.28h2.2M420.5 271.4h4.2M420.5 244.1h4.2M420.5 216.8h4.2M420.5 189.5h4.2" stroke="#000" stroke-width="0.8" fill="none"/>
<path d="M451.3 279.5V271.3H453.9V220.4H456.7V195.8H458.4V187.3H460.6V185.5H462.7V192.5H465V220.4H467.8V271.3H469.6V279" stroke="#000" stroke-width="1" fill="none" stroke-linejoin="miter"/>
<path d="M458.2 279.5V240.2H460.2V217.5H462.3V205.2H464.4V193.3H466.9V181.8H469.5V188.2H471.2V198.8H472V214.1H473.7V271.3H476V279" stroke="#ff0000" stroke-width="1" fill="none" stroke-linejoin="miter"/>
<path d="M458.2 279.5V252H460.2V226.4H462.3V211.5H464.8V200.9H466.9V186.1H468.6V183.1H472V198H474.1V234.2H476.5V279" stroke="#0000ff" stroke-width="1" fill="none" stroke-linejoin="miter"/>
<path d="M447.5 279.5V246.6H449.5V202.2H451.6V186.5H454.2V184.4H456.7V191.2H458V215.4H460.3V262.6H463.2V279" stroke="#00ff00" stroke-width="1" fill="none" stroke-linejoin="miter"/>
<path d="M420.5 279.5L556.5 279.5" stroke="#00ff00" stroke-width="1"/>
<text transform="translate(249 421.8) scale(1.12 1)" font-size="3.9" font-weight="bold" font-family="Liberation Sans" text-anchor="middle" stroke="#000" stroke-width="0.22">-1000</text>
<text transform="translate(279.3 421.8) scale(1.12 1)" font-size="3.9" font-weight="bold" font-family="Liberation Sans" text-anchor="middle" stroke="#000" stroke-width="0.22">-500</text>
<text transform="translate(309.6 421.8) scale(1.12 1)" font-size="3.9" font-weight="bold" font-family="Liberation Sans" text-anchor="middle" stroke="#000" stroke-width="0.22">0</text>
<text transform="translate(339.9 421.8) scale(1.12 1)" font-size="3.9" font-weight="bold" font-family="Liberation Sans" text-anchor="middle" stroke="#000" stroke-width="0.22">500</text>
<text transform="translate(370.2 421.8) scale(1.12 1)" font-size="3.9" font-weight="bold" font-family="Liberation Sans" text-anchor="middle" stroke="#000" stroke-width="0.22">1000</text>
<path d="M236.88 417.5v-1.6M242.94 417.5v-1.6M249 417.5v-1.6M255.06 417.5v-1.6M261.12 417.5v-1.6M267.18 417.5v-1.6M273.24 417.5v-1.6M279.3 417.5v-1.6M285.36 417.5v-1.6M291.42 417.5v-1.6M297.48 417.5v-1.6M303.54 417.5v-1.6M309.6 417.5v-1.6M315.66 417.5v-1.6M321.72 417.5v-1.6M327.78 417.5v-1.6M333.84 417.5v-1.6M339.9 417.5v-1.6M345.96 417.5v-1.6M352.02 417.5v-1.6M358.08 417.5v-1.6M364.14 417.5v-1.6M370.2 417.5v-1.6M249 417.5v-3M279.3 417.5v-3M309.6 417.5v-3M339.9 417.5v-3M370.2 417.5v-3" stroke="#000" stroke-width="0.8" fill="none"/>
<text transform="translate(235.5 409.9) scale(1.12 1)" font-size="3.9" font-weight="bold" font-family="Liberation Sans" text-anchor="end" stroke="#000" stroke-width="0.22">1</text>
<text transform="translate(235.5 378.9) scale(1.12 1)" font-size="3.9" font-weight="bold" font-family="Liberation Sans" text-anchor="end" stroke="#000" stroke-width="0.22">10</text>
<text transform="translate(233.2 347.9) scale(1.12 1)" font-size="3.9" font-weight="bold" font-family="Liberation Sans" text-anchor="end" stroke="#000" stroke-width="0.22">10</text>
<text transform="translate(233.2 345.79) scale(1.0 1)" font-size="2.2" font-weight="bold" font-family="Liberation Sans" stroke="#000" stroke-width="0.22">2</text>
<path d="M236.5 415.08h2.2M236.5 413h2.2M236.5 411.2h2.2M236.5 409.62h2.2M236.5 398.87h2.2M236.5 393.41h2.2M236.5 389.54h2.2M236.5 386.53h2.2M236.5 384.08h2.2M236.5 382h2.2M236.5 380.2h2.2M236.5 378.62h2.2M236.5 367.87h2.2M236.5 362.41h2.2M236.5 358.54h2.2M236.5 355.53h2.2M236.5 353.08h2.2M236.5 351h2.2M236.5 349.2h2.2M236.5 347.62h2.2M236.5 336.87h2.2M236.5 331.41h2.2M236.5 327.54h2.2M236.5 324.53h2.2M236.5 322.08h2.2M236.5 320h2.2M236.5 318.2h2.2M236.5 316.62h2.2M236.5 408.2h4.2M236.5 377.2h4.2M236.5 346.2h4.2" stroke="#000" stroke-width="0.8" fill="none"/>
<path d="M256.6 417.5V324H257V358H257.9V408H258.4V417.5" stroke="#000" stroke-width="0.85" fill="none" stroke-linejoin="miter"/>
<path d="M291.8 417.5V325.2H292.2V358H293.1V408H293.6V417.5" stroke="#000" stroke-width="0.85" fill="none" stroke-linejoin="miter"/>
<path d="M305.1 417.5V324.2H305.5V358H306.4V408H306.9V417.5" stroke="#000" stroke-width="0.85" fill="none" stroke-linejoin="miter"/>
<path d="M318.6 417.5V326.5H319V358H319.9V408H320.4V417.5" stroke="#000" stroke-width="0.85" fill="none" stroke-linejoin="miter"/>
<path d="M331.8 417.5V328H332.2V358H333.1V408H333.6V417.5" stroke="#000" stroke-width="0.85" fill="none" stroke-linejoin="miter"/>
<path d="M343.8 417.5V333.2H344.2V358H345.1V408H345.6V417.5" stroke="#000" stroke-width="0.85" fill="none" stroke-linejoin="miter"/>
<path d="M355.2 417.5V337.1H355.6V358H356.5V408H357V417.5" stroke="#000" stroke-width="0.85" fill="none" stroke-linejoin="miter"/>
<text transform="translate(420.5 421.8) scale(1.12 1)" font-size="3.9" font-weight="bold" font-family="Liberation Sans" text-anchor="middle" stroke="#000" stroke-width="0.22">0</text>
<text transform="translate(445.04 421.8) scale(1.12 1)" font-size="3.9" font-weight="bold" font-family="Liberation Sans" text-anchor="middle" stroke="#000" stroke-width="0.22">1</text>
<text transform="translate(469.58 421.8) scale(1.12 1)" font-size="3.9" font-weight="bold" font-family="Liberation Sans" text-anchor="middle" stroke="#000" stroke-width="0.22">2</text>
<text transform="translate(494.12 421.8) scale(1.12 1)" font-size="3.9" font-weight="bold" font-family="Liberation Sans" text-anchor="middle" stroke="#000" stroke-width="0.22">3</text>
<text transform="translate(518.66 421.8) scale(1.12 1)" font-size="3.9" font-weight="bold" font-family="Liberation Sans" text-anchor="middle" stroke="#000" stroke-width="0.22">4</text>
<text transform="translate(543.2 421.8) scale(1.12 1)" font-size="3.9" font-weight="bold" font-family="Liberation Sans" text-anchor="middle" stroke="#000" stroke-width="0.22">5</text>
<path d="M420.5 417.5v-1.6M425.41 417.5v-1.6M430.32 417.5v-1.6M435.22 417.5v-1.6M440.13 417.5v-1.6M445.04 417.5v-1.6M449.95 417.5v-1.6M454.86 417.5v-1.6M459.76 417.5v-1.6M464.67 417.5v-1.6M469.58 417.5v-1.6M474.49 417.5v-1.6M479.4 417.5v-1.6M484.3 417.5v-1.6M489.21 417.5v-1.6M494.12 417.5v-1.6M499.03 417.5v-1.6M503.94 417.5v-1.6M508.84 417.5v-1.6M513.75 417.5v-1.6M518.66 417.5v-1.6M523.57 417.5v-1.6M528.48 417.5v-1.6M533.38 417.5v-1.6M538.29 417.5v-1.6M543.2 417.5v-1.6M548.11 417.5v-1.6M553.02 417.5v-1.6M420.5 417.5v-3M445.04 417.5v-3M469.58 417.5v-3M494.12 417.5v-3M518.66 417.5v-3M543.2 417.5v-3" stroke="#000" stroke-width="0.8" fill="none"/>
<text transform="translate(419.5 418.9) scale(1.12 1)" font-size="3.9" font-weight="bold" font-family="Liberation Sans" text-anchor="end" stroke="#000" stroke-width="0.22">0</text>
<text transform="translate(419.5 403.17) scale(1.12 1)" font-size="3.9" font-weight="bold" font-family="Liberation Sans" text-anchor="end" stroke="#000" stroke-width="0.22">100</text>
<text transform="translate(419.5 387.44) scale(1.12 1)" font-size="3.9" font-weight="bold" font-family="Liberation Sans" text-anchor="end" stroke="#000" stroke-width="0.22">200</text>
<text transform="translate(419.5 371.71) scale(1.12 1)" font-size="3.9" font-weight="bold" font-family="Liberation Sans" text-anchor="end" stroke="#000" stroke-width="0.22">300</text>
<text transform="translate(419.5 355.98) scale(1.12 1)" font-size="3.9" font-weight="bold" font-family="Liberation Sans" text-anchor="end" stroke="#000" stroke-width="0.22">400</text>
<text transform="translate(419.5 340.25) scale(1.12 1)" font-size="3.9" font-weight="bold" font-family="Liberation Sans" text-anchor="end" stroke="#000" stroke-width="0.22">500</text>
<text transform="translate(419.5 324.52) scale(1.12 1)" font-size="3.9" font-weight="bold" font-family="Liberation Sans" text-anchor="end" stroke="#000" stroke-width="0.22">600</text>
<path d="M420.5 417.5h2.2M420.5 414.35h2.2M420.5 411.21h2.2M420.5 408.06h2.2M420.5 404.92h2.2M420.5 401.77h2.2M420.5 398.62h2.2M420.5 395.48h2.2M420.5 392.33h2.2M420.5 389.19h2.2M420.5 386.04h2.2M420.5 382.89h2.2M420.5 379.75h2.2M420.5 376.6h2.2M420.5 373.46h2.2M420.5 370.31h2.2M420.5 367.16h2.2M420.5 364.02h2.2M420.5 360.87h2.2M420.5 357.73h2.2M420.5 354.58h2.2M420.5 351.43h2.2M420.5 348.29h2.2M420.5 345.14h2.2M420.5 342h2.2M420.5 338.85h2.2M420.5 335.7h2.2M420.5 332.56h2.2M420.5 329.41h2.2M420.5 326.27h2.2M420.5 323.12h2.2M420.5 319.97h2.2M420.5 316.83h2.2M420.5 417.5h4.2M420.5 401.77h4.2M420.5 386.04h4.2M420.5 370.31h4.2M420.5 354.58h4.2M420.5 338.85h4.2M420.5 323.12h4.2" stroke="#000" stroke-width="0.8" fill="none"/>
<path d="M473.1 417.5V414.6H476.5V411.2H477.7V404.4H479.1V387.4H480.2V363.6H481.1V344.9H481.9V333H482.5V321.1H483.6V329.6H484.2V345.8H485V370.4H485.5V390.8H486.4V409.5H487.6V417" stroke="#000" stroke-width="1" fill="none" stroke-linejoin="miter"/>
<text x="427.73" y="326" font-size="8" textLength="22.47" lengthAdjust="spacingAndGlyphs" stroke="#000" stroke-width="0.18">µ: 2.50</text>
<text x="427.7" y="335.7" font-size="8" textLength="24.5" lengthAdjust="spacingAndGlyphs" stroke="#000" stroke-width="0.18">σ: 0.09</text>
<text transform="translate(604.5 421.8) scale(1.12 1)" font-size="3.9" font-weight="bold" font-family="Liberation Sans" text-anchor="middle" stroke="#000" stroke-width="0.22">-1400</text>
<text transform="translate(618.1 421.8) scale(1.12 1)" font-size="3.9" font-weight="bold" font-family="Liberation Sans" text-anchor="middle" stroke="#000" stroke-width="0.22">-1200</text>
<text transform="translate(631.7 421.8) scale(1.12 1)" font-size="3.9" font-weight="bold" font-family="Liberation Sans" text-anchor="middle" stroke="#000" stroke-width="0.22">-1000</text>
<text transform="translate(645.3 421.8) scale(1.12 1)" font-size="3.9" font-weight="bold" font-family="Liberation Sans" text-anchor="middle" stroke="#000" stroke-width="0.22">-800</text>
<text transform="translate(658.9 421.8) scale(1.12 1)" font-size="3.9" font-weight="bold" font-family="Liberation Sans" text-anchor="middle" stroke="#000" stroke-width="0.22">-600</text>
<text transform="translate(672.5 421.8) scale(1.12 1)" font-size="3.9" font-weight="bold" font-family="Liberation Sans" text-anchor="middle" stroke="#000" stroke-width="0.22">-400</text>
<text transform="translate(686.1 421.8) scale(1.12 1)" font-size="3.9" font-weight="bold" font-family="Liberation Sans" text-anchor="middle" stroke="#000" stroke-width="0.22">-200</text>
<text transform="translate(699.7 421.8) scale(1.12 1)" font-size="3.9" font-weight="bold" font-family="Liberation Sans" text-anchor="middle" stroke="#000" stroke-width="0.22">0</text>
<text transform="translate(713.3 421.8) scale(1.12 1)" font-size="3.9" font-weight="bold" font-family="Liberation Sans" text-anchor="middle" stroke="#000" stroke-width="0.22">200</text>
<text transform="translate(726.9 421.8) scale(1.12 1)" font-size="3.9" font-weight="bold" font-family="Liberation Sans" text-anchor="middle" stroke="#000" stroke-width="0.22">400</text>
<text transform="translate(740.5 421.8) scale(1.12 1)" font-size="3.9" font-weight="bold" font-family="Liberation Sans" text-anchor="middle" stroke="#000" stroke-width="0.22">600</text>
<path d="M604.5 417.5v-1.6M607.22 417.5v-1.6M609.94 417.5v-1.6M612.66 417.5v-1.6M615.38 417.5v-1.6M618.1 417.5v-1.6M620.82 417.5v-1.6M623.54 417.5v-1.6M626.26 417.5v-1.6M628.98 417.5v-1.6M631.7 417.5v-1.6M634.42 417.5v-1.6M637.14 417.5v-1.6M639.86 417.5v-1.6M642.58 417.5v-1.6M645.3 417.5v-1.6M648.02 417.5v-1.6M650.74 417.5v-1.6M653.46 417.5v-1.6M656.18 417.5v-1.6M658.9 417.5v-1.6M661.62 417.5v-1.6M664.34 417.5v-1.6M667.06 417.5v-1.6M669.78 417.5v-1.6M672.5 417.5v-1.6M675.22 417.5v-1.6M677.94 417.5v-1.6M680.66 417.5v-1.6M683.38 417.5v-1.6M686.1 417.5v-1.6M688.82 417.5v-1.6M691.54 417.5v-1.6M694.26 417.5v-1.6M696.98 417.5v-1.6M699.7 417.5v-1.6M702.42 417.5v-1.6M705.14 417.5v-1.6M707.86 417.5v-1.6M710.58 417.5v-1.6M713.3 417.5v-1.6M716.02 417.5v-1.6M718.74 417.5v-1.6M721.46 417.5v-1.6M724.18 417.5v-1.6M726.9 417.5v-1.6M729.62 417.5v-1.6M732.34 417.5v-1.6M735.06 417.5v-1.6M737.78 417.5v-1.6M740.5 417.5v-1.6M604.5 417.5v-3M618.1 417.5v-3M631.7 417.5v-3M645.3 417.5v-3M658.9 417.5v-3M672.5 417.5v-3M686.1 417.5v-3M699.7 417.5v-3M713.3 417.5v-3M726.9 417.5v-3M740.5 417.5v-3" stroke="#000" stroke-width="0.8" fill="none"/>
<text transform="translate(603.5 418.9) scale(1.12 1)" font-size="3.9" font-weight="bold" font-family="Liberation Sans" text-anchor="end" stroke="#000" stroke-width="0.22">0</text>
<text transform="translate(603.5 407.8) scale(1.12 1)" font-size="3.9" font-weight="bold" font-family="Liberation Sans" text-anchor="end" stroke="#000" stroke-width="0.22">20</text>
<text transform="translate(603.5 396.7) scale(1.12 1)" font-size="3.9" font-weight="bold" font-family="Liberation Sans" text-anchor="end" stroke="#000" stroke-width="0.22">40</text>
<text transform="translate(603.5 385.6) scale(1.12 1)" font-size="3.9" font-weight="bold" font-family="Liberation Sans" text-anchor="end" stroke="#000" stroke-width="0.22">60</text>
<text transform="translate(603.5 374.5) scale(1.12 1)" font-size="3.9" font-weight="bold" font-family="Liberation Sans" text-anchor="end" stroke="#000" stroke-width="0.22">80</text>
<text transform="translate(603.5 363.4) scale(1.12 1)" font-size="3.9" font-weight="bold" font-family="Liberation Sans" text-anchor="end" stroke="#000" stroke-width="0.22">100</text>
<text transform="translate(603.5 352.3) scale(1.12 1)" font-size="3.9" font-weight="bold" font-family="Liberation Sans" text-anchor="end" stroke="#000" stroke-width="0.22">120</text>
<text transform="translate(603.5 341.2) scale(1.12 1)" font-size="3.9" font-weight="bold" font-family="Liberation Sans" text-anchor="end" stroke="#000" stroke-width="0.22">140</text>
<text transform="translate(603.5 330.1) scale(1.12 1)" font-size="3.9" font-weight="bold" font-family="Liberation Sans" text-anchor="end" stroke="#000" stroke-width="0.22">160</text>
<text transform="translate(603.5 319) scale(1.12 1)" font-size="3.9" font-weight="bold" font-family="Liberation Sans" text-anchor="end" stroke="#000" stroke-width="0.22">180</text>
<path d="M604.5 417.5h2.2M604.5 415.28h2.2M604.5 413.06h2.2M604.5 410.84h2.2M604.5 408.62h2.2M604.5 406.4h2.2M604.5 404.18h2.2M604.5 401.96h2.2M604.5 399.74h2.2M604.5 397.52h2.2M604.5 395.3h2.2M604.5 393.08h2.2M604.5 390.86h2.2M604.5 388.64h2.2M604.5 386.42h2.2M604.5 384.2h2.2M604.5 381.98h2.2M604.5 379.76h2.2M604.5 377.54h2.2M604.5 375.32h2.2M604.5 373.1h2.2M604.5 370.88h2.2M604.5 368.66h2.2M604.5 366.44h2.2M604.5 364.22h2.2M604.5 362h2.2M604.5 359.78h2.2M604.5 357.56h2.2M604.5 355.34h2.2M604.5 353.12h2.2M604.5 350.9h2.2M604.5 348.68h2.2M604.5 346.46h2.2M604.5 344.24h2.2M604.5 342.02h2.2M604.5 339.8h2.2M604.5 337.58h2.2M604.5 335.36h2.2M604.5 333.14h2.2M604.5 330.92h2.2M604.5 328.7h2.2M604.5 326.48h2.2M604.5 324.26h2.2M604.5 322.04h2.2M604.5 319.82h2.2M604.5 317.6h2.2M604.5 417.5h4.2M604.5 406.4h4.2M604.5 395.3h4.2M604.5 384.2h4.2M604.5 373.1h4.2M604.5 362h4.2M604.5 350.9h4.2M604.5 339.8h4.2M604.5 328.7h4.2M604.5 317.6h4.2" stroke="#000" stroke-width="0.8" fill="none"/>
<path d="M632.3 417L635.7 390.8L638.2 384.9L640.8 341.5L642.5 321.1L643.3 333L644.2 363.6L644.5 365.3L647.6 401L649.3 417" stroke="#000" stroke-width="1" fill="none"/>
<text x="696.26" y="326" font-size="8" textLength="29.12" lengthAdjust="spacingAndGlyphs" stroke="#000" stroke-width="0.18">µ:-861.0</text>
<text x="696.47" y="335.7" font-size="8" textLength="24.73" lengthAdjust="spacingAndGlyphs" stroke="#000" stroke-width="0.18">σ: 45.5</text>
<text transform="translate(236 559.9) scale(1.12 1)" font-size="3.9" font-weight="bold" font-family="Liberation Sans" text-anchor="middle" stroke="#000" stroke-width="0.22">0</text>
<text transform="translate(253.6 559.9) scale(1.12 1)" font-size="3.9" font-weight="bold" font-family="Liberation Sans" text-anchor="middle" stroke="#000" stroke-width="0.22">1</text>
<text transform="translate(271.2 559.9) scale(1.12 1)" font-size="3.9" font-weight="bold" font-family="Liberation Sans" text-anchor="middle" stroke="#000" stroke-width="0.22">2</text>
<text transform="translate(288.8 559.9) scale(1.12 1)" font-size="3.9" font-weight="bold" font-family="Liberation Sans" text-anchor="middle" stroke="#000" stroke-width="0.22">3</text>
<text transform="translate(306.4 559.9) scale(1.12 1)" font-size="3.9" font-weight="bold" font-family="Liberation Sans" text-anchor="middle" stroke="#000" stroke-width="0.22">4</text>
<text transform="translate(324 559.9) scale(1.12 1)" font-size="3.9" font-weight="bold" font-family="Liberation Sans" text-anchor="middle" stroke="#000" stroke-width="0.22">5</text>
<text transform="translate(341.6 559.9) scale(1.12 1)" font-size="3.9" font-weight="bold" font-family="Liberation Sans" text-anchor="middle" stroke="#000" stroke-width="0.22">6</text>
<text transform="translate(359.2 559.9) scale(1.12 1)" font-size="3.9" font-weight="bold" font-family="Liberation Sans" text-anchor="middle" stroke="#000" stroke-width="0.22">7</text>
<path d="M239.52 555.6v-1.6M243.04 555.6v-1.6M246.56 555.6v-1.6M250.08 555.6v-1.6M253.6 555.6v-1.6M257.12 555.6v-1.6M260.64 555.6v-1.6M264.16 555.6v-1.6M267.68 555.6v-1.6M271.2 555.6v-1.6M274.72 555.6v-1.6M278.24 555.6v-1.6M281.76 555.6v-1.6M285.28 555.6v-1.6M288.8 555.6v-1.6M292.32 555.6v-1.6M295.84 555.6v-1.6M299.36 555.6v-1.6M302.88 555.6v-1.6M306.4 555.6v-1.6M309.92 555.6v-1.6M313.44 555.6v-1.6M316.96 555.6v-1.6M320.48 555.6v-1.6M324 555.6v-1.6M327.52 555.6v-1.6M331.04 555.6v-1.6M334.56 555.6v-1.6M338.08 555.6v-1.6M341.6 555.6v-1.6M345.12 555.6v-1.6M348.64 555.6v-1.6M352.16 555.6v-1.6M355.68 555.6v-1.6M359.2 555.6v-1.6M362.72 555.6v-1.6M366.24 555.6v-1.6M369.76 555.6v-1.6M253.6 555.6v-3M271.2 555.6v-3M288.8 555.6v-3M306.4 555.6v-3M324 555.6v-3M341.6 555.6v-3M359.2 555.6v-3" stroke="#000" stroke-width="0.8" fill="none"/>
<text transform="translate(235.5 555.65) scale(1.12 1)" font-size="3.9" font-weight="bold" font-family="Liberation Sans" text-anchor="end" stroke="#000" stroke-width="0.22">-200</text>
<text transform="translate(235.5 540.8) scale(1.12 1)" font-size="3.9" font-weight="bold" font-family="Liberation Sans" text-anchor="end" stroke="#000" stroke-width="0.22">0</text>
<text transform="translate(235.5 525.95) scale(1.12 1)" font-size="3.9" font-weight="bold" font-family="Liberation Sans" text-anchor="end" stroke="#000" stroke-width="0.22">200</text>
<text transform="translate(235.5 511.1) scale(1.12 1)" font-size="3.9" font-weight="bold" font-family="Liberation Sans" text-anchor="end" stroke="#000" stroke-width="0.22">400</text>
<text transform="translate(235.5 496.25) scale(1.12 1)" font-size="3.9" font-weight="bold" font-family="Liberation Sans" text-anchor="end" stroke="#000" stroke-width="0.22">600</text>
<text transform="translate(235.5 481.4) scale(1.12 1)" font-size="3.9" font-weight="bold" font-family="Liberation Sans" text-anchor="end" stroke="#000" stroke-width="0.22">800</text>
<text transform="translate(235.5 466.55) scale(1.12 1)" font-size="3.9" font-weight="bold" font-family="Liberation Sans" text-anchor="end" stroke="#000" stroke-width="0.22">1000</text>
<path d="M236.5 554.25h2.2M236.5 550.54h2.2M236.5 546.83h2.2M236.5 543.11h2.2M236.5 539.4h2.2M236.5 535.69h2.2M236.5 531.97h2.2M236.5 528.26h2.2M236.5 524.55h2.2M236.5 520.84h2.2M236.5 517.12h2.2M236.5 513.41h2.2M236.5 509.7h2.2M236.5 505.99h2.2M236.5 502.27h2.2M236.5 498.56h2.2M236.5 494.85h2.2M236.5 491.14h2.2M236.5 487.42h2.2M236.5 483.71h2.2M236.5 480h2.2M236.5 476.29h2.2M236.5 472.57h2.2M236.5 468.86h2.2M236.5 465.15h2.2M236.5 461.44h2.2M236.5 457.72h2.2M236.5 454.01h2.2M236.5 554.25h4.2M236.5 539.4h4.2M236.5 524.55h4.2M236.5 509.7h4.2M236.5 494.85h4.2M236.5 480h4.2M236.5 465.15h4.2" stroke="#000" stroke-width="0.8" fill="none"/>
<path d="M233.2 462.1h6M236.2 459.5v5.2M233 458.9l6.4 6.4M233 465.3l6.4 -6.4" stroke="#000" stroke-width="0.85"/>
<path d="M251.4 480.3h6M254.4 477.7v5.2M251.2 477.1l6.4 6.4M251.2 483.5l6.4 -6.4" stroke="#000" stroke-width="0.85"/>
<path d="M269.1 504.2h6M272.1 501.6v5.2M268.9 501l6.4 6.4M268.9 507.4l6.4 -6.4" stroke="#000" stroke-width="0.85"/>
<path d="M286.6 533.7h6M289.6 531.1v5.2M286.4 530.5l6.4 6.4M286.4 536.9l6.4 -6.4" stroke="#000" stroke-width="0.85"/>
<path d="M304.1 547.4h6M307.1 544.8v5.2M303.9 544.2l6.4 6.4M303.9 550.6l6.4 -6.4" stroke="#000" stroke-width="0.85"/>
<path d="M321.4 546.7h6M324.4 544.1v5.2M321.2 543.5l6.4 6.4M321.2 549.9l6.4 -6.4" stroke="#000" stroke-width="0.85"/>
<path d="M339.3 546.7h6M342.3 544.1v5.2M339.1 543.5l6.4 6.4M339.1 549.9l6.4 -6.4" stroke="#000" stroke-width="0.85"/>
<path d="M356.8 546.7h6M359.8 544.1v5.2M356.6 543.5l6.4 6.4M356.6 549.9l6.4 -6.4" stroke="#000" stroke-width="0.85"/>
<text x="603.6" y="174.3" font-size="9.6" textLength="42.36" lengthAdjust="spacingAndGlyphs" stroke="#000" stroke-width="0.18">Summary</text>
<text x="705.41" y="174.3" font-size="10" font-weight="bold" textLength="5.79" lengthAdjust="spacingAndGlyphs">0</text>
<text x="603.76" y="185.7" font-size="9.6" textLength="50.96" lengthAdjust="spacingAndGlyphs" stroke="#000" stroke-width="0.18">Dead Pixels:</text>
<text x="713.51" y="185.7" font-size="10" textLength="5.7" lengthAdjust="spacingAndGlyphs" stroke="#000" stroke-width="0.18">0</text>
<text x="603.77" y="196.6" font-size="9.6" textLength="54.14" lengthAdjust="spacingAndGlyphs" stroke="#000" stroke-width="0.18">Noisy Pixels:</text>
<text x="713.51" y="196.6" font-size="10" textLength="5.7" lengthAdjust="spacingAndGlyphs" stroke="#000" stroke-width="0.18">0</text>
<text x="603.77" y="208.4" font-size="9.6" textLength="55.65" lengthAdjust="spacingAndGlyphs" stroke="#000" stroke-width="0.18">Mask defects:</text>
<text x="713.51" y="208.4" font-size="10" textLength="5.7" lengthAdjust="spacingAndGlyphs" stroke="#000" stroke-width="0.18">0</text>
<text x="603.76" y="219.5" font-size="9.6" textLength="55.34" lengthAdjust="spacingAndGlyphs" stroke="#000" stroke-width="0.18">Dead Bumps:</text>
<text x="713.51" y="219.5" font-size="10" textLength="5.7" lengthAdjust="spacingAndGlyphs" stroke="#000" stroke-width="0.18">0</text>
<text x="603.77" y="231.5" font-size="9.6" textLength="61.12" lengthAdjust="spacingAndGlyphs" stroke="#000" stroke-width="0.18">Dead Trimbits:</text>
<text x="713.51" y="231.5" font-size="10" textLength="5.7" lengthAdjust="spacingAndGlyphs" stroke="#000" stroke-width="0.18">0</text>
<text x="603.97" y="242.6" font-size="9.6" textLength="59.95" lengthAdjust="spacingAndGlyphs" stroke="#000" stroke-width="0.18">Address Probl:</text>
<text x="713.51" y="242.6" font-size="10" textLength="5.7" lengthAdjust="spacingAndGlyphs" stroke="#000" stroke-width="0.18">0</text>
<text x="603.7" y="466.1" font-size="9.6" font-weight="bold" textLength="68.5" lengthAdjust="spacingAndGlyphs">Op. Parameters</text>
<text x="604.26" y="480.2" font-size="7.6" textLength="26.68" lengthAdjust="spacingAndGlyphs" stroke="#000" stroke-width="0.18">VANA:</text>
<text x="688.94" y="480.2" font-size="7.6" textLength="32.26" lengthAdjust="spacingAndGlyphs" stroke="#000" stroke-width="0.18">163 DAC</text>
<text x="604.08" y="488.9" font-size="7.6" textLength="35.27" lengthAdjust="spacingAndGlyphs" stroke="#000" stroke-width="0.18">CALDEL:</text>
<text x="690.86" y="488.9" font-size="7.6" textLength="27.96" lengthAdjust="spacingAndGlyphs" stroke="#000" stroke-width="0.18">89 DAC</text>
<text x="604.24" y="498.9" font-size="7.6" textLength="24.61" lengthAdjust="spacingAndGlyphs" stroke="#000" stroke-width="0.18">VTHR:</text>
<text x="690.58" y="498.9" font-size="7.6" textLength="28.35" lengthAdjust="spacingAndGlyphs" stroke="#000" stroke-width="0.18">90 DAC</text>
<text x="604.25" y="509.6" font-size="7.6" textLength="28.6" lengthAdjust="spacingAndGlyphs" stroke="#000" stroke-width="0.18">VTRIM:</text>
<text x="688.93" y="509.6" font-size="7.6" textLength="32.26" lengthAdjust="spacingAndGlyphs" stroke="#000" stroke-width="0.18">117 DAC</text>
<text x="604.07" y="519.7" font-size="7.6" textLength="45.29" lengthAdjust="spacingAndGlyphs" stroke="#000" stroke-width="0.18">IBIAS_DAC:</text>
<text x="688.93" y="519.7" font-size="7.6" textLength="32.26" lengthAdjust="spacingAndGlyphs" stroke="#000" stroke-width="0.18">112 DAC</text>
<text x="604.24" y="529.7" font-size="7.6" textLength="49.1" lengthAdjust="spacingAndGlyphs" stroke="#000" stroke-width="0.18">VOFFSETOP:</text>
<text x="691.07" y="529.7" font-size="7.6" textLength="27.79" lengthAdjust="spacingAndGlyphs" stroke="#000" stroke-width="0.18">47 DAC</text>
</svg>
</body></html>
